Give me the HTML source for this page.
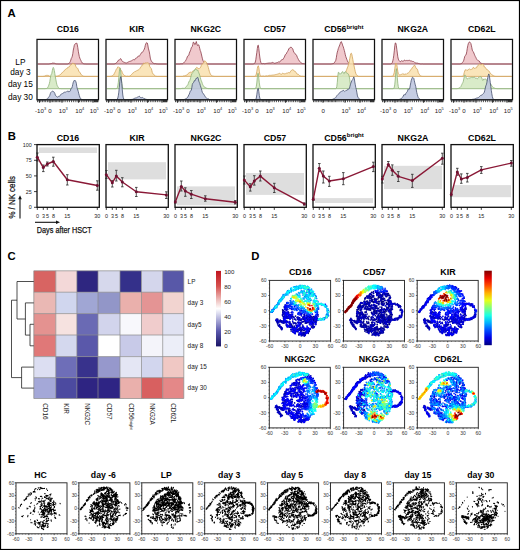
<!DOCTYPE html>
<html><head><meta charset="utf-8"><style>
html,body{margin:0;padding:0;background:#fff;}
svg{display:block;}
text{font-family:"Liberation Sans", sans-serif;}
</style></head><body>
<svg width="520" height="550" viewBox="0 0 520 550">
<rect x="0" y="0" width="520" height="550" fill="#fff"/>
<text x="7.6" y="17.4" font-size="11.3" font-weight="bold" text-anchor="start" >A</text>
<text x="7.8" y="140" font-size="11.3" font-weight="bold" text-anchor="start" >B</text>
<text x="7.6" y="259.6" font-size="11.3" font-weight="bold" text-anchor="start" >C</text>
<text x="251.3" y="260" font-size="11.3" font-weight="bold" text-anchor="start" >D</text>
<text x="7.8" y="462.6" font-size="11.3" font-weight="bold" text-anchor="start" >E</text>
<text x="20.4" y="64.5" font-size="8.3" font-weight="normal" text-anchor="middle" >LP</text>
<text x="20.4" y="74.8" font-size="8.3" font-weight="normal" text-anchor="middle" >day 3</text>
<text x="20.4" y="87.4" font-size="8.3" font-weight="normal" text-anchor="middle" >day 15</text>
<text x="20.4" y="99.7" font-size="8.3" font-weight="normal" text-anchor="middle" >day 30</text>
<text x="67.8" y="31.8" font-size="8.7" font-weight="bold" text-anchor="middle" >CD16</text>
<polygon points="37.8,64 37.8,64 38.3,64 38.8,64 39.3,64 39.8,64 40.3,64 40.8,64 41.3,64 41.8,64 42.3,64 42.8,64 43.3,64 43.8,64 44.3,64 44.8,64 45.3,64 45.8,64 46.3,64 46.8,64 47.3,64 47.8,64 48.3,64 48.8,64 49.3,63.9 49.8,63.8 50.3,63.7 50.8,63.7 51.3,63.6 51.8,63.4 52.3,63.2 52.8,63.1 53.3,63.2 53.8,63.1 54.3,63.2 54.8,63.4 55.3,63.6 55.8,63.8 56.3,63.9 56.8,63.9 57.3,63.9 57.8,64 58.3,64 58.8,64 59.3,64 59.8,64 60.3,64 60.8,64 61.3,64 61.8,64 62.3,64 62.8,64 63.3,64 63.8,64 64.3,64 64.8,64 65.3,64 65.8,64 66.3,64 66.8,64 67.3,64 67.8,63.9 68.3,63.7 68.8,63.4 69.3,62.9 69.8,62.6 70.3,61.5 70.8,60.1 71.3,58.4 71.8,57.6 72.3,56.2 72.8,53.7 73.3,50 73.8,47.8 74.3,45.3 74.8,44.3 75.3,43.7 75.8,43.6 76.3,43.1 76.8,43.1 77.3,44.9 77.8,47.7 78.3,51.2 78.8,54 79.3,56.5 79.8,58.1 80.3,59.3 80.8,60.2 81.3,61.5 81.8,62.3 82.3,63 82.8,63.2 83.3,63.6 83.8,63.8 84.3,63.9 84.8,63.9 85.3,63.9 85.8,64 86.3,64 86.8,64 87.3,64 87.8,64 88.3,64 88.8,64 89.3,64 89.8,64 90.3,64 90.8,64 91.3,64 91.8,64 92.3,64 92.8,64 93.3,64 93.8,64 94.3,64 94.8,64 95.3,64 95.8,64 96.3,64 96.8,64 97.3,64 97.8,64 97.8,64" fill="#edc0c4" fill-opacity="0.85" stroke="#8a3a48" stroke-width="0.8" stroke-linejoin="round"/>
<polygon points="37.8,76.4 37.8,76.4 38.3,76.4 38.8,76.4 39.3,76.4 39.8,76.4 40.3,76.4 40.8,76.4 41.3,76.4 41.8,76.4 42.3,76.4 42.8,76.4 43.3,76.3 43.8,76.3 44.3,76.2 44.8,76 45.3,75.7 45.8,75.5 46.3,75.4 46.8,75.4 47.3,75.4 47.8,75.4 48.3,75.5 48.8,75.6 49.3,76 49.8,76.4 50.3,76.4 50.8,76.4 51.3,76.4 51.8,76.4 52.3,76.3 52.8,76.3 53.3,76.4 53.8,76.3 54.3,76.2 54.8,76.2 55.3,76.2 55.8,76.3 56.3,76.3 56.8,76.1 57.3,76 57.8,76 58.3,75.8 58.8,75.6 59.3,75.3 59.8,75 60.3,74.5 60.8,74.2 61.3,73.8 61.8,73.1 62.3,72.4 62.8,72.2 63.3,71.8 63.8,71.3 64.3,70.4 64.8,70.2 65.3,69.5 65.8,69.1 66.3,68.7 66.8,68.8 67.3,68.3 67.8,67.3 68.3,67.1 68.8,67.2 69.3,66.9 69.8,66.1 70.3,65.2 70.8,64.5 71.3,64.4 71.8,64.3 72.3,63.7 72.8,62.9 73.3,63.5 73.8,64 74.3,63.9 74.8,63.9 75.3,64.8 75.8,66.3 76.3,67.4 76.8,68 77.3,68 77.8,68.6 78.3,69.8 78.8,71.3 79.3,71.9 79.8,72.2 80.3,73 80.8,74.1 81.3,74.7 81.8,75.1 82.3,75.5 82.8,75.8 83.3,76.1 83.8,76.3 84.3,76.3 84.8,76.4 85.3,76.4 85.8,76.4 86.3,76.4 86.8,76.4 87.3,76.4 87.8,76.4 88.3,76.4 88.8,76.4 89.3,76.4 89.8,76.4 90.3,76.4 90.8,76.4 91.3,76.4 91.8,76.4 92.3,76.4 92.8,76.4 93.3,76.4 93.8,76.4 94.3,76.4 94.8,76.4 95.3,76.4 95.8,76.4 96.3,76.4 96.8,76.4 97.3,76.4 97.8,76.4 97.8,76.4" fill="#f9e0ae" fill-opacity="0.85" stroke="#d2a25a" stroke-width="0.8" stroke-linejoin="round"/>
<polygon points="37.8,88.7 37.8,88.7 38.3,88.7 38.8,88.7 39.3,88.7 39.8,88.7 40.3,88.7 40.8,88.7 41.3,88.7 41.8,88.7 42.3,88.7 42.8,88.7 43.3,88.7 43.8,88.7 44.3,88.7 44.8,88.7 45.3,88.6 45.8,88.6 46.3,88.5 46.8,88.4 47.3,88 47.8,87.4 48.3,86.4 48.8,85.2 49.3,83.7 49.8,81.6 50.3,78.4 50.8,75.6 51.3,74.3 51.8,73.4 52.3,70.6 52.8,68.4 53.3,67.4 53.8,68.5 54.3,70.5 54.8,73.5 55.3,76.7 55.8,79.3 56.3,82.1 56.8,84.3 57.3,85.9 57.8,86.6 58.3,87.4 58.8,88.1 59.3,88.5 59.8,88.6 60.3,88.6 60.8,88.6 61.3,88.7 61.8,88.7 62.3,88.7 62.8,88.7 63.3,88.7 63.8,88.7 64.3,88.7 64.8,88.7 65.3,88.7 65.8,88.7 66.3,88.7 66.8,88.7 67.3,88.7 67.8,88.7 68.3,88.7 68.8,88.7 69.3,88.7 69.8,88.7 70.3,88.7 70.8,88.7 71.3,88.7 71.8,88.7 72.3,88.7 72.8,88.7 73.3,88.7 73.8,88.7 74.3,88.7 74.8,88.7 75.3,88.7 75.8,88.7 76.3,88.7 76.8,88.7 77.3,88.7 77.8,88.7 78.3,88.7 78.8,88.7 79.3,88.7 79.8,88.7 80.3,88.7 80.8,88.7 81.3,88.7 81.8,88.7 82.3,88.7 82.8,88.7 83.3,88.7 83.8,88.7 84.3,88.7 84.8,88.7 85.3,88.7 85.8,88.7 86.3,88.7 86.8,88.7 87.3,88.7 87.8,88.7 88.3,88.7 88.8,88.7 89.3,88.7 89.8,88.7 90.3,88.7 90.8,88.7 91.3,88.7 91.8,88.7 92.3,88.7 92.8,88.7 93.3,88.7 93.8,88.7 94.3,88.7 94.8,88.7 95.3,88.7 95.8,88.7 96.3,88.7 96.8,88.7 97.3,88.7 97.8,88.7 97.8,88.7" fill="#d2e8c0" fill-opacity="0.85" stroke="#8fb27a" stroke-width="0.8" stroke-linejoin="round"/>
<polygon points="37.8,99.8 37.8,99.8 38.3,99.8 38.8,99.8 39.3,99.8 39.8,99.8 40.3,99.8 40.8,99.8 41.3,99.8 41.8,99.8 42.3,99.8 42.8,99.8 43.3,99.8 43.8,99.8 44.3,99.8 44.8,99.8 45.3,99.7 45.8,99.6 46.3,99.4 46.8,99.2 47.3,98.9 47.8,98.4 48.3,97.6 48.8,96.9 49.3,96.4 49.8,95.4 50.3,93.7 50.8,92.5 51.3,92 51.8,91.5 52.3,91.2 52.8,91.4 53.3,91.6 53.8,91.7 54.3,92.4 54.8,93.3 55.3,95 55.8,95.8 56.3,96.4 56.8,96.7 57.3,97.1 57.8,96.8 58.3,96.4 58.8,96.6 59.3,96.5 59.8,96 60.3,95.1 60.8,94.5 61.3,94 61.8,93.7 62.3,93.5 62.8,93.5 63.3,93.3 63.8,92.5 64.3,92 64.8,92.1 65.3,92 65.8,92.4 66.3,92 66.8,91.5 67.3,91.2 67.8,91.5 68.3,91.8 68.8,91.1 69.3,91.4 69.8,91.5 70.3,90.9 70.8,89 71.3,88.4 71.8,88 72.3,86.6 72.8,84.3 73.3,82.1 73.8,81.2 74.3,80.3 74.8,81.1 75.3,80.6 75.8,81.6 76.3,83.2 76.8,86.7 77.3,88.5 77.8,90 78.3,91.6 78.8,93.8 79.3,95.5 79.8,97.1 80.3,98.3 80.8,99 81.3,99.2 81.8,99.4 82.3,99.6 82.8,99.8 83.3,99.8 83.8,99.8 84.3,99.8 84.8,99.8 85.3,99.8 85.8,99.8 86.3,99.8 86.8,99.8 87.3,99.8 87.8,99.8 88.3,99.8 88.8,99.8 89.3,99.8 89.8,99.8 90.3,99.8 90.8,99.8 91.3,99.8 91.8,99.8 92.3,99.8 92.8,99.8 93.3,99.8 93.8,99.8 94.3,99.8 94.8,99.8 95.3,99.8 95.8,99.8 96.3,99.8 96.8,99.8 97.3,99.8 97.8,99.8 97.8,99.8" fill="#bcc4de" fill-opacity="0.85" stroke="#46506e" stroke-width="0.8" stroke-linejoin="round"/>
<rect x="37" y="39.4" width="61.5" height="60.4" fill="none" stroke="#111" stroke-width="1.25"/>
<path d="M39.5 100.2v2.6M50 100.2v2.6M62 100.2v2.6M78.5 100.2v2.6M93 100.2v2.6M37.5 100.2v2M39.1 100.2v2M40.8 100.2v2M42.4 100.2v2M44.1 100.2v2M45.7 100.2v2M47.4 100.2v2M49 100.2v2M51 100.2v2M52.4 100.2v2M53.9 100.2v2M55.3 100.2v2M56.7 100.2v2M58.1 100.2v2M59.6 100.2v2M61 100.2v2M63 100.2v2M65.1 100.2v2M67.3 100.2v2M69.4 100.2v2M71.6 100.2v2M73.7 100.2v2M75.9 100.2v2M78 100.2v2M79.5 100.2v2M81.3 100.2v2M83.1 100.2v2M84.9 100.2v2M86.6 100.2v2M88.4 100.2v2M90.2 100.2v2M92 100.2v2M94 100.2v2M94.6 100.2v2M95.1 100.2v2M95.7 100.2v2M96.3 100.2v2M96.9 100.2v2M97.4 100.2v2M98 100.2v2" stroke="#111" stroke-width="0.75" fill="none"/>
<text x="40.6" y="112.5" font-size="6.1" font-weight="normal" text-anchor="middle" fill="#222">-10<tspan font-size="3.9" dy="-2.2">3</tspan></text>
<text x="50" y="112.5" font-size="6.1" font-weight="normal" text-anchor="middle" fill="#222">0</text>
<text x="63.3" y="112.5" font-size="6.1" font-weight="normal" text-anchor="middle" fill="#222">10<tspan font-size="3.9" dy="-2.2">3</tspan></text>
<text x="79.8" y="112.5" font-size="6.1" font-weight="normal" text-anchor="middle" fill="#222">10<tspan font-size="3.9" dy="-2.2">4</tspan></text>
<text x="94.3" y="112.5" font-size="6.1" font-weight="normal" text-anchor="middle" fill="#222">10<tspan font-size="3.9" dy="-2.2">5</tspan></text>
<text x="136.8" y="31.8" font-size="8.7" font-weight="bold" text-anchor="middle" >KIR</text>
<polygon points="106.8,64 106.8,64 107.3,64 107.8,64 108.3,64 108.8,64 109.3,64 109.8,64 110.3,64 110.8,64 111.3,64 111.8,64 112.3,64 112.8,64 113.3,64 113.8,64 114.3,63.9 114.8,63.8 115.3,63.6 115.8,63.3 116.3,62.7 116.8,62.5 117.3,62.1 117.8,61.2 118.3,60.3 118.8,60.1 119.3,60.1 119.8,59.5 120.3,58.7 120.8,58.7 121.3,59.4 121.8,60.6 122.3,61.3 122.8,61.7 123.3,61.9 123.8,62.1 124.3,62.3 124.8,62.6 125.3,62.8 125.8,62.8 126.3,62.9 126.8,62.9 127.3,62.6 127.8,62.2 128.3,62 128.8,61.7 129.3,61.5 129.8,61.4 130.3,61.3 130.8,61 131.3,60.8 131.8,60.7 132.3,60.3 132.8,59.9 133.3,59.6 133.8,59.7 134.3,59.8 134.8,59.7 135.3,58.7 135.8,58.1 136.3,58 136.8,58 137.3,57.4 137.8,56.4 138.3,56 138.8,56.4 139.3,56.3 139.8,55.4 140.3,54.6 140.8,54 141.3,53 141.8,52.4 142.3,52.4 142.8,51.8 143.3,50.8 143.8,50.2 144.3,49.1 144.8,47.6 145.3,45.3 145.8,43.9 146.3,42.8 146.8,42.6 147.3,43 147.8,45 148.3,48.1 148.8,50 149.3,51.9 149.8,54.8 150.3,58.1 150.8,59.9 151.3,60.9 151.8,61.7 152.3,62.3 152.8,62.7 153.3,63.1 153.8,63.4 154.3,63.6 154.8,63.7 155.3,63.6 155.8,63.7 156.3,63.8 156.8,63.9 157.3,63.9 157.8,64 158.3,64 158.8,64 159.3,64 159.8,64 160.3,64 160.8,64 161.3,64 161.8,64 162.3,64 162.8,64 163.3,64 163.8,64 164.3,64 164.8,64 165.3,64 165.8,64 166.3,64 166.8,64 166.8,64" fill="#edc0c4" fill-opacity="0.85" stroke="#8a3a48" stroke-width="0.8" stroke-linejoin="round"/>
<polygon points="106.8,76.4 106.8,76.4 107.3,76.4 107.8,76.4 108.3,76.4 108.8,76.4 109.3,76.4 109.8,76.4 110.3,76.3 110.8,76.3 111.3,76.2 111.8,76 112.3,75.7 112.8,75.5 113.3,75.1 113.8,74.5 114.3,73.5 114.8,72.5 115.3,71.6 115.8,70.4 116.3,69.3 116.8,68.7 117.3,67.9 117.8,66.9 118.3,66.8 118.8,67.3 119.3,67.4 119.8,67.8 120.3,69 120.8,70 121.3,70.4 121.8,71.2 122.3,72.6 122.8,73.7 123.3,74.3 123.8,74.8 124.3,75.4 124.8,75.7 125.3,75.9 125.8,76.2 126.3,76.3 126.8,76.3 127.3,76.2 127.8,76.2 128.3,76.3 128.8,76.3 129.3,76.2 129.8,76.1 130.3,75.7 130.8,75.3 131.3,74.8 131.8,74.2 132.3,73.6 132.8,73.2 133.3,72.6 133.8,72.5 134.3,72.1 134.8,71.6 135.3,71.4 135.8,71.4 136.3,71.2 136.8,70.5 137.3,70.4 137.8,70.2 138.3,70 138.8,69.7 139.3,69.2 139.8,68.6 140.3,67.6 140.8,67.3 141.3,66.4 141.8,65.6 142.3,65 142.8,64.8 143.3,64.1 143.8,62.9 144.3,63.3 144.8,63.5 145.3,63.4 145.8,62.6 146.3,63.2 146.8,62.8 147.3,62.9 147.8,62.7 148.3,62.8 148.8,63.4 149.3,64.9 149.8,66.7 150.3,67.4 150.8,68.1 151.3,68.5 151.8,70.4 152.3,72.5 152.8,73.7 153.3,73.9 153.8,74.5 154.3,75.3 154.8,75.8 155.3,76 155.8,76.2 156.3,76.3 156.8,76.3 157.3,76.4 157.8,76.4 158.3,76.4 158.8,76.4 159.3,76.4 159.8,76.4 160.3,76.4 160.8,76.4 161.3,76.4 161.8,76.4 162.3,76.4 162.8,76.4 163.3,76.4 163.8,76.4 164.3,76.4 164.8,76.4 165.3,76.4 165.8,76.4 166.3,76.4 166.8,76.4 166.8,76.4" fill="#f9e0ae" fill-opacity="0.85" stroke="#d2a25a" stroke-width="0.8" stroke-linejoin="round"/>
<polygon points="106.8,88.7 106.8,88.7 107.3,88.7 107.8,88.7 108.3,88.7 108.8,88.7 109.3,88.7 109.8,88.7 110.3,88.7 110.8,88.7 111.3,88.7 111.8,88.7 112.3,88.7 112.8,88.7 113.3,88.7 113.8,88.7 114.3,88.7 114.8,88.7 115.3,88.7 115.8,88.7 116.3,88.6 116.8,88.3 117.3,87.7 117.8,86 118.3,82.5 118.8,77.4 119.3,71.9 119.8,68.4 120.3,68.2 120.8,72.8 121.3,78.2 121.8,83.3 122.3,86.4 122.8,88.1 123.3,88.6 123.8,88.7 124.3,88.7 124.8,88.7 125.3,88.7 125.8,88.7 126.3,88.7 126.8,88.7 127.3,88.7 127.8,88.7 128.3,88.7 128.8,88.7 129.3,88.7 129.8,88.7 130.3,88.7 130.8,88.7 131.3,88.7 131.8,88.7 132.3,88.7 132.8,88.7 133.3,88.7 133.8,88.7 134.3,88.7 134.8,88.7 135.3,88.7 135.8,88.7 136.3,88.7 136.8,88.7 137.3,88.7 137.8,88.7 138.3,88.7 138.8,88.7 139.3,88.7 139.8,88.7 140.3,88.7 140.8,88.7 141.3,88.7 141.8,88.7 142.3,88.7 142.8,88.7 143.3,88.7 143.8,88.7 144.3,88.7 144.8,88.7 145.3,88.7 145.8,88.7 146.3,88.7 146.8,88.7 147.3,88.7 147.8,88.7 148.3,88.7 148.8,88.7 149.3,88.7 149.8,88.7 150.3,88.7 150.8,88.7 151.3,88.7 151.8,88.7 152.3,88.7 152.8,88.7 153.3,88.7 153.8,88.7 154.3,88.7 154.8,88.7 155.3,88.7 155.8,88.7 156.3,88.7 156.8,88.7 157.3,88.7 157.8,88.7 158.3,88.7 158.8,88.7 159.3,88.7 159.8,88.7 160.3,88.7 160.8,88.7 161.3,88.7 161.8,88.7 162.3,88.7 162.8,88.7 163.3,88.7 163.8,88.7 164.3,88.7 164.8,88.7 165.3,88.7 165.8,88.7 166.3,88.7 166.8,88.7 166.8,88.7" fill="#d2e8c0" fill-opacity="0.85" stroke="#8fb27a" stroke-width="0.8" stroke-linejoin="round"/>
<polygon points="106.8,99.8 106.8,99.8 107.3,99.8 107.8,99.8 108.3,99.8 108.8,99.8 109.3,99.8 109.8,99.8 110.3,99.8 110.8,99.8 111.3,99.8 111.8,99.8 112.3,99.8 112.8,99.8 113.3,99.8 113.8,99.8 114.3,99.8 114.8,99.8 115.3,99.8 115.8,99.8 116.3,99.7 116.8,99.6 117.3,99.1 117.8,98 118.3,95.8 118.8,92.2 119.3,87.4 119.8,81.4 120.3,77.9 120.8,76.6 121.3,79 121.8,83.5 122.3,89.8 122.8,95 123.3,97.8 123.8,99 124.3,99.4 124.8,99.7 125.3,99.8 125.8,99.8 126.3,99.8 126.8,99.8 127.3,99.8 127.8,99.8 128.3,99.8 128.8,99.7 129.3,99.7 129.8,99.7 130.3,99.7 130.8,99.6 131.3,99.5 131.8,99.4 132.3,99.4 132.8,99.2 133.3,99 133.8,98.7 134.3,98.5 134.8,98.1 135.3,98 135.8,97.9 136.3,97.9 136.8,97.5 137.3,97.2 137.8,97.1 138.3,96.9 138.8,96.4 139.3,96.1 139.8,96.8 140.3,97.4 140.8,97.7 141.3,97.6 141.8,97.7 142.3,97.5 142.8,97.5 143.3,97.9 143.8,98.4 144.3,98.5 144.8,98.7 145.3,99 145.8,99.2 146.3,99.3 146.8,99.5 147.3,99.7 147.8,99.7 148.3,99.6 148.8,99.7 149.3,99.8 149.8,99.8 150.3,99.8 150.8,99.8 151.3,99.8 151.8,99.8 152.3,99.8 152.8,99.8 153.3,99.8 153.8,99.8 154.3,99.8 154.8,99.8 155.3,99.8 155.8,99.8 156.3,99.8 156.8,99.8 157.3,99.8 157.8,99.8 158.3,99.8 158.8,99.8 159.3,99.8 159.8,99.8 160.3,99.8 160.8,99.8 161.3,99.8 161.8,99.8 162.3,99.8 162.8,99.8 163.3,99.8 163.8,99.8 164.3,99.8 164.8,99.8 165.3,99.8 165.8,99.8 166.3,99.8 166.8,99.8 166.8,99.8" fill="#bcc4de" fill-opacity="0.85" stroke="#46506e" stroke-width="0.8" stroke-linejoin="round"/>
<rect x="106" y="39.4" width="61.5" height="60.4" fill="none" stroke="#111" stroke-width="1.25"/>
<path d="M108.5 100.2v2.6M119 100.2v2.6M131 100.2v2.6M147.5 100.2v2.6M162 100.2v2.6M106.5 100.2v2M108.1 100.2v2M109.8 100.2v2M111.4 100.2v2M113.1 100.2v2M114.7 100.2v2M116.4 100.2v2M118 100.2v2M120 100.2v2M121.4 100.2v2M122.9 100.2v2M124.3 100.2v2M125.7 100.2v2M127.1 100.2v2M128.6 100.2v2M130 100.2v2M132 100.2v2M134.1 100.2v2M136.3 100.2v2M138.4 100.2v2M140.6 100.2v2M142.7 100.2v2M144.9 100.2v2M147 100.2v2M148.5 100.2v2M150.3 100.2v2M152.1 100.2v2M153.9 100.2v2M155.6 100.2v2M157.4 100.2v2M159.2 100.2v2M161 100.2v2M163 100.2v2M163.6 100.2v2M164.1 100.2v2M164.7 100.2v2M165.3 100.2v2M165.9 100.2v2M166.4 100.2v2M167 100.2v2" stroke="#111" stroke-width="0.75" fill="none"/>
<text x="109.6" y="112.5" font-size="6.1" font-weight="normal" text-anchor="middle" fill="#222">-10<tspan font-size="3.9" dy="-2.2">3</tspan></text>
<text x="119" y="112.5" font-size="6.1" font-weight="normal" text-anchor="middle" fill="#222">0</text>
<text x="132.3" y="112.5" font-size="6.1" font-weight="normal" text-anchor="middle" fill="#222">10<tspan font-size="3.9" dy="-2.2">3</tspan></text>
<text x="148.8" y="112.5" font-size="6.1" font-weight="normal" text-anchor="middle" fill="#222">10<tspan font-size="3.9" dy="-2.2">4</tspan></text>
<text x="163.3" y="112.5" font-size="6.1" font-weight="normal" text-anchor="middle" fill="#222">10<tspan font-size="3.9" dy="-2.2">5</tspan></text>
<text x="205.8" y="31.8" font-size="8.7" font-weight="bold" text-anchor="middle" >NKG2C</text>
<polygon points="175.8,64 175.8,64 176.3,64 176.8,64 177.3,64 177.8,64 178.3,64 178.8,64 179.3,64 179.8,64 180.3,63.9 180.8,63.8 181.3,63.8 181.8,63.8 182.3,63.8 182.8,63.6 183.3,63.2 183.8,62.6 184.3,62.1 184.8,61.7 185.3,61.3 185.8,60.3 186.3,59.4 186.8,58.3 187.3,56.8 187.8,55.9 188.3,55.7 188.8,55.3 189.3,53.2 189.8,52 190.3,50.9 190.8,49.5 191.3,47.6 191.8,47.3 192.3,46.4 192.8,44.4 193.3,42.1 193.8,42.4 194.3,43.2 194.8,44.6 195.3,44.3 195.8,43 196.3,41.5 196.8,43.5 197.3,45.3 197.8,45.5 198.3,44.8 198.8,44.9 199.3,46.6 199.8,48.7 200.3,50.7 200.8,51.8 201.3,53.9 201.8,56.1 202.3,58.2 202.8,60.1 203.3,61.3 203.8,62.2 204.3,62.9 204.8,63.4 205.3,63.4 205.8,63.4 206.3,63.5 206.8,63.7 207.3,63.9 207.8,64 208.3,64 208.8,64 209.3,64 209.8,64 210.3,64 210.8,64 211.3,64 211.8,64 212.3,64 212.8,64 213.3,64 213.8,64 214.3,64 214.8,64 215.3,64 215.8,64 216.3,64 216.8,64 217.3,64 217.8,64 218.3,64 218.8,64 219.3,64 219.8,64 220.3,64 220.8,64 221.3,64 221.8,64 222.3,64 222.8,64 223.3,64 223.8,64 224.3,64 224.8,64 225.3,64 225.8,64 226.3,64 226.8,64 227.3,64 227.8,64 228.3,64 228.8,64 229.3,64 229.8,64 230.3,64 230.8,64 231.3,64 231.8,64 232.3,64 232.8,64 233.3,64 233.8,64 234.3,64 234.8,64 235.3,64 235.8,64 235.8,64" fill="#edc0c4" fill-opacity="0.85" stroke="#8a3a48" stroke-width="0.8" stroke-linejoin="round"/>
<polygon points="175.8,76.4 175.8,76.4 176.3,76.4 176.8,76.4 177.3,76.4 177.8,76.4 178.3,76.4 178.8,76.4 179.3,76.4 179.8,76.4 180.3,76.4 180.8,76.4 181.3,76.4 181.8,76.4 182.3,76.4 182.8,76.3 183.3,76 183.8,75.9 184.3,75.9 184.8,75.8 185.3,75.6 185.8,75.3 186.3,75.2 186.8,75 187.3,74.7 187.8,74 188.3,73.5 188.8,72.8 189.3,72.7 189.8,72.4 190.3,72.3 190.8,72.1 191.3,72.4 191.8,72.1 192.3,71.5 192.8,71.1 193.3,71 193.8,70.9 194.3,70.4 194.8,70 195.3,69.2 195.8,68.4 196.3,67.7 196.8,67.3 197.3,67.7 197.8,67.9 198.3,68.6 198.8,68.6 199.3,68.5 199.8,68 200.3,67.8 200.8,66.9 201.3,65.4 201.8,64.7 202.3,64 202.8,63.8 203.3,63 203.8,62.5 204.3,61 204.8,60.8 205.3,61.2 205.8,61.6 206.3,62.2 206.8,63.5 207.3,64.8 207.8,65.8 208.3,67.4 208.8,69.4 209.3,71.3 209.8,72.7 210.3,73.9 210.8,74.8 211.3,75.3 211.8,75.6 212.3,75.9 212.8,76.1 213.3,76.2 213.8,76.2 214.3,76.3 214.8,76.4 215.3,76.4 215.8,76.4 216.3,76.4 216.8,76.4 217.3,76.4 217.8,76.4 218.3,76.4 218.8,76.4 219.3,76.4 219.8,76.4 220.3,76.4 220.8,76.4 221.3,76.4 221.8,76.4 222.3,76.4 222.8,76.4 223.3,76.4 223.8,76.4 224.3,76.4 224.8,76.4 225.3,76.4 225.8,76.4 226.3,76.4 226.8,76.4 227.3,76.4 227.8,76.4 228.3,76.4 228.8,76.4 229.3,76.4 229.8,76.4 230.3,76.4 230.8,76.4 231.3,76.4 231.8,76.4 232.3,76.4 232.8,76.4 233.3,76.4 233.8,76.4 234.3,76.4 234.8,76.4 235.3,76.4 235.8,76.4 235.8,76.4" fill="#f9e0ae" fill-opacity="0.85" stroke="#d2a25a" stroke-width="0.8" stroke-linejoin="round"/>
<polygon points="175.8,88.7 175.8,88.7 176.3,88.7 176.8,88.7 177.3,88.7 177.8,88.7 178.3,88.7 178.8,88.7 179.3,88.6 179.8,88.7 180.3,88.7 180.8,88.6 181.3,88.5 181.8,88.4 182.3,88.3 182.8,88.3 183.3,88.3 183.8,88.4 184.3,88.4 184.8,88.1 185.3,87.6 185.8,87.2 186.3,86.6 186.8,86 187.3,85.3 187.8,84.8 188.3,83.5 188.8,82 189.3,81 189.8,80.7 190.3,78.9 190.8,77.2 191.3,75.3 191.8,73.8 192.3,73.2 192.8,72.5 193.3,71.6 193.8,70.5 194.3,70.8 194.8,70 195.3,69 195.8,68.7 196.3,69.7 196.8,70.1 197.3,70.2 197.8,70.1 198.3,71.5 198.8,72.8 199.3,74 199.8,75.6 200.3,77.5 200.8,79.4 201.3,80.7 201.8,81.9 202.3,83.5 202.8,84.8 203.3,85.6 203.8,86.3 204.3,87.1 204.8,87.3 205.3,87.4 205.8,87.7 206.3,88.1 206.8,88.2 207.3,88.4 207.8,88.5 208.3,88.6 208.8,88.6 209.3,88.6 209.8,88.6 210.3,88.6 210.8,88.6 211.3,88.6 211.8,88.6 212.3,88.7 212.8,88.7 213.3,88.7 213.8,88.7 214.3,88.7 214.8,88.7 215.3,88.7 215.8,88.7 216.3,88.7 216.8,88.7 217.3,88.7 217.8,88.7 218.3,88.7 218.8,88.7 219.3,88.7 219.8,88.7 220.3,88.7 220.8,88.7 221.3,88.7 221.8,88.7 222.3,88.7 222.8,88.7 223.3,88.7 223.8,88.7 224.3,88.7 224.8,88.7 225.3,88.7 225.8,88.7 226.3,88.7 226.8,88.7 227.3,88.7 227.8,88.7 228.3,88.7 228.8,88.7 229.3,88.7 229.8,88.7 230.3,88.7 230.8,88.7 231.3,88.7 231.8,88.7 232.3,88.7 232.8,88.7 233.3,88.7 233.8,88.7 234.3,88.7 234.8,88.7 235.3,88.7 235.8,88.7 235.8,88.7" fill="#d2e8c0" fill-opacity="0.85" stroke="#8fb27a" stroke-width="0.8" stroke-linejoin="round"/>
<polygon points="175.8,99.8 175.8,99.8 176.3,99.8 176.8,99.8 177.3,99.8 177.8,99.8 178.3,99.8 178.8,99.8 179.3,99.8 179.8,99.8 180.3,99.7 180.8,99.7 181.3,99.8 181.8,99.7 182.3,99.6 182.8,99.6 183.3,99.6 183.8,99.6 184.3,99.5 184.8,99.2 185.3,99 185.8,98.7 186.3,98.5 186.8,98.1 187.3,97.7 187.8,97 188.3,96 188.8,94.9 189.3,94.1 189.8,92.5 190.3,91 190.8,90.5 191.3,90.3 191.8,87.7 192.3,84.5 192.8,83.3 193.3,82.8 193.8,82.1 194.3,80.7 194.8,81 195.3,80 195.8,79.2 196.3,78.1 196.8,78.4 197.3,77.5 197.8,77.3 198.3,78.9 198.8,81.2 199.3,82.4 199.8,83.6 200.3,85.4 200.8,87 201.3,88.5 201.8,90.4 202.3,92.3 202.8,93 203.3,93.8 203.8,94.2 204.3,95.1 204.8,95.8 205.3,96.7 205.8,97.3 206.3,97.9 206.8,98.5 207.3,98.8 207.8,98.9 208.3,98.8 208.8,99.1 209.3,99.4 209.8,99.7 210.3,99.8 210.8,99.8 211.3,99.8 211.8,99.8 212.3,99.8 212.8,99.8 213.3,99.8 213.8,99.8 214.3,99.8 214.8,99.8 215.3,99.8 215.8,99.8 216.3,99.8 216.8,99.8 217.3,99.8 217.8,99.8 218.3,99.8 218.8,99.8 219.3,99.8 219.8,99.8 220.3,99.8 220.8,99.8 221.3,99.8 221.8,99.8 222.3,99.8 222.8,99.8 223.3,99.8 223.8,99.8 224.3,99.8 224.8,99.8 225.3,99.8 225.8,99.8 226.3,99.8 226.8,99.8 227.3,99.8 227.8,99.8 228.3,99.8 228.8,99.8 229.3,99.8 229.8,99.8 230.3,99.8 230.8,99.8 231.3,99.8 231.8,99.8 232.3,99.8 232.8,99.8 233.3,99.8 233.8,99.8 234.3,99.8 234.8,99.8 235.3,99.8 235.8,99.8 235.8,99.8" fill="#bcc4de" fill-opacity="0.85" stroke="#46506e" stroke-width="0.8" stroke-linejoin="round"/>
<rect x="175" y="39.4" width="61.5" height="60.4" fill="none" stroke="#111" stroke-width="1.25"/>
<path d="M177.5 100.2v2.6M188 100.2v2.6M200 100.2v2.6M216.5 100.2v2.6M231 100.2v2.6M175.5 100.2v2M177.1 100.2v2M178.8 100.2v2M180.4 100.2v2M182.1 100.2v2M183.7 100.2v2M185.4 100.2v2M187 100.2v2M189 100.2v2M190.4 100.2v2M191.9 100.2v2M193.3 100.2v2M194.7 100.2v2M196.1 100.2v2M197.6 100.2v2M199 100.2v2M201 100.2v2M203.1 100.2v2M205.3 100.2v2M207.4 100.2v2M209.6 100.2v2M211.7 100.2v2M213.9 100.2v2M216 100.2v2M217.5 100.2v2M219.3 100.2v2M221.1 100.2v2M222.9 100.2v2M224.6 100.2v2M226.4 100.2v2M228.2 100.2v2M230 100.2v2M232 100.2v2M232.6 100.2v2M233.1 100.2v2M233.7 100.2v2M234.3 100.2v2M234.9 100.2v2M235.4 100.2v2M236 100.2v2" stroke="#111" stroke-width="0.75" fill="none"/>
<text x="178.6" y="112.5" font-size="6.1" font-weight="normal" text-anchor="middle" fill="#222">-10<tspan font-size="3.9" dy="-2.2">3</tspan></text>
<text x="188" y="112.5" font-size="6.1" font-weight="normal" text-anchor="middle" fill="#222">0</text>
<text x="201.3" y="112.5" font-size="6.1" font-weight="normal" text-anchor="middle" fill="#222">10<tspan font-size="3.9" dy="-2.2">3</tspan></text>
<text x="217.8" y="112.5" font-size="6.1" font-weight="normal" text-anchor="middle" fill="#222">10<tspan font-size="3.9" dy="-2.2">4</tspan></text>
<text x="232.3" y="112.5" font-size="6.1" font-weight="normal" text-anchor="middle" fill="#222">10<tspan font-size="3.9" dy="-2.2">5</tspan></text>
<text x="274.8" y="31.8" font-size="8.7" font-weight="bold" text-anchor="middle" >CD57</text>
<polygon points="244.8,64 244.8,64 245.3,64 245.8,64 246.3,64 246.8,64 247.3,64 247.8,64 248.3,64 248.8,64 249.3,64 249.8,64 250.3,64 250.8,64 251.3,64 251.8,64 252.3,64 252.8,64 253.3,63.9 253.8,63.8 254.3,63.7 254.8,63.2 255.3,62 255.8,59.8 256.3,56.1 256.8,52.6 257.3,48.6 257.8,45.5 258.3,45.2 258.8,48.4 259.3,53.1 259.8,57 260.3,60.3 260.8,62.3 261.3,63.4 261.8,63.7 262.3,63.7 262.8,63.6 263.3,63.5 263.8,63.6 264.3,63.7 264.8,63.8 265.3,63.7 265.8,63.5 266.3,63.4 266.8,63.4 267.3,63.3 267.8,63.2 268.3,63.1 268.8,63.1 269.3,63 269.8,63 270.3,63 270.8,63 271.3,62.8 271.8,62.8 272.3,62.5 272.8,62.4 273.3,62.6 273.8,63.1 274.3,63.2 274.8,63.3 275.3,63.1 275.8,63 276.3,62.7 276.8,62.8 277.3,62.6 277.8,62.3 278.3,61.9 278.8,62 279.3,62.1 279.8,62 280.3,61.2 280.8,60.7 281.3,60 281.8,59.6 282.3,59.5 282.8,59.7 283.3,58.8 283.8,58 284.3,57.2 284.8,56 285.3,54.6 285.8,54.3 286.3,53.9 286.8,52.6 287.3,51.8 287.8,51.2 288.3,50.1 288.8,48.7 289.3,48.5 289.8,47.8 290.3,47.6 290.8,46.9 291.3,47.6 291.8,47.7 292.3,48.3 292.8,48.9 293.3,50.8 293.8,52.1 294.3,52.7 294.8,53.3 295.3,54.2 295.8,54.3 296.3,54.9 296.8,55.8 297.3,57.3 297.8,58.2 298.3,59.3 298.8,60.2 299.3,61 299.8,61.3 300.3,62 300.8,62.6 301.3,63 301.8,63.2 302.3,63.5 302.8,63.6 303.3,63.6 303.8,63.7 304.3,63.8 304.8,63.9 304.8,64" fill="#edc0c4" fill-opacity="0.85" stroke="#8a3a48" stroke-width="0.8" stroke-linejoin="round"/>
<polygon points="244.8,76.4 244.8,76.4 245.3,76.4 245.8,76.4 246.3,76.4 246.8,76.4 247.3,76.4 247.8,76.4 248.3,76.4 248.8,76.4 249.3,76.4 249.8,76.4 250.3,76.4 250.8,76.4 251.3,76.4 251.8,76.4 252.3,76.4 252.8,76.4 253.3,76.4 253.8,76.4 254.3,76.4 254.8,76.3 255.3,76.1 255.8,75.5 256.3,74.1 256.8,71.6 257.3,68.5 257.8,66.4 258.3,65.7 258.8,67.6 259.3,71.2 259.8,74.2 260.3,75.7 260.8,76.1 261.3,76.2 261.8,76.1 262.3,76.1 262.8,76.1 263.3,76 263.8,76.1 264.3,76.2 264.8,76.3 265.3,76.1 265.8,75.9 266.3,75.8 266.8,75.9 267.3,75.9 267.8,76 268.3,75.7 268.8,75.4 269.3,75.3 269.8,75.4 270.3,75.4 270.8,75.3 271.3,75.3 271.8,75.2 272.3,75.2 272.8,75 273.3,75 273.8,75 274.3,74.9 274.8,74.8 275.3,74.6 275.8,74.6 276.3,74.4 276.8,74.4 277.3,74.2 277.8,74 278.3,73.8 278.8,73.7 279.3,73.4 279.8,73.2 280.3,73.8 280.8,74.4 281.3,74.5 281.8,73.8 282.3,73.3 282.8,73.2 283.3,73.5 283.8,73.7 284.3,73.8 284.8,73.8 285.3,73.7 285.8,73.6 286.3,73.3 286.8,73.1 287.3,73.1 287.8,72.9 288.3,72.6 288.8,72.6 289.3,72.8 289.8,72.7 290.3,71.8 290.8,71 291.3,70.4 291.8,70.2 292.3,69.9 292.8,69.6 293.3,69.8 293.8,70.7 294.3,71.1 294.8,71.2 295.3,71.4 295.8,72.1 296.3,72.9 296.8,73.8 297.3,74.1 297.8,74.1 298.3,74.3 298.8,74.8 299.3,75.3 299.8,75.7 300.3,75.9 300.8,76.1 301.3,76.2 301.8,76.3 302.3,76.2 302.8,76.3 303.3,76.3 303.8,76.4 304.3,76.4 304.8,76.4 304.8,76.4" fill="#f9e0ae" fill-opacity="0.85" stroke="#d2a25a" stroke-width="0.8" stroke-linejoin="round"/>
<polygon points="244.8,88.7 244.8,88.7 245.3,88.7 245.8,88.7 246.3,88.7 246.8,88.7 247.3,88.7 247.8,88.7 248.3,88.7 248.8,88.7 249.3,88.7 249.8,88.7 250.3,88.7 250.8,88.7 251.3,88.7 251.8,88.7 252.3,88.7 252.8,88.7 253.3,88.7 253.8,88.7 254.3,88.7 254.8,88.7 255.3,88.5 255.8,88 256.3,86.4 256.8,83 257.3,77.7 257.8,73.4 258.3,73.4 258.8,78.1 259.3,82.8 259.8,86.1 260.3,87.7 260.8,88.5 261.3,88.7 261.8,88.7 262.3,88.7 262.8,88.7 263.3,88.7 263.8,88.7 264.3,88.7 264.8,88.7 265.3,88.7 265.8,88.7 266.3,88.7 266.8,88.7 267.3,88.7 267.8,88.7 268.3,88.7 268.8,88.7 269.3,88.7 269.8,88.7 270.3,88.7 270.8,88.7 271.3,88.7 271.8,88.7 272.3,88.7 272.8,88.7 273.3,88.7 273.8,88.7 274.3,88.7 274.8,88.7 275.3,88.7 275.8,88.7 276.3,88.7 276.8,88.7 277.3,88.7 277.8,88.7 278.3,88.7 278.8,88.7 279.3,88.7 279.8,88.7 280.3,88.7 280.8,88.7 281.3,88.7 281.8,88.7 282.3,88.7 282.8,88.7 283.3,88.7 283.8,88.7 284.3,88.7 284.8,88.7 285.3,88.7 285.8,88.7 286.3,88.7 286.8,88.7 287.3,88.7 287.8,88.7 288.3,88.7 288.8,88.7 289.3,88.7 289.8,88.7 290.3,88.7 290.8,88.7 291.3,88.7 291.8,88.7 292.3,88.7 292.8,88.7 293.3,88.7 293.8,88.7 294.3,88.7 294.8,88.7 295.3,88.7 295.8,88.7 296.3,88.7 296.8,88.7 297.3,88.7 297.8,88.7 298.3,88.7 298.8,88.7 299.3,88.7 299.8,88.7 300.3,88.7 300.8,88.7 301.3,88.7 301.8,88.7 302.3,88.7 302.8,88.7 303.3,88.7 303.8,88.7 304.3,88.7 304.8,88.7 304.8,88.7" fill="#d2e8c0" fill-opacity="0.85" stroke="#8fb27a" stroke-width="0.8" stroke-linejoin="round"/>
<polygon points="244.8,99.8 244.8,99.8 245.3,99.8 245.8,99.8 246.3,99.8 246.8,99.8 247.3,99.8 247.8,99.8 248.3,99.8 248.8,99.8 249.3,99.8 249.8,99.8 250.3,99.8 250.8,99.8 251.3,99.8 251.8,99.8 252.3,99.8 252.8,99.8 253.3,99.8 253.8,99.8 254.3,99.8 254.8,99.8 255.3,99.7 255.8,99.4 256.3,98 256.8,94.8 257.3,91 257.8,88.7 258.3,88.3 258.8,91.4 259.3,95.4 259.8,98.1 260.3,99.2 260.8,99.7 261.3,99.8 261.8,99.8 262.3,99.8 262.8,99.8 263.3,99.8 263.8,99.8 264.3,99.8 264.8,99.8 265.3,99.8 265.8,99.8 266.3,99.8 266.8,99.8 267.3,99.8 267.8,99.8 268.3,99.8 268.8,99.8 269.3,99.8 269.8,99.8 270.3,99.8 270.8,99.8 271.3,99.8 271.8,99.8 272.3,99.8 272.8,99.8 273.3,99.8 273.8,99.8 274.3,99.8 274.8,99.8 275.3,99.8 275.8,99.8 276.3,99.8 276.8,99.8 277.3,99.8 277.8,99.8 278.3,99.8 278.8,99.8 279.3,99.8 279.8,99.8 280.3,99.8 280.8,99.8 281.3,99.8 281.8,99.8 282.3,99.8 282.8,99.8 283.3,99.8 283.8,99.8 284.3,99.8 284.8,99.8 285.3,99.8 285.8,99.8 286.3,99.8 286.8,99.8 287.3,99.8 287.8,99.8 288.3,99.8 288.8,99.8 289.3,99.8 289.8,99.8 290.3,99.8 290.8,99.8 291.3,99.8 291.8,99.8 292.3,99.8 292.8,99.8 293.3,99.8 293.8,99.8 294.3,99.8 294.8,99.8 295.3,99.8 295.8,99.8 296.3,99.8 296.8,99.8 297.3,99.8 297.8,99.8 298.3,99.8 298.8,99.8 299.3,99.8 299.8,99.8 300.3,99.8 300.8,99.8 301.3,99.8 301.8,99.8 302.3,99.8 302.8,99.8 303.3,99.8 303.8,99.8 304.3,99.8 304.8,99.8 304.8,99.8" fill="#bcc4de" fill-opacity="0.85" stroke="#46506e" stroke-width="0.8" stroke-linejoin="round"/>
<rect x="244" y="39.4" width="61.5" height="60.4" fill="none" stroke="#111" stroke-width="1.25"/>
<path d="M246.5 100.2v2.6M257 100.2v2.6M269 100.2v2.6M285.5 100.2v2.6M300 100.2v2.6M244.5 100.2v2M246.1 100.2v2M247.8 100.2v2M249.4 100.2v2M251.1 100.2v2M252.7 100.2v2M254.4 100.2v2M256 100.2v2M258 100.2v2M259.4 100.2v2M260.9 100.2v2M262.3 100.2v2M263.7 100.2v2M265.1 100.2v2M266.6 100.2v2M268 100.2v2M270 100.2v2M272.1 100.2v2M274.3 100.2v2M276.4 100.2v2M278.6 100.2v2M280.7 100.2v2M282.9 100.2v2M285 100.2v2M286.5 100.2v2M288.3 100.2v2M290.1 100.2v2M291.9 100.2v2M293.6 100.2v2M295.4 100.2v2M297.2 100.2v2M299 100.2v2M301 100.2v2M301.6 100.2v2M302.1 100.2v2M302.7 100.2v2M303.3 100.2v2M303.9 100.2v2M304.4 100.2v2M305 100.2v2" stroke="#111" stroke-width="0.75" fill="none"/>
<text x="247.6" y="112.5" font-size="6.1" font-weight="normal" text-anchor="middle" fill="#222">-10<tspan font-size="3.9" dy="-2.2">3</tspan></text>
<text x="257" y="112.5" font-size="6.1" font-weight="normal" text-anchor="middle" fill="#222">0</text>
<text x="270.3" y="112.5" font-size="6.1" font-weight="normal" text-anchor="middle" fill="#222">10<tspan font-size="3.9" dy="-2.2">3</tspan></text>
<text x="286.8" y="112.5" font-size="6.1" font-weight="normal" text-anchor="middle" fill="#222">10<tspan font-size="3.9" dy="-2.2">4</tspan></text>
<text x="301.3" y="112.5" font-size="6.1" font-weight="normal" text-anchor="middle" fill="#222">10<tspan font-size="3.9" dy="-2.2">5</tspan></text>
<text x="343.8" y="31.8" font-size="8.7" font-weight="bold" text-anchor="middle" >CD56<tspan font-size="6" dy="-3.3">bright</tspan></text>
<polygon points="313.8,64 313.8,64 314.3,64 314.8,64 315.3,64 315.8,64 316.3,64 316.8,64 317.3,64 317.8,64 318.3,64 318.8,64 319.3,64 319.8,64 320.3,64 320.8,64 321.3,64 321.8,64 322.3,64 322.8,64 323.3,64 323.8,64 324.3,64 324.8,64 325.3,64 325.8,64 326.3,64 326.8,64 327.3,64 327.8,64 328.3,64 328.8,64 329.3,64 329.8,64 330.3,64 330.8,64 331.3,63.9 331.8,63.9 332.3,63.8 332.8,63.6 333.3,63.5 333.8,63.3 334.3,62.8 334.8,61.9 335.3,61.3 335.8,60.3 336.3,57.8 336.8,54.5 337.3,52.1 337.8,50.5 338.3,48.6 338.8,47.3 339.3,46.1 339.8,44.8 340.3,43.4 340.8,42.1 341.3,41.6 341.8,42.9 342.3,44.1 342.8,45.9 343.3,46.8 343.8,48.7 344.3,50.4 344.8,52.4 345.3,54.8 345.8,56.6 346.3,58 346.8,59.3 347.3,60.6 347.8,61.9 348.3,62.5 348.8,63.1 349.3,63.5 349.8,63.9 350.3,63.9 350.8,63.9 351.3,63.9 351.8,64 352.3,64 352.8,64 353.3,64 353.8,64 354.3,64 354.8,64 355.3,64 355.8,64 356.3,64 356.8,64 357.3,64 357.8,64 358.3,64 358.8,64 359.3,64 359.8,64 360.3,64 360.8,64 361.3,64 361.8,64 362.3,64 362.8,64 363.3,64 363.8,64 364.3,64 364.8,64 365.3,64 365.8,64 366.3,64 366.8,64 367.3,64 367.8,64 368.3,64 368.8,64 369.3,64 369.8,64 370.3,64 370.8,64 371.3,64 371.8,64 372.3,64 372.8,64 373.3,64 373.8,64 373.8,64" fill="#edc0c4" fill-opacity="0.85" stroke="#8a3a48" stroke-width="0.8" stroke-linejoin="round"/>
<polygon points="313.8,76.4 313.8,76.4 314.3,76.4 314.8,76.4 315.3,76.4 315.8,76.4 316.3,76.4 316.8,76.4 317.3,76.4 317.8,76.4 318.3,76.4 318.8,76.4 319.3,76.4 319.8,76.4 320.3,76.4 320.8,76.4 321.3,76.4 321.8,76.4 322.3,76.4 322.8,76.4 323.3,76.4 323.8,76.4 324.3,76.4 324.8,76.4 325.3,76.4 325.8,76.4 326.3,76.4 326.8,76.4 327.3,76.4 327.8,76.4 328.3,76.4 328.8,76.4 329.3,76.4 329.8,76.4 330.3,76.4 330.8,76.4 331.3,76.4 331.8,76.4 332.3,76.4 332.8,76.4 333.3,76.4 333.8,76.4 334.3,76.4 334.8,76.4 335.3,76.4 335.8,76.4 336.3,76.4 336.8,76.4 337.3,76.4 337.8,76.4 338.3,76.4 338.8,76.4 339.3,76.4 339.8,76.4 340.3,76.3 340.8,76.3 341.3,76.3 341.8,76.1 342.3,75.8 342.8,75.4 343.3,75.2 343.8,74.8 344.3,74.3 344.8,73.9 345.3,73.1 345.8,72 346.3,70.6 346.8,69.3 347.3,67.9 347.8,66.7 348.3,65.2 348.8,63.3 349.3,60.8 349.8,58.3 350.3,55.6 350.8,53.6 351.3,53.2 351.8,54.3 352.3,56.8 352.8,59.4 353.3,62.4 353.8,64.6 354.3,67.1 354.8,69.5 355.3,71.6 355.8,73.4 356.3,74.5 356.8,75.2 357.3,75.4 357.8,75.9 358.3,76.2 358.8,76.4 359.3,76.4 359.8,76.4 360.3,76.4 360.8,76.4 361.3,76.4 361.8,76.4 362.3,76.4 362.8,76.4 363.3,76.4 363.8,76.4 364.3,76.4 364.8,76.4 365.3,76.4 365.8,76.4 366.3,76.4 366.8,76.4 367.3,76.4 367.8,76.4 368.3,76.4 368.8,76.4 369.3,76.4 369.8,76.4 370.3,76.4 370.8,76.4 371.3,76.4 371.8,76.4 372.3,76.4 372.8,76.4 373.3,76.4 373.8,76.4 373.8,76.4" fill="#f9e0ae" fill-opacity="0.85" stroke="#d2a25a" stroke-width="0.8" stroke-linejoin="round"/>
<polygon points="313.8,88.7 313.8,88.7 314.3,88.7 314.8,88.7 315.3,88.7 315.8,88.7 316.3,88.7 316.8,88.7 317.3,88.7 317.8,88.7 318.3,88.7 318.8,88.7 319.3,88.7 319.8,88.7 320.3,88.7 320.8,88.7 321.3,88.7 321.8,88.7 322.3,88.7 322.8,88.7 323.3,88.7 323.8,88.7 324.3,88.7 324.8,88.7 325.3,88.7 325.8,88.7 326.3,88.7 326.8,88.7 327.3,88.7 327.8,88.7 328.3,88.7 328.8,88.7 329.3,88.7 329.8,88.7 330.3,88.7 330.8,88.7 331.3,88.7 331.8,88.7 332.3,88.7 332.8,88.7 333.3,88.7 333.8,88.7 334.3,88.7 334.8,88.7 335.3,88.7 335.8,88.6 336.3,88.2 336.8,86.6 337.3,82.3 337.8,76.4 338.3,72.4 338.8,72.3 339.3,73.9 339.8,74.2 340.3,74 340.8,73.6 341.3,73.6 341.8,72.3 342.3,71.8 342.8,71.6 343.3,73.1 343.8,73.5 344.3,73.4 344.8,72 345.3,71.6 345.8,71.8 346.3,72.6 346.8,73.3 347.3,73.4 347.8,73.5 348.3,74.1 348.8,75.2 349.3,76.9 349.8,79.8 350.3,83.8 350.8,86.7 351.3,88.2 351.8,88.6 352.3,88.7 352.8,88.7 353.3,88.7 353.8,88.7 354.3,88.7 354.8,88.7 355.3,88.7 355.8,88.7 356.3,88.7 356.8,88.7 357.3,88.7 357.8,88.7 358.3,88.7 358.8,88.7 359.3,88.7 359.8,88.7 360.3,88.7 360.8,88.7 361.3,88.7 361.8,88.7 362.3,88.7 362.8,88.7 363.3,88.7 363.8,88.7 364.3,88.7 364.8,88.7 365.3,88.7 365.8,88.7 366.3,88.7 366.8,88.7 367.3,88.7 367.8,88.7 368.3,88.7 368.8,88.7 369.3,88.7 369.8,88.7 370.3,88.7 370.8,88.7 371.3,88.7 371.8,88.7 372.3,88.7 372.8,88.7 373.3,88.7 373.8,88.7 373.8,88.7" fill="#d2e8c0" fill-opacity="0.85" stroke="#8fb27a" stroke-width="0.8" stroke-linejoin="round"/>
<polygon points="313.8,99.8 313.8,99.8 314.3,99.8 314.8,99.8 315.3,99.8 315.8,99.8 316.3,99.8 316.8,99.8 317.3,99.8 317.8,99.8 318.3,99.8 318.8,99.8 319.3,99.8 319.8,99.8 320.3,99.8 320.8,99.8 321.3,99.8 321.8,99.8 322.3,99.8 322.8,99.8 323.3,99.8 323.8,99.8 324.3,99.8 324.8,99.8 325.3,99.8 325.8,99.8 326.3,99.8 326.8,99.8 327.3,99.8 327.8,99.8 328.3,99.8 328.8,99.8 329.3,99.7 329.8,99.7 330.3,99.7 330.8,99.7 331.3,99.8 331.8,99.7 332.3,99.5 332.8,99.1 333.3,98.9 333.8,98.8 334.3,98.5 334.8,98.2 335.3,97.9 335.8,97.4 336.3,96.6 336.8,95.7 337.3,95.2 337.8,94.7 338.3,94.4 338.8,93.8 339.3,93.1 339.8,92.4 340.3,92 340.8,91.8 341.3,91.4 341.8,91.3 342.3,91 342.8,91 343.3,90.2 343.8,90.6 344.3,91.1 344.8,91.5 345.3,91.1 345.8,90.6 346.3,90.4 346.8,90.4 347.3,90.2 347.8,89.2 348.3,89.1 348.8,89.2 349.3,88.7 349.8,86.8 350.3,84.8 350.8,83.3 351.3,82.1 351.8,80.7 352.3,80 352.8,79.4 353.3,78.1 353.8,76.9 354.3,78.3 354.8,82 355.3,84.8 355.8,87.6 356.3,89.4 356.8,92.1 357.3,95.1 357.8,97.1 358.3,97.6 358.8,98.1 359.3,99.1 359.8,99.6 360.3,99.7 360.8,99.7 361.3,99.7 361.8,99.8 362.3,99.8 362.8,99.8 363.3,99.8 363.8,99.8 364.3,99.8 364.8,99.8 365.3,99.8 365.8,99.8 366.3,99.8 366.8,99.8 367.3,99.8 367.8,99.8 368.3,99.8 368.8,99.8 369.3,99.8 369.8,99.8 370.3,99.8 370.8,99.8 371.3,99.8 371.8,99.8 372.3,99.8 372.8,99.8 373.3,99.8 373.8,99.8 373.8,99.8" fill="#bcc4de" fill-opacity="0.85" stroke="#46506e" stroke-width="0.8" stroke-linejoin="round"/>
<rect x="313" y="39.4" width="61.5" height="60.4" fill="none" stroke="#111" stroke-width="1.25"/>
<path d="M323 100.2v2.6M345 100.2v2.6M360 100.2v2.6M313.5 100.2v2M315.1 100.2v2M316.8 100.2v2M318.4 100.2v2M320.1 100.2v2M321.7 100.2v2M323.4 100.2v2M325 100.2v2M327 100.2v2M328.4 100.2v2M329.9 100.2v2M331.3 100.2v2M332.7 100.2v2M334.1 100.2v2M335.6 100.2v2M337 100.2v2M339 100.2v2M341.1 100.2v2M343.3 100.2v2M345.4 100.2v2M347.6 100.2v2M349.7 100.2v2M351.9 100.2v2M354 100.2v2M355.5 100.2v2M357.3 100.2v2M359.1 100.2v2M360.9 100.2v2M362.6 100.2v2M364.4 100.2v2M366.2 100.2v2M368 100.2v2M370 100.2v2M370.6 100.2v2M371.1 100.2v2M371.7 100.2v2M372.3 100.2v2M372.9 100.2v2M373.4 100.2v2M374 100.2v2" stroke="#111" stroke-width="0.75" fill="none"/>
<text x="323.3" y="112.5" font-size="6.1" font-weight="normal" text-anchor="middle" fill="#222">0</text>
<text x="346" y="112.5" font-size="6.1" font-weight="normal" text-anchor="middle" fill="#222">10<tspan font-size="3.9" dy="-2.2">3</tspan></text>
<text x="361.5" y="112.5" font-size="6.1" font-weight="normal" text-anchor="middle" fill="#222">10<tspan font-size="3.9" dy="-2.2">4</tspan></text>
<text x="412.8" y="31.8" font-size="8.7" font-weight="bold" text-anchor="middle" >NKG2A</text>
<polygon points="382.8,64 382.8,64 383.3,64 383.8,64 384.3,64 384.8,64 385.3,64 385.8,64 386.3,64 386.8,64 387.3,64 387.8,64 388.3,64 388.8,64 389.3,64 389.8,64 390.3,64 390.8,63.9 391.3,63.7 391.8,63.3 392.3,62.6 392.8,60.9 393.3,58.6 393.8,55.2 394.3,50.8 394.8,45.8 395.3,42.9 395.8,43.1 396.3,45.3 396.8,49.2 397.3,53 397.8,56.8 398.3,59.1 398.8,60.2 399.3,60.9 399.8,61.5 400.3,61.8 400.8,61.2 401.3,60.8 401.8,60.8 402.3,61.1 402.8,61.2 403.3,61.3 403.8,60.5 404.3,60.1 404.8,60.3 405.3,60.9 405.8,60.5 406.3,60.4 406.8,60.6 407.3,60.7 407.8,60.3 408.3,60.4 408.8,60.5 409.3,60.3 409.8,60.2 410.3,60.8 410.8,61.2 411.3,61 411.8,61 412.3,61.3 412.8,61.5 413.3,61.5 413.8,61.7 414.3,62 414.8,62.5 415.3,62.8 415.8,63.1 416.3,63 416.8,63.2 417.3,63.1 417.8,63.3 418.3,63.4 418.8,63.6 419.3,63.7 419.8,63.7 420.3,63.9 420.8,64 421.3,64 421.8,63.9 422.3,63.9 422.8,63.9 423.3,64 423.8,64 424.3,64 424.8,64 425.3,64 425.8,64 426.3,64 426.8,64 427.3,64 427.8,64 428.3,64 428.8,64 429.3,64 429.8,64 430.3,64 430.8,64 431.3,64 431.8,64 432.3,64 432.8,64 433.3,64 433.8,64 434.3,64 434.8,64 435.3,64 435.8,64 436.3,64 436.8,64 437.3,64 437.8,64 438.3,64 438.8,64 439.3,64 439.8,64 440.3,64 440.8,64 441.3,64 441.8,64 442.3,64 442.8,64 442.8,64" fill="#edc0c4" fill-opacity="0.85" stroke="#8a3a48" stroke-width="0.8" stroke-linejoin="round"/>
<polygon points="382.8,76.4 382.8,76.4 383.3,76.4 383.8,76.4 384.3,76.4 384.8,76.4 385.3,76.4 385.8,76.4 386.3,76.4 386.8,76.4 387.3,76.4 387.8,76.4 388.3,76.4 388.8,76.4 389.3,76.4 389.8,76.4 390.3,76.4 390.8,76.4 391.3,76.3 391.8,76.3 392.3,76.3 392.8,76 393.3,75.3 393.8,74.1 394.3,72.3 394.8,68.6 395.3,65 395.8,63 396.3,63.5 396.8,64.8 397.3,67.9 397.8,71.4 398.3,73.6 398.8,74.3 399.3,74.7 399.8,75 400.3,74.9 400.8,74.5 401.3,74.4 401.8,74.3 402.3,74.2 402.8,73.6 403.3,74 403.8,74.3 404.3,74.6 404.8,73.9 405.3,74 405.8,74.1 406.3,74.2 406.8,73.7 407.3,73.3 407.8,73.4 408.3,72.9 408.8,72.5 409.3,71.8 409.8,71.3 410.3,70.4 410.8,69.6 411.3,69.3 411.8,68.5 412.3,67.7 412.8,66.9 413.3,66.5 413.8,66.2 414.3,65.2 414.8,65.3 415.3,66.3 415.8,67.7 416.3,68.5 416.8,68.6 417.3,69.2 417.8,70.6 418.3,72.7 418.8,73.6 419.3,74.3 419.8,75.1 420.3,75.8 420.8,76.1 421.3,76.2 421.8,76.2 422.3,76.3 422.8,76.4 423.3,76.4 423.8,76.4 424.3,76.4 424.8,76.4 425.3,76.4 425.8,76.4 426.3,76.4 426.8,76.4 427.3,76.4 427.8,76.4 428.3,76.4 428.8,76.4 429.3,76.4 429.8,76.4 430.3,76.4 430.8,76.4 431.3,76.4 431.8,76.4 432.3,76.4 432.8,76.4 433.3,76.4 433.8,76.4 434.3,76.4 434.8,76.4 435.3,76.4 435.8,76.4 436.3,76.4 436.8,76.4 437.3,76.4 437.8,76.4 438.3,76.4 438.8,76.4 439.3,76.4 439.8,76.4 440.3,76.4 440.8,76.4 441.3,76.4 441.8,76.4 442.3,76.4 442.8,76.4 442.8,76.4" fill="#f9e0ae" fill-opacity="0.85" stroke="#d2a25a" stroke-width="0.8" stroke-linejoin="round"/>
<polygon points="382.8,88.7 382.8,88.7 383.3,88.7 383.8,88.7 384.3,88.7 384.8,88.7 385.3,88.7 385.8,88.7 386.3,88.7 386.8,88.7 387.3,88.7 387.8,88.7 388.3,88.7 388.8,88.7 389.3,88.7 389.8,88.7 390.3,88.7 390.8,88.7 391.3,88.7 391.8,88.7 392.3,88.7 392.8,88.7 393.3,88.6 393.8,88.4 394.3,87.1 394.8,84.2 395.3,79 395.8,72.5 396.3,68.6 396.8,71.5 397.3,77.5 397.8,83.3 398.3,86.7 398.8,88.3 399.3,88.7 399.8,88.7 400.3,88.7 400.8,88.7 401.3,88.7 401.8,88.7 402.3,88.7 402.8,88.7 403.3,88.7 403.8,88.7 404.3,88.7 404.8,88.7 405.3,88.7 405.8,88.7 406.3,88.7 406.8,88.7 407.3,88.7 407.8,88.7 408.3,88.7 408.8,88.7 409.3,88.7 409.8,88.7 410.3,88.7 410.8,88.7 411.3,88.7 411.8,88.7 412.3,88.7 412.8,88.7 413.3,88.7 413.8,88.7 414.3,88.7 414.8,88.7 415.3,88.7 415.8,88.7 416.3,88.7 416.8,88.7 417.3,88.7 417.8,88.7 418.3,88.7 418.8,88.7 419.3,88.7 419.8,88.7 420.3,88.7 420.8,88.7 421.3,88.7 421.8,88.7 422.3,88.7 422.8,88.7 423.3,88.7 423.8,88.7 424.3,88.7 424.8,88.7 425.3,88.7 425.8,88.7 426.3,88.7 426.8,88.7 427.3,88.7 427.8,88.7 428.3,88.7 428.8,88.7 429.3,88.7 429.8,88.7 430.3,88.7 430.8,88.7 431.3,88.7 431.8,88.7 432.3,88.7 432.8,88.7 433.3,88.7 433.8,88.7 434.3,88.7 434.8,88.7 435.3,88.7 435.8,88.7 436.3,88.7 436.8,88.7 437.3,88.7 437.8,88.7 438.3,88.7 438.8,88.7 439.3,88.7 439.8,88.7 440.3,88.7 440.8,88.7 441.3,88.7 441.8,88.7 442.3,88.7 442.8,88.7 442.8,88.7" fill="#d2e8c0" fill-opacity="0.85" stroke="#8fb27a" stroke-width="0.8" stroke-linejoin="round"/>
<polygon points="382.8,99.8 382.8,99.8 383.3,99.8 383.8,99.8 384.3,99.8 384.8,99.8 385.3,99.8 385.8,99.8 386.3,99.8 386.8,99.8 387.3,99.8 387.8,99.8 388.3,99.8 388.8,99.8 389.3,99.8 389.8,99.8 390.3,99.8 390.8,99.8 391.3,99.8 391.8,99.8 392.3,99.8 392.8,99.8 393.3,99.8 393.8,99.8 394.3,99.8 394.8,99.8 395.3,99.8 395.8,99.8 396.3,99.7 396.8,99.7 397.3,99.7 397.8,99.8 398.3,99.8 398.8,99.7 399.3,99.5 399.8,99.2 400.3,99 400.8,98.9 401.3,98.6 401.8,97.9 402.3,97.5 402.8,96.8 403.3,96.1 403.8,94.8 404.3,94.6 404.8,94.9 405.3,94.8 405.8,93.4 406.3,92.7 406.8,92.3 407.3,91.6 407.8,90.1 408.3,88.9 408.8,89.4 409.3,89.1 409.8,88.1 410.3,85.1 410.8,82.6 411.3,80.2 411.8,79 412.3,77.4 412.8,77.4 413.3,77.8 413.8,78.4 414.3,80.6 414.8,82.9 415.3,84.9 415.8,86.8 416.3,89.9 416.8,92.7 417.3,94.5 417.8,96.3 418.3,97.6 418.8,98.4 419.3,98.7 419.8,99.1 420.3,99.5 420.8,99.6 421.3,99.7 421.8,99.7 422.3,99.7 422.8,99.8 423.3,99.8 423.8,99.8 424.3,99.8 424.8,99.8 425.3,99.8 425.8,99.8 426.3,99.8 426.8,99.8 427.3,99.8 427.8,99.8 428.3,99.8 428.8,99.8 429.3,99.8 429.8,99.8 430.3,99.8 430.8,99.8 431.3,99.8 431.8,99.8 432.3,99.8 432.8,99.8 433.3,99.8 433.8,99.8 434.3,99.8 434.8,99.8 435.3,99.8 435.8,99.8 436.3,99.8 436.8,99.8 437.3,99.8 437.8,99.8 438.3,99.8 438.8,99.8 439.3,99.8 439.8,99.8 440.3,99.8 440.8,99.8 441.3,99.8 441.8,99.8 442.3,99.8 442.8,99.8 442.8,99.8" fill="#bcc4de" fill-opacity="0.85" stroke="#46506e" stroke-width="0.8" stroke-linejoin="round"/>
<rect x="382" y="39.4" width="61.5" height="60.4" fill="none" stroke="#111" stroke-width="1.25"/>
<path d="M384.5 100.2v2.6M395 100.2v2.6M407 100.2v2.6M423.5 100.2v2.6M438 100.2v2.6M382.5 100.2v2M384.1 100.2v2M385.8 100.2v2M387.4 100.2v2M389.1 100.2v2M390.7 100.2v2M392.4 100.2v2M394 100.2v2M396 100.2v2M397.4 100.2v2M398.9 100.2v2M400.3 100.2v2M401.7 100.2v2M403.1 100.2v2M404.6 100.2v2M406 100.2v2M408 100.2v2M410.1 100.2v2M412.3 100.2v2M414.4 100.2v2M416.6 100.2v2M418.7 100.2v2M420.9 100.2v2M423 100.2v2M424.5 100.2v2M426.3 100.2v2M428.1 100.2v2M429.9 100.2v2M431.6 100.2v2M433.4 100.2v2M435.2 100.2v2M437 100.2v2M439 100.2v2M439.6 100.2v2M440.1 100.2v2M440.7 100.2v2M441.3 100.2v2M441.9 100.2v2M442.4 100.2v2M443 100.2v2" stroke="#111" stroke-width="0.75" fill="none"/>
<text x="385.6" y="112.5" font-size="6.1" font-weight="normal" text-anchor="middle" fill="#222">-10<tspan font-size="3.9" dy="-2.2">3</tspan></text>
<text x="395" y="112.5" font-size="6.1" font-weight="normal" text-anchor="middle" fill="#222">0</text>
<text x="408.3" y="112.5" font-size="6.1" font-weight="normal" text-anchor="middle" fill="#222">10<tspan font-size="3.9" dy="-2.2">3</tspan></text>
<text x="424.8" y="112.5" font-size="6.1" font-weight="normal" text-anchor="middle" fill="#222">10<tspan font-size="3.9" dy="-2.2">4</tspan></text>
<text x="439.3" y="112.5" font-size="6.1" font-weight="normal" text-anchor="middle" fill="#222">10<tspan font-size="3.9" dy="-2.2">5</tspan></text>
<text x="481.8" y="31.8" font-size="8.7" font-weight="bold" text-anchor="middle" >CD62L</text>
<polygon points="451.8,64 451.8,64 452.3,64 452.8,64 453.3,64 453.8,64 454.3,64 454.8,64 455.3,64 455.8,64 456.3,64 456.8,64 457.3,64 457.8,64 458.3,64 458.8,64 459.3,64 459.8,64 460.3,63.9 460.8,63.8 461.3,63.7 461.8,63.4 462.3,62.6 462.8,62.1 463.3,61.4 463.8,60.2 464.3,58.2 464.8,56.3 465.3,55.5 465.8,55.1 466.3,54 466.8,51.5 467.3,48.3 467.8,45.6 468.3,43.7 468.8,42.5 469.3,42.2 469.8,41.9 470.3,42.9 470.8,43.4 471.3,45.2 471.8,47.6 472.3,50.2 472.8,51.3 473.3,51.7 473.8,52.9 474.3,54.2 474.8,55.4 475.3,56.5 475.8,57.3 476.3,58.5 476.8,59.3 477.3,60 477.8,60.5 478.3,60.8 478.8,60.7 479.3,61.1 479.8,62 480.3,62.9 480.8,63.2 481.3,63.4 481.8,63.4 482.3,63.7 482.8,63.8 483.3,63.9 483.8,63.8 484.3,63.9 484.8,63.9 485.3,64 485.8,64 486.3,64 486.8,64 487.3,64 487.8,64 488.3,64 488.8,64 489.3,64 489.8,64 490.3,64 490.8,64 491.3,64 491.8,64 492.3,64 492.8,64 493.3,64 493.8,64 494.3,64 494.8,64 495.3,64 495.8,64 496.3,64 496.8,64 497.3,64 497.8,64 498.3,64 498.8,64 499.3,64 499.8,64 500.3,64 500.8,64 501.3,64 501.8,64 502.3,64 502.8,64 503.3,64 503.8,64 504.3,64 504.8,64 505.3,64 505.8,64 506.3,64 506.8,64 507.3,64 507.8,64 508.3,64 508.8,64 509.3,64 509.8,64 510.3,64 510.8,64 511.3,64 511.8,64 511.8,64" fill="#edc0c4" fill-opacity="0.85" stroke="#8a3a48" stroke-width="0.8" stroke-linejoin="round"/>
<polygon points="451.8,76.4 451.8,76.4 452.3,76.4 452.8,76.4 453.3,76.4 453.8,76.4 454.3,76.4 454.8,76.4 455.3,76.4 455.8,76.4 456.3,76.4 456.8,76.4 457.3,76.4 457.8,76.4 458.3,76.4 458.8,76.4 459.3,76.4 459.8,76.4 460.3,76.4 460.8,76.4 461.3,76.4 461.8,76.3 462.3,76.3 462.8,76.1 463.3,75.5 463.8,74.4 464.3,72.3 464.8,70.9 465.3,69.7 465.8,70 466.3,69.8 466.8,70.3 467.3,70.2 467.8,70.3 468.3,69.7 468.8,69.1 469.3,68.9 469.8,69.2 470.3,69.5 470.8,69.6 471.3,69.4 471.8,69.3 472.3,69.1 472.8,68.3 473.3,67.3 473.8,67.6 474.3,68.3 474.8,68.4 475.3,67.9 475.8,68.1 476.3,68 476.8,67.2 477.3,66.1 477.8,65.5 478.3,65.1 478.8,64.8 479.3,64.2 479.8,64.1 480.3,64.4 480.8,64.9 481.3,64.8 481.8,64 482.3,64 482.8,64.1 483.3,64.6 483.8,65.5 484.3,67 484.8,67.1 485.3,67.4 485.8,68.2 486.3,69.2 486.8,69.5 487.3,69.5 487.8,70.4 488.3,70.7 488.8,71 489.3,71.4 489.8,72.5 490.3,73.4 490.8,73.6 491.3,74.1 491.8,74.7 492.3,75.1 492.8,75.3 493.3,75.6 493.8,75.9 494.3,76.1 494.8,76.2 495.3,76.3 495.8,76.4 496.3,76.4 496.8,76.4 497.3,76.4 497.8,76.4 498.3,76.4 498.8,76.4 499.3,76.4 499.8,76.4 500.3,76.4 500.8,76.4 501.3,76.4 501.8,76.4 502.3,76.4 502.8,76.4 503.3,76.4 503.8,76.4 504.3,76.4 504.8,76.4 505.3,76.4 505.8,76.4 506.3,76.4 506.8,76.4 507.3,76.4 507.8,76.4 508.3,76.4 508.8,76.4 509.3,76.4 509.8,76.4 510.3,76.4 510.8,76.4 511.3,76.4 511.8,76.4 511.8,76.4" fill="#f9e0ae" fill-opacity="0.85" stroke="#d2a25a" stroke-width="0.8" stroke-linejoin="round"/>
<polygon points="451.8,88.7 451.8,88.7 452.3,88.7 452.8,88.7 453.3,88.7 453.8,88.7 454.3,88.7 454.8,88.7 455.3,88.7 455.8,88.7 456.3,88.7 456.8,88.7 457.3,88.6 457.8,88.5 458.3,88.4 458.8,88.2 459.3,87.9 459.8,87.7 460.3,87.2 460.8,86.7 461.3,85.6 461.8,84.6 462.3,83.5 462.8,82.7 463.3,81.3 463.8,79 464.3,76.6 464.8,74.8 465.3,75.4 465.8,76.5 466.3,77.8 466.8,78.6 467.3,78.9 467.8,78.5 468.3,78.3 468.8,77.8 469.3,78 469.8,78.1 470.3,77.9 470.8,77.7 471.3,77.1 471.8,77.3 472.3,77.1 472.8,77.8 473.3,77.6 473.8,77.2 474.3,76.8 474.8,77.7 475.3,78.1 475.8,78.3 476.3,77.9 476.8,78.6 477.3,78.8 477.8,78.4 478.3,77.5 478.8,77.3 479.3,77.1 479.8,76.6 480.3,76.5 480.8,76.8 481.3,77.1 481.8,77.9 482.3,79.5 482.8,80.5 483.3,80 483.8,78.9 484.3,79.1 484.8,79.4 485.3,79.1 485.8,78.9 486.3,79.8 486.8,80.6 487.3,80.4 487.8,80.5 488.3,81 488.8,81.8 489.3,82.8 489.8,83.1 490.3,83.4 490.8,84 491.3,85 491.8,85.8 492.3,86.4 492.8,87 493.3,87.5 493.8,87.9 494.3,88 494.8,88.2 495.3,88.4 495.8,88.6 496.3,88.6 496.8,88.6 497.3,88.7 497.8,88.7 498.3,88.7 498.8,88.7 499.3,88.7 499.8,88.7 500.3,88.7 500.8,88.7 501.3,88.7 501.8,88.7 502.3,88.7 502.8,88.7 503.3,88.7 503.8,88.7 504.3,88.7 504.8,88.7 505.3,88.7 505.8,88.7 506.3,88.7 506.8,88.7 507.3,88.7 507.8,88.7 508.3,88.7 508.8,88.7 509.3,88.7 509.8,88.7 510.3,88.7 510.8,88.7 511.3,88.7 511.8,88.7 511.8,88.7" fill="#d2e8c0" fill-opacity="0.85" stroke="#8fb27a" stroke-width="0.8" stroke-linejoin="round"/>
<polygon points="451.8,99.8 451.8,99.8 452.3,99.8 452.8,99.8 453.3,99.8 453.8,99.8 454.3,99.8 454.8,99.8 455.3,99.8 455.8,99.8 456.3,99.8 456.8,99.8 457.3,99.8 457.8,99.8 458.3,99.8 458.8,99.8 459.3,99.8 459.8,99.8 460.3,99.8 460.8,99.8 461.3,99.8 461.8,99.8 462.3,99.8 462.8,99.8 463.3,99.8 463.8,99.8 464.3,99.8 464.8,99.8 465.3,99.8 465.8,99.8 466.3,99.8 466.8,99.8 467.3,99.8 467.8,99.8 468.3,99.8 468.8,99.8 469.3,99.8 469.8,99.7 470.3,99.7 470.8,99.7 471.3,99.7 471.8,99.7 472.3,99.4 472.8,99.3 473.3,99.2 473.8,99.2 474.3,99 474.8,98.9 475.3,98.6 475.8,98.4 476.3,98.2 476.8,98 477.3,97.8 477.8,97.9 478.3,97.7 478.8,97.2 479.3,96.6 479.8,96.2 480.3,95.7 480.8,95.4 481.3,95.2 481.8,95.3 482.3,94.6 482.8,94.1 483.3,93.6 483.8,93.1 484.3,92.2 484.8,90.2 485.3,88 485.8,85.8 486.3,84.9 486.8,82.9 487.3,79.9 487.8,77.4 488.3,75.2 488.8,73.9 489.3,75.3 489.8,79 490.3,82.7 490.8,86.7 491.3,90.4 491.8,93.7 492.3,96.4 492.8,98.3 493.3,99.2 493.8,99.3 494.3,99.6 494.8,99.7 495.3,99.8 495.8,99.8 496.3,99.8 496.8,99.8 497.3,99.8 497.8,99.8 498.3,99.8 498.8,99.8 499.3,99.8 499.8,99.8 500.3,99.8 500.8,99.8 501.3,99.8 501.8,99.8 502.3,99.8 502.8,99.8 503.3,99.8 503.8,99.8 504.3,99.8 504.8,99.8 505.3,99.8 505.8,99.8 506.3,99.8 506.8,99.8 507.3,99.8 507.8,99.8 508.3,99.8 508.8,99.8 509.3,99.8 509.8,99.8 510.3,99.8 510.8,99.8 511.3,99.8 511.8,99.8 511.8,99.8" fill="#bcc4de" fill-opacity="0.85" stroke="#46506e" stroke-width="0.8" stroke-linejoin="round"/>
<rect x="451" y="39.4" width="61.5" height="60.4" fill="none" stroke="#111" stroke-width="1.25"/>
<path d="M453.5 100.2v2.6M464 100.2v2.6M476 100.2v2.6M492.5 100.2v2.6M507 100.2v2.6M451.5 100.2v2M453.1 100.2v2M454.8 100.2v2M456.4 100.2v2M458.1 100.2v2M459.7 100.2v2M461.4 100.2v2M463 100.2v2M465 100.2v2M466.4 100.2v2M467.9 100.2v2M469.3 100.2v2M470.7 100.2v2M472.1 100.2v2M473.6 100.2v2M475 100.2v2M477 100.2v2M479.1 100.2v2M481.3 100.2v2M483.4 100.2v2M485.6 100.2v2M487.7 100.2v2M489.9 100.2v2M492 100.2v2M493.5 100.2v2M495.3 100.2v2M497.1 100.2v2M498.9 100.2v2M500.6 100.2v2M502.4 100.2v2M504.2 100.2v2M506 100.2v2M508 100.2v2M508.6 100.2v2M509.1 100.2v2M509.7 100.2v2M510.3 100.2v2M510.9 100.2v2M511.4 100.2v2M512 100.2v2" stroke="#111" stroke-width="0.75" fill="none"/>
<text x="454.6" y="112.5" font-size="6.1" font-weight="normal" text-anchor="middle" fill="#222">-10<tspan font-size="3.9" dy="-2.2">3</tspan></text>
<text x="464" y="112.5" font-size="6.1" font-weight="normal" text-anchor="middle" fill="#222">0</text>
<text x="477.3" y="112.5" font-size="6.1" font-weight="normal" text-anchor="middle" fill="#222">10<tspan font-size="3.9" dy="-2.2">3</tspan></text>
<text x="493.8" y="112.5" font-size="6.1" font-weight="normal" text-anchor="middle" fill="#222">10<tspan font-size="3.9" dy="-2.2">4</tspan></text>
<text x="508.3" y="112.5" font-size="6.1" font-weight="normal" text-anchor="middle" fill="#222">10<tspan font-size="3.9" dy="-2.2">5</tspan></text>
<text x="68" y="140.6" font-size="8.8" font-weight="bold" text-anchor="middle" >CD16</text>
<rect x="39" y="147.4" width="58" height="5.6" fill="#dedede"/>
<rect x="37" y="144.6" width="62.3" height="62.7" fill="none" stroke="#111" stroke-width="1.3"/>
<path d="M37.3 153V161M36 153h2.6M36 161h2.6M43.3 165V171.6M42 165h2.6M42 171.6h2.6M47.3 162V166M46 162h2.6M46 166h2.6M53.3 157.2V166.2M52 157.2h2.6M52 166.2h2.6M67.3 174.7V185M66 174.7h2.6M66 185h2.6M97.3 180.8V190.2M96 180.8h2.6M96 190.2h2.6" stroke="#2a2a2a" stroke-width="0.8" fill="none"/>
<polyline points="37.3,157.2 43.3,167.6 47.3,164 53.3,161.5 67.3,179.8 97.3,185.5" fill="none" stroke="#8a1836" stroke-width="1.4" stroke-linejoin="round"/>
<circle cx="37.3" cy="157.2" r="1.5" fill="#6e1030"/>
<circle cx="43.3" cy="167.6" r="1.5" fill="#6e1030"/>
<circle cx="47.3" cy="164" r="1.5" fill="#6e1030"/>
<circle cx="53.3" cy="161.5" r="1.5" fill="#6e1030"/>
<circle cx="67.3" cy="179.8" r="1.5" fill="#6e1030"/>
<circle cx="97.3" cy="185.5" r="1.5" fill="#6e1030"/>
<path d="M37.3 207.3v2.6M43.3 207.3v2.6M47.3 207.3v2.6M53.3 207.3v2.6M67.3 207.3v2.6M97.3 207.3v2.6" stroke="#111" stroke-width="0.8"/>
<text x="37.5" y="217.6" font-size="5.4" font-weight="normal" text-anchor="middle" fill="#222">0</text>
<text x="43.5" y="217.6" font-size="5.4" font-weight="normal" text-anchor="middle" fill="#222">3</text>
<text x="47.5" y="217.6" font-size="5.4" font-weight="normal" text-anchor="middle" fill="#222">5</text>
<text x="53.5" y="217.6" font-size="5.4" font-weight="normal" text-anchor="middle" fill="#222">8</text>
<text x="67.3" y="217.6" font-size="5.4" font-weight="normal" text-anchor="middle" fill="#222">15</text>
<text x="97.3" y="217.6" font-size="5.4" font-weight="normal" text-anchor="middle" fill="#222">30</text>
<text x="137" y="140.6" font-size="8.8" font-weight="bold" text-anchor="middle" >KIR</text>
<rect x="108" y="162.2" width="58" height="17.2" fill="#dedede"/>
<rect x="106" y="144.6" width="62.3" height="62.7" fill="none" stroke="#111" stroke-width="1.3"/>
<path d="M106.3 170.5V178.5M105 170.5h2.6M105 178.5h2.6M112.3 180.4V187M111 180.4h2.6M111 187h2.6M116.3 170.3V181M115 170.3h2.6M115 181h2.6M122.3 177.7V186.8M121 177.7h2.6M121 186.8h2.6M136.3 187.4V196.5M135 187.4h2.6M135 196.5h2.6M166.3 191.8V198.5M165 191.8h2.6M165 198.5h2.6" stroke="#2a2a2a" stroke-width="0.8" fill="none"/>
<polyline points="106.3,174.7 112.3,182.8 116.3,176 122.3,182 136.3,191.8 166.3,194.9" fill="none" stroke="#8a1836" stroke-width="1.4" stroke-linejoin="round"/>
<circle cx="106.3" cy="174.7" r="1.5" fill="#6e1030"/>
<circle cx="112.3" cy="182.8" r="1.5" fill="#6e1030"/>
<circle cx="116.3" cy="176" r="1.5" fill="#6e1030"/>
<circle cx="122.3" cy="182" r="1.5" fill="#6e1030"/>
<circle cx="136.3" cy="191.8" r="1.5" fill="#6e1030"/>
<circle cx="166.3" cy="194.9" r="1.5" fill="#6e1030"/>
<path d="M106.3 207.3v2.6M112.3 207.3v2.6M116.3 207.3v2.6M122.3 207.3v2.6M136.3 207.3v2.6M166.3 207.3v2.6" stroke="#111" stroke-width="0.8"/>
<text x="106.5" y="217.6" font-size="5.4" font-weight="normal" text-anchor="middle" fill="#222">0</text>
<text x="112.5" y="217.6" font-size="5.4" font-weight="normal" text-anchor="middle" fill="#222">3</text>
<text x="116.5" y="217.6" font-size="5.4" font-weight="normal" text-anchor="middle" fill="#222">5</text>
<text x="122.5" y="217.6" font-size="5.4" font-weight="normal" text-anchor="middle" fill="#222">8</text>
<text x="136.3" y="217.6" font-size="5.4" font-weight="normal" text-anchor="middle" fill="#222">15</text>
<text x="166.3" y="217.6" font-size="5.4" font-weight="normal" text-anchor="middle" fill="#222">30</text>
<text x="206" y="140.6" font-size="8.8" font-weight="bold" text-anchor="middle" >NKG2C</text>
<rect x="177" y="186.4" width="58" height="18.9" fill="#dedede"/>
<rect x="175" y="144.6" width="62.3" height="62.7" fill="none" stroke="#111" stroke-width="1.3"/>
<path d="M175.3 201V203M174 201h2.6M174 203h2.6M181.3 181V191M180 181h2.6M180 191h2.6M185.3 187.8V196.3M184 187.8h2.6M184 196.3h2.6M191.3 190.5V198.5M190 190.5h2.6M190 198.5h2.6M205.3 195.8V201.2M204 195.8h2.6M204 201.2h2.6M235.3 200.6V204M234 200.6h2.6M234 204h2.6" stroke="#2a2a2a" stroke-width="0.8" fill="none"/>
<polyline points="175.3,201.9 181.3,186.4 185.3,191.1 191.3,194.2 205.3,198.8 235.3,202.2" fill="none" stroke="#8a1836" stroke-width="1.4" stroke-linejoin="round"/>
<circle cx="175.3" cy="201.9" r="1.5" fill="#6e1030"/>
<circle cx="181.3" cy="186.4" r="1.5" fill="#6e1030"/>
<circle cx="185.3" cy="191.1" r="1.5" fill="#6e1030"/>
<circle cx="191.3" cy="194.2" r="1.5" fill="#6e1030"/>
<circle cx="205.3" cy="198.8" r="1.5" fill="#6e1030"/>
<circle cx="235.3" cy="202.2" r="1.5" fill="#6e1030"/>
<path d="M175.3 207.3v2.6M181.3 207.3v2.6M185.3 207.3v2.6M191.3 207.3v2.6M205.3 207.3v2.6M235.3 207.3v2.6" stroke="#111" stroke-width="0.8"/>
<text x="175.5" y="217.6" font-size="5.4" font-weight="normal" text-anchor="middle" fill="#222">0</text>
<text x="181.5" y="217.6" font-size="5.4" font-weight="normal" text-anchor="middle" fill="#222">3</text>
<text x="185.5" y="217.6" font-size="5.4" font-weight="normal" text-anchor="middle" fill="#222">5</text>
<text x="191.5" y="217.6" font-size="5.4" font-weight="normal" text-anchor="middle" fill="#222">8</text>
<text x="205.3" y="217.6" font-size="5.4" font-weight="normal" text-anchor="middle" fill="#222">15</text>
<text x="235.3" y="217.6" font-size="5.4" font-weight="normal" text-anchor="middle" fill="#222">30</text>
<text x="275" y="140.6" font-size="8.8" font-weight="bold" text-anchor="middle" >CD57</text>
<rect x="246" y="173" width="58" height="21.9" fill="#dedede"/>
<rect x="244" y="144.6" width="62.3" height="62.7" fill="none" stroke="#111" stroke-width="1.3"/>
<path d="M244.3 176V184M243 176h2.6M243 184h2.6M250.3 183.7V191.1M249 183.7h2.6M249 191.1h2.6M254.3 175.7V185.1M253 175.7h2.6M253 185.1h2.6M260.3 171V181M259 171h2.6M259 181h2.6M274.3 183.3V192.5M273 183.3h2.6M273 192.5h2.6M304.3 203V205M303 203h2.6M303 205h2.6" stroke="#2a2a2a" stroke-width="0.8" fill="none"/>
<polyline points="244.3,180.1 250.3,186.8 254.3,181 260.3,176.1 274.3,187.8 304.3,203.9" fill="none" stroke="#8a1836" stroke-width="1.4" stroke-linejoin="round"/>
<circle cx="244.3" cy="180.1" r="1.5" fill="#6e1030"/>
<circle cx="250.3" cy="186.8" r="1.5" fill="#6e1030"/>
<circle cx="254.3" cy="181" r="1.5" fill="#6e1030"/>
<circle cx="260.3" cy="176.1" r="1.5" fill="#6e1030"/>
<circle cx="274.3" cy="187.8" r="1.5" fill="#6e1030"/>
<circle cx="304.3" cy="203.9" r="1.5" fill="#6e1030"/>
<path d="M244.3 207.3v2.6M250.3 207.3v2.6M254.3 207.3v2.6M260.3 207.3v2.6M274.3 207.3v2.6M304.3 207.3v2.6" stroke="#111" stroke-width="0.8"/>
<text x="244.5" y="217.6" font-size="5.4" font-weight="normal" text-anchor="middle" fill="#222">0</text>
<text x="250.5" y="217.6" font-size="5.4" font-weight="normal" text-anchor="middle" fill="#222">3</text>
<text x="254.5" y="217.6" font-size="5.4" font-weight="normal" text-anchor="middle" fill="#222">5</text>
<text x="260.5" y="217.6" font-size="5.4" font-weight="normal" text-anchor="middle" fill="#222">8</text>
<text x="274.3" y="217.6" font-size="5.4" font-weight="normal" text-anchor="middle" fill="#222">15</text>
<text x="304.3" y="217.6" font-size="5.4" font-weight="normal" text-anchor="middle" fill="#222">30</text>
<text x="344" y="140.6" font-size="8.8" font-weight="bold" text-anchor="middle" >CD56<tspan font-size="6" dy="-3.3">bright</tspan></text>
<rect x="315" y="198.1" width="58" height="4.9" fill="#dedede"/>
<rect x="313" y="144.6" width="62.3" height="62.7" fill="none" stroke="#111" stroke-width="1.3"/>
<path d="M313.3 198V200.5M312 198h2.6M312 200.5h2.6M319.3 163.5V171.6M318 163.5h2.6M318 171.6h2.6M323.3 171V183M322 171h2.6M322 183h2.6M329.3 176.3V186.4M328 176.3h2.6M328 186.4h2.6M343.3 172.6V184.7M342 172.6h2.6M342 184.7h2.6M373.3 162.2V171.6M372 162.2h2.6M372 171.6h2.6" stroke="#2a2a2a" stroke-width="0.8" fill="none"/>
<polyline points="313.3,199.2 319.3,168.3 323.3,176.1 329.3,181 343.3,178.8 373.3,166.6" fill="none" stroke="#8a1836" stroke-width="1.4" stroke-linejoin="round"/>
<circle cx="313.3" cy="199.2" r="1.5" fill="#6e1030"/>
<circle cx="319.3" cy="168.3" r="1.5" fill="#6e1030"/>
<circle cx="323.3" cy="176.1" r="1.5" fill="#6e1030"/>
<circle cx="329.3" cy="181" r="1.5" fill="#6e1030"/>
<circle cx="343.3" cy="178.8" r="1.5" fill="#6e1030"/>
<circle cx="373.3" cy="166.6" r="1.5" fill="#6e1030"/>
<path d="M313.3 207.3v2.6M319.3 207.3v2.6M323.3 207.3v2.6M329.3 207.3v2.6M343.3 207.3v2.6M373.3 207.3v2.6" stroke="#111" stroke-width="0.8"/>
<text x="313.5" y="217.6" font-size="5.4" font-weight="normal" text-anchor="middle" fill="#222">0</text>
<text x="319.5" y="217.6" font-size="5.4" font-weight="normal" text-anchor="middle" fill="#222">3</text>
<text x="323.5" y="217.6" font-size="5.4" font-weight="normal" text-anchor="middle" fill="#222">5</text>
<text x="329.5" y="217.6" font-size="5.4" font-weight="normal" text-anchor="middle" fill="#222">8</text>
<text x="343.3" y="217.6" font-size="5.4" font-weight="normal" text-anchor="middle" fill="#222">15</text>
<text x="373.3" y="217.6" font-size="5.4" font-weight="normal" text-anchor="middle" fill="#222">30</text>
<text x="413" y="140.6" font-size="8.8" font-weight="bold" text-anchor="middle" >NKG2A</text>
<rect x="384" y="165.8" width="58" height="23.3" fill="#dedede"/>
<rect x="382" y="144.6" width="62.3" height="62.7" fill="none" stroke="#111" stroke-width="1.3"/>
<path d="M382.3 176.3V183M381 176.3h2.6M381 183h2.6M388.3 161.5V166.2M387 161.5h2.6M387 166.2h2.6M392.3 164.9V175.3M391 164.9h2.6M391 175.3h2.6M398.3 171.6V181.5M397 171.6h2.6M397 181.5h2.6M412.3 174.3V187.4M411 174.3h2.6M411 187.4h2.6M442.3 153.2V164.2M441 153.2h2.6M441 164.2h2.6" stroke="#2a2a2a" stroke-width="0.8" fill="none"/>
<polyline points="382.3,179 388.3,164.5 392.3,170.3 398.3,176.3 412.3,180.6 442.3,158.2" fill="none" stroke="#8a1836" stroke-width="1.4" stroke-linejoin="round"/>
<circle cx="382.3" cy="179" r="1.5" fill="#6e1030"/>
<circle cx="388.3" cy="164.5" r="1.5" fill="#6e1030"/>
<circle cx="392.3" cy="170.3" r="1.5" fill="#6e1030"/>
<circle cx="398.3" cy="176.3" r="1.5" fill="#6e1030"/>
<circle cx="412.3" cy="180.6" r="1.5" fill="#6e1030"/>
<circle cx="442.3" cy="158.2" r="1.5" fill="#6e1030"/>
<path d="M382.3 207.3v2.6M388.3 207.3v2.6M392.3 207.3v2.6M398.3 207.3v2.6M412.3 207.3v2.6M442.3 207.3v2.6" stroke="#111" stroke-width="0.8"/>
<text x="382.5" y="217.6" font-size="5.4" font-weight="normal" text-anchor="middle" fill="#222">0</text>
<text x="388.5" y="217.6" font-size="5.4" font-weight="normal" text-anchor="middle" fill="#222">3</text>
<text x="392.5" y="217.6" font-size="5.4" font-weight="normal" text-anchor="middle" fill="#222">5</text>
<text x="398.5" y="217.6" font-size="5.4" font-weight="normal" text-anchor="middle" fill="#222">8</text>
<text x="412.3" y="217.6" font-size="5.4" font-weight="normal" text-anchor="middle" fill="#222">15</text>
<text x="442.3" y="217.6" font-size="5.4" font-weight="normal" text-anchor="middle" fill="#222">30</text>
<text x="482" y="140.6" font-size="8.8" font-weight="bold" text-anchor="middle" >CD62L</text>
<rect x="453" y="185.1" width="58" height="12.1" fill="#dedede"/>
<rect x="451" y="144.6" width="62.3" height="62.7" fill="none" stroke="#111" stroke-width="1.3"/>
<path d="M451.3 193V196M450 193h2.6M450 196h2.6M457.3 168.3V175.3M456 168.3h2.6M456 175.3h2.6M461.3 173.9V183.3M460 173.9h2.6M460 183.3h2.6M467.3 173.4V182M466 173.4h2.6M466 182h2.6M481.3 166.6V173.4M480 166.6h2.6M480 173.4h2.6M511.3 160.5V166.2M510 160.5h2.6M510 166.2h2.6" stroke="#2a2a2a" stroke-width="0.8" fill="none"/>
<polyline points="451.3,194.5 457.3,171.9 461.3,179 467.3,177.4 481.3,169.9 511.3,163.1" fill="none" stroke="#8a1836" stroke-width="1.4" stroke-linejoin="round"/>
<circle cx="451.3" cy="194.5" r="1.5" fill="#6e1030"/>
<circle cx="457.3" cy="171.9" r="1.5" fill="#6e1030"/>
<circle cx="461.3" cy="179" r="1.5" fill="#6e1030"/>
<circle cx="467.3" cy="177.4" r="1.5" fill="#6e1030"/>
<circle cx="481.3" cy="169.9" r="1.5" fill="#6e1030"/>
<circle cx="511.3" cy="163.1" r="1.5" fill="#6e1030"/>
<path d="M451.3 207.3v2.6M457.3 207.3v2.6M461.3 207.3v2.6M467.3 207.3v2.6M481.3 207.3v2.6M511.3 207.3v2.6" stroke="#111" stroke-width="0.8"/>
<text x="451.5" y="217.6" font-size="5.4" font-weight="normal" text-anchor="middle" fill="#222">0</text>
<text x="457.5" y="217.6" font-size="5.4" font-weight="normal" text-anchor="middle" fill="#222">3</text>
<text x="461.5" y="217.6" font-size="5.4" font-weight="normal" text-anchor="middle" fill="#222">5</text>
<text x="467.5" y="217.6" font-size="5.4" font-weight="normal" text-anchor="middle" fill="#222">8</text>
<text x="481.3" y="217.6" font-size="5.4" font-weight="normal" text-anchor="middle" fill="#222">15</text>
<text x="511.3" y="217.6" font-size="5.4" font-weight="normal" text-anchor="middle" fill="#222">30</text>
<text x="31.8" y="146.5" font-size="5.4" font-weight="normal" text-anchor="end" fill="#222">100</text>
<text x="31.8" y="162.2" font-size="5.4" font-weight="normal" text-anchor="end" fill="#222">75</text>
<text x="31.8" y="177.8" font-size="5.4" font-weight="normal" text-anchor="end" fill="#222">50</text>
<text x="31.8" y="193.5" font-size="5.4" font-weight="normal" text-anchor="end" fill="#222">25</text>
<text x="31.8" y="209.2" font-size="5.4" font-weight="normal" text-anchor="end" fill="#222">0</text>
<path d="M34 144.6h3M34 160.3h3M34 175.9h3M34 191.6h3M34 207.3h3" stroke="#111" stroke-width="0.8"/>
<path d="M35 222.3H57" stroke="#111" stroke-width="1.1"/><path d="M60 222.3l-4-1.8v3.6z" fill="#111"/>
<path d="M20 218.4V198" stroke="#111" stroke-width="1.1"/><path d="M20 195.2l-1.8 4h3.6z" fill="#111"/>
<text x="36.8" y="232.5" font-size="9.2" font-weight="normal" text-anchor="start" textLength="55" lengthAdjust="spacingAndGlyphs" fill="#111" stroke="#111" stroke-width="0.25">Days after HSCT</text>
<text x="0" y="0" font-size="9" transform="translate(14.8 218.6) rotate(-90)" textLength="42.5" lengthAdjust="spacingAndGlyphs" fill="#111" stroke="#111" stroke-width="0.25">% / NK cells</text>
<rect x="33.8" y="270.8" width="22" height="21.4" fill="#d86462"/>
<rect x="55.8" y="270.8" width="21.1" height="21.4" fill="#f3d8d8"/>
<rect x="76.9" y="270.8" width="21.1" height="21.4" fill="#2e2680"/>
<rect x="98" y="270.8" width="22" height="21.4" fill="#d6d8ec"/>
<rect x="120" y="270.8" width="21.5" height="21.4" fill="#34308a"/>
<rect x="141.5" y="270.8" width="21.2" height="21.4" fill="#d4d6ec"/>
<rect x="162.7" y="270.8" width="21.1" height="21.4" fill="#5858a8"/>
<rect x="33.8" y="292.2" width="22" height="21.4" fill="#eab8b4"/>
<rect x="55.8" y="292.2" width="21.1" height="21.4" fill="#d0d6ee"/>
<rect x="76.9" y="292.2" width="21.1" height="21.4" fill="#a0a6d4"/>
<rect x="98" y="292.2" width="22" height="21.4" fill="#9296c8"/>
<rect x="120" y="292.2" width="21.5" height="21.4" fill="#eab0ac"/>
<rect x="141.5" y="292.2" width="21.2" height="21.4" fill="#e49494"/>
<rect x="162.7" y="292.2" width="21.1" height="21.4" fill="#f2d4d0"/>
<rect x="33.8" y="313.6" width="22" height="21.4" fill="#e49290"/>
<rect x="55.8" y="313.6" width="21.1" height="21.4" fill="#f6e2e0"/>
<rect x="76.9" y="313.6" width="21.1" height="21.4" fill="#6a6ab4"/>
<rect x="98" y="313.6" width="22" height="21.4" fill="#d2d4ec"/>
<rect x="120" y="313.6" width="21.5" height="21.4" fill="#f8f8fc"/>
<rect x="141.5" y="313.6" width="21.2" height="21.4" fill="#f0cccc"/>
<rect x="162.7" y="313.6" width="21.1" height="21.4" fill="#e0e2f2"/>
<rect x="33.8" y="335" width="22" height="21.6" fill="#e07878"/>
<rect x="55.8" y="335" width="21.1" height="21.6" fill="#d4d8ee"/>
<rect x="76.9" y="335" width="21.1" height="21.6" fill="#5a58aa"/>
<rect x="98" y="335" width="22" height="21.6" fill="#ffffff"/>
<rect x="120" y="335" width="21.5" height="21.6" fill="#c8cae8"/>
<rect x="141.5" y="335" width="21.2" height="21.6" fill="#f4f4fa"/>
<rect x="162.7" y="335" width="21.1" height="21.6" fill="#eceef8"/>
<rect x="33.8" y="356.6" width="22" height="21.1" fill="#dcdef2"/>
<rect x="55.8" y="356.6" width="21.1" height="21.1" fill="#6e6eb8"/>
<rect x="76.9" y="356.6" width="21.1" height="21.1" fill="#38328c"/>
<rect x="98" y="356.6" width="22" height="21.1" fill="#9698cc"/>
<rect x="120" y="356.6" width="21.5" height="21.1" fill="#e4e6f4"/>
<rect x="141.5" y="356.6" width="21.2" height="21.1" fill="#d2d6ee"/>
<rect x="162.7" y="356.6" width="21.1" height="21.1" fill="#f0c8c4"/>
<rect x="33.8" y="377.7" width="22" height="20.8" fill="#a4a8d8"/>
<rect x="55.8" y="377.7" width="21.1" height="20.8" fill="#4c4aa0"/>
<rect x="76.9" y="377.7" width="21.1" height="20.8" fill="#2e2482"/>
<rect x="98" y="377.7" width="22" height="20.8" fill="#2e2484"/>
<rect x="120" y="377.7" width="21.5" height="20.8" fill="#eab0ac"/>
<rect x="141.5" y="377.7" width="21.2" height="20.8" fill="#d86060"/>
<rect x="162.7" y="377.7" width="21.1" height="20.8" fill="#e48888"/>
<path d="M33.8 270.8V398.5M55.8 270.8V398.5M76.9 270.8V398.5M98 270.8V398.5M120 270.8V398.5M141.5 270.8V398.5M162.7 270.8V398.5M183.8 270.8V398.5M33.8 270.8H183.8M33.8 292.2H183.8M33.8 313.6H183.8M33.8 335H183.8M33.8 356.6H183.8M33.8 377.7H183.8M33.8 398.5H183.8" stroke="#8a8a8a" stroke-width="0.7" fill="none"/>
<text x="187.6" y="283.8" font-size="6.4" font-weight="normal" text-anchor="start" fill="#222">LP</text>
<text x="187.6" y="305.2" font-size="6.4" font-weight="normal" text-anchor="start" fill="#222">day 3</text>
<text x="187.6" y="326.6" font-size="6.4" font-weight="normal" text-anchor="start" fill="#222">day5</text>
<text x="187.6" y="348.1" font-size="6.4" font-weight="normal" text-anchor="start" fill="#222">day 8</text>
<text x="187.6" y="369.4" font-size="6.4" font-weight="normal" text-anchor="start" fill="#222">day 15</text>
<text x="187.6" y="390.4" font-size="6.4" font-weight="normal" text-anchor="start" fill="#222">day 30</text>
<text x="0" y="0" font-size="6.4" fill="#222" transform="translate(42.6 403.2) rotate(90)">CD16</text>
<text x="0" y="0" font-size="6.4" fill="#222" transform="translate(64.1 403.2) rotate(90)">KIR</text>
<text x="0" y="0" font-size="6.4" fill="#222" transform="translate(85.2 403.2) rotate(90)">NKG2C</text>
<text x="0" y="0" font-size="6.4" fill="#222" transform="translate(106.8 403.2) rotate(90)">CD57</text>
<text x="0" y="0" font-size="6.4" fill="#222" transform="translate(128.6 403.2) rotate(90)">CD56<tspan font-size="4" dy="-1.8">bright</tspan></text>
<text x="0" y="0" font-size="6.4" fill="#222" transform="translate(149.9 403.2) rotate(90)">NKG2A</text>
<text x="0" y="0" font-size="6.4" fill="#222" transform="translate(171.1 403.2) rotate(90)">CD62L</text>
<path d="M30 324.3L33.8 324.3M30 345.8L33.8 345.8M30 324.3L30 345.8M25.4 302.9L33.8 302.9M25.4 335.1L30 335.1M25.4 302.9L25.4 335.1M17 281.5L33.8 281.5M17 319L25.4 319M17 281.5L17 319M21.6 367.1L33.8 367.1M21.6 388.1L33.8 388.1M21.6 367.1L21.6 388.1M11.5 300.2L17 300.2M11.5 377.6L21.6 377.6M11.5 300.2L11.5 377.6" stroke="#222" stroke-width="0.8" fill="none"/>
<defs><linearGradient id="cb" x1="0" y1="0" x2="0" y2="1"><stop offset="0" stop-color="#c0141e"/><stop offset="0.2" stop-color="#d6504e"/><stop offset="0.4" stop-color="#f0c8c6"/><stop offset="0.5" stop-color="#ffffff"/><stop offset="0.6" stop-color="#c8c8e6"/><stop offset="0.8" stop-color="#5a58ac"/><stop offset="1" stop-color="#1a1466"/></linearGradient></defs>
<rect x="216" y="270.9" width="5" height="75.5" fill="url(#cb)"/>
<text x="224.2" y="273.5" font-size="6.1" font-weight="normal" text-anchor="start" fill="#222">100</text>
<text x="224.2" y="288.6" font-size="6.1" font-weight="normal" text-anchor="start" fill="#222">80</text>
<text x="224.2" y="303.7" font-size="6.1" font-weight="normal" text-anchor="start" fill="#222">60</text>
<text x="224.2" y="318.6" font-size="6.1" font-weight="normal" text-anchor="start" fill="#222">40</text>
<text x="224.2" y="333.5" font-size="6.1" font-weight="normal" text-anchor="start" fill="#222">20</text>
<text x="224.2" y="348" font-size="6.1" font-weight="normal" text-anchor="start" fill="#222">0</text>
<g stroke-linecap="round" stroke-width="1.7" fill="none">
<path stroke="#00007f" d="M282.6 309.8h0m.2 1.3h0m.6-.3h0m3.3 2.1h0m.8 .3h0m-1.9 .6h0m.2 1.4h0m.5-.3h0m.6-1.2h0m1.7 .5h0m1.3 2.2h0m2.9-.2h0m2.8-.1h0m18.1 .4h0m4.4-.5h0m-41.8 3.4h0m1.3-.1h0m6.7-2.8h0m2 1.6h0m.2-.1h0m1.4-.9h0m0 .6h0m.7-.4h0m.2 .9h0m1.2 .3h0m.1-1.9h0m.1 .3h0m1.3 .7h0m3.2 1.4h0m3.2-1.2h0m.1 .9h0m1.6-.9h0m2.2 1.6h0m1.6-2.7h0m.1 .6h0m.8-.1h0m.3 1.3h0m0 .3h0m1.6-1.1h0m0 .6h0m.5-.6h0m2.3 1.2h0m.2 .4h0m.1-.9h0m0-1.4h0m.3 2h0m.3-.1h0m.3-2.2h0m.5 1.7h0m.8-1.5h0m.2 2.2h0m.5-1.9h0m.8 1.6h0m.9-.1h0m.3 .5h0m.7-1.9h0m.3 .7h0m.5 1.1h0m.1-1.2h0m.8-.1h0m.2 1.3h0m-39.8 .5h0m3.5 1h0m1.1 .6h0m1.1 .9h0m.8-1.3h0m.5-.9h0m.3 1.2h0m.5 1.1h0m.3-.7h0m.1-.4h0m1.5 .1h0m.7 .4h0m2.3 0h0m3.4 .9h0m7.3-2.3h0m2.2 1.6h0m1-.1h0m1.6-1.9h0m.8 .4h0m.8 2.1h0m.9-.1h0m1.2-1.7h0m1.3 1.7h0m1.4-.6h0m1.9-.6h0m.2-.3h0m.1-1.1h0m1.3 1.4h0m.8 1.5h0m0-.7h0m-32.3 1h0m1.8-.2h0m1 2.8h0m3.5-2.7h0m.9 2.3h0m.7-.7h0m3.4-1.5h0m3-.3h0m7.5 .5h0m6.9 .7h0m1.3 .2h0m-33.1 3h0m.1 .5h0m.7 .2h0m.1-.1h0m6-1h0m1.7-.2h0m.6 .8h0m1.2 0h0m.6-.1h0m.7 .2h0m.3-1h0m1.4 1.3h0m2.3 0h0m.5-.8h0m.4 .9h0m1.5-1.8h0m1.9 1.6h0m2.5-1.2h0m.8 1.9h0m2.9 .1h0m2.2 .2h0m2.5-1.6h0m.6 .7h0m.4-.4h0m.4 .6h0m1-.7h0m-32.6 1.7h0m10 2.3h0m3.6-2.3h0m.7 2.8h0m.4-1.5h0m0 .8h0m.5 .4h0m.3-1.2h0m.8-.4h0m.7-.6h0m.3 1.1h0m0 .2h0m.2-1.2h0m.1 1.2h0m2.2-.5h0m.4 .7h0m.4 .5h0m.2-1.8h0m2.3 .7h0m2.4 0h0m.3-.1h0m2.1 1.5h0m.2-2.2h0m-15.5 3.4h0m1.2-.1h0m2.4-.7h0m5.8 1.2h0m.5-.4h0m.6 1.4h0m.8-1.9h0m.1 2h0m.3-.7h0m1.6-1.7h0m.2 .7h0m.9 1h0m.6-1.5h0m-10 3h0m0 .2h0m.4-.2h0m2.8 .8h0m3.2-.3h0"/>
<path stroke="#0000aa" d="M284.2 306.9h0m1-2h0m.5 1.4h0m.8 .7h0m.3 .5h0m.1-2.3h0m1.5 2h0m-3.8 .8h0m.7-.3h0m.9 2h0m.3-1.9h0m5.2 .9h0m-8.9 4h0m0-.3h0m.1 .2h0m.6-.1h0m.7 .8h0m0-1.1h0m.7-.7h0m3.1 .8h0m.1-.6h0m0 1.4h0m.3-.6h0m.5 .3h0m2.8-.2h0m7.1 .3h0m1.2 .3h0m.3-.1h0m0-2.3h0m-17.9 4.1h0m.5 1.2h0m0-.1h0m.5-2.4h0m.8 .9h0m.1 1.9h0m2.3 0h0m1.4-.2h0m.7-.7h0m2.4-1h0m0 1.9h0m.2-1.3h0m7.3-.6h0m5.4 .2h0m.4 .4h0m.2-.6h0m0 .7h0m2 0h0m.7-.8h0m.5 1h0m.8 1h0m.7-.7h0m.1-.3h0m.1-.4h0m8-.2h0m-39.8 4.5h0m5.6-2.5h0m.2 1.5h0m1.4-1.3h0m.3-.5h0m.2 .7h0m.5-.2h0m.8 .3h0m.4 1h0m.3-.4h0m1-.6h0m.7-.5h0m.8 .3h0m.1 1.7h0m.6-2.1h0m1 .2h0m.7-.2h0m.6 2.4h0m.9-1.9h0m1.1 1.9h0m2.1-1.6h0m.5 1.4h0m.5-1.9h0m1.4 .8h0m1.9 1.5h0m1.6-.9h0m.9-.6h0m.5-.9h0m0 .5h0m.1 .3h0m.1-.4h0m.2 1.6h0m1.4-.4h0m.6-.6h0m1-.4h0m.3 .6h0m2.2-.9h0m.4 2h0m2.4-1.1h0m1.2-1.1h0m-37.8 3.1h0m.2 .6h0m.2 1h0m.1 .2h0m.3-1.2h0m0-.2h0m.3 1.1h0m0 .2h0m.1-1h0m.2 1.3h0m2-1.2h0m.4 .6h0m0-1.3h0m.2 .6h0m.3-.3h0m.5 .3h0m0 1.4h0m.5-.3h0m.1 .5h0m.3-.5h0m.2-.8h0m1.1 .2h0m.1 .9h0m1.1-.1h0m.1-.1h0m1.2-.1h0m.1-.8h0m.8 .6h0m9.1-1.7h0m2.1-.4h0m1.3 0h0m1.8 1.1h0m2.5-1.2h0m1.2 1.4h0m1.1 .9h0m1.6-2.3h0m.5 .6h0m.7 .4h0m.2 1.9h0m.5-2.5h0m1.6 1.9h0m.6-.2h0m.3-1.6h0m.9 1.8h0m1.3-1.9h0m1 1.7h0m.5 .5h0m.4-.9h0m.8-1.5h0m.1 .6h0m-39.5 2.4h0m.1 .3h0m.1 .8h0m.1-.2h0m.5 1.6h0m.5-2.6h0m.9 2.1h0m.1 .2h0m2.8-2.1h0m.5-.1h0m1 .4h0m2.3 1.3h0m.9 1h0m1.8-2.8h0m.2 1.2h0m1.1 .8h0m1.2 .7h0m3.5-2.1h0m.9 1.7h0m.2-1.6h0m3.4 1.9h0m.4-.9h0m.2-1.6h0m.7 1.3h0m.5-1.1h0m1.3 2.1h0m2.9-2h0m1.3 .1h0m2.6 .9h0m.8 .9h0m.5-2h0m.7-.4h0m.1 .5h0m.2 1.9h0m.7-2h0m.5 2.3h0m.1 .3h0m2.5-1.3h0m-37 1.5h0m.5 .5h0m.7-.5h0m.3 .8h0m.3 .4h0m.1-.5h0m.1 .6h0m.2-.5h0m.6 1.4h0m.2 .5h0m.3-.9h0m.4 .9h0m4.7-2.6h0m1.5 .6h0m.5-.7h0m2.7-.1h0m.7 1h0m.2 .3h0m0 .3h0m.8 1h0m.9-2.1h0m.7 1.1h0m2-1.5h0m1-.1h0m1.6 2.6h0m.7-.1h0m2.1-1.1h0m2.6 1.5h0m7.6-1.1h0m.4-.5h0m.9 .5h0m.6-.8h0m-32.7 3h0m.1 0h0m9.1-.2h0m2.1-.7h0m.3 .4h0m.2 1.2h0m.4 .1h0m1.3-1.2h0m.6 1.7h0m.5 .2h0m.9-1h0m1.2 .9h0m1.4-1.6h0m.1 .8h0m.3-.6h0m.6 1.7h0m1-1.8h0m1 .3h0m.9 .7h0m1.1-.6h0m.6-.3h0m2 .4h0m.3-.2h0m.3 1.2h0m.1-.2h0m.9-.7h0m0 .1h0m.3 .7h0m-14.8 2.1h0m4.7 1.4h0m2.2-1.2h0m1.2 1.1h0m.3-1.1h0m.5-.2h0m.5 .7h0m1.3-.1h0m.2-.5h0m.3-.9h0m.4 .6h0m-4.9 1.9h0m.5 .4h0m1.2-.3h0m.1-.2h0m1.3 1.1h0m.2-1.1h0"/>
<path stroke="#0000d4" d="M286.9 303.1h0m.2-.5h0m.4 .8h0m4.6 .5h0m1.1-.3h0m-6.8 3.6h0m.2-.8h0m1.6 0h0m.9 0h0m.1-.6h0m.3 0h0m.2-.7h0m-4.4 4.2h0m.9 .6h0m1-2.1h0m.6 1.5h0m2.1-.9h0m1.8 1h0m2.2 .1h0m4.9-.4h0m2.5 .9h0m-17.5 2.5h0m.2-1h0m1.3 1h0m1.4-1.8h0m4.5 1.9h0m10.1 .7h0m.5-.1h0m15.5-.1h0m.2-.5h0m-34.4 1.1h0m1.8 2h0m.3-1.5h0m1.1 .1h0m1 .7h0m0-.8h0m1.3 2.2h0m1-.7h0m.1-1.1h0m.9 1.3h0m.1-1h0m10.7 .9h0m.1-1.6h0m5.4 1.4h0m.6 .7h0m.6-.5h0m.3-.3h0m.3 0h0m.2 .5h0m.9-.5h0m.9-.1h0m4.6 .7h0m2.7-1.6h0m-34.1 2.8h0m.1 1.7h0m.2-.8h0m.4-.8h0m.4 .8h0m1-.8h0m.4-.3h0m.2 1.1h0m.3-.6h0m2-1.1h0m.2 .2h0m1 2.3h0m.4-1.9h0m1.5 .9h0m1.9-.6h0m3.9 0h0m.7 1.4h0m2.2 .3h0m2.1-1.5h0m.6-.9h0m.8 .8h0m.6 1.2h0m1 .1h0m1-1.8h0m3.8 1h0m.5-.6h0m0 .7h0m.2-.2h0m.7 1.3h0m1.8-.9h0m1.2 .9h0m.5-.8h0m.2-.5h0m.4-.9h0m.7-.2h0m.7 1.4h0m-41.6 2.2h0m.8-.9h0m.1 .1h0m.1-.1h0m1.8 2.7h0m.1-1.3h0m3.4 1.2h0m2.3-.1h0m.7 0h0m2.1 0h0m.4 .1h0m.3 0h0m4.7-.9h0m5.2 1.1h0m.2-.1h0m.8-1.7h0m.4 1.8h0m2.5-2.8h0m.3 2.3h0m2.9-.3h0m1.9 .2h0m.4-.3h0m.7-.1h0m1.6-.6h0m.4 1.4h0m.6-.4h0m.1-.6h0m.5-1h0m.4 .5h0m2 1.6h0m1.4-2.3h0m1.6-.2h0m.2 .7h0m.1 0h0m-29.6 5h0m2.9-1.7h0m.4-.2h0m2.9 .1h0m5.9 1.1h0m.9-.5h0m10.3-1.2h0m.2-.4h0m1 1.6h0m3.1-1.5h0m.9-.1h0m0 1.8h0m.1-1.5h0m-36.1 3.9h0m.4 .2h0m8.3-.3h0m1.7-1h0m1.1 1.2h0m2.2 1h0m.6 .5h0m2.8-1.9h0m.3 .3h0m0-.2h0m.5-.1h0m.3-.9h0m2 .2h0m2 2.1h0m.7-.9h0m1.2 1.1h0m1.2 .3h0m3-.1h0m4.9-2.2h0m.2 1.4h0m-31.1 1.2h0m9.4 .9h0m0-.5h0m1.2 2.3h0m.1-1.8h0m1.2 1.1h0m.4 .3h0m.7-.9h0m.4 1.3h0m.2-2.5h0m.1 .1h0m0 1.5h0m5-1.9h0m.9 .8h0m4.8 2.1h0m1.5-.2h0m.2-.6h0m0 .2h0m2-1.7h0m-15.5 3.8h0m.5 .7h0m3.8-.8h0m1.4 1.3h0m.3-.7h0m.1-.9h0m.2 .2h0m.1 .3h0m1.1 .8h0m.3-.8h0m2.6 .2h0m2.7-.9h0m-6.6 3.3h0m3.1 .2h0m.5-.6h0"/>
<path stroke="#0000ff" d="M290.3 300.7h0m-3.6 2.5h0m3.9 .9h0m.4-2h0m34.4 2.2h0m-48.3 .3h0m7.8 1.7h0m.3-.8h0m.1 1.7h0m.9-.6h0m.3-.9h0m1.1 1.1h0m.3-.8h0m.9-.3h0m1.9 .4h0m.7 1.3h0m.7-.8h0m0 0h0m2.4 .2h0m.3-1h0m.5-.3h0m1 .2h0m.1-.7h0m19.9-.3h0m-31.8 4.7h0m.3 0h0m.8-.6h0m5.4-.4h0m.3-.4h0m1.7 .3h0m1.2 .8h0m1.9 .5h0m.4-.6h0m.1 1.2h0m.4-.1h0m0-1.6h0m6 1.9h0m-17 2.7h0m1.1-.8h0m.5 1.1h0m4.5-1.6h0m6.3 .7h0m3.1-1.6h0m1.4 1.8h0m.2-1.6h0m.3 1.2h0m1.5 1.1h0m.2-1.6h0m.6-.2h0m.3 .1h0m9.5 .7h0m1.9-.8h0m-32 4.3h0m.5-1.5h0m.5-.3h0m.5 0h0m1.4 .2h0m1.5 1.3h0m2.3-.5h0m.6-1.1h0m5.3-.2h0m2 1.2h0m.3-.8h0m5.7 1.9h0m3.1-1.7h0m.6 1.8h0m2.6-2h0m3.2 1.9h0m.7-1.2h0m.9-.2h0m-32.8 4.2h0m.3-.7h0m1.1 .5h0m2.6-1.8h0m1.2 .4h0m.1 .7h0m1 .1h0m14.6-.4h0m2.7 .5h0m1.8 .4h0m5.6 .5h0m.9-1.3h0m8.2 1.5h0m-40.3 .6h0m.2 .6h0m.1-.2h0m.8 0h0m1.2 2.1h0m3.1-.8h0m16-2h0m.9 1.3h0m.6 .3h0m1.3-1h0m4.1 1h0m-25.6 2.9h0m.4 1h0m10.6 0h0m.2-.1h0m.5-1.5h0m1.6 .7h0m10-.4h0m.9-1.2h0m.8 1.4h0m1.9-1.4h0m1.8 1.7h0m-28.2 2.6h0m1.6-.7h0m1.7 0h0m5.8 2h0m.7-.5h0m.2-1.3h0m1.6 0h0m1.9 1.6h0m2.9-.9h0m3.4-.9h0m.5 1.7h0m.6-.1h0m-15.4 .9h0m1.8 .4h0m.2-.4h0m1.1 1.7h0m1.8 .2h0m.6-.2h0m.7-.4h0m5.5-.8h0m1.2-.5h0m.6 1.1h0m.3-1h0m1 2h0m.2-.2h0m1.8-1.2h0m.6-.8h0m-17.5 3.3h0m1.8 .2h0m.9 .5h0m4.2 1.1h0m.5-1.1h0m.2 .9h0m5.9-.1h0m.4-.6h0m.9-.6h0"/>
<path stroke="#002aff" d="M308.6 288.9h0m-6.4 3.5h0m1.7-.6h0m3.3 .4h0m1.4-.8h0m1.3 .7h0m.8-1.1h0m-8 1.6h0m.8 .7h0m7.7 .7h0m-27.2 2.9h0m21.9-.6h0m7.1-.5h0m-33 5.4h0m37.8 .1h0m-39.2 1.3h0m8.6 0h0m.5 .6h0m.7-.3h0m1.9-.3h0m1 1.1h0m1.2-.5h0m1.1 .9h0m1.2-.2h0m22.4-.3h0m3-.1h0m-45.2 3.9h0m.5-1.2h0m11.8 .8h0m1.2 .3h0m.7-2.3h0m.1 1.7h0m.8-1.8h0m.8-.1h0m1.5 2.5h0m2-2.6h0m3.2 2.7h0m20.2-2.7h0m4.1 .2h0m-49.4 4.9h0m.2 .3h0m1-.5h0m.1-.5h0m.2 .3h0m1.1-1.6h0m.4-.2h0m17.2 1.8h0m2.8-1.1h0m2.1-.6h0m1.2-.2h0m.8 2.9h0m4.3-.2h0m13.6-1.5h0m.1-.6h0m.5-.5h0m.4 .2h0m.1 1.3h0m-47.1 2.9h0m.4-.6h0m.1-.3h0m.2 1.1h0m20.7 .2h0m6.5 .3h0m0 .6h0m.6-2.5h0m2.6 2.6h0m.1-1.1h0m3.7 .7h0m2 0h0m7.5-2.1h0m0 .4h0m1.4 1.6h0m-19.5 1.1h0m.9 .2h0m9-.1h0m.4 1.2h0m1.5-.7h0m2.8-.3h0m3.8 .3h0m11.3-1h0m.1 .6h0m-.5 3.2h0m-8.7 2.5h0"/>
<path stroke="#0055ff" d="M307.9 288.6h0m-18.4 2.9h0m1.9-1.1h0m11.2 1h0m.3 .3h0m3.7 .1h0m1-1.8h0m2 2.1h0m1.1-.8h0m-21.6 1.4h0m17.8 1.6h0m2.1 1h0m1.3-2.1h0m-28.4 4.3h0m.2-.5h0m16.8-1.2h0m6.3 1.7h0m.8-1.6h0m10.1 .7h0m-36.1 4.3h0m0-1.3h0m13.2 1.4h0m10.8-2.1h0m6.9 1.3h0m5.7-1.7h0m-38.2 4.2h0m.4 1.5h0m9.4-1.7h0m2.3 1h0m.3 .3h0m.8-.6h0m0 .8h0m1.2-.1h0m2 0h0m23.7 .1h0m3.1-.4h0m-46.3 3.5h0m1.3-2.3h0m.7-.1h0m15.3 2h0m5.7-.9h0m2.9 .9h0m16.2-1.4h0m9.3 .8h0m-54.7 3.7h0m.4-.1h0m.7 .7h0m1.2-2.3h0m.6 0h0m.1 .1h0m17.1-.3h0m2.7 2h0m.5-.7h0m1.1-1.1h0m2.2-.4h0m0 1.4h0m2.4-.7h0m1-.9h0m14.3 2.1h0m.8 .3h0m.4-1.8h0m-46.1 3.8h0m.2 0h0m.1-.6h0m.5 .4h0m.2-.3h0m24.5-.9h0m5.3 1.5h0m.5 .6h0m.3-2h0m1.1 .4h0m.5-.4h0m.1 1.5h0m2.3-.9h0m.9 1.3h0m.3 .1h0m2.7-.1h0m5.6 .1h0m.6-1.4h0m-9.5 2.5h0m18.7 2.6h0m2.2-.6h0m-8.2 3.2h0m.9 .4h0m1.8-.6h0m1.9-.6h0m-6.8 1.6h0"/>
<path stroke="#007fff" d="M296.6 286.3h0m3.5-.9h0m-8.9 3.9h0m3.3-2.5h0m.5 1h0m1.3 .6h0m.3 .2h0m1.9-.4h0m2.9 .3h0m5.2-.2h0m1.8 .7h0m.2-.5h0m-21.3 3.4h0m.3-1.1h0m1.6 1.5h0m1.3-1.4h0m.5 .6h0m2.8-1.2h0m2.1-.5h0m5.1 2.4h0m.3-1.3h0m1.5 1.3h0m1.4-1.2h0m4.5 1.4h0m.9-.3h0m.1-2.1h0m.2 .8h0m.1 .6h0m1 .2h0m.7-1.3h0m.3 1.9h0m-28.8 2.5h0m1.8-.3h0m.5 .5h0m.1 .3h0m.2 .1h0m.2-1.1h0m.1-.3h0m.7-.8h0m10.3 1.2h0m.8 .9h0m1.8-1.4h0m3.4 1.4h0m.3-.9h0m.2 .4h0m1.9-1.7h0m.5 1.9h0m.5-.2h0m2.9-1.1h0m.2 .7h0m.3-.9h0m4.8 .4h0m-32 4.6h0m0-1.8h0m.1-.6h0m0 2.2h0m8.1 .3h0m12.2-.4h0m1.6-1.8h0m.8 .4h0m.2 .5h0m1 .8h0m1-1.3h0m7.9-1.1h0m-36.6 4.9h0m.3 .9h0m1-.2h0m.8-1.2h0m.1 .5h0m1-1.2h0m.5-.6h0m8.1 2.1h0m16.1-2h0m.3-.1h0m.3 .3h0m1.6 2.2h0m.6-2.1h0m.3-.5h0m3.4 1.9h0m-35.4 2.9h0m.4 .5h0m.3-.7h0m.9-1.5h0m11.2 .1h0m.9 .8h0m1.1 1.8h0m.3-2.9h0m1.1 1.8h0m20.7-1.4h0m.4 2.4h0m.2-.9h0m.9 .4h0m1.6 .2h0m1.5-.2h0m-44.6 3.7h0m.5 0h0m0-.7h0m.1 .5h0m.3-.8h0m1.4-.9h0m16.4-1h0m2.6 1.1h0m1.4 0h0m17.7 1h0m10-.1h0m1.2 0h0m-54.2 3.8h0m.2-.4h0m.9-.6h0m.2-1h0m.6-.2h0m.2 .4h0m1.5-1h0m18.3 1.5h0m5.5 .8h0m1.5-1h0m1.4-.8h0m1.6 .2h0m1.7 2.1h0m11-1.6h0m.4 1.2h0m.9-2.3h0m10.3 2.6h0m-57 1h0m.2-.3h0m.2 .7h0m.6-.2h0m.7-.3h0m34.8 1.1h0m2.4 .4h0m.1 .4h0m.6-.6h0m16-1.7h0m.8 1.8h0m-1.6 2.2h0m.6-.8h0m.7 2.2h0m-8.6 3.2h0m1.6-.9h0m0 .3h0m.7 .1h0m2.7-.9h0m1.1-.4h0"/>
<path stroke="#00aaff" d="M303.8 285.9h0m-13.1 2.7h0m.4 .8h0m.2-1h0m2.9-1.3h0m1.7-.2h0m0-.3h0m.6 .5h0m.8 .2h0m0-.2h0m.8 1.7h0m.2-1.3h0m.3-.1h0m1.2 .7h0m.5-1.4h0m0 1.3h0m1.2-1h0m2.2 1.2h0m.3-.7h0m.4 1.1h0m1.1-.6h0m1.2-.2h0m.9-1.1h0m3.9 2.4h0m-23.5 2.7h0m.3-.8h0m.4 1h0m.1-1.4h0m2.3 1.4h0m.1-.2h0m.3-.5h0m1.9-.7h0m.5-.8h0m7.8 2.3h0m2.1 .1h0m3.4-.8h0m.5-.2h0m.7 .3h0m1.6-1.4h0m.1 .4h0m.1 .6h0m2.2 .4h0m-26.1 3.2h0m.1-.6h0m.2-1.2h0m.4-.2h0m.9 2.1h0m.1-2.2h0m8.3 1.4h0m0 0h0m.3 .3h0m2-1.6h0m.1 .2h0m4.4 .2h0m2.5 2h0m5.7 0h0m.9-1.3h0m1.1-.3h0m.1 1.3h0m.6-.6h0m.4 .8h0m-33.2 3.4h0m1-.3h0m.2 .3h0m.3-1.9h0m0 1.4h0m.8-1.7h0m.3 0h0m20.3 2h0m2.7-1.3h0m.3 1.2h0m.5-1h0m.1 1.3h0m.6-.7h0m7.4 .3h0m.5 .1h0m-36.8 2.6h0m.9-1h0m.1 0h0m.5 .9h0m.9-.8h0m20 .4h0m13.8 1.1h0m1.1-.3h0m-38.8 1.9h0m.3 .8h0m0-.5h0m.2 .2h0m.2-1.8h0m.1 .2h0m.5 .6h0m.1 .1h0m.3-.5h0m.2-.4h0m14.2-.1h0m.5 1.8h0m0 .4h0m.5-.7h0m.6 1.3h0m18.8-.4h0m.7 .3h0m2.2 .2h0m.1-.5h0m3.1 .4h0m-45.6 2h0m.4 1.1h0m1.6 0h0m.2-.8h0m0-1.3h0m.5-.6h0m.7-.1h0m20.1 .2h0m.2 2.5h0m2.4-1.6h0m16 .5h0m5-1.7h0m2.3 .2h0m1 2h0m.5-.6h0m-51.4 2.1h0m.1-.2h0m28.5 0h0m.5 1h0m.5-1h0m1.6 1.6h0m1.2 .9h0m20-1.7h0m1.1 .1h0m-57.2 3.2h0m1.5-1.1h0m35.1 .2h0m7.6-.4h0m12.7 1.9h0m.1 .3h0m-.5 2.8h0m.7-.3h0m.2-1h0m-8.4 4.5h0m.6 .2h0m3.1-1h0m2.6-1.4h0m.3 .7h0m-6.2 2.4h0m.4-.1h0"/>
<path stroke="#00d4ff" d="M298.4 286.3h0m.4-.2h0m.4-.3h0m3.1-.2h0m2.4 0h0m.3 .9h0m.2-.6h0m2.3 .5h0m.6 .1h0m-16.9 1.5h0m2.2-.9h0m2 1.9h0m.8 0h0m.9-2.3h0m1.1 2.5h0m1.6-.9h0m1 .2h0m0-1.1h0m1.1 .5h0m1.3-1.1h0m.7 1.8h0m1.6 .4h0m.1-2.5h0m.3 2h0m-17 2.1h0m.6 .3h0m.6 0h0m3-.4h0m0-.6h0m2.2 .1h0m4.6 2.5h0m1.2-.7h0m.6 .6h0m1.5-1.5h0m.3 .7h0m.3-.5h0m3-.2h0m4 1h0m.1-1.3h0m2.6 1.2h0m-28.4 3h0m1.3-1.5h0m.3-.8h0m0 .9h0m1.5-.4h0m10 2.3h0m5.6-2.6h0m0 2.8h0m.8-1.5h0m.3-1h0m.2 .3h0m1.6 1.7h0m2.1-2h0m.3 2.3h0m2.3-1.2h0m.1 .1h0m.2 .4h0m1.7-.9h0m-31.1 4h0m.7-1.7h0m.4 2h0m.7-2h0m.1 .6h0m7 1.9h0m8.4-1.4h0m.4-1.2h0m4.4 2.3h0m1.4-1.2h0m1.8-1.2h0m.1 .1h0m.6 0h0m.7 .3h0m1 1.9h0m.9-2h0m1.9 .2h0m-33.6 5.1h0m1.2-1.7h0m.2-.4h0m.5 1.4h0m.2-1.3h0m.9-.7h0m22.1 2.6h0m3.7-1.2h0m.8-1.1h0m.3 .4h0m5.2 1.4h0m.4-.7h0m.6 1.2h0m.6-.1h0m-36.5 1.1h0m14.9 .7h0m1.1 .9h0m.4-1.3h0m11.1-.9h0m6.4 .3h0m.4 2.2h0m1.3-1.4h0m1.5 .9h0m1.9-.6h0m1.7 .7h0m1.2-.3h0m2.6 .8h0m-47.5 1.7h0m.3-.7h0m17.6-.7h0m5.9 .6h0m.1 .2h0m.4 1.1h0m.1-1.6h0m.6 2h0m1.5-.2h0m12-1.3h0m2.3-.8h0m1 1.9h0m.3-1.9h0m6.4 .7h0m.4 .4h0m0 .6h0m.3 .6h0m.5 .3h0m-52.9 3.3h0m1.6-2.2h0m52.4 .4h0m0 1.8h0m.3-1.7h0m-55.7 2.7h0m.4-.9h0m39.2 1.8h0m3.4-1.1h0m12.5-.4h0m.1 1.9h0m-1.2 3.4h0m-4 2.6h0m1-.4h0m.3 .4h0m3.1-1.7h0m-5.1 2.9h0m.8-.3h0"/>
<path stroke="#00ffff" d="M301.4 286h0m.2-.3h0m.4 .4h0m.1-.5h0m.7 .5h0m-11 2.7h0m2.6-.9h0m1.3 .4h0m1.5-.5h0m3-.4h0m1.8-.6h0m.7 0h0m1.3 .8h0m1.7 .1h0m.1-.1h0m0-.7h0m.4 1.8h0m0-.8h0m.6 .9h0m.8-.7h0m0-.4h0m1.9 0h0m-22.4 4.1h0m2.1-.6h0m1.3-.3h0m3.5-.5h0m17.4 .5h0m1.9 .5h0m-25 1.4h0m15.8 1.9h0m4.5-.3h0m3.3 .4h0m.1-.5h0m-18 1.3h0m2.1 .8h0m2.6 .3h0m.4 .4h0m8 .7h0m5.1-1.5h0m2-.7h0m-34.5 5.7h0m11.8-2.5h0m10 .2h0m3.9 1.7h0m1.5 .1h0m.7-2.3h0m6.4 1.9h0m1.8 .4h0m.4 .1h0m-36.7 .7h0m15.4 .4h0m15-.4h0m4.2 1.9h0m.8-1.5h0m.4 2.1h0m2.8-.4h0m1.5 .2h0m1.7 .3h0m1.4 .1h0m-45.9 1.6h0m38.4 .3h0m7.2-1.5h0m1 .4h0m.6 .5h0m.2-.4h0m-48.6 2.5h0m40.1 1.6h0m-6.5 2.7h0m.1-.6h0m1.4 .8h0m16.3 4.2h0m-8 2.7h0m1.5-.5h0m3.2 1.2h0"/>
<path stroke="#2affd4" d="M301.5 285.8h0m3.4 1.8h0m1.5 .6h0m.5-.5h0m1.4-.2h0m-.8 4.3h0m3.3-.3h0m-15.8 3.8h0m8.9-2.2h0m1.3-.2h0m7.4 .6h0m-29 4h0m13.4-.6h0m0-.5h0m3.7 1.7h0m10.7-2.2h0m3.5 2.2h0m.5-.3h0m0-.3h0m.1 0h0m-16.7 1.9h0m2.5 .1h0m.2 .5h0m.8 0h0m3 1.2h0m6-1.6h0m5.9 1.8h0m-17.1 3h0m2.9-2.5h0m6.2 .1h0m9 1.5h0m2.8 .8h0m-45.1 2h0m39 .3h0m-7.2 3h0m7.3 .3h0m-8.2 .6h0m22.4 1.3h0m-10.5 7.5h0m5.1-.8h0m2.9-.9h0"/>
<path stroke="#54ffaa" d="M304.5 286.4h0m3.1 1.5h0m-.5 2.9h0m-3.3 4.2h0m-7.3 1.9h0m-1.1 6.3h0m5 .9h0m3.5-.5h0m.7 0h0m2.8-.3h0m2.5-.3h0m-9 1.7h0m4 0h0m8.4 5.4h0m-3.6 1h0m16.8 5.3h0m-5.5 2.7h0"/>
<path stroke="#7fff7f" d="M295.9 295.2h0m-4 2h0m.6-1.5h0m.8 1.1h0m0-.7h0m3.9 1.9h0m-1.3 .7h0m1.3 2.7h0m3.4-1.2h0m.2-.6h0m1.5 1.5h0m-2.4 1h0m1.2-.3h0m2.2 1h0m3.8 0h0m5.8 .8h0m1.5 .6h0m-14.6 1h0m3.3 .9h0m11.3 2.6h0"/>
<path stroke="#a9ff55" d="M295.8 300.8h0m1-2h0m2.1 2.3h0m1.8 0h0m1.3 .9h0m2.1 1.4h0m3.9-.5h0m2.1 .2h0m-9 1.4h0m12.1 .5h0m.9 2.2h0m-5.2 2.9h0"/>
<path stroke="#d4ff2a" d="M294.4 296.7h0m.2 .2h0m.3 .5h0m.6 .4h0m.6-1h0m-.3 3.9h0m1.6 .3h0m.6-.8h0m.2-.9h0m.9 1.2h0m1.4 .4h0m1.6 1.9h0m1.9 .7h0m3.3 .5h0m-2.4 .7h0m7.2 6.5h0"/>
<path stroke="#ffff00" d="M293.4 297.3h0m.7 .9h0m3.6 2.1h0m1.5 .5h0m1.7 1.7h0m2.2 1.4h0m4.9-.2h0m1.1 .4h0m-3.3 2.8h0m2.2-2.2h0m1.5 4.7h0"/>
<path stroke="#ffd400" d="M293 297h0m1 0h0m0 .3h0m5.2 4.3h0"/>
<path stroke="#ffa900" d="M299.7 301.7h0m.6-.2h0m9.2 2.9h0m-1.1 .6h0m-.4 4.8h0m5.5-1.5h0m-2.7 2.6h0"/>
<path stroke="#ff7f00" d="M308.2 308.1h0m3.3 2.1h0"/>
<path stroke="#ff5500" d="M308.4 304.9h0m1 4.9h0m3.8-1.2h0m.9 .8h0"/>
<path stroke="#ff2a00" d="M307.5 307.8h0m4.9 1.8h0m.5-.1h0"/>
<path stroke="#ff0000" d="M311.9 305.5h0m-2 3.8h0m2.8-1.7h0"/>
<path stroke="#d40000" d="M309.9 305.7h0m2.6 2.4h0"/>
<path stroke="#a90000" d="M310.1 308.7h0"/>
<path stroke="#7f0000" d="M310.1 309.2h0"/>
</g>
<rect x="269.6" y="280.4" width="61" height="60.6" fill="none" stroke="#2a2a2a" stroke-width="0.95"/>
<path d="M269.6 280.4h-1.4M269.6 341v1.4M269.6 295.5h-1.4M284.9 341v1.4M269.6 310.7h-1.4M300.1 341v1.4M269.6 325.8h-1.4M315.4 341v1.4M269.6 341h-1.4M330.6 341v1.4M269.6 280.4h-0.8M269.6 341v0.8M269.6 284.2h-0.8M273.4 341v0.8M269.6 288h-0.8M277.2 341v0.8M269.6 291.8h-0.8M281 341v0.8M269.6 295.5h-0.8M284.9 341v0.8M269.6 299.3h-0.8M288.7 341v0.8M269.6 303.1h-0.8M292.5 341v0.8M269.6 306.9h-0.8M296.3 341v0.8M269.6 310.7h-0.8M300.1 341v0.8M269.6 314.5h-0.8M303.9 341v0.8M269.6 318.3h-0.8M307.7 341v0.8M269.6 322.1h-0.8M311.5 341v0.8M269.6 325.8h-0.8M315.4 341v0.8M269.6 329.6h-0.8M319.2 341v0.8M269.6 333.4h-0.8M323 341v0.8M269.6 337.2h-0.8M326.8 341v0.8M269.6 341h-0.8M330.6 341v0.8" stroke="#222" stroke-width="0.5" fill="none"/>
<text x="266.6" y="282.2" font-size="5.0" font-weight="normal" text-anchor="end" fill="#333">60</text>
<text x="266.6" y="297.3" font-size="5.0" font-weight="normal" text-anchor="end" fill="#333">30</text>
<text x="266.6" y="312.5" font-size="5.0" font-weight="normal" text-anchor="end" fill="#333">0</text>
<text x="266.6" y="327.6" font-size="5.0" font-weight="normal" text-anchor="end" fill="#333">-30</text>
<text x="266.6" y="342.8" font-size="5.0" font-weight="normal" text-anchor="end" fill="#333">-60</text>
<text x="269.6" y="348.2" font-size="5.0" font-weight="normal" text-anchor="middle" fill="#333">-60</text>
<text x="284.9" y="348.2" font-size="5.0" font-weight="normal" text-anchor="middle" fill="#333">-30</text>
<text x="300.1" y="348.2" font-size="5.0" font-weight="normal" text-anchor="middle" fill="#333">0</text>
<text x="315.4" y="348.2" font-size="5.0" font-weight="normal" text-anchor="middle" fill="#333">30</text>
<text x="330.6" y="348.2" font-size="5.0" font-weight="normal" text-anchor="middle" fill="#333">60</text>
<text x="300.3" y="274.8" font-size="8.9" font-weight="bold" text-anchor="middle" >CD16</text>
<g stroke-linecap="round" stroke-width="1.7" fill="none">
<path stroke="#00007f" d="M371.6 292.4h0m1.9-.7h0m2.4 .3h0m.6-.5h0m.2 .6h0m4.9-.5h0m2.2 .9h0m3.1-.9h0m-16.2 2h0m.9 1.2h0m2 .7h0m3.2-.7h0m1.2-1.5h0m0 .4h0m1.2 1.4h0m1.3 .1h0m1.3 0h0m.8-.6h0m1.5-.9h0m0-.3h0m.8 .1h0m.2 .8h0m1.4-.4h0m.1 .6h0m1.1-.5h0m.1-.3h0m.6-.1h0m.7 1.6h0m.6 .2h0m-24.4 2.8h0m.1-.7h0m1.7 .5h0m0-2h0m.6 .8h0m1.1 .7h0m1-.8h0m.5 0h0m.1-.1h0m.6 .6h0m.7 .4h0m.5-.8h0m1-.1h0m1.5 1.7h0m3.6-.8h0m.1 .2h0m.1-1.9h0m.4 1.1h0m.1 .6h0m.3-.1h0m.4-.3h0m.6-.1h0m.5-1.5h0m.1 2.5h0m.7-.1h0m1.2-2.3h0m.6 2.4h0m2.8-1.4h0m.5-.3h0m.7-.8h0m2.2 2.4h0m.2 .1h0m.3 .3h0m-26.1 2.9h0m.6 .1h0m.2-2.5h0m1.7 2.5h0m4.2-2.9h0m.9 1.6h0m.1 1.3h0m.2-2h0m.4 .7h0m.1 .5h0m2-1.5h0m.6 1.3h0m.1-.4h0m.5 .4h0m.1-1.1h0m.4 .1h0m.8 2h0m.9-2.4h0m.8 2.3h0m2.4-1.9h0m.1 1.6h0m.8 .2h0m.1-2.5h0m.6 .3h0m.6 .3h0m.2 2.1h0m1.6-1h0m2.1 .1h0m1.1 .2h0m1 .8h0m-28.3 1.6h0m.4-.4h0m0-.2h0m.7 .6h0m3.5-.2h0m.7 .8h0m.6-.4h0m.6 .1h0m.2 .3h0m.1-1.7h0m1.2 1.5h0m.2-1.2h0m.6 .9h0m.3-.6h0m2.5-1.1h0m.6 .6h0m.4-.3h0m.3 .2h0m.3 .4h0m3.7 .6h0m.9 1.3h0m.3-1h0m.3-1.7h0m2 1.5h0m.1-.4h0m.8 .5h0m1-1.4h0m.9 2.1h0m2.2-1.4h0m.1 .5h0m.9 .4h0m.1 .1h0m.3 1h0m1-2.6h0m0 1.1h0m.7 1.1h0m1.1 0h0m.8-2h0m-33.7 5.3h0m1.6-2h0m.4 1.5h0m.1-.6h0m.4 .4h0m.2-.5h0m0-1.4h0m.6 1.2h0m0 1.1h0m.3-1.1h0m.4 .5h0m.2 .8h0m.5 0h0m.3-1.6h0m.3 .7h0m.1-.7h0m.2 1h0m.1-.2h0m.3-1.5h0m0 1.1h0m1.3-1.5h0m.9 2.2h0m.6-1.9h0m1 2.1h0m.9-2.5h0m.4 1.1h0m.3-1.1h0m.6 1.1h0m1.9-.4h0m2.3 0h0m1.1 1.4h0m.5-.8h0m.1 1.3h0m1-.4h0m5.3 .5h0m.4-2.4h0m4.4 2.3h0m1.8 0h0m.7-1.1h0m-32.2 3.9h0m1.4-.7h0m.3 .3h0m.8-1.9h0m1.1 2.2h0m.4-2.3h0m1.1 .4h0m2.8 .3h0m0-.2h0m.4 .6h0m1.2 .7h0m.1 .5h0m1.5-.3h0m1.1-.1h0m.2 .6h0m1 .1h0m.3-.5h0m0 .5h0m.5-2.3h0m.6-.3h0m.5 .1h0m.2 1.1h0m.6-.9h0m1.1 2.5h0m.1-.3h0m1.3-2.2h0m2.3 .8h0m.3 1.7h0m.4-1.9h0m1.5 1.9h0m1.3 0h0m1.8-.5h0m1.4-.6h0m1.1 .5h0m1.4-1.8h0m1 .5h0m0 2.1h0m.8-2.5h0m1.9 .8h0m.6-.3h0m.2 1.5h0m-34.5 1.6h0m.2 1.7h0m.4-2.1h0m1 1h0m1.2 .6h0m.4-.4h0m.5-.2h0m1.6 .9h0m.1-.3h0m2.6-.7h0m.9 .3h0m.1-.1h0m5.5 .1h0m2.7 .7h0m.1-1.9h0m0 1.8h0m1 .1h0m.2-2.3h0m.4 1.9h0m.2-.7h0m.6-.1h0m0-1.2h0m.1 .7h0m0-.6h0m3.8 1.8h0m.5-1.1h0m.5 .7h0m2.1-1h0m.5 1.8h0m.1-1.6h0m.4 1.6h0m0 0h0m.2-.3h0m.4-2h0m.8 .8h0m4.9 1.9h0m10.5-.9h0m.5 .2h0m-44 1h0m1 2.7h0m.1-2.7h0m0 .2h0m.7 .2h0m.8-.1h0m.2 0h0m1.4 .4h0m.4 .9h0m.6 .7h0m.1 .4h0m.2-2.2h0m.9 2.1h0m1.5-1.4h0m3.1 1.5h0m7.4-2.8h0m1.1 2.6h0m.6-.7h0m.3-1h0m.8-.9h0m1.3 1.9h0m.5-.7h0m.2-1h0m.1 .3h0m.2 1.6h0m.5-.4h0m.6 .1h0m0-.7h0m.5 .1h0m3.2-.5h0m.7 .8h0m2.4 .9h0m.8-1.1h0m.1-.3h0m.6 .1h0m.6 1.6h0m.4-1.9h0m9.9 .2h0m0 1h0m-45.2 1h0m.7 2.2h0m.4 0h0m.2-.3h0m0-1.9h0m.4 .6h0m.3-.1h0m.2 .4h0m.2-.5h0m.5 2.2h0m.1-2h0m.2 1.3h0m.4-1.2h0m.3 .7h0m.4-.1h0m.6 1.2h0m.6-1.7h0m0 0h0m.2-.5h0m.8 0h0m.2 .7h0m0 .4h0m.5 .5h0m.1-1.9h0m1.4 .2h0m1.1 1.7h0m1.4-1h0m.1 .4h0m.8 1.5h0m2.6-1.2h0m.3-.5h0m0 1h0m.6-1.9h0m1.7 2.7h0m.3-.7h0m1.5 .6h0m.6-.2h0m1.1-2.5h0m.7 1.1h0m0-.3h0m.2 1h0m.1 .2h0m.5 .7h0m.1-2.1h0m.6 1.3h0m.4-1.7h0m.6 .3h0m.5 .1h0m.7-.2h0m.1 1.1h0m.5 1.2h0m.2-2.5h0m.6 1.5h0m.2-1.8h0m.9 2.3h0m.5-1.2h0m1.1 1.8h0m.3-.3h0m.3-2.2h0m.8 .1h0m.6-.1h0m.9 2.4h0m.6-.4h0m.2-1.5h0m.1 1.3h0m.6-1.8h0m.5 2.5h0m.9-1.3h0m5.8 .8h0m.7-1.5h0m-48 3h0m1.6 1.8h0m4.6-.4h0m1.9-1.3h0m0 .7h0m0 .6h0m.2-1h0m.2 .6h0m0 .7h0m.1-.3h0m.1-1.6h0m.2 1.6h0m1.5-.3h0m.8 .4h0m2.1 .1h0m.1-1h0m.1 .7h0m4.9 .4h0m2-2.2h0m1.1 2.3h0m0 .1h0m.6-.4h0m2.4-2.4h0m1.6 2.1h0m.1-.1h0m1.5-1.6h0m.2 .8h0m.6 1h0m1.3 .4h0m.1-.9h0m.7 .1h0m.2 .4h0m.5-1.1h0m1.1 .3h0m1.2-.8h0m.3 1h0m.4-1.2h0m.3 2h0m.4-2h0m.4 .3h0m0 .8h0m2.7-.5h0m.4-.2h0m.2 1.7h0m.8-1.7h0m.7 .2h0m-36.6 4.3h0m2.8-2.4h0m4.1 2.2h0m.4 .7h0m.3-.6h0m2.3 .2h0m.4-.1h0m1.7-.4h0m1.1-1.7h0m.5 .5h0m1.2-.7h0m3.3 2.3h0m.2-1.1h0m1.5 1.1h0m3.6-.6h0m3.2-1.1h0m2.9 .7h0m1.3-1.1h0m1.9 1.2h0m1 .9h0m1.6-1.3h0m0 .9h0m.3-.3h0m-34.4 3.4h0m7.2-.6h0m.6 .1h0m.2-1.3h0m1.1 1.7h0m.3-1.3h0m.2 .4h0m.5-1.1h0m.7 1.4h0m.5-.1h0m.1-1h0m.5 .5h0m.4 2h0m2.4-1.3h0m1.1 .3h0m.1-.8h0m1.1-.9h0m0 .2h0m.8 2.5h0m1.7 0h0m2.2-1h0m.4-1h0m3.9 .7h0m1.2 1.4h0m1.8-2.3h0m0 1.8h0m1-2.1h0m.6 1.1h0m1.5-1h0m-22.2 5.2h0m1.4-.6h0m.2-.3h0m.4-.5h0m.1-1.1h0m.3 0h0m.2 2.2h0m.4-2h0m.2 1.5h0m1.1 .6h0m.1 .3h0m0-2.5h0m.5 2.4h0m0-2.2h0m.8 1.5h0m.2 .4h0m.4-1.2h0m1.3 1.4h0m.7-.5h0m1.1-.7h0m0-.8h0m.6 1.2h0m.1 .6h0m1.1-1.6h0m.5 .2h0m1.3 .1h0m.1 1.4h0m.2-1.9h0m.2 .3h0m.2 .5h0m.6-.7h0m.8-.5h0m.4 0h0m.5 1h0m.1 .7h0m.1 .1h0m1.1 .8h0m0-2.5h0m.3 2.1h0m.1-.1h0m0-2h0m.3 2.4h0m.3-.1h0m.6-2.2h0m-16.2 3.5h0m.7-.8h0m.5 .9h0m0-.2h0m4.4 1.5h0m.5-.1h0m.2-.5h0m.2 0h0m.9-.2h0m1.4-.3h0m.4 1.3h0m.4-1.4h0m.4 .8h0m1.7-.2h0m.2-1h0m.7 .9h0m0-.4h0m0 1h0m1.4-1.2h0m.1 .4h0m-9.7 2.2h0m1.7-.4h0m1.4 .3h0m2.6-.4h0m.7 1h0m.3-.3h0"/>
<path stroke="#0000aa" d="M375.6 292.2h0m0 0h0m.1-.3h0m.3-.2h0m.4 .2h0m.7-.4h0m.9 .6h0m3.2 .1h0m.3-.4h0m.4-.1h0m2.3-.2h0m1.5 .3h0m1.3-.6h0m-18 3.9h0m.9-1.3h0m.2 .9h0m2.9-2h0m.6 .6h0m3.1-.4h0m0 1h0m.4-.7h0m.1 1.8h0m.2-.5h0m1-.7h0m.3-1.3h0m.4 .8h0m.6-.2h0m.2 1.9h0m.6-.3h0m.3 .3h0m3.2-2.4h0m.1 0h0m.2 1.5h0m.4-.1h0m.5 1.4h0m.3-.7h0m.3-.3h0m.2-.5h0m.2 .7h0m1.1 .2h0m-20.5 1.6h0m.5 1.1h0m.3-.1h0m.1-.7h0m.2-.5h0m.1 .9h0m.1 1.2h0m.1-.7h0m.4-.6h0m.6 .2h0m.2-1.6h0m.4 2.6h0m2.3-2.6h0m.9 1.5h0m.6-.9h0m6.6 .4h0m.7 .1h0m.2 .7h0m.2-1h0m.3 .6h0m0 .8h0m.4-1.7h0m.2 .4h0m.3-.6h0m6.3-.3h0m.3 2.4h0m.8-.6h0m.3-.5h0m.3 .7h0m-25.7 3.8h0m.2-2.7h0m2.4 2.5h0m2.2-1.2h0m.4 1.1h0m1.3-1h0m.2 .5h0m1.4-1h0m1.3 1.7h0m1.3-1.6h0m1.2-.6h0m2.5 2.4h0m1.5-.9h0m.5-1.9h0m.4 .8h0m.5 .1h0m.7-.5h0m1.7-.5h0m.3 1.8h0m2.9 .2h0m.3-.7h0m1.1 .3h0m.1-1.6h0m.2 2.5h0m0 .1h0m.6-.1h0m.8-.2h0m-30.6 2.6h0m2.5-.6h0m1.6 .3h0m0 1.1h0m.3-1.7h0m.8 1.5h0m.3-.8h0m1 .7h0m1 0h0m.1-.8h0m.1 0h0m.2-.4h0m.1 .3h0m.6-.5h0m.4 1.3h0m.5-1.2h0m4.1 1.8h0m1-2.7h0m1.6 .8h0m0 .4h0m.7 .4h0m.1 .1h0m1.2 0h0m2.9 .6h0m.5-.4h0m0-.1h0m1.7 .8h0m.6-1.2h0m3.9 .9h0m.4-.4h0m.4-1.7h0m1.8 1.3h0m.2 .7h0m.5 .3h0m.2-.9h0m.4 .8h0m0-.6h0m.4 .5h0m.2 0h0m.7-.6h0m.7 .6h0m.1-.1h0m.1-.4h0m.8 .4h0m.1-.1h0m0-.6h0m.7 1.2h0m1.3-.5h0m.4-.1h0m-39.1 2.8h0m.1-.5h0m1.1-1.1h0m3.8 .5h0m.2 1h0m.9-2h0m1.2 1.6h0m.5 .4h0m1.7 .2h0m1.7-.6h0m.5-.9h0m.1 .9h0m1.5-.2h0m.4-.8h0m1.7-.6h0m.7 .2h0m.2 .8h0m.1 .2h0m.3 1.1h0m.4-1.6h0m1.5 .5h0m1.9-1.2h0m1.2 2.4h0m2.5-2h0m.4-.4h0m.8 .6h0m2.8-.6h0m2.2 .3h0m.4 1.3h0m0-.4h0m.9-.5h0m.2 1.6h0m1.5-.6h0m.5-.8h0m.2 1.3h0m0 0h0m4.6-2.3h0m.5 .9h0m.1 .2h0m.4-.3h0m.6 .3h0m.1 1.6h0m.1-2.3h0m.1 .6h0m.1 1.3h0m.3-.6h0m.5-.4h0m.1 .5h0m.4-.4h0m.1 1.2h0m.4-.5h0m-42.4 2.5h0m.8-1.3h0m.2 .2h0m.8 2.2h0m.7 .1h0m.3-2.5h0m.4 1.6h0m3.5-1.5h0m1 .8h0m1.5-.6h0m.6 1.4h0m.4-.6h0m.5-.9h0m.4 1.2h0m.8-.8h0m.1 .9h0m.6-1.6h0m1.6 .6h0m1.1 .9h0m1.2-1.3h0m.4 1h0m1.4-.7h0m.3-.3h0m.3 .4h0m2.8 1.5h0m1-.1h0m.8-1.2h0m.1 .9h0m1.6-.2h0m.5-.3h0m2 1.3h0m.7-1.4h0m.6 .3h0m1.3 .9h0m.8-.7h0m.5 .6h0m.7 .3h0m1-2.3h0m.1 .7h0m.1-.2h0m.5 .8h0m7.9 .1h0m.5-.1h0m.3-.1h0m0 .4h0m.4 .7h0m-44.8 3.1h0m.4-1.1h0m.2 1h0m.4-.3h0m.1-.9h0m2.2 .9h0m1.9-1h0m.1 1.2h0m.3-.1h0m4-1.1h0m6.3 1.3h0m.9-1.9h0m.1 1.7h0m.4-.1h0m.3-.7h0m2.3 1.2h0m0-1.2h0m.5 .8h0m1-2.2h0m1 1h0m.3 .1h0m0-1h0m0 .8h0m1.1-.9h0m.3-.2h0m.9 2.2h0m1.2-.4h0m.1-.6h0m.9 .3h0m.5 .6h0m4-1.1h0m1.3 1.4h0m.1-1.6h0m.1-.3h0m.4 .9h0m.2-1.3h0m.5 1h0m.4 1.2h0m8.8-2.4h0m1.6 .5h0m0 1.8h0m.3-.3h0m-45.4 2.7h0m.3-1.2h0m.2 .9h0m1.4 1.4h0m1.1-.1h0m.1-1.2h0m.4-1.2h0m0 1.1h0m.3 .6h0m.6-1.1h0m.2-.2h0m1.1 .2h0m.2 .2h0m.7 1.2h0m.8 .7h0m.1-.7h0m.7-.9h0m.1-.5h0m.3 1.4h0m1.8-1.8h0m4.7-.3h0m.6-.2h0m.1 .1h0m.9 1.3h0m1.3-.8h0m.6 1.6h0m3.1-.6h0m.2-.5h0m.8 1.6h0m1.2-1.3h0m1.3 .6h0m.1-.3h0m.2-.2h0m.8-.5h0m.1 .8h0m0 .2h0m0 .2h0m.7 0h0m.7-.8h0m4.1 1.2h0m3.5-1.3h0m8.9 1.6h0m.2-1.2h0m0 .2h0m.3 .1h0m0 1h0m.2-2.4h0m0 .8h0m-51.1 4.3h0m.3-.9h0m.1 1.1h0m.2-.4h0m.5 .4h0m6.1-2.7h0m.2 1.5h0m.1-.8h0m.1 1.2h0m.8-1.5h0m1 .2h0m.7 .1h0m.5 .8h0m1.1-1.3h0m.1-.2h0m.1 .7h0m.1-.2h0m.1-.3h0m0 .9h0m.9 .3h0m.3-1.1h0m.1-.4h0m0 2.8h0m.1-1.8h0m.7-.4h0m.6 .5h0m.7-1.1h0m.1 1.9h0m2 .5h0m3-1.8h0m.5 .8h0m.1 1.3h0m4.8-2.2h0m1.2 .5h0m.1-.4h0m.2-.2h0m.1 1.4h0m0-1h0m.9 .8h0m.6 1h0m1.5-1.9h0m.6 .7h0m1.5 .5h0m.1 .1h0m.2-.2h0m.3-1.3h0m.4 .6h0m.1-.9h0m.4 .3h0m.2 .6h0m0 .8h0m0-.4h0m2 .4h0m.6-.4h0m.3 .4h0m.6-.6h0m.2-.6h0m.4-.1h0m.1 .9h0m.6-.6h0m.1 1.3h0m.8-1.6h0m.4 .3h0m3.2 1.3h0m0 .7h0m.6-.9h0m0 .4h0m.2 .3h0m.5-.5h0m1.3-.7h0m.2 .2h0m.2 .8h0m.5-.1h0m.2 0h0m.7-1.5h0m.7-.8h0m.6 .7h0m0 0h0m.2-.5h0m-50.5 3.1h0m.6 0h0m.4 2.3h0m.2-1.4h0m.1-1h0m0 .1h0m.3 1.2h0m0-1.1h0m0 1.4h0m.1-1h0m1.4 0h0m.7 .3h0m.6 .3h0m.2-.1h0m.1 0h0m.1-.3h0m.1 1.3h0m.3-1.1h0m.3 .3h0m.8 1.2h0m.2-.6h0m0 .6h0m.3-1.2h0m.6 .4h0m.3-1.5h0m.5 1.7h0m.3-2.1h0m.3 .2h0m.3 2.5h0m1.2-1.8h0m0 .1h0m.8 1.8h0m.2-1.7h0m.1 1h0m1.7 .7h0m4-1h0m5.4-1.7h0m1 .7h0m1.3-.8h0m.4 .5h0m2.7 2h0m1.2-.1h0m.2-1.2h0m.6-1.1h0m.7 .3h0m.3 .1h0m1.9 .3h0m.1 .5h0m.3 1.3h0m.3-2.4h0m1.1 2.2h0m.1-.1h0m.2 .4h0m.1 0h0m.4-1.9h0m.2 .8h0m.2 .7h0m1-.6h0m.3 .9h0m.3 .2h0m.3-2.5h0m0 .8h0m.2 1.6h0m1-.3h0m.8-.2h0m.1 .2h0m.1 0h0m.3 .2h0m.8-1.5h0m.2-.3h0m.9-.5h0m.4 .1h0m.4-.5h0m.1 .1h0m.7 .1h0m.7 .4h0m.3-.3h0m.8 0h0m1.9 0h0m.7-.3h0m-47.1 3h0m.7 .6h0m.1 .6h0m.1 .3h0m.1-1.5h0m.2 1.3h0m.5 1.3h0m.3-2.4h0m.6 2.3h0m.2-.7h0m1.8-1.7h0m.3 0h0m.9 .2h0m.2-.1h0m.5 .7h0m3.2 1h0m.5 .4h0m.2-1.2h0m2-.1h0m1 .7h0m.8-.3h0m3.8-.7h0m1.6 1.6h0m1.3 .5h0m.3-.6h0m.7-2.3h0m.3 2.3h0m1.3 .4h0m.1-.7h0m.3-.5h0m.1-1h0m.2 1.3h0m7.3-1.6h0m1.8 1.3h0m.7-.5h0m.9 .6h0m.3-.9h0m.2 .6h0m1.3 1.6h0m2.7-2.9h0m-37.4 3.4h0m.2-.3h0m.6 .9h0m.2-.2h0m.1 .7h0m0-1h0m.6 1.2h0m0-.2h0m.2-.6h0m0 .9h0m.2 0h0m.1 .4h0m.2 .4h0m.1 0h0m.1-.7h0m4.9-1.4h0m.8 .7h0m.6 .2h0m.6-.6h0m.6 .1h0m1.2-.1h0m1.5 .7h0m.4-1.4h0m.4 1.9h0m1.3 .8h0m.5-2.1h0m.4 2.1h0m.5-1h0m1.2-1.7h0m.7 2.8h0m.4-1.1h0m.1-.6h0m.1 .2h0m.3-.2h0m1.4-.2h0m1.6 1.1h0m.8-.3h0m.4 .7h0m1-.9h0m0 1.2h0m.7-.2h0m4.2-.2h0m4.4-.9h0m.1 .2h0m.1-.1h0m.5-.4h0m.1 .3h0m.2 .6h0m.1-.9h0m.7 .3h0m-32.4 2.3h0m.1-.2h0m0 0h0m.1 .3h0m.3-.7h0m8.3 .4h0m.7 .8h0m.6-.2h0m1.4-.8h0m.1-.1h0m.2 0h0m.8 1.8h0m.9 .3h0m0-1.9h0m.4 1.6h0m0-.1h0m0 .2h0m0 .2h0m.3 .4h0m.6 .2h0m.9-3h0m.5 1.7h0m.4 .8h0m.3-.9h0m1.1 .4h0m.4 .4h0m.1-.8h0m.5-1.5h0m.5 2.7h0m.3-1.9h0m.6 1.6h0m0-1.4h0m1.7-1.1h0m1.9 .8h0m1 1.1h0m.2-.4h0m.1 .8h0m.2 .2h0m.5 .4h0m.3-.8h0m1.1 .5h0m0-.2h0m.1-2.2h0m1.3 1.1h0m-18.3 2.2h0m2.6 .7h0m.1 .8h0m2.7-.9h0m2 .6h0m.3 .8h0m1.1-1.6h0m.2 1h0m.1-.7h0m.4 .3h0m.8 1.1h0m.1-1.1h0m0 .7h0m1.3-.7h0m1.1 .6h0m.2-.2h0m.3 .2h0m.2-1.8h0m.3 1.3h0m1.7-.4h0m1.1 .3h0m.6-.6h0m-10.6 2.3h0m2.4 .5h0m.3-.2h0m.7-.4h0m2.7 .9h0"/>
<path stroke="#0000d4" d="M383 291.7h0m-12.5 2.4h0m6.9 .9h0m2-1.7h0m3.5 .2h0m.5 .1h0m3 .1h0m-9.4 1.9h0m3.2 .8h0m5.5-.4h0m-9.7 4.9h0m14.5 .3h0m-29.8 1.5h0m1.3 .7h0m2.5-1.2h0m.5 1h0m9.9-1.5h0m.3 .4h0m.7 0h0m14 .6h0m1 1.4h0m.3-1.2h0m.7 1h0m.9-.2h0m-30.7 2.6h0m6.8-1.4h0m4.3 2.3h0m.5-2.5h0m11.7 1.2h0m3.7 0h0m2.3-1.4h0m4.3 .1h0m0 .1h0m2.3 .3h0m-37.2 3.1h0m3.4 .9h0m13.2 1.3h0m5.7-.5h0m.5 .3h0m3.7-1.1h0m15.1 1.2h0m-45.1 1.4h0m.4 .6h0m.1 1h0m3.9-.2h0m19.9-.3h0m7.5-1.4h0m2.2 1.5h0m10.8 0h0m.6-1.1h0m-40.3 4.6h0m4.3 0h0m6.1-1.5h0m11.8 1.6h0m14.9-.7h0m1.5 .6h0m-40.8 1.9h0m1.3 0h0m11.7-.6h0m.1-.3h0m3.2 1.5h0m2.7-1.1h0m.5 1.2h0m7.4 .3h0m0 0h0m4-.7h0m3.9 .5h0m.5-.6h0m.1 .9h0m3.3-.9h0m2-.8h0m.5-.7h0m-43.3 4.3h0m.2 1h0m2.4-.1h0m.9-.5h0m12.4 .7h0m6-.9h0m.9 .4h0m1.2-2.1h0m2.6 1.4h0m4.7 .7h0m1.9-1.4h0m3.6-.5h0m-21.3 5.1h0m6-2.4h0m6.2 .8h0m.6 .4h0m-22 2.8h0m6.6-.2h0m.1 .9h0m16.8-.1h0m-18.3 2.1h0m2.2 2h0m1.3-2.1h0m7.2 .5h0m-12 2.8h0m5.2 1.7h0m4.3-.5h0m3.7-2.2h0m-5.6 4.1h0m2.3-.6h0"/>
<path stroke="#0000ff" d="M380 289.2h0m2.2-1.3h0m0 .8h0m.5-.3h0m-7.5 2.3h0m1.4 .6h0m1.1 .2h0m.1-.8h0m2.7 .4h0m.1-.1h0m1.9 .4h0m1.2 .3h0m.1-1.4h0m.3-.3h0m0 1.5h0m.1-1.5h0m.9 .5h0m.5-.3h0m1.5 1.2h0"/>
<path stroke="#002aff" d="M382.1 289.1h0m.1-.5h0m2.9-.3h0m-8.5 2.7h0m1.4-1.1h0m3.6 1.4h0m0 .1h0m2.4-.3h0m0-.8h0m.3 .4h0m.9 .7h0m.4-.8h0"/>
<path stroke="#0055ff" d="M381.6 287h0m1 1.1h0m-2.7 3.2h0"/>
<path stroke="#007fff" d="M379.3 286.4h0m1.8 .1h0m-4.5 0h0m.6 1.6h0m2-1.4h0m.2 1.2h0m.5 .6h0m.1 .1h0m.3-1.7h0m.2 2.2h0m.4-1.5h0m.8-.8h0m.3 0h0"/>
<path stroke="#00aaff" d="M376.3 286.4h0m.1-.5h0m.5-.1h0m1 .5h0m.1-.6h0m.3 .7h0m-2.9 .6h0m.4 0h0m1.5-.2h0m.7 1.1h0m0-.8h0m.2 .5h0m.7 1.4h0m.4-2.1h0m.2 1.1h0m.5 .1h0m.3-.4h0m.4 .3h0m0 0h0m.4-.4h0m.4-.3h0m.2 .5h0"/>
<path stroke="#00d4ff" d="M375 285.5h0m3.5 .9h0m-6.8 1.4h0m1.9 .7h0m.8-1.3h0m.1 1.1h0m1.5-.1h0m.2-1.4h0m3 .5h0m-9.4 2.3h0"/>
<path stroke="#00ffff" d="M370.2 286.4h0m2-.8h0m.9 .6h0m.1-.5h0m.7-.5h0m1.4 .2h0m.7 0h0m-5.9 2.8h0m.1-1h0m.5-.6h0m.5 .6h0m.3 1.4h0m.1 .1h0m.6-1.6h0m.2 .4h0m1.3 .7h0m.7-.9h0m.1 .9h0m.1-.6h0m0 1h0m1.1-.3h0m-8 1.3h0"/>
<path stroke="#2affd4" d="M368.8 286.1h0m-2.9 2.2h0m.1 .6h0m1.9-2.1h0m.1 .8h0m.3 1h0m.4-1h0m.5 1.6h0m.2-.1h0m.3-.8h0m.7-1.6h0m0 1.5h0m.8-.5h0"/>
<path stroke="#54ffaa" d="M371 286.4h0m-5.7 2.2h0m.3-.1h0m.6-.4h0m2.6 .9h0m-3.9 2.9h0m1.6-1.9h0m.5-.1h0m.4 .4h0m1.2 .3h0"/>
<path stroke="#7fff7f" d="M364.5 290.4h0m1.1-.7h0"/>
<path stroke="#a9ff55" d="M363.5 292.3h0m.3-1.1h0m.1-.5h0m.1 .7h0m.3-.8h0m.2 1.6h0m.8 .1h0m.6-1h0m1.4-1h0"/>
<path stroke="#d4ff2a" d="M362.4 291.9h0m.3-.3h0m.1-.7h0m.4-.2h0m.3-1h0"/>
<path stroke="#ffff00" d="M361.4 291.6h0m.8 .8h0m1.1-.8h0m-1.3 1.8h0m.2-.4h0m1-.4h0"/>
<path stroke="#ffd400" d="M360.7 291.9h0m.9 0h0m.3-.3h0"/>
<path stroke="#ffa900" d="M359.8 293h0m.2 1.5h0m.6-1.7h0m.1-.1h0m0 .4h0"/>
<path stroke="#ff7f00" d="M359 294.3h0m.6 .6h0m.2 .3h0m.8-1.1h0m.4 .8h0m0-1.4h0m0-.9h0"/>
<path stroke="#ff5500" d="M358.5 294.6h0m1.8 .5h0m-.4 .9h0"/>
<path stroke="#ff2a00" d="M358 294.8h0m.6-.2h0m-2.1 2.5h0m.1-1.5h0m.5 1.6h0m.9 .1h0m.2-1.8h0"/>
<path stroke="#ff0000" d="M355.3 297.4h0m.1 .9h0m.7-.5h0m.4-1.2h0m.2 1.1h0m.6-1.8h0m.2 .7h0m.3 .8h0m-1.6 1.2h0m.3 .6h0"/>
<path stroke="#d40000" d="M356.9 298.4h0m.2-1.9h0m-3.9 4.5h0m.1-1.1h0m.3 .8h0m.7-.7h0m.8-.5h0m.4 .4h0m.5-1.3h0m-4.4 5.4h0m-.9 2.9h0m-2.5 1h0"/>
<path stroke="#a90000" d="M354.9 298.4h0m.9-1h0m.5 .6h0m-3.6 3.3h0m.9-.8h0m.1 .8h0m.2 .1h0m.5 0h0m.1-.3h0m0 .2h0m.2-2.5h0m.5 1.3h0m.1-1.2h0m.2 0h0m.1 0h0m-3.7 4.6h0m0-.6h0m.2 .4h0m0 .5h0m.4-2.1h0m.8 1.1h0m.1-1.3h0m-4.9 5.7h0m.5 0h0m0 .1h0m.4 .1h0m.1-.5h0m.1-.8h0m1.1-.4h0m0 .2h0m.6 0h0m.1-.7h0m-4.2 4.8h0m.3-1.1h0m.4-.1h0m-2.7 3.2h0m0 .1h0m.5-1.3h0m.2 .8h0m.4-.1h0m.8-.9h0"/>
<path stroke="#7f0000" d="M352.9 301.1h0m1-2.1h0m.3 2h0m.5-.7h0m1.2-1.4h0m-4.2 4.9h0m.4-1.1h0m.2 .5h0m.1 .6h0m.2-1.1h0m.4-.3h0m0 .9h0m.3-.8h0m0 .2h0m.2-.6h0m-5 5.2h0m.1-.5h0m.2 .4h0m.3 0h0m.1 .2h0m0-.7h0m.3 .5h0m.4-.8h0m.1 .9h0m.2-.4h0m.5-.5h0m.2-1.5h0m.1 .2h0m.2-.5h0m.8 .9h0m-5.3 4.2h0m0 .7h0m.3-1.3h0m.4 1.1h0m.2-.4h0m.4-.3h0m0-.6h0m.2-.2h0m.3-.6h0m0 .1h0m0-.1h0m.1-.3h0m.5 .6h0m-4.1 3.2h0m0 .7h0m.3 .3h0m0-.1h0m0-1.3h0m.2 .2h0m.1-.2h0m.2 0h0m0 .4h0m.3-.3h0m.2-.1h0m.1 .1h0m.3-.7h0m0 .2h0m0 .5h0m.2-.7h0"/>
</g>
<rect x="343.5" y="280.4" width="61" height="60.6" fill="none" stroke="#2a2a2a" stroke-width="0.95"/>
<path d="M343.5 280.4h-1.4M343.5 341v1.4M343.5 295.5h-1.4M358.8 341v1.4M343.5 310.7h-1.4M374 341v1.4M343.5 325.8h-1.4M389.2 341v1.4M343.5 341h-1.4M404.5 341v1.4M343.5 280.4h-0.8M343.5 341v0.8M343.5 284.2h-0.8M347.3 341v0.8M343.5 288h-0.8M351.1 341v0.8M343.5 291.8h-0.8M354.9 341v0.8M343.5 295.5h-0.8M358.8 341v0.8M343.5 299.3h-0.8M362.6 341v0.8M343.5 303.1h-0.8M366.4 341v0.8M343.5 306.9h-0.8M370.2 341v0.8M343.5 310.7h-0.8M374 341v0.8M343.5 314.5h-0.8M377.8 341v0.8M343.5 318.3h-0.8M381.6 341v0.8M343.5 322.1h-0.8M385.4 341v0.8M343.5 325.8h-0.8M389.2 341v0.8M343.5 329.6h-0.8M393.1 341v0.8M343.5 333.4h-0.8M396.9 341v0.8M343.5 337.2h-0.8M400.7 341v0.8M343.5 341h-0.8M404.5 341v0.8" stroke="#222" stroke-width="0.5" fill="none"/>
<text x="340.5" y="282.2" font-size="5.0" font-weight="normal" text-anchor="end" fill="#333">60</text>
<text x="340.5" y="297.3" font-size="5.0" font-weight="normal" text-anchor="end" fill="#333">30</text>
<text x="340.5" y="312.5" font-size="5.0" font-weight="normal" text-anchor="end" fill="#333">0</text>
<text x="340.5" y="327.6" font-size="5.0" font-weight="normal" text-anchor="end" fill="#333">-30</text>
<text x="340.5" y="342.8" font-size="5.0" font-weight="normal" text-anchor="end" fill="#333">-60</text>
<text x="343.5" y="348.2" font-size="5.0" font-weight="normal" text-anchor="middle" fill="#333">-60</text>
<text x="358.8" y="348.2" font-size="5.0" font-weight="normal" text-anchor="middle" fill="#333">-30</text>
<text x="374" y="348.2" font-size="5.0" font-weight="normal" text-anchor="middle" fill="#333">0</text>
<text x="389.2" y="348.2" font-size="5.0" font-weight="normal" text-anchor="middle" fill="#333">30</text>
<text x="404.5" y="348.2" font-size="5.0" font-weight="normal" text-anchor="middle" fill="#333">60</text>
<text x="374.2" y="274.8" font-size="8.9" font-weight="bold" text-anchor="middle" >CD57</text>
<g stroke-linecap="round" stroke-width="1.7" fill="none">
<path stroke="#00007f" d="M419.7 311.1h0m4.6 10.3h0m3.5-1.3h0m.3 1.2h0m-2 4.7h0m1.8 .5h0m.5 1.4h0"/>
<path stroke="#0000aa" d="M453.7 287.2h0m.1 .5h0m1.6-.7h0m-25.5 9.8h0m.7-.5h0m-3.9 5.1h0m0-.2h0m.2-.4h0m.9 .3h0m.5-.2h0m1.9-2.3h0m-5.6 5.8h0m1.4-.6h0m1.7-2h0m.2 .7h0m37.9 1.5h0m.4 .2h0m1.8-.2h0m.2 .2h0m.8-.2h0m.1 0h0m1.3 .1h0m1.3-.3h0m-49.5 2.8h0m.3-.1h0m.3 .9h0m.1-1.5h0m.8 .3h0m.2-.7h0m.1 1h0m.6-1.5h0m45.7 .7h0m1.3-.4h0m1.1 1.7h0m1.4-1.2h0m.2 1.6h0m-53.9 2.9h0m.7-1.7h0m.3-.3h0m42.3 1.2h0m1.4-.5h0m.8-.4h0m.1 .7h0m-47 2.5h0m.2 .5h0m.1-.8h0m.3-.4h0m0-.3h0m.3 .1h0m.3 .7h0m10.5-.9h0m0 2.7h0m.2-1h0m.2 .5h0m.4-.6h0m.2 1.1h0m.2-1.2h0m.6-.3h0m1.1 .8h0m.6 .8h0m.3-1.1h0m23.7 .4h0m1.5-1.5h0m3.3 1.4h0m.2-1.6h0m1.3 .4h0m.6 1.5h0m9.7-2.3h0m.1 2.1h0m.3-.1h0m.2-.3h0m.2 .3h0m-45.4 3.1h0m.1-.2h0m3.3-.1h0m1.6-1.7h0m.2-.1h0m2 2.3h0m1-.3h0m16-.3h0m1 .6h0m.3-.9h0m.2-.1h0m.7 .5h0m.4 .3h0m3.7-1.6h0m2.9 1.2h0m.6-.8h0m.1-.3h0m.6-.1h0m.3 .2h0m.8 1h0m8.4 1.1h0m.2-1.8h0m.3-.5h0m.7 .4h0m-50.9 3.9h0m.3 .4h0m6.1-1.1h0m.2-1.3h0m.5 2.3h0m0-2.3h0m.4 1.6h0m.2-1.2h0m0 .3h0m.1 .5h0m.4-.6h0m.4-.6h0m.2 1.2h0m.4-.4h0m.1 1.4h0m0-.1h0m.1-1.3h0m0 .3h0m.1-.4h0m.3 .9h0m.1 .3h0m.5-.3h0m1-.1h0m0-1.2h0m.7 .2h0m.8-.4h0m.3 .9h0m.1 1h0m1.3-1.2h0m.2 .4h0m.2-1.1h0m.7 2.3h0m2 .4h0m.3-.1h0m3.2-.3h0m.8 .1h0m.5-.8h0m2.1 .9h0m1.2-.4h0m1.4-2h0m.2 1.6h0m.2-1.3h0m.3 .6h0m.2 1.2h0m.4-.3h0m.2-.6h0m.1 1.4h0m1.6-2.3h0m2.2 2.1h0m.1-2.2h0m1.8 .5h0m.4 .9h0m.8-1.2h0m.2 2.1h0m1.3-2.5h0m.9 2.7h0m.9-.5h0m.2-1.1h0m.1 1.3h0m.9-.3h0m.1-.5h0m3.5 .4h0m.1 .6h0m2.6-.9h0m.1 .7h0m.4 0h0m.2 .2h0m.9-1.5h0m.6 0h0m2.1-1.2h0m-51.8 3h0m.2 .9h0m.3-.7h0m.1-.3h0m0 .5h0m.3 2.4h0m0-2.6h0m.3 1.4h0m.5 .4h0m.8-1.2h0m1.7 .7h0m0 .7h0m.3-1.2h0m.1 .2h0m0 1h0m.7 .2h0m.2 .2h0m0-1.2h0m.4 .8h0m.1-.7h0m.3 1.1h0m0 0h0m0 .1h0m.1-.4h0m1.3-.8h0m.5-.1h0m.1 .9h0m.2-1.7h0m.5 1h0m.1 .8h0m1-1h0m1.1 1.2h0m.2 0h0m.2-.9h0m2.1 0h0m6.6-1.2h0m.8-.3h0m1 2.2h0m.6-2.4h0m1.8-.1h0m.5 0h0m1 2.3h0m.1 .3h0m1.2-.6h0m1.1-.8h0m.2 1.1h0m1.4 .3h0m.5-2.6h0m.5 2h0m1-1.6h0m.3-.1h0m.2 1.1h0m.5-.3h0m1.4 .9h0m.8-.5h0m.1 1.5h0m1.4-.7h0m.5 .4h0m.2-1.5h0m.3-.9h0m.1 .8h0m.7 1h0m.6 .3h0m.2 .4h0m.1-.4h0m.6-.9h0m.5-1.4h0m.1 .1h0m1.1 .8h0m.3-.5h0m2-.4h0m2.2 .3h0m-44.9 3.2h0m.1 .3h0m0 .1h0m.1 .2h0m2.5 1.8h0m2.5-2.7h0m.3-.1h0m0 .2h0m1.4 .1h0m.1-.3h0m2.2 1.6h0m.6 .4h0m1.4-.9h0m1.6 0h0m4.3-.8h0m.3 .4h0m3.7 .8h0m1.4 .3h0m.1 .8h0m.4-1.4h0m.2 .8h0m.1-.2h0m4.6-1.3h0m2.3-.4h0m1.5 1.1h0m1.9-.8h0m.6 1h0m.4 .1h0m.2-1.5h0m.3 2h0m1.1 .1h0m1.5-.6h0m.5 0h0m-36.5 2.1h0m.2-.4h0m.3 .2h0m.1 1h0m0-.2h0m.5 .2h0m.1-1.1h0m.1 .5h0m.1 1.6h0m.3-1h0m.1 .3h0m.6-.4h0m.3 .9h0m4.8-1.9h0m.9 .2h0m.6 .2h0m2 .8h0m1.6-1.2h0m.4 .5h0m.1-.3h0m.1 1.4h0m2.2-.2h0m.9 .1h0m.6-.3h0m1 0h0m.1 .5h0m.1-1.9h0m.7 .9h0m.4-.8h0m1-.2h0m1.4 2.8h0m1.9-.9h0m1 .6h0m0-2.2h0m2.8 2.4h0m.8-.9h0m3.8-1.2h0m1.5 .8h0m.4-.1h0m.7 .6h0m.3-.7h0m.3 .2h0m-32.7 1.9h0m0-.3h0m.2 .6h0m0 .4h0m.1-.2h0m9-.7h0m.3 .5h0m.7 1.3h0m1-2h0m.2 .1h0m.5 1.4h0m0-.6h0m.3 .6h0m.9-.8h0m.7 1.3h0m0 .7h0m.2-2.5h0m.2 1.7h0m.2 .6h0m.3-.4h0m0 0h0m.3-.1h0m.2-1.6h0m.2-.4h0m1.2 1.2h0m.2 .7h0m.1 .2h0m.3-.5h0m1.2 0h0m.6-.9h0m.9 1.6h0m.2-1.6h0m.7-.3h0m1.8 1h0m.1-1.4h0m.4 1.2h0m.9 1.5h0m.6-1.3h0m.6-.4h0m1.1 .5h0m.6 1.3h0m.5-2.6h0m.3 1.7h0m.8-1.7h0m0 .5h0m-17.1 2.3h0m6.8 2.8h0m.2-.9h0m.1-.3h0m.2-.5h0m.3 .2h0m.7 1.1h0m1.1-.1h0m.3 .2h0m1.1-1.6h0m0 .1h0m1.3 .5h0m.5 .4h0m.2-1.3h0m.1 1h0m.4-.7h0m1.2-.4h0m1.5 .4h0m-10.4 2.6h0m1.8 .3h0m3.9-.4h0m0 .5h0"/>
<path stroke="#0000d4" d="M454.1 287.2h0m.2 1.4h0m.8-1.2h0m0-.4h0m.2 .8h0m.1-.3h0m.3-.4h0m.9 .8h0m1.9 1h0m-.8 1.3h0m.1-.7h0m1 1.8h0m.3-.1h0m.2-.2h0m0 .9h0m1-.7h0m-29.8 4.2h0m.3-.2h0m.6-.2h0m.3 .5h0m1-.6h0m.7 .6h0m.4-.5h0m-5.4 2.9h0m1-.1h0m.2-.5h0m.3 .8h0m.1-1h0m.3-.6h0m.2 1.4h0m.1-.2h0m.9-1.1h0m.3 .3h0m32.4 1.3h0m-36.8 .7h0m.1 .6h0m.8 1.2h0m.7-1.3h0m.1-.7h0m.3 .5h0m.8 .1h0m32.9-.5h0m1.6 2.6h0m.3 0h0m-39.9 3h0m.3-.6h0m.1-.5h0m0-.6h0m.3 .8h0m.1-.5h0m0 .4h0m.1-1.6h0m.1 .7h0m.3 .1h0m.2-1h0m.1 .6h0m0 .9h0m.9-1h0m35 .5h0m1.7 1.3h0m.2-.4h0m.4-.2h0m.7 .6h0m.2 .3h0m.8-.9h0m.1 .9h0m1-.7h0m3 .9h0m-47.9 2.7h0m.1 .2h0m.1-.7h0m.6-.1h0m.2 .9h0m.5-1.1h0m.2-.9h0m.2-.3h0m1.4-.1h0m6.8 1.2h0m.7 1h0m28.5-1.3h0m.5-1h0m2.1 .1h0m.1-.4h0m.6 2.7h0m.1-1.9h0m.1 1.7h0m6.1-1.7h0m0-.7h0m.9 1.9h0m.1-.2h0m.1-.9h0m.5 1.1h0m-53.2 3.4h0m.1-.8h0m.5 1h0m0-.1h0m.3-.8h0m.6 .3h0m.1-.6h0m.2-1.5h0m0 1.8h0m0-.7h0m.1-.2h0m.2-.1h0m.2-.3h0m.1-.5h0m.3 .2h0m0 .5h0m.2-.1h0m.8-.4h0m6.5 2.5h0m1.2-1h0m.4 .4h0m.8-2h0m0 .9h0m1.3 1.1h0m.3 .9h0m.1-.7h0m21.8-.7h0m.2 .5h0m1.6 .3h0m2.3-2.1h0m.3 1.1h0m.5-1h0m.2 1.8h0m1.3-1.8h0m.1 1.5h0m2.1-1.1h0m0 1.7h0m.3-.1h0m.6-1.5h0m-46.8 3.6h0m.1-.3h0m.1 .5h0m.2-.2h0m0-.4h0m.2-.6h0m.2 .2h0m.3 .2h0m.3-.7h0m10.2 2.2h0m3.8 .5h0m1.1-1.4h0m.1 1.3h0m.4-.7h0m2.8 0h0m.6 .3h0m.9-.4h0m5.4 .8h0m.9-.8h0m.7 .3h0m.6-1.8h0m1.3 .2h0m.3 1.7h0m.7-1.1h0m.6 1.3h0m1.4-2.3h0m.1 0h0m.3 1.1h0m.5-.4h0m.5 .5h0m1.4 1.4h0m.7-.1h0m.2-1.3h0m1.1-.1h0m.3-.5h0m1-.6h0m.1 1.7h0m.2-1.2h0m3.5 .6h0m.5-.3h0m1.2-.5h0m1.2 1.5h0m.1 .7h0m.3-2.1h0m10.5 .2h0m-45.7 5h0m1-2.6h0m.4 .2h0m.2 2.3h0m.5 .1h0m.7-2.3h0m.3 .4h0m.1-.2h0m1-.3h0m.7 .2h0m.7-.2h0m.4 1.5h0m.8-1.2h0m.2-.2h0m.2 1.4h0m.7 .4h0m.4-2.2h0m.7 1.2h0m.5 0h0m.7 1.6h0m2.6-.2h0m2.6-1.7h0m2 .4h0m1.1 1.2h0m3.2-.5h0m.1-1.1h0m1.1-.6h0m1.5 .5h0m0 .6h0m.3-.4h0m.3 1.1h0m.3-2.1h0m.7 1.4h0m.5 .5h0m.2-.9h0m0 .2h0m.5 .5h0m.1 0h0m1.1-.3h0m2.1-.3h0m4.3 1.4h0m8.9 0h0m.8 .1h0m.3-.8h0m0-.7h0m.7 .3h0m.1-1.1h0m-45.1 3h0m.6 1.3h0m1.5 1.1h0m.6-1.7h0m.9 .8h0m1.4-1h0m.3-.6h0m.1 .6h0m.1 .3h0m.4-.4h0m.3-.3h0m.8 .8h0m0 .7h0m0-1h0m.1-.5h0m.4 1.9h0m.1-1.8h0m1.4 1.2h0m2-.8h0m0 0h0m3.3 .1h0m.2 .2h0m0 .6h0m.1-1.6h0m.8 .5h0m1.7-.2h0m2.5 .1h0m.6-.2h0m.4 .1h0m.2 .7h0m.5-.3h0m.6 1.2h0m.1-.5h0m.3-.6h0m.4-1.1h0m.9 .8h0m.1 .2h0m.7 .4h0m.4 1h0m.1-.5h0m1.3 .8h0m.6-1h0m0-.2h0m.1 .3h0m.3-1.4h0m.1 1h0m.4-1.3h0m.5 1h0m.2 .9h0m.5-.8h0m1.3 .7h0m.5-1.3h0m.4 1.5h0m.3-.7h0m.1-.9h0m.7 1.4h0m.1-1h0m.1 1.8h0m.3-.3h0m.6-1.6h0m.1 .1h0m.3-.7h0m.1 .5h0m1 2h0m.8-.7h0m1.6 .3h0m.5 .5h0m.4 0h0m0-.4h0m2-.7h0m.1 .4h0m.4-1h0m1.9-1.1h0m0 1.4h0m.7 0h0m.1-.9h0m.2-.3h0m1 .3h0m-51.2 3.1h0m.6 .1h0m.1-.3h0m.8 1.4h0m.2-1.3h0m6-.2h0m.6 1.9h0m.2 .1h0m.4-.1h0m2 .6h0m2.7-.7h0m2.2 .5h0m.3-.9h0m2.2 1.1h0m3.3-.2h0m2-.3h0m.4-2.2h0m3.8 0h0m.9 0h0m.8 .6h0m.4 .5h0m.5-1.2h0m.9 1.5h0m.2-.7h0m0 .6h0m.4 1.3h0m.8 .1h0m.2-1.8h0m.4-.3h0m.3 2h0m.5 .1h0m.6-.6h0m0 .7h0m.6-1.5h0m.3-1.4h0m.2 1h0m.2 1.5h0m1-2.5h0m1.9 1.9h0m.1 .9h0m.4-.1h0m.2-.4h0m1.1-2h0m2.8 0h0m1.2-.2h0m-44.3 2.9h0m1.3 .1h0m1 .6h0m.5 1.3h0m5.7-2h0m1 2.8h0m.4-.8h0m2.3 .8h0m.6-1.7h0m.2 .8h0m.4 .2h0m.3-1.9h0m2.8 .6h0m2.9 1.6h0m1.2-.2h0m1-1h0m.4 1.6h0m2.2-2.7h0m4.3 .4h0m1.6-.4h0m3.3 .9h0m.2-.8h0m.2-.2h0m0 2.7h0m.6-2.3h0m.5 .1h0m.2 .9h0m1 1.4h0m.7-2.8h0m-34.9 3.4h0m3.4 2.3h0m5.1-2h0m.3 1.1h0m1.1-.6h0m.3-.4h0m.6-.5h0m.8 .5h0m.4 .5h0m.8-.3h0m.3-.8h0m.1 1.3h0m.2-.6h0m1.4 .3h0m.2 1.4h0m.1-.6h0m3.3-1.8h0m.2 .2h0m.4-.4h0m.3 .6h0m0 2.1h0m1.1-1.6h0m1.5 1.3h0m1.3-.7h0m.5 .9h0m2-.1h0m3-1.3h0m1.1 1.5h0m.2-.1h0m3.9-1.5h0m.2 0h0m.4-.1h0m.1-.9h0m-20.1 3h0m.9 2.2h0m.1-2h0m.8 2h0m0-1.6h0m.6 0h0m.1 1.5h0m.2 .2h0m.9-1.3h0m.4 .7h0m.4 1h0m.8 0h0m.1-2.7h0m.3 2.1h0m1.3-.9h0m1.2 .8h0m.4-1.5h0m.1 1.2h0m2.1 .4h0m.8-2.3h0m1 .8h0m1.1-.6h0m.4 1.5h0m0 1.3h0m.1-1.7h0m0 1.5h0m.8-1.2h0m.1-.1h0m.1 .2h0m.5 .4h0m.7 .9h0m0-.2h0m.3-2h0m-17.4 2.5h0m1.5 .9h0m.8-.9h0m0 .3h0m.1 1.3h0m0-.5h0m.3 .2h0m.5-.6h0m1.8-.1h0m.9 2.1h0m1.7-1.7h0m.5 .8h0m1.3-.4h0m1 1.2h0m.2-1.4h0m.6 .4h0m2.3 .3h0m.2 .5h0m.6-1.7h0m.5-.1h0m.4-.8h0m.1 1.1h0m-8.8 2.7h0m1.2-.5h0m1.4 .2h0m.1-.6h0m2.8 .1h0m.1 .5h0m.7-.1h0"/>
<path stroke="#0000ff" d="M447.7 285.5h0m2-.3h0m.8 1.2h0m1.1-.1h0m.9 .1h0m.3-.5h0m-4.2 2h0m3.1-.4h0m.4-.4h0m.2 .9h0m0-.4h0m0-.9h0m1 .4h0m0 1.7h0m.6-.3h0m.4-.5h0m1.1 1.1h0m0-2h0m.8 1.6h0m.3 0h0m-21.9 3.3h0m22.9 .1h0m.2 .3h0m.3-.9h0m.4-1h0m.4 .8h0m1.1 .1h0m1.5-.5h0m-29 4.3h0m.9-.5h0m1-1.6h0m.3 .1h0m.2 .5h0m22.4-1.1h0m2 2.4h0m.1-.6h0m1.3 .1h0m.1-.9h0m.1 .4h0m.8-.2h0m1.1 .4h0m.3 1.3h0m-32.7 1.9h0m.5 .1h0m.4-.6h0m.7 .1h0m27.6-1.1h0m3.4 2.4h0m.4-.3h0m.2-.4h0m-36.1 3.8h0m.2-1.3h0m.4 .3h0m.1-.4h0m.1-.8h0m0 2.2h0m.4-1.1h0m.2-1.6h0m1.9-.1h0m31.7 .1h0m1.2 1.9h0m.1 .3h0m-37.7 2.7h0m.2 .1h0m.7-2.1h0m.4 .1h0m32.8 1.5h0m.5 .8h0m.8-.4h0m.3 .2h0m.2 0h0m.1-1.7h0m.6 1.2h0m.4 1h0m.4-1.1h0m1 .5h0m1 .3h0m1.2 .1h0m2.3-.1h0m.1-1h0m.1 1.4h0m3.6-.2h0m-48.2 2.1h0m.5-1.3h0m8.1 1.8h0m2.3 .4h0m0-.1h0m24.2-1.7h0m2 1.7h0m1-.5h0m0-.4h0m.6 .1h0m.3-.2h0m1-1.3h0m.5-.3h0m.3 1.3h0m3.9-1h0m4.1 1.9h0m.3 .3h0m.5-.2h0m-52 1h0m.2 0h0m9.8 .1h0m.5 1.4h0m1.4-1.6h0m0-.1h0m.4 .1h0m1 1.4h0m2.9-.7h0m0 .4h0m.1 .4h0m5 .4h0m1 .2h0m.1 .5h0m3.2-1.1h0m1 1.2h0m1.9-.2h0m.3-.1h0m2.5-.5h0m2 .1h0m.1-1.8h0m0 1.1h0m1 1.1h0m3.6-.4h0m.1 0h0m.6-1.2h0m1.7 1.9h0m3.1-2.9h0m9.1 1.8h0m.1 .3h0m.1-.5h0m.2 1.4h0m1.4-.4h0m-57.1 1.3h0m.2-.5h0m.1 .4h0m.1-.5h0m11.3-.2h0m.1 1.1h0m3.4 1.4h0m1.4-.6h0m3.5-.7h0m7.9 .7h0m.1-1.4h0m.4 1.7h0m1.2-.4h0m.7 0h0m.3 .7h0m.4-.3h0m.5-2.1h0m2.1 0h0m.9 2.2h0m.8-1.8h0m.3-.5h0m1 2.3h0m1.4-1.2h0m.5 .4h0m.1 .7h0m.1 .6h0m.4-.9h0m2.6-1.7h0m2.1 1.8h0m-32.8 1h0m2.3 1.1h0m.6-1.2h0m.6 1.1h0m.5 .9h0m1.1 .7h0m.8-1.4h0m.6 1.3h0m1.3-1.8h0m.7 1.6h0m.8-1.8h0m6.4 .9h0m.5-.4h0m1.7-.4h0m.1-.3h0m3.3 .4h0m.4 .6h0m1.6 1.1h0m2.7 .3h0m.2-1.4h0m.3 .8h0m5.1-.4h0m-31 3.2h0m5.2-.9h0m.2-.7h0m10.8 2.4h0m3.8-2.5h0m1.1 1.1h0m.1-1h0m4.9 1h0m1.6 .3h0m2.9 .5h0m.5 .6h0m4.9 .1h0m1.7 0h0m1.1-1h0m2-.4h0m-40.9 2h0m.8 1.5h0m.6-1.6h0m.6 1h0m.2 .4h0m1.3-1h0m.1 1.9h0m.4-.9h0m.9 1.1h0m9.9 0h0m3.2-2.2h0m.6-.6h0m4.5 1.9h0m4.5-1.5h0m.6 1.6h0m6.8-1.7h0m2.5-.2h0m-34.2 5.2h0m5.1-.1h0m6.7-1.7h0m4.2 1.5h0m12.7-.6h0m-27.1 2.8h0m5.3-.8h0m.2 2.3h0m3-1.6h0m.2-.2h0m0 1.3h0m3.6-.5h0m.2 1.1h0m1.9-1.6h0m9.6 .2h0m.2-.2h0m-21.2 2.6h0m3.3 1.8h0m.5-2.2h0m4.2 .1h0m2 0h0m.2 1.9h0m3.3-1.1h0m.8-1.1h0m1.8 1.6h0m.8 .6h0m2.1-2h0m-9.3 3.4h0m.9-.1h0m.1-.1h0m.7 1.4h0m1.6 .7h0m1.1-.4h0m3.4-.9h0m-7.1 2.5h0"/>
<path stroke="#002aff" d="M448.1 285.8h0m1.5 .7h0m2.4-1h0m-5.1 2.7h0m1.3-.3h0m.2 .7h0m.7-2h0m.8 .2h0m1.5 1.4h0m.6 .2h0m.7-.2h0m.5-.6h0m.4-.6h0m.4 .9h0m.8 0h0m.2 1.6h0m.9-.8h0m-21.9 3.4h0m.2 .3h0m19.2-2.8h0m.9 1.5h0m.6 .4h0m1.1 0h0m.3-.4h0m.5 1.1h0m.9-1.9h0m.1-.2h0m.1 1h0m0-.8h0m.5 .9h0m-25.2 3.9h0m.4-.8h0m.3 .6h0m1.1-1.7h0m1.2-.4h0m.6 0h0m20.9 .4h0m.8 .3h0m.2 1.3h0m.1 0h0m.6-1h0m.8-.2h0m.5 .1h0m1.7 1.6h0m-2.9 1h0m.8-.8h0m.6 .9h0m1.6-.7h0m1.5 1.9h0m0-.7h0m-36.3 3h0m30.7-.3h0m.1 .8h0m1.7 .5h0m1-.8h0m.5 .6h0m.9 0h0m.2 .5h0m.2-.3h0m.2 .5h0m1.1-.2h0m-7.9 3.2h0m.6 0h0m1.2-.9h0m1.8-.8h0m.7 1.4h0m.9-.1h0m-29.8 3.3h0m1.3-1.4h0m.3-.5h0m.1 1h0m.2-.5h0m.5 .9h0m.1-1.8h0m.5 1.2h0m.5-.6h0m.9 .5h0m.6-1h0m.3 .6h0m1.1 .8h0m1.3 0h0m13.9 .4h0m2.6-2h0m.5 .4h0m-22.5 2.6h0m2.5-.4h0m2.7 1.2h0m.2-1h0m.8 1.6h0m.7 .7h0m.3-1h0m.7-.6h0m.3 .8h0m.6 .3h0m1.6-.3h0m3.9-1.2h0m.9 .2h0m2.5 .4h0m1-.4h0m2.1 2.3h0m1.9-.6h0m.8-1.3h0m.1 .7h0m17.5 .2h0m-29.2 3.2h0m1.7-1.5h0m0 1.9h0m3.2-.9h0m.3-1.7h0m.8 1.1h0m3.1-.9h0m20.2 2h0m1.3-1.2h0m-8.4 7.5h0"/>
<path stroke="#0055ff" d="M448.9 286.1h0m.1-.1h0m1-.2h0m-4.3 1.6h0m.3-.4h0m1.4-.1h0m.4 1.5h0m.1-.4h0m1.4-.3h0m1.6-.9h0m-17 5.6h0m1.6-1.2h0m.1 .2h0m.9-.2h0m.1 .7h0m.6 .4h0m15.1-2.8h0m1.9 1.1h0m.1 0h0m.8 1.6h0m.2-1.2h0m.4 .6h0m-21.1 1.2h0m.1 .5h0m.2 .8h0m1.2-1.2h0m20.6 1.8h0m.3-.3h0m.3-1.4h0m1 .6h0m1.7 .8h0m-2.7 3.6h0m2.1-2.4h0m-1.5 3.2h0m.1 .5h0m-23.6 3.8h0m.1 .5h0m.2-.1h0m.7-1.4h0m19.6 1.7h0m.2-.8h0m.6 1.2h0m0-1.5h0m1.7-1h0m0 .1h0m-23.4 4.6h0m1.5 0h0m1 0h0m1-.6h0m5.5 1.7h0m2.8-.2h0m1.1 .1h0m1.3-.9h0m.1 .4h0m.1 .1h0m9.2-1.8h0m-18.1 4h0m1 .8h0m3.3-.3h0m.4-.8h0m2-.2h0m.4 .5h0m2.5-1.4h0m.7 .8h0m.4-.7h0m1.1 .8h0"/>
<path stroke="#007fff" d="M446.2 286.2h0m.4-.3h0m-2.7 2.1h0m.3-.4h0m1.1 .1h0m.1 1.6h0m1.6-1.5h0m.3-.6h0m2.1 1h0m-13.4 2.6h0m.9-.2h0m.3 1.1h0m.2-1.4h0m1.4 1.3h0m12.1-.9h0m4.1 1.5h0m.7 3h0m.5-1.3h0m-.9 4.2h0m.4-2.2h0m.6 .1h0m.5 .3h0m-.5 2.9h0m-20.6 3.5h0m19 .5h0m.5 .1h0m2.5-.3h0m-21.2 3.3h0m.1-.7h0m.1 .3h0m2.5 .5h0m.6 .4h0m1.6 0h0m.1-.6h0m8.9 .3h0m.5-.7h0m2.1-1.1h0m-12.3 4h0m3.5-.5h0m.2-.6h0m.6 .6h0m1 0h0"/>
<path stroke="#00aaff" d="M444.2 286.1h0m0 .3h0m2.5-.3h0m-8.1 2.9h0m.4-.9h0m.3-.3h0m.4 .6h0m2.1 1h0m.4-1.9h0m.1-.9h0m.8 2.5h0m.1 0h0m.1-.6h0m.8-1h0m1 1.8h0m.1-2.6h0m-8.3 4.1h0m.5 .5h0m.5 .8h0m0-.8h0m.2-.6h0m1.1 1h0m1.1-1.1h0m0 0h0m.3-.6h0m.8-.1h0m8.4 1.7h0m2.7 1.2h0m1.1-.2h0m2.5 2.9h0m-1 .2h0m.2 .5h0m-.5 3.3h0m.5 1.6h0m.1 .4h0m.2-2.2h0m1.1-.2h0m-21.7 3.4h0m1.1 .3h0m2.2 2.2h0m0-.4h0m1.8 .3h0m2 .1h0m.7 .5h0m2.7 .2h0m2.9-.7h0"/>
<path stroke="#00d4ff" d="M438.3 288.8h0m2.7-1.9h0m1.5 1.1h0m1.2 1.2h0m.1-2.5h0m.3 .2h0m.2-.1h0m-6.4 3.4h0m.8 .3h0m.7 .3h0m10.8 .7h0m0-.2h0m.4 .8h0m0-.8h0m.4 .5h0m.6-.6h0m1.8 1.3h0m.8 1.8h0m.2 1h0m.1-.4h0m-.5 3.1h0m1.3-1h0m-2.3 4.4h0m1.9-2.9h0m.5 .1h0m-18.7 4.5h0m1.5 .9h0m.4-.5h0m11.9 .1h0m.9 .4h0m.9-.2h0m-10.2 1.5h0m1.2 .4h0m.5-.5h0m5.2 .7h0m.1-1.4h0m.1 1.1h0"/>
<path stroke="#00ffff" d="M441.5 287.2h0m1.7 2h0m-2.3 1.2h0m5.8 1.3h0m2.1-.1h0m2.7 1h0m.3 1.7h0m.8-.9h0m.9 1.1h0m.8 1.8h0m1 1.8h0m.2-.2h0m-4 3.4h0m1.4-.2h0m-13.7 2h0m.3 1.2h0m.2-.4h0m.3-1.3h0m.3 .9h0m.6 .9h0m10.9-1.4h0m.2 .2h0m.5-.2h0m1.5-1.5h0m-10.6 4.6h0m4.1-1.2h0m.1 .2h0m.3 .1h0m.5-.7h0"/>
<path stroke="#2affd4" d="M449.1 291.6h0m0-.4h0m1.2 1h0m1.4 2.2h0m.2-1.3h0m1.3 4.8h0m.2-.3h0m.9-.1h0m-2.3 3.7h0m-13.7 2.7h0m1.2-1.2h0m1.3 .6h0m.1 .4h0m1-.2h0m.7-.2h0m3.9 1.2h0m3.2-1.3h0m-7.5 1.9h0m.9-.1h0m2.4 .1h0"/>
<path stroke="#54ffaa" d="M450 292.4h0m3.6 3.7h0m.5 .3h0m1.2 2.4h0m-17.1 3.4h0m.2-.5h0m.4 0h0m3.2 1.7h0m.7 .7h0m4.6 .1h0m2.7-1.9h0"/>
<path stroke="#7fff7f" d="M448.7 292.4h0m1.3-.5h0m.1 1.3h0m.5 1.5h0m2.5 .2h0m.1 1.8h0m.2 .4h0m-15 4h0m.1-.5h0m2 1.5h0m1.1 .7h0m.4 0h0m7.4-1.3h0"/>
<path stroke="#a9ff55" d="M447.2 293h0m3.6 .8h0m.4 1.2h0m.8 3.4h0m0-.5h0m-4.4 3.5h0m3.8-2.3h0m-9.1 3.7h0m.8 .7h0"/>
<path stroke="#d4ff2a" d="M451.8 296.1h0m-2.1 4.5h0m.3-.9h0m-.5 2.3h0m1.2 .2h0"/>
<path stroke="#ffff00" d="M451.4 294.9h0m.4-.4h0m-12 7.7h0m2.8 .2h0m1 .7h0m4.2-.9h0"/>
<path stroke="#ffd400" d="M446.6 292.1h0m-7.6 6.3h0m12.1-2.9h0m-1.6 4.4h0m-1.5 1.9h0m.3 .4h0"/>
<path stroke="#ffa900" d="M445.9 292.5h0m-1 1.9h0m-6 4.2h0m1.6 2.1h0m3.7 .3h0m3.3 .4h0m.4-.3h0m.8-1.3h0m.1 .3h0m.5 0h0m-6.3 2.7h0m3.1-1.2h0"/>
<path stroke="#ff7f00" d="M444 293.6h0m.8 6.3h0m.1 1.2h0"/>
<path stroke="#ff5500" d="M448.3 297.9h0m2.4 .4h0m-1.7 1.7h0"/>
<path stroke="#ff2a00" d="M444 293.8h0m-4.1 4.3h0m1.3-1.3h0m-2.5 2h0m3.1-.2h0m1.4 2.1h0m.2-.2h0"/>
<path stroke="#ff0000" d="M442.2 295.5h0"/>
<path stroke="#d40000" d="M442.1 296.2h0m1 1.1h0m.6-1.1h0m3.8-.6h0m-1.3 3.4h0"/>
<path stroke="#a90000" d="M444.6 294.9h0m-4.2 .8h0m2.4 2.5h0m1.7-2.1h0m.2 .5h0m1.8 3.3h0m.1 1.1h0m2.1-1h0"/>
<path stroke="#7f0000" d="M445.6 294.9h0m.3 .5h0m-5.9 2.2h0m.1-.6h0m.9 .1h0m.5-.1h0m.2 .7h0m.2-.3h0m.2-.4h0m.2 .6h0m.6-.8h0m.5 .9h0m.1-1.3h0m2 1.6h0m.5-.7h0m.5-.8h0m.2-.9h0m.7 1.3h0m-2.8 3.4h0m.6-1.5h0m1.4 1.1h0"/>
</g>
<rect x="417.2" y="280.4" width="61" height="60.6" fill="none" stroke="#2a2a2a" stroke-width="0.95"/>
<path d="M417.2 280.4h-1.4M417.2 341v1.4M417.2 295.5h-1.4M432.4 341v1.4M417.2 310.7h-1.4M447.7 341v1.4M417.2 325.8h-1.4M462.9 341v1.4M417.2 341h-1.4M478.2 341v1.4M417.2 280.4h-0.8M417.2 341v0.8M417.2 284.2h-0.8M421 341v0.8M417.2 288h-0.8M424.8 341v0.8M417.2 291.8h-0.8M428.6 341v0.8M417.2 295.5h-0.8M432.4 341v0.8M417.2 299.3h-0.8M436.3 341v0.8M417.2 303.1h-0.8M440.1 341v0.8M417.2 306.9h-0.8M443.9 341v0.8M417.2 310.7h-0.8M447.7 341v0.8M417.2 314.5h-0.8M451.5 341v0.8M417.2 318.3h-0.8M455.3 341v0.8M417.2 322.1h-0.8M459.1 341v0.8M417.2 325.8h-0.8M462.9 341v0.8M417.2 329.6h-0.8M466.8 341v0.8M417.2 333.4h-0.8M470.6 341v0.8M417.2 337.2h-0.8M474.4 341v0.8M417.2 341h-0.8M478.2 341v0.8" stroke="#222" stroke-width="0.5" fill="none"/>
<text x="414.2" y="282.2" font-size="5.0" font-weight="normal" text-anchor="end" fill="#333">60</text>
<text x="414.2" y="297.3" font-size="5.0" font-weight="normal" text-anchor="end" fill="#333">30</text>
<text x="414.2" y="312.5" font-size="5.0" font-weight="normal" text-anchor="end" fill="#333">0</text>
<text x="414.2" y="327.6" font-size="5.0" font-weight="normal" text-anchor="end" fill="#333">-30</text>
<text x="414.2" y="342.8" font-size="5.0" font-weight="normal" text-anchor="end" fill="#333">-60</text>
<text x="417.2" y="348.2" font-size="5.0" font-weight="normal" text-anchor="middle" fill="#333">-60</text>
<text x="432.4" y="348.2" font-size="5.0" font-weight="normal" text-anchor="middle" fill="#333">-30</text>
<text x="447.7" y="348.2" font-size="5.0" font-weight="normal" text-anchor="middle" fill="#333">0</text>
<text x="462.9" y="348.2" font-size="5.0" font-weight="normal" text-anchor="middle" fill="#333">30</text>
<text x="478.2" y="348.2" font-size="5.0" font-weight="normal" text-anchor="middle" fill="#333">60</text>
<text x="447.9" y="274.8" font-size="8.9" font-weight="bold" text-anchor="middle" >KIR</text>
<g stroke-linecap="round" stroke-width="1.7" fill="none">
<path stroke="#00007f" d="M277.1 408.7h0m.6 1.6h0m2 3.2h0m.5 0h0"/>
<path stroke="#0000aa" d="M307.5 375.9h0m1.3-1.1h0m2 1h0m-11.5 3.4h0m12-1.6h0m1.6 .9h0m-16.7 1.7h0m.1 1.4h0m3.3 .5h0m-6.8 1.7h0m.5-.2h0m.4-.8h0m0 1h0m.3-.5h0m.1 1.5h0m.1-.5h0m.5-1.8h0m.1 1.3h0m2.2 1.1h0m2.1-1.7h0m-8.5 5h0m.3-2.5h0m4.1 2h0m1.7-1.9h0m1.2 1.9h0m.1-.7h0m2.7 0h0m-14.2 3.3h0m.3-.5h0m.8-.2h0m3.6 0h0m.1 .2h0m.1 0h0m2.1-1h0m.2 1.4h0m.1-.4h0m1.2 1.3h0m.1-.8h0m.3-.6h0m1.7-.9h0m2 .2h0m2.6 .4h0m-17.7 4.6h0m.8-1h0m.1 1.2h0m.4-2.4h0m.2 2.3h0m0-.2h0m.2-1.3h0m.6 .5h0m.5 .2h0m0-.6h0m1.5-.1h0m.2 .1h0m.7 .3h0m1.4 .6h0m.3-.4h0m2.9 .4h0m.8-1.2h0m1.4 .2h0m1.3 0h0m.2 1.5h0m2.4-1.8h0m.1-.4h0m.5 2h0m1.3-.8h0m-19.6 4.3h0m1.9-.7h0m1-1.4h0m.4 1.6h0m.9-.3h0m4.2-.9h0m.1 0h0m1 1.1h0m1.5-1.5h0m1.4 .8h0m.9-1.5h0m.6 .5h0m.6 2h0m.3-1.8h0m0-.2h0m1.3-.5h0m.3 0h0m2.3 1.3h0m1-.9h0m1.6 2.1h0m-20.2 3.4h0m.5-.1h0m1.2-.5h0m5.9-.5h0m.9-.1h0m0-.2h0m.5 .2h0m8.1-1.2h0m2.1 .5h0m.3-.8h0m1.9 .3h0m-22 4.2h0m1 .4h0m.4-1.9h0m.8 2.3h0m.2-1.9h0m.3-.6h0m.3 2h0m.1-1.6h0m.6 .1h0m.3 .7h0m2.2 1.6h0m.2-1.4h0m0 .3h0m1.4 .4h0m.1-.1h0m.7-.2h0m.9-1.1h0m2.4 1.6h0m3.8-1.4h0m1 .2h0m2.7-1.2h0m2.1 2.2h0m-28 3.5h0m.1 .3h0m1.4 0h0m5.4-1h0m1-1.5h0m1.7-.1h0m.4 1.3h0m.2-.2h0m.5 .6h0m1.1-1h0m.9 0h0m.7-1.1h0m0 1.4h0m.1 .9h0m2-1.2h0m.1-.8h0m3 2.6h0m1.9-.1h0m.2-.8h0m1.1 .6h0m1-1.4h0m.6-.2h0m.2 1.6h0m1.6-.3h0m1.3 .6h0m.9-.4h0m.7 .2h0m.1-2.4h0m1.1 1.8h0m.2-.7h0m1.2-.2h0m.4 .1h0m-32 2.7h0m.5-.2h0m.8 1.7h0m.2-1.6h0m0-.5h0m.1-.3h0m.2 0h0m.1 .9h0m.3 .8h0m.8 1.2h0m.1-2.2h0m.9-.4h0m.5 .9h0m.2 .1h0m.6-.3h0m.5 1.8h0m.1-1.8h0m.2 1h0m.3 .3h0m.5-.8h0m0 .3h0m.4-.2h0m.1 .7h0m.1 .2h0m.8-1.9h0m.3 .2h0m.4 .7h0m.2 .7h0m.2 .5h0m.8-1.5h0m0 0h0m1.3 1h0m6.3-.1h0m5.7-2h0m.9 2.4h0m1.3-1.9h0m-23.7 2.4h0m0 .7h0m.8 .4h0m.3 1.4h0m.8 0h0m.3-.6h0m2.7-1.6h0m1.4 .2h0m2.5 1.9h0m2.4-1.2h0m.2 1h0m.1-2.2h0m.7 2.1h0m.2-.4h0m.4-.9h0m.1-.1h0m1.9 2h0m1.7-2.6h0m1 .3h0m.2 .1h0m1.2 1.2h0m2.3-1.6h0m.3 1.4h0m.4 .9h0m1-1h0m.1 0h0m.5 0h0m-22.2 2h0m.3 .1h0m.5 .9h0m.6-.2h0m.1 .2h0m.2-.1h0m.1 .6h0m0-.6h0m.1-.3h0m.2 1.5h0m.4-.7h0m.1 .5h0m1.1 .5h0m4.3-1.6h0m1.7 .6h0m1.4-.7h0m1-.4h0m.9 .5h0m.9 .6h0m1.1 .8h0m2.6-.1h0m.4-.8h0m.5-1.5h0m.1-.2h0m.3 .9h0m.2 1.8h0m3.1-.4h0m-20.1 .9h0m.1 .3h0m.7-.2h0m.1-.2h0m9.4 .9h0m1.1 1.6h0m.9-1.2h0m.2-1h0m2.3 1.6h0m.1-1h0m0-.9h0m1 1.8h0m.1-.2h0m1.2 .3h0m.1 .2h0m1.8-.8h0m0-.3h0m.2 .2h0m1.2 .8h0m.6-1h0m.2 .5h0m1.9 .8h0m-10.1 .8h0m.3 1.2h0m.3-1.1h0m.8-.4h0m3.7 2.1h0m.2-1h0m.6 0h0m.6 .6h0m.3-1.5h0m1.5 1.6h0m.4 .5h0m1-1h0m1.1 1.2h0m.9-1.1h0m.3 .5h0m1.1-1.5h0m2.2 .2h0m-11 2.7h0m.1 .2h0m2.3-.3h0m.6 .3h0m.5 .4h0m2.7-.3h0m.4-.3h0"/>
<path stroke="#0000d4" d="M307.3 375.3h0m.8 .2h0m0 .2h0m1.8 .7h0m-8.3 2.1h0m6.1-1.9h0m.2 1.7h0m.3 .2h0m1.6 .2h0m.2-.6h0m.2-.1h0m.2 .9h0m.2-1.3h0m.3 .4h0m2.3 .4h0m-16.9 1.9h0m.3 .6h0m1.9-1.1h0m1.1 .3h0m9.9-.5h0m.7 .3h0m1.5-.2h0m.6 .4h0m.1 1.2h0m.8 .1h0m.3-.5h0m.8-.3h0m-22.7 4.3h0m1.5 .1h0m.6-1h0m1.7 1.4h0m.4-2.4h0m.6 1h0m0 .1h0m.1-.9h0m1.4-.6h0m.3 1.4h0m.5-.3h0m.4 .8h0m1.2 .6h0m3.1-.5h0m-13.4 3.5h0m2.3 .3h0m.7 0h0m3-1.1h0m1.1 .2h0m1 .9h0m.4-2.6h0m.7 .7h0m2 .7h0m1 .6h0m1.3-2.1h0m-17.3 4.8h0m2-.4h0m.1-1.1h0m1.5 2.4h0m.4 .1h0m.2-2.3h0m.1 2.2h0m.9 .1h0m.2-.4h0m.6 0h0m.5-.7h0m.4 .7h0m.6-1.5h0m1 .3h0m.6-.9h0m3.9 .6h0m.6-.7h0m.4 0h0m.2 2.3h0m3-2.6h0m.4 2.8h0m-18.8 .4h0m1.2 .2h0m.2 2.3h0m1.4-.7h0m.6-.9h0m.2 .1h0m.3 1.3h0m0-1.8h0m.1 1.2h0m.9-1.7h0m.3 1.4h0m1.4 .4h0m1.1-2h0m1.6 .4h0m.1-.5h0m.4 1.3h0m1.3-.2h0m1.7 .1h0m1.6-1.2h0m1.3 .9h0m.2 2.1h0m.3-2.6h0m.9 2.3h0m.8-1.7h0m-18.9 3.5h0m.2-1.2h0m.3 1.5h0m.1-1h0m6.2 .2h0m.6-.4h0m1.8 1.7h0m.2 .1h0m1.2-.4h0m.5-.4h0m3.6-1.3h0m1.5 2.3h0m2.3-.4h0m.5-1.6h0m0 2.4h0m1.8-1.7h0m.5 1.4h0m1.3 .2h0m.5 .1h0m-24.9 2.2h0m.4-.7h0m0 .6h0m0-1.6h0m2.7 2.4h0m.2-.6h0m1.4 .6h0m.2-1.2h0m1.1 1h0m.2 0h0m9.7-.2h0m1.3-.3h0m.5 .3h0m.1-2h0m1.7-.5h0m.9 1.8h0m2.7-.7h0m.2-.2h0m2.3 1.9h0m.5-.8h0m-25.2 3.6h0m1.2 .4h0m3-2.8h0m.6 .8h0m1.6 1.5h0m.1 0h0m.8-2.1h0m1.5 1.2h0m.1 .6h0m4.8-2.2h0m.9 .6h0m3.4 0h0m2.9 .2h0m.8 1h0m.7-1.6h0m.7 2.3h0m.6-.6h0m.2 .6h0m.5-.6h0m.3-.3h0m.6-.2h0m-32.8 4.3h0m.6-.5h0m.4-.4h0m6.6-1.8h0m.2 2h0m.2 .2h0m0-1.6h0m.3-.6h0m.4 2.6h0m.2-1.2h0m.2-.7h0m1.3 .3h0m.1-.2h0m0 .3h0m.6 .9h0m.4-.5h0m.8-1.3h0m0 .3h0m.3 .4h0m.3-.2h0m.1-.3h0m1 .6h0m.1 .9h0m.8-1h0m.4 1.5h0m1-.3h0m2.5 .9h0m2.7-2h0m.8-.3h0m1 1.6h0m2.3-.1h0m1-1.7h0m.9 .9h0m.1-1.1h0m.3-.3h0m.1 .7h0m.1-.1h0m.1 .7h0m.2-1h0m.2 1.1h0m.2-.7h0m.4 .5h0m.6-.6h0m1.1-.1h0m.5 2.5h0m.2-2.2h0m.6 .8h0m.5-1.3h0m-31.6 5.4h0m.5-1.2h0m.8 1.1h0m1.8-.9h0m.5-.5h0m.4 1h0m1.2 .7h0m2.3-.8h0m.1 .3h0m.4-1.7h0m.1 2.2h0m.4-2.6h0m1.7 1.5h0m.1 0h0m.1 0h0m.8 .1h0m1.2-.2h0m.2 .6h0m.4-.3h0m8.3 .9h0m.1-.3h0m2.2-2.5h0m1.6 2.5h0m.2-1h0m1.5-1.3h0m1.4-.3h0m.2 2.9h0m1.1-2.8h0m-28.8 5.7h0m5.3-2.2h0m2.9 1.8h0m.4-.8h0m.2 1.2h0m0-.6h0m.6 .3h0m9.8 .1h0m.4-1.6h0m.9 1.5h0m-18.2 .9h0m7.1-.1h0m1.6 .4h0m.3 .1h0m.6-.4h0m1.5 .9h0m.1-.7h0m1.3 1.3h0m.7-.6h0m1.4 1.6h0m1.3-1.5h0m.3-.6h0m.3 1.6h0m.4-.8h0m.2-.5h0m.1-.3h0m.4 1.9h0m.4-2.5h0m1 1.1h0m1.3-.5h0m.4 1.9h0m1.1 .1h0m-21 1.3h0m10.5 .1h0m1.3-.2h0m.2 1.6h0m1.3-.6h0m.8-.2h0m.4 .8h0m.2 0h0m0-2h0m0 1.1h0m.4 .9h0m.3-.9h0m1.1 .6h0m.5-.9h0m.8 .3h0m.3-1.3h0m.6 1.6h0m2.3-1.5h0m2.1-.2h0m2.4 1.9h0m1.7 0h0m-13.7 1.8h0m3.3-1h0m2.9 2.2h0m.1-.2h0m.5-.3h0m.4-.8h0m.8 1.8h0m.1-.1h0m.5 .3h0m1-1.1h0m0-.8h0m.4 1.3h0m.9-1.8h0m.2 .4h0m.1 .3h0m.1 .7h0m.1-1.8h0m1.3 .8h0m1.2-.3h0m-8.6 2.5h0m1.7 .2h0"/>
<path stroke="#0000ff" d="M305.5 376.1h0m-7.9 3.3h0m3.2-1.3h0m.2 1h0m1.9-1.4h0m1.2-.1h0m2.1 0h0m.5 .3h0m1.4 .1h0m1.4-.3h0m.1-1h0m.3 .5h0m.1-.2h0m.5 1.1h0m0-.8h0m-13.3 5h0m13-1.5h0m.2-.2h0m.9 1.7h0m0-.3h0m.6-1.2h0m1.7-.2h0m.7 1.7h0m.6 0h0m-22.7 1h0m0 .1h0m2 1.6h0m1.2-2.3h0m.1 1.1h0m8.3 1h0m7.2-1.7h0m4.1 1.4h0m.1-.7h0m.1-1.2h0m.4 2.2h0m.4 0h0m-25.9 1h0m.8 2.5h0m.4-2.7h0m6.8 1.4h0m.3 .3h0m.9 1.1h0m1-.8h0m.4-1.3h0m0 2h0m0-1.1h0m0 .1h0m.1 1h0m1-1.1h0m.3-.4h0m.3-1.1h0m1.5 2.5h0m.7-.1h0m1.1-.1h0m1.4-2.2h0m9.5 2.2h0m-30.2 1.2h0m.1 .5h0m3.8 .4h0m0-1h0m2 1.9h0m1-.9h0m.4-.5h0m.3 .4h0m.4-.9h0m3.8 1.8h0m1.1-.1h0m3.2-2h0m.5 1.9h0m.8-.4h0m.1-.6h0m0 .2h0m.7 1.3h0m11.5-1.5h0m.2 .7h0m-30.1 3.9h0m1-.9h0m.2-.8h0m.6 1.6h0m.4-1.9h0m4 1.4h0m1.6-2h0m2.2 1.4h0m3.8-1.3h0m1 2.4h0m.2-.9h0m1.6 1.1h0m3-.4h0m11.4-.4h0m.4 .4h0m-31.7 2.8h0m1-2.1h0m.8 1.8h0m3.7-2h0m0 .6h0m2.2 .6h0m2 .7h0m.4 .1h0m.1-.9h0m.3 1.3h0m1.4-1.1h0m.5-.6h0m1.1 1.5h0m.7-1.7h0m3.4 .3h0m.5 2.1h0m2.9-1h0m0 .5h0m1-.7h0m.9 .6h0m8.7-1.7h0m.5-.5h0m-35.1 5.7h0m.3-2.6h0m0 1.6h0m.1 .1h0m.1 .9h0m0-2.3h0m.8 .4h0m1.9 1.4h0m.8 .3h0m.3-1.6h0m.8 1.5h0m.1-.8h0m2 1.2h0m8.4 .1h0m.9-2.7h0m.5 1.8h0m.2 .2h0m.5 .3h0m.9-.2h0m1-.6h0m0-.4h0m.1 1.3h0m1.4-2.3h0m.7 1.1h0m1.8 1h0m.1-2h0m.9 1.7h0m1.1 0h0m.4-.8h0m-27.1 4.4h0m2.9-.5h0m1-.4h0m.5-1.3h0m2 1.8h0m.4-1.7h0m.3-.6h0m.1 1.7h0m.9 1.1h0m0-.5h0m1.1 .6h0m6.3-2.9h0m2.1 .5h0m3.7 2.3h0m1-2.1h0m2.1 1.3h0m2.2 .3h0m.2-1h0m.7 .6h0m-25.4 1.9h0m1.1 .1h0m.5-.3h0m.7 .8h0m1.3-.3h0m.7-.5h0m1.1 .5h0m1-.3h0m1.4 1.3h0m1.5-.5h0m.1-.3h0m3.6 .1h0m1-1h0m2.7-.3h0m3.8 2h0m.4-.5h0m2.4 .5h0m-24.1 1.7h0m.4-.2h0m.2 1.8h0m.2 .2h0m.6-2.5h0m0 1.4h0m.1 .3h0m1.9 .3h0m.3 0h0m9.4-2.1h0m1.1 2.4h0m1.7-2.2h0m1-.1h0m3.7 1.9h0m.4-.9h0m1.2 .6h0m.2 .7h0m.1-2h0m.4 .9h0m.3 1.5h0m.1-1.1h0m1.4-1.5h0m.3 1.1h0m.2-.2h0m0 .3h0m.1-1.4h0m-17.2 5.1h0m.9-2h0m1.3 .3h0m4.2 2.3h0m.3 .1h0m1.4-.8h0m1-1.9h0m1.9 1.7h0m-14.5 2.3h0m.4-.2h0m1.6-.5h0m1.1 .5h0m.1-.9h0m1 .8h0m.4 1.9h0m1.3-1.2h0m.1-1.5h0m.3 1.9h0m7.3 .4h0m1.4-1.1h0m.6 1.2h0m2.6 .4h0m-16 .3h0m1.2 2.4h0m1.8-2h0m.5 1.9h0m.1-.3h0m.3-2h0m.1 .2h0m.8 0h0m.5 .3h0m.6 1.4h0m.4-1.9h0m1.7 1.5h0m2.2-1.6h0m.3 .2h0m.3 .8h0m0 1.1h0m.2-.3h0m3.7-.8h0m.1 0h0m.4-.6h0m0-.4h0m1.2 .7h0m0 .5h0m0-.3h0m.4 .8h0m.2 0h0m.5-.6h0m.3 1.4h0m.2-.1h0m.1 .4h0m.1-1.4h0m.1 .2h0m.1 .6h0m1.4-.8h0m-15.3 2.3h0m.2 .9h0m.3-.9h0m3.2 2.1h0m1-.9h0m.4-.4h0m1.2-1.5h0m1.5 1.3h0m3.5-.5h0m.1 .6h0m.2-1.2h0m1-.2h0m.8 1.6h0m-4.2 1.3h0m.1 1h0m.4-.6h0"/>
<path stroke="#002aff" d="M305.4 374h0m-3.7 4.8h0m0 .1h0m.1 0h0m0-.8h0m1 .5h0m.3 0h0m.4-.5h0m.4-.1h0m2.1-.4h0m1.1 1.3h0m.2-.6h0m1.1 .3h0m.9 .4h0m.4 .4h0m2.7-.4h0m-2.5 1.7h0m.5-.4h0m.7 1.5h0m.3-.8h0m2-.2h0m-8.3 3.9h0m.3-.3h0m1.1-1.1h0m.1 .8h0m.8 .4h0m1-1.5h0m3.5 .2h0m1 .3h0m2.5 1.5h0m-9.3 3.3h0m.9-.5h0m.5-1.8h0m.9 .4h0m6.3 1.4h0m.4 .1h0m.2-2.4h0m.2 2.7h0m.2-.3h0m0 .2h0m1.6 .1h0m-39.4 3.1h0m23.9-2.4h0m3.1 2.6h0m9.8-1.5h0m.9 1.2h0m1.1-1.2h0m1 3.2h0m-45.7 4.3h0m34-.7h0m3.5-.5h0m.7-.6h0m1.2 1.5h0m5.3-2.3h0m.2 1.4h0m-44.8 1.3h0m35.7 1.8h0m1.3-1h0m.8 1.5h0m.2 .1h0m.1 .1h0m-2.9 1.8h0m0 0h0m.1-.6h0m1.1 1.2h0m.6-1.2h0m.2 .9h0m.1 .6h0m-.9 3.5h0m.8-.5h0m.4-1.6h0m0 1.4h0m-6.7 3.3h0m2.1 0h0m2-.6h0m.6-.1h0m1.4-1.1h0m.2-.6h0m-6.8 6.5h0m.2 1.1h0m.3 1.3h0m1.2 .5h0m.3 .8h0m1.9-.8h0m2.7 2h0"/>
<path stroke="#0055ff" d="M302.2 379.2h0m.8-.5h0m-18.7 3.3h0m1.8-.9h0m21.7 1h0m1.2-1.6h0m-26.8 3.4h0m1 .2h0m22.5-.3h0m.6 1.3h0m1.2-.2h0m.6-.3h0m.5-1.6h0m.4 2.3h0m1.4-2.2h0m2.4-.5h0m1.5 2.7h0m.8-.7h0m-34.7 3.6h0m26.5-2.2h0m1.1 .5h0m.2-.2h0m1.3 .3h0m.8 .5h0m3.4 .1h0m.8-.5h0m.9 1.3h0m-36.7 1.7h0m28.4 1.2h0m.6 0h0m.5-.5h0m5.4 .5h0m1.1-1.9h0m2.2 1.4h0m-43.2 3.6h0m2.6-.5h0m.4-1.9h0m0 .4h0m30.7 2.3h0m1.8-2.6h0m2.8 2.3h0m2.2-.5h0m.4-.3h0m.6 .3h0m.1-1.1h0m.7 .8h0m-42.3 2.4h0m34.2 0h0m.8 .7h0m.7 .4h0m.8-.4h0m4.2-.8h0m2.5 1.7h0m.4-1.3h0m0 .9h0m.5-2.1h0m.3 1.2h0m-46.6 2.4h0m.1-.1h0m.7-.1h0m37.3 .2h0m.7 1.7h0m.8-.8h0m-1.8 2.6h0m.1 1.7h0m1-1.3h0m-1.5 1.3h0m.8 1.2h0m.7-.9h0m-3.4 5.7h0m3.2-.9h0m-2 1h0m0 5.7h0m.3-.1h0m2.2-.2h0m-3.7 1.8h0m3-.5h0"/>
<path stroke="#007fff" d="M304.3 373.4h0m-12.7 1.8h0m3.8 .4h0m1-2h0m1 1.2h0m2.6 .4h0m2.6-1.5h0m1.8-.1h0m1.6 1.1h0m1.5-.6h0m.2 .6h0m-22 4.4h0m4-1.2h0m1.1 0h0m1.8-.8h0m.1 0h0m14.4 1.9h0m-22.3 2.6h0m.8 .7h0m.1 .1h0m.5-2.5h0m23.1 .3h0m-26.9 3.8h0m.5-1.4h0m22.2 1.2h0m.2 .7h0m3-1.8h0m1.3 2.6h0m-30.8 1.9h0m.7-.4h0m.5 1.5h0m.4-1.6h0m.3 .3h0m0-.1h0m.7-.2h0m0-.4h0m.6-.3h0m26.4 2.3h0m.7-2.3h0m1.5 1.2h0m-33.9 4.3h0m1.2-.8h0m.1-.7h0m1.2-.9h0m.1 .2h0m.5-.3h0m27.3 1.1h0m0 .9h0m1.4 .3h0m.3-2.7h0m.3 2.3h0m.8-.9h0m2.3-.2h0m.1 .1h0m1.8-.8h0m.3 1.8h0m.1 .5h0m.3-1.3h0m-40.4 3.8h0m1.1-.6h0m.8-.8h0m.7 .4h0m.6-1h0m29.8 1.1h0m.8-.9h0m-34.9 3.9h0m.8-1.1h0m.4 .1h0m.1-.2h0m.1 .2h0m36.2 2.1h0m.9-.3h0m.7-2.1h0m.5 2h0m.2-.3h0m.3-1h0m.8 1.9h0m1.6-.8h0m-45.1 2.4h0m.3-.4h0m.7 0h0m.1-.2h0m38 .7h0m1.8-.4h0m1.8-.8h0m2.4 .4h0m1.4 .2h0m-7.2 7.1h0m.7-.4h0m.1-.1h0m.2-.9h0m.8 2.2h0m-3.7 3.2h0m1.3-2.1h0m.7 2h0m0-.6h0m.5 .1h0m.2-1.5h0m.2-.1h0m.1 .9h0m0-.5h0m.2-.2h0m-4.2 5.8h0m.3 .9h0m.9 .4h0m3.4 0h0m.4-.9h0m.3 .1h0m.7 .4h0m-4.2 1.9h0"/>
<path stroke="#00aaff" d="M298.5 372.8h0m3.3 .5h0m.3-.8h0m.3 .6h0m1.6-.2h0m-13.2 3.3h0m.3-.3h0m.7-.7h0m2.2-.6h0m.2-.7h0m.7 2.1h0m4-1h0m.6-.1h0m.4-.4h0m.4 .2h0m.8-.6h0m.5 .7h0m2.2-.4h0m.1 1h0m.6 .4h0m.4-1.3h0m.9-.8h0m.6 1.6h0m.7-1h0m-21.3 4.3h0m.4 .6h0m1.8-.9h0m.3-1h0m.4 1h0m.2-.4h0m.3 .7h0m.1-1.2h0m0 2.1h0m0-1.9h0m.4 1.8h0m.9-1h0m0 .3h0m3.2-2h0m-9.6 5.5h0m1.2-.9h0m.3 .8h0m2.3-1.8h0m20.2 1.5h0m-27.1 2.4h0m.9-.8h0m.2 1.8h0m0-.2h0m.5 .2h0m.1-2.7h0m.3 1.7h0m.3 0h0m24.7-1.6h0m-29.3 5.4h0m.7-.5h0m0-.4h0m.2 .4h0m.2-1.3h0m.4 .3h0m1.6-1h0m30.8 1.9h0m1.4 .7h0m-36.8 3.2h0m0-.5h0m.3-.5h0m.1-.4h0m.4 1.3h0m1-2h0m.5-.7h0m33.1 2.6h0m.7-.7h0m0 .3h0m-39.2 3.6h0m.3-.5h0m.7 .6h0m.1-.3h0m0-.1h0m1.2-.3h0m.3-1.2h0m33 .6h0m5 0h0m-42.7 2.8h0m0 1.4h0m.2-.4h0m0 0h0m.8 0h0m.8-1h0m.6-.1h0m.4-.7h0m37.2 .7h0m3.1 .2h0m-44.4 3h0m1.2-.9h0m0 .4h0m.1 .2h0m43.4-.8h0m2 1.5h0m-.5 2.4h0m-6.5 3.2h0m.6 1.1h0m.1-.3h0m-.9 3.1h0m.2 .3h0m.1 0h0m.7-.1h0m-2.2 2.2h0m.7-.9h0m1.2-.3h0m.1 0h0m.6 .8h0m0 .5h0m.6 0h0m-.2 3h0m.2-1h0m.2 .3h0m.3-.6h0m1.1 1h0m.1 .1h0"/>
<path stroke="#00d4ff" d="M296 373.4h0m.9 0h0m1.8-1.1h0m0 .9h0m1.2-1.1h0m1.1 .7h0m.7 .7h0m0 0h0m-11.1 2.8h0m2.1-2.4h0m.3 2.6h0m1.3-.5h0m.3-.9h0m.6 1.3h0m.5-1.6h0m.4-1h0m.1 .1h0m1.2 1.8h0m.1-1.8h0m0 .2h0m.5 .3h0m2.2 .7h0m0-.6h0m3.8 .6h0m1-1.1h0m.7 .4h0m.2 .8h0m.5-1.6h0m1.2 .3h0m.3-.2h0m-20.5 4.9h0m.1 .1h0m.1-.3h0m1.3 .4h0m1.1-.5h0m2.8-1.2h0m.5-.4h0m2.6 .1h0m6.9 2.3h0m-18.7 2.5h0m2.2-1h0m.1-.8h0m.3 0h0m16 .7h0m4.6 1.9h0m-25 1.4h0m.5-.7h0m.1 2.3h0m2.9-2.3h0m19.2 .4h0m1.1-.1h0m-27.1 5.1h0m.3-.1h0m.4-1h0m.8-.4h0m29.1 1.4h0m-31.5 2.2h0m.2-1.8h0m.2 .4h0m.7-.6h0m30.6 2h0m-34.3 3.1h0m.1-1h0m.1 1.4h0m.9-1.6h0m34.9-.6h0m2.1-.2h0m-41.7 5.3h0m.5 .5h0m1.7-2.3h0m.1-.3h0m.4 .1h0m.1-.5h0m-4.2 4.2h0m.4 .2h0m.5-.4h0m.5-.6h0m.6-.2h0m41.8 .8h0m.3-.5h0m1 1.2h0m1 1.2h0m.3-1.2h0m.4 2.1h0m-5.4 2.8h0m.1 .2h0m.1 4.1h0m-2.2 3.9h0m.9-2.3h0m1.5 .8h0m2.7-.6h0m-1.6 3.5h0"/>
<path stroke="#00ffff" d="M300.4 372.8h0m.9 .4h0m.4-.1h0m1.9-.3h0m-12 2.5h0m4.6 .7h0m1.6-.1h0m1.2-.6h0m1.9-.1h0m3.2-1.6h0m.6 .1h0m.9 .9h0m.2-.2h0m1.7 .6h0m0-.4h0m-17.7 4.3h0m.4-2h0m-6.6 5.5h0m2.8-2.3h0m1.3 .2h0m.5-.2h0m14.4 .9h0m.2-1h0m4.7 1.9h0m-25.5 3.1h0m.7-.4h0m.4-1.2h0m21.5-.1h0m-23.7 2.6h0m.4-.2h0m-3.4 4.7h0m.3 .5h0m-3.2 3h0m1 .3h0m-3.4 3.2h0m.8-1.5h0m-2 2h0m40.9 3h0m.6 .2h0m3.2 .5h0m1 .6h0m-4.6 3.8h0m4.8-1.1h0m-4.8 4.5h0m1.7-.2h0m.6-.4h0m.4 .6h0m.2-.1h0m1.1-2.1h0m-5.3 3h0m1.8 2.3h0m.1-1.4h0m1.5-.2h0m.9-1.3h0m.4 1.4h0m-5.4 2.4h0"/>
<path stroke="#2affd4" d="M297.3 374.2h0m7.5 .6h0m1 .6h0m-2.9 5.4h0m.3 1.5h0m0-.9h0m-21.6 3.1h0m33.6 15.2h0m.5 1.5h0m1.7 1h0m-4.3 3.3h0m.8-1.9h0m2.2 2.3h0m-3 3.4h0m.5-2h0m.3-.1h0m.7 1.6h0m.4 0h0m.3-1.3h0m1.3-.6h0m.1-.1h0m-1.6 2.7h0"/>
<path stroke="#54ffaa" d="M294 374.9h0m13-.4h0m8.6 28.5h0m-2.5 3h0m.1-1.7h0m.4 .9h0m.8-1h0m.6 2h0m.2-1.7h0m.3 .8h0m.1-1.2h0m.1 1.7h0m.9-1.7h0m0 1.8h0m.1-1.2h0m1.3 1.6h0m-4.4 1.1h0m1.1 .8h0m1.1-1.4h0"/>
<path stroke="#7fff7f" d="M304.9 378.8h0m-.8 1.1h0m1.5 2.4h0m.9-.5h0m8.3 21.3h0m-1.1 2.7h0m1.8 .7h0m.2-2h0m1.2-.1h0m-2.8 2.6h0m.6 0h0"/>
<path stroke="#a9ff55" d="M305.4 379.4h0m-2.2 2.3h0m.1-.3h0m.7-1.5h0m2 2.1h0m.6-.7h0m8 22.8h0m7.9 1.9h0m-4.6 .9h0"/>
<path stroke="#d4ff2a" d="M303.8 381.2h0m1.3-1.3h0m.5 2.1h0m13.2 24h0m.4 .4h0m1.4-.8h0m.2-.2h0m0 .6h0m1.1-.4h0m-3.5 1.5h0m1.6-.5h0m.1 .2h0"/>
<path stroke="#ffff00" d="M320.5 406h0m.6 1.2h0"/>
<path stroke="#ffd400" d="M304.2 380.7h0m15.8 24.9h0m1.1 .4h0m1.8-.6h0m0-.7h0m.7 .7h0m0 .4h0m1-1h0m.7 .5h0m-6.5 1.3h0m2 .3h0"/>
<path stroke="#ffa900" d="M320.7 406.4h0m2.4-.8h0m1.1 .2h0"/>
<path stroke="#ff7f00" d="M325.3 403.1h0m2-.9h0m-1.4 2.6h0m-3 1.9h0"/>
<path stroke="#ff5500" d="M320.2 391h0m3.5-.2h0m-6.5 .7h0m9.3 1.2h0m.2 3.5h0m-.6 7h0m-1.3 1.2h0m1-.6h0"/>
<path stroke="#ff2a00" d="M317 390.5h0m.5 .8h0m2.9-.2h0m1.4-.2h0m2.2 1.3h0m.5 .4h0m.6 1.2h0m.9 .5h0m.6 2.7h0m1.6 .4h0m-.9 2h0m-.6 4.1h0m0-.7h0m.2-1.9h0m.4 .3h0m.3 1.6h0m.1-1.8h0m-1.9 3.8h0m.4-.5h0m.5-.6h0"/>
<path stroke="#ff0000" d="M317.8 390.4h0m1.8 1h0m.7-.9h0m-4.2 1.1h0m5 .3h0m3.8 .1h0m.1 .3h0m.6 1.1h0m1 2.1h0m.5 4.4h0m.1 .1h0m.3-.2h0m.5-1.6h0m-1.7 3.6h0m1.8 1.1h0"/>
<path stroke="#d40000" d="M317.8 391h0m.1-.1h0m.6-.9h0m2.3 .7h0m.2 .6h0m1.9-.7h0m1.5 1.5h0m.5 .7h0m.1 .8h0m2 2h0m-.6 2.5h0m1.1 .2h0m0 .9h0m-.7 4h0"/>
<path stroke="#a90000" d="M317.7 390.8h0m-1 1.5h0m1.2-.5h0m3.4-.1h0m.7 .1h0m1.1 0h0m.8 .2h0m2.1 1.2h0m.4 5h0"/>
<path stroke="#7f0000" d="M318 390.8h0m.7-.1h0m6.5 3.2h0"/>
</g>
<rect x="269.3" y="367.3" width="61" height="60.6" fill="none" stroke="#2a2a2a" stroke-width="0.95"/>
<path d="M269.3 367.3h-1.4M269.3 427.9v1.4M269.3 382.4h-1.4M284.6 427.9v1.4M269.3 397.6h-1.4M299.8 427.9v1.4M269.3 412.8h-1.4M315.1 427.9v1.4M269.3 427.9h-1.4M330.3 427.9v1.4M269.3 367.3h-0.8M269.3 427.9v0.8M269.3 371.1h-0.8M273.1 427.9v0.8M269.3 374.9h-0.8M276.9 427.9v0.8M269.3 378.7h-0.8M280.7 427.9v0.8M269.3 382.4h-0.8M284.6 427.9v0.8M269.3 386.2h-0.8M288.4 427.9v0.8M269.3 390h-0.8M292.2 427.9v0.8M269.3 393.8h-0.8M296 427.9v0.8M269.3 397.6h-0.8M299.8 427.9v0.8M269.3 401.4h-0.8M303.6 427.9v0.8M269.3 405.2h-0.8M307.4 427.9v0.8M269.3 409h-0.8M311.2 427.9v0.8M269.3 412.8h-0.8M315.1 427.9v0.8M269.3 416.5h-0.8M318.9 427.9v0.8M269.3 420.3h-0.8M322.7 427.9v0.8M269.3 424.1h-0.8M326.5 427.9v0.8M269.3 427.9h-0.8M330.3 427.9v0.8" stroke="#222" stroke-width="0.5" fill="none"/>
<text x="266.3" y="369.1" font-size="5.0" font-weight="normal" text-anchor="end" fill="#333">60</text>
<text x="266.3" y="384.2" font-size="5.0" font-weight="normal" text-anchor="end" fill="#333">30</text>
<text x="266.3" y="399.4" font-size="5.0" font-weight="normal" text-anchor="end" fill="#333">0</text>
<text x="266.3" y="414.6" font-size="5.0" font-weight="normal" text-anchor="end" fill="#333">-30</text>
<text x="266.3" y="429.7" font-size="5.0" font-weight="normal" text-anchor="end" fill="#333">-60</text>
<text x="269.3" y="435.1" font-size="5.0" font-weight="normal" text-anchor="middle" fill="#333">-60</text>
<text x="284.6" y="435.1" font-size="5.0" font-weight="normal" text-anchor="middle" fill="#333">-30</text>
<text x="299.8" y="435.1" font-size="5.0" font-weight="normal" text-anchor="middle" fill="#333">0</text>
<text x="315.1" y="435.1" font-size="5.0" font-weight="normal" text-anchor="middle" fill="#333">30</text>
<text x="330.3" y="435.1" font-size="5.0" font-weight="normal" text-anchor="middle" fill="#333">60</text>
<text x="300" y="361.7" font-size="8.9" font-weight="bold" text-anchor="middle" >NKG2C</text>
<g stroke-linecap="round" stroke-width="1.7" fill="none">
<path stroke="#00007f" d="M380 375.5h0m-8.5 3.7h0m4.1-.3h0m.7-.6h0m1.5 1h0m6.5-.3h0m1.2-1.3h0m1.6 4h0m-26.2 8.5h0m.1-.6h0m.1 .2h0m.2 0h0m4.3 .7h0m-5.9 1.8h0m.7-.5h0m.7 1.5h0m1.9-.3h0m-5.2 2.8h0m1.4-1.3h0m1.3 .1h0m.2 2.3h0m.5-1.9h0m-4.4 5.4h0m.6-1.2h0m.4-1h0m.1 1.9h0m.3-.9h0m.5-.5h0m2.1 1.1h0m.5 .7h0m.3-1.6h0m.4 .6h0m.1 .7h0m-4 .8h0m1.3 2.1h0m.1-2.5h0m1 1.8h0m.5-.9h0m2.4 0h0m-5.8 3.9h0m.5 .4h0m.2-.9h0m.1-.8h0m1.2-.4h0m.7 1.4h0m.4 .4h0m.4-.9h0m.4-.7h0m1.3 .6h0m.9 .3h0m-11.8 2.5h0m5.1 1.5h0m.8-2h0m.6 1.9h0m.2 .1h0m0-.2h0m.1-.9h0m.5 .5h0m1.9 .9h0m-.6 3h0m3.9-2.3h0m.1 .5h0m-2.8 3.3h0m1.2-.2h0"/>
<path stroke="#0000aa" d="M365.2 375.8h0m.1 .6h0m.4-1.2h0m.2 .4h0m2-1.3h0m.3 2h0m1.1 .2h0m.6-.6h0m-8.2 3.2h0m.1-.4h0m1.6 0h0m.6-.8h0m.3-.2h0m.2 .3h0m.1-.8h0m1.3 .7h0m1.3-1h0m.2 .4h0m16.9 .7h0m.3-1h0m1.2 .4h0m-28.4 4.5h0m0 .5h0m2.4-.6h0m.7-1.8h0m1.5-.1h0m.2 .3h0m1.1-.6h0m8.7 2.2h0m6.5-1.9h0m.3 .2h0m5.9-.1h0m.8 .6h0m.3 .6h0m3 .4h0m-33.3 3.8h0m.9-1.1h0m.1 .1h0m.2-1.9h0m.1 2.4h0m7.7 .1h0m-10.8 2.6h0m.6-.1h0m.1-.5h0m.1 .2h0m.5-.9h0m1.2-.1h0m1-.5h0m-5.4 4.3h0m.3-.6h0m.3 1.3h0m0-.1h0m.1-1h0m.3 1h0m.8-1.5h0m8.5 .8h0m.7-.5h0m.8 2h0m1.1-2.2h0m27.4 1.7h0m.6-.1h0m.7-.7h0m.2 1.2h0m.3-.1h0m.5 .2h0m.7-1.3h0m1.1 1h0m-47.7 3.4h0m.5-1.2h0m.2 .6h0m.3-.2h0m.2-.8h0m.2 .9h0m.4 .2h0m.5-2.3h0m.5 .4h0m7.9-.4h0m.5 1.9h0m1 .4h0m.4-.7h0m.2-.5h0m.4-.2h0m.6 1.6h0m1.2-1h0m27.4-1.6h0m1.9 0h0m5.3 .8h0m.6 .1h0m.8 .8h0m.5-.5h0m-53.6 4.3h0m0 .3h0m1.3-1.9h0m.4 .8h0m.1-.2h0m.1-1.6h0m1.1 .1h0m13 .1h0m1.5 .3h0m37.9 2.2h0m-57 1.8h0m0-.2h0m.3 .1h0m.2 0h0m.6-.6h0m.1-.7h0m.1 .9h0m.4-.9h0m0 .7h0m.2-.4h0m9.7 2.4h0m.6-2.1h0m3.8 1.5h0m40.8-.4h0m.2 .6h0m.7-.9h0m-43.7 4.3h0m4.8-.1h0m.2 .1h0m35.8-.7h0m1.1 .4h0m.3-.4h0m.6 .3h0m-51.8 3.4h0m.4-.2h0m.5-.1h0m.2 .1h0m1.3 .4h0m5.6-1h0m1-1h0m.8 .2h0m.7-.1h0m.4-.1h0m.9 .7h0m.1 .3h0m.1-1.7h0m2.1 0h0m29 2.6h0m.7-.2h0m.3 .1h0m.6-.5h0m2.2-.3h0m1.1-.3h0m.3 .8h0m1.7-.9h0m.8-1h0m.3-.3h0m-50.7 3.9h0m.2-1.1h0m.3 .5h0m.1 .2h0m0 .4h0m.2 .9h0m.5 .3h0m.2-.7h0m.2 1.2h0m.1-1.6h0m1.1-.1h0m.4 0h0m0 .4h0m.7 .6h0m.1-1.1h0m.4 1h0m.8 .8h0m.8 0h0m.1-.9h0m.1 .9h0m.1-.4h0m1.5-1.2h0m.5-.4h0m.2 1.6h0m.7-2.1h0m1.5 1.1h0m.2 .8h0m2 .6h0m30.5-2.7h0m.8 .2h0m.3 0h0m-43.5 2.8h0m.2 1h0m.4-.1h0m.1-.3h0m.9 1.3h0m1.2 .7h0m2.2-2.2h0m.4-.5h0m2.2 0h0m.1 0h0m1.7 1.3h0m3.4 .1h0m20 0h0m-31.4 2.2h0m1.1 .7h0m.2-.7h0m.1 .8h0m.2 .2h0m.3-.3h0m.1-.2h0m0 .1h0m.2 0h0m.2 .6h0m.4 .7h0m0-.1h0m5.5-2.1h0m26.2-.2h0m-32.3 3.9h0m.5-.5h0m.1-.1h0m.5-.5h0m.3 .3h0"/>
<path stroke="#0000d4" d="M368.4 372.8h0m-2.4 2.8h0m1.8-1h0m.5-.2h0m1.6 1h0m11.6-.1h0m.6 0h0m2.1 1h0m-24.4 3.1h0m2.3-1h0m.1 1h0m.6-1.2h0m.9 .8h0m0-.8h0m.4 .2h0m.9 .5h0m1.7-1.6h0m3.6-.6h0m5 2.1h0m1.4 0h0m1.2-1.1h0m3.3 .6h0m.5 .7h0m.2 0h0m2.2-2h0m.4 .8h0m-26.2 4h0m.3 .5h0m.2-.6h0m.5 .3h0m.9 .1h0m.2-1.8h0m.1 .2h0m.5 .8h0m.1-1.7h0m15.4 .4h0m.2 1.5h0m1.7-1.1h0m7.1 1h0m1.8 .6h0m.3-1.6h0m-32.2 4.7h0m.4-1.1h0m0-.5h0m.5 0h0m.2 1.8h0m.3-2.5h0m.5 1.4h0m.3-.9h0m.3 .2h0m1.8-.8h0m17 2.7h0m8.9-2.2h0m-32.7 4.5h0m.3 .1h0m.9-1.1h0m.4 1.4h0m.5-1.2h0m1-.1h0m17.2 .6h0m8.3-1.2h0m-30.5 4.8h0m1-1h0m0 .4h0m.2 .7h0m.9-2.1h0m.2-.5h0m.1 .4h0m.4 .6h0m7.4 .3h0m1.3 .1h0m28.7 1.1h0m.5 .5h0m.9-.5h0m.1 .1h0m2.2-.3h0m.2-.7h0m.4 1.1h0m2.3 .1h0m-49 2.9h0m.9-.4h0m.9-1.8h0m.2 .5h0m.6-.9h0m.1 1h0m6.8 1.5h0m1.3 .2h0m1-1.2h0m2 .6h0m.1-1.4h0m27.6 .1h0m1.6-.3h0m5.1 .1h0m.2-.5h0m.9 .4h0m1.1 1.7h0m.6-.3h0m.9 .5h0m.1 .3h0m-54.4 2.2h0m.6 .4h0m.1-.1h0m.5-1.6h0m1.2-.6h0m.2 .5h0m.1 .2h0m.1-.7h0m.2 .3h0m9.1 1.8h0m7.3-1.3h0m34.9 1.2h0m.3-.3h0m.3-.1h0m.2-.3h0m1.1 1.5h0m-57.2 1.4h0m.4-.4h0m.4 .9h0m.1-.6h0m0-.7h0m.2 .8h0m.1-1.1h0m11 2.2h0m5-.2h0m.2 .5h0m39.1-.7h0m0 .1h0m-44.6 3.1h0m3.7-1.7h0m.6-.3h0m1.6 .3h0m0 1.9h0m1.5-2.1h0m0 1.9h0m.7-.8h0m34.8 1.2h0m1.1-1.2h0m.2-1.3h0m.2 1.1h0m.5 .8h0m-44.9 2.8h0m.4-1.4h0m2.9 .6h0m.3 .2h0m1.6-.4h0m.4 .7h0m0-.8h0m1.4 1.8h0m.9-.4h0m.4-1.1h0m26.5 1.7h0m.1 .2h0m1.9-.2h0m.7-.5h0m.5 .4h0m.2-.7h0m1.4 .2h0m.1 .8h0m1.1-.5h0m.4-1.7h0m.4 .6h0m.7-1h0m.2 .7h0m-50.2 2h0m1.5 2.5h0m.4-2.2h0m.5 2.6h0m2.7-2h0m.2 0h0m.4 .2h0m.2 1.4h0m.7 .4h0m.5-.8h0m1.7-.3h0m.4-1.7h0m.7 1.6h0m2.5 .4h0m4.6-.1h0m28.7-1.7h0m-42.6 5.3h0m1.2 0h0m3.5-2.1h0m2.5 2h0m1.2-.5h0m1.9-1.1h0m-9.4 2.7h0m1-.6h0m.2 2h0m7.1-1.3h0m.8-.5h0m.3 .5h0m2.3 .6h0m-9.1 2.8h0"/>
<path stroke="#0000ff" d="M373.6 372.9h0m4.7 .2h0m2.7 .3h0m-15.3 1.8h0m2.1 1.2h0m1.4-1h0m0-.9h0m.8-.4h0m.1 .5h0m8.2-.8h0m1.2 1.1h0m1.7-.6h0m.2-.5h0m-20.6 5.4h0m.9-.1h0m.5-.7h0m1.1-.9h0m.2 1.1h0m2.1 .1h0m2.1-2.2h0m9.2 1.9h0m.4 .7h0m.2-1.2h0m1.7-.5h0m4.5-.6h0m.3 2.4h0m.2-2h0m1.9 .8h0m-26.5 3.4h0m.4 .1h0m.9-.6h0m0-1.4h0m9.5 .8h0m.5 .6h0m2.9-1.2h0m8.7 2.2h0m1.2-1.2h0m2 .5h0m1.2 0h0m2.6 1.2h0m-33.3 2.8h0m.6 .1h0m.4-.4h0m.2-1.1h0m0-.7h0m8.1 2.1h0m1.7-1.1h0m-13.8 3.2h0m.1 .2h0m.5 .5h0m.2 0h0m.3-.7h0m.1 .9h0m.3-.9h0m.6-1.7h0m.1 1.5h0m9.6 1.4h0m7.3-1.9h0m.7-.1h0m-21 4h0m.4-1.5h0m.5 .3h0m.2 .1h0m1.2-.8h0m10.1 2.7h0m.4-1h0m1.5 1h0m23.4-.4h0m2.4-.1h0m.3-.4h0m4 .6h0m-47.7 3.3h0m.9 .1h0m0-.1h0m.2-.4h0m.5-.6h0m.5-1.1h0m.8-.6h0m7.3 1.7h0m1.4-.3h0m.3 1.1h0m1.4-.6h0m2.1 .2h0m3.4 .6h0m9.1-.8h0m19.1-1.9h0m2 .9h0m.6-1h0m1 2.3h0m.4-.9h0m.7-.1h0m-54 4.7h0m.3-.2h0m1-1.6h0m0 .1h0m.6-.7h0m0 .7h0m.8-.7h0m7.3 1.8h0m2.5-1.7h0m.9 1.5h0m.5-1.7h0m5 0h0m-19.5 3.8h0m.5-.5h0m10.4-.5h0m.8 2.4h0m2.7-2.5h0m2.2 2h0m3.3-.1h0m.8-.6h0m15.7 .8h0m19.1-1.8h0m.3 1.3h0m.1-.7h0m-45.5 4.4h0m.9-1.8h0m2.6 1.1h0m.5-1.2h0m2.3 .5h0m1.2 1.7h0m2.6-2.5h0m.3 1.8h0m33.8-.9h0m1.3-.3h0m-44.4 2.3h0m.3 .3h0m.1-.3h0m4.5 1.4h0m.8-1h0m.8 .1h0m0 1.8h0m26.3-1.9h0m3.8 1.6h0m.5-.2h0m3.9 .2h0m1.5-.9h0m.8-.3h0m-42.5 4.2h0m2.9-.4h0m2.4-.5h0m9.7-.8h0m18.8 .2h0m3.3-.5h0m1.4 .2h0m-31.2 5.2h0m-.1 2.1h0m1.6 3.1h0m11.5 4.2h0"/>
<path stroke="#002aff" d="M370.3 373.3h0m.1-.3h0m2.4 .2h0m1.4-1.2h0m.9 1.4h0m.5-.5h0m.1-.4h0m.6 .1h0m.6-.4h0m1.7 .2h0m0 .8h0m-8.3 1.8h0m.2-1.1h0m.4-.1h0m.5 .4h0m.1 .4h0m.1-.5h0m.6 1.4h0m.1-1.2h0m.9 1.1h0m1.2-.9h0m.1 .6h0m0-1.1h0m.1-.2h0m0 1.4h0m.3-1.3h0m.8 1.3h0m.4-.1h0m2.1-.7h0m.3 .1h0m.1 .7h0m.4-.6h0m.4-.3h0m.5 .8h0m.2-.8h0m.8 .6h0m.3-.2h0m.6-.8h0m.2 0h0m0 .4h0m1.5 .6h0m-11 4.4h0m2.1-1.4h0m.7 1.2h0m5.1-1.7h0m.4 .8h0m1.7 .6h0m1.6 .4h0m.1-1.2h0m.8 .2h0m1.1-.4h0m-17.6 4.5h0m1.9-2.2h0m.2 1.5h0m6.9-.2h0m.8-1.4h0m1.2 .4h0m.8 1.3h0m2.2 .7h0m.8-2.5h0m.4 0h0m3.1 .9h0m.5 .4h0m1.5-.1h0m-22.8 3.8h0m7-1.1h0m4.9 .9h0m1.4-.2h0m2.6 .6h0m.2-2.2h0m-17.6 4.6h0m10.9-.2h0m1.1-.4h0m5.7-.2h0m6.4-.4h0m-23.1 2.8h0m1.8 1.7h0m1.1-.3h0m12.8 0h0m7.3-.2h0m2.4-.9h0m-28 3.1h0m1.1-.3h0m2 1.5h0m8.7-.2h0m.1-2h0m.5 1.4h0m1.9 1.4h0m-18.3 1.9h0m5-.7h0m17 1.3h0m6.8-1.7h0m-30.3 4.5h0m1.6 .4h0m1.1-.5h0m1.4 0h0m15.1-.7h0m-16.5 2.6h0m3.7 2.1h0m.4-1.6h0m13.2 1.5h0m5.7-2.1h0m-24.2 2.3h0m4.4 .3h0m3.1 1.3h0m1.4 .1h0m4.7-1.4h0m5.4 .5h0m3.4 2h0m-20.5 2.7h0m23.3-.7h0m7-1.1h0m-33.2 2.4h0m6.2 2h0m15.5-1.9h0m-17.6 4.3h0m1.2-.9h0m.8-.1h0m3.5 2.2h0m-2 2.6h0m3.3 1.6h0m7.8 2.8h0"/>
<path stroke="#0055ff" d="M372.8 372.1h0m3.3 .4h0m.9 .8h0m.1-.1h0m1.5-.1h0m-6.8 1.2h0m.3 1.5h0m1.3-.5h0m2.4-1.1h0m1.8 .8h0m.6-.2h0m1.4-.7h0m0 1.8h0m.3-.3h0m.5-.5h0m.8-.5h0m.7 1.4h0m.8-.3h0m-6.5 2.6h0m1-.7h0m.6 1.7h0m4-1h0m.4-.1h0m.3 .7h0m-4.7 2.5h0m3.2-.2h0m4.3 0h0m1.3-.2h0m-12.9 2.3h0m.6 1.1h0m4.2 .1h0m1.8-1.4h0m.9 1.4h0m0 .3h0m5.7-1.9h0m-22.4 5.6h0m.4-2.7h0m2.8 2.6h0m3.3 .1h0m3.5-.6h0m4.4 .4h0m1.5-.4h0m.3-.2h0m8.9-.4h0m-22.9 3h0m.2 .1h0m7.3 1h0m.1-2.1h0m13.9 1.8h0m-22.9 2.2h0m3.8-.8h0m13.6-.4h0m-17.5 3.9h0m7.2-1.5h0m.1 1.2h0m4.3-.8h0m8.7 1.9h0m5.6-1.4h0m-25.9 3.4h0m7.3 1.4h0m2.8-.3h0m3.4-2.4h0m2.2 .3h0m-23.9 5.1h0m1-.3h0m1.2-1.1h0m4.4 .7h0m.5 .8h0m10.4-2.4h0m5.3 2.7h0m1.1-2.3h0m10.9 1h0m.2-.6h0m-31.8 3.3h0m6-1h0m1.2 .6h0m5 1.6h0m1.2-1.8h0m4.6 .1h0m.1 2.1h0m1.7-.1h0m6.3-.4h0m3.3-.1h0m-29.6 1.9h0m11.6 1.8h0m2.9 0h0m1.8-.4h0m4.4-.9h0m1.9 .9h0m0-2.1h0m.1 .7h0m3.4 .6h0m1.5-1.5h0m3.1 .2h0m.1-.1h0m-25.7 4.7h0m24.3-.1h0m-24.9 4.1h0m.5-1.7h0m.9-.9h0m.4 1.8h0m0-1h0m-.4 3.2h0m.7 1.3h0m.6-2.2h0m1.2 2.9h0m4.9 2h0m6-.3h0m-6.6 .9h0m.1 .4h0m2.9 .3h0m3.3-.4h0"/>
<path stroke="#007fff" d="M374.7 372.4h0m1.2 .6h0m3.7 1h0m.6 .2h0m1.5 0h0m-8.4 5.2h0m12.1-.3h0m-19.1 3.2h0m11.3-2.1h0m1.8 1.1h0m.5 .5h0m5.1 .3h0m-5.5 1.3h0m0 1.2h0m1.1-.9h0m1.4-1h0m.7 2.7h0m6.3-.3h0m.2-.8h0m.3 1.1h0m-19.5 1.9h0m1.7 .2h0m.9 .5h0m0-.7h0m1 1.1h0m2-1.4h0m4.1 .5h0m2.8 .7h0m2-.1h0m4-.5h0m1.8 .7h0m-24.7 2h0m9.9-1.6h0m1.7 2.1h0m.2-.6h0m1.3 1.3h0m2.2-1.2h0m1.8-1.8h0m.3 2.5h0m3.6-1.7h0m1.1 .4h0m1.4 1.6h0m1.7-2.1h0m-23.4 2.5h0m7.5 .3h0m.9 .5h0m4.7 1.4h0m8-.4h0m.1-.2h0m1-.2h0m1.2 .1h0m1.4 .9h0m-23.8 1.1h0m5.8 1.5h0m1.8 .4h0m.3-1.7h0m1.1 .2h0m.4 1h0m4.2-.2h0m5.2 .1h0m1.2-1.5h0m2.9 2.4h0m-25.1 1.6h0m7.7 .1h0m.2 .5h0m2.5 .3h0m.4-.5h0m.1-1.4h0m2.4 .6h0m1.3-1h0m.7 .3h0m.5 2.2h0m.6-1.2h0m.3-1h0m-22.7 3.8h0m5.6 0h0m8.1-.5h0m1.6 2.3h0m3-.2h0m2.9-1.7h0m9 .1h0m-26 2.3h0m.9 .6h0m4 1.5h0m.1-.3h0m1.6-1.1h0m.7 .5h0m.1 1.3h0m2.6-.5h0m2.2-1.6h0m1.9-.4h0m0 1.3h0m.7-1.2h0m8.5 2.1h0m.7-2.1h0m.8 .1h0m.6-.3h0m1.2 0h0m-32.2 3.4h0m7.7 .8h0m1.1 .6h0m2.4-1h0m2.3 1.6h0m4.2-.8h0m2.8-1.9h0m.8 1.6h0m.5 1.1h0m4.2 0h0m1.5-1h0m1.5-.5h0m1.4-.6h0m.1 .3h0m.5 1h0m.3-.1h0m-25.8 3.8h0m8.3-1h0m11.5-.2h0m5.1-.2h0m-24.6 2.5h0m.6-.1h0m2.5 1.5h0m17.4-1.6h0m1.6 .7h0m.1 .5h0m.3-1.5h0m.3 .1h0m-22.4 3.3h0m2.1 .3h0m1.3 1.2h0m3.9 3.1h0m1.8-.3h0m2-.5h0m-1.5 2h0m3.9 .9h0"/>
<path stroke="#00aaff" d="M381.8 376.4h0m-3.9 1.5h0m3.2 .5h0m3.8 .1h0m-6.8 2.8h0m2.6 .9h0m4.3-1.8h0m.2 1.4h0m-18.2 2.1h0m.5 0h0m.1 1.5h0m1-2.3h0m.9 .8h0m1.6 .1h0m1.2-.3h0m5.9-1h0m4.5 .7h0m6.9 1.6h0m-18.9 .8h0m.9 2.2h0m10.3-2.1h0m2-.4h0m.1 .5h0m6.3 1.9h0m-24.6 2.1h0m2.4 .3h0m.8-1h0m.1 1.8h0m4.8-2.2h0m.9-.4h0m7.1 2h0m.1-.4h0m2.8 .7h0m2.3-.5h0m1.5 .2h0m.7-1.7h0m1.5 1.2h0m-16.3 1.7h0m.1 1.5h0m.4-1.6h0m14.2 1.3h0m3.5 1.1h0m-23.6 2.2h0m.9 .2h0m.8 .6h0m.8-1.6h0m.9-.8h0m3 1.2h0m.1-1.1h0m2.6 .2h0m1.6 2.6h0m.7-1h0m2.4 .1h0m.5 .2h0m3.3-.9h0m.9-1.2h0m.6 2.2h0m1.2-.4h0m.7 0h0m2.3-1.2h0m-15.6 3.7h0m.2 1.3h0m0-1.4h0m7.6-1.4h0m4.9 2.2h0m1.4 .7h0m.7-.9h0m-29.1 3h0m9.3-1.8h0m6.5 .9h0m.5 1.1h0m1.8-.4h0m0-.4h0m1.5-.2h0m7.2 .9h0m2.7 .4h0m-27.8 .8h0m2.5 2.2h0m6.1-1.6h0m.4 .5h0m5.8 .9h0m.3 .5h0m.1-.4h0m.6-.6h0m.1-.8h0m1-.4h0m.5 0h0m6.1 1.9h0m.6-.4h0m.5-.6h0m1.8 .4h0m.3 0h0m.9-.7h0m-13.1 3.9h0m.7 .5h0m1.3-1.1h0m2.9 .2h0m1-.3h0m.1 .9h0m4.4-.5h0m.4 .7h0m-28.6 2.3h0m7.1-1.3h0m.9-.1h0m12.2-.3h0m3.1 2.5h0m.5-2.1h0m1.2-.2h0m1.7 1.6h0m-21.7 1.5h0m.8 1.8h0m.7-1.9h0m.6 .2h0m.4 1.8h0m12.8-1.5h0m-13.7 2.5h0m1.4 .1h0m.6-.1h0m.2 2.3h0m9-1.3h0m-11.2 2.6h0m9.5 .3h0m1.7 1.8h0m1.5-.8h0m-4.4 1.6h0m3.1-.6h0"/>
<path stroke="#00d4ff" d="M386.7 378.6h0m-14.4 3.8h0m-3.8 2.5h0m2.1-1.7h0m.2 .6h0m.7 .9h0m1.6-.5h0m9.1 .7h0m3.4-2.2h0m3.8 .3h0m.6 1.4h0m.2-.3h0m-24.3 3.9h0m4-.2h0m5.4-1h0m1.1 1.1h0m.9-2.1h0m12.7 2.6h0m.1-.7h0m-25.5 3.6h0m2.8-1.3h0m1.2-.2h0m.7 .7h0m.8-.7h0m2.8 1.5h0m3.3-2h0m.8-.3h0m1.2 1h0m5.6 .9h0m.3-1.4h0m3.1 1.8h0m2.1-.6h0m.1-2h0m1.8 1.4h0m-27.9 2.3h0m2.5-.6h0m3.1-.1h0m1.1 .6h0m.1 .6h0m2.1 0h0m2.5-.3h0m11.2 .1h0m-20.2 4.1h0m.1-1.3h0m6.8 0h0m1.3 2h0m3.2-.6h0m.2 .5h0m7.2-1.3h0m2.3-.4h0m4 .9h0m.3-1.5h0m-20.2 2.6h0m1.3 2.1h0m7.4-1.5h0m2.1 1.4h0m2.3-1.2h0m2.6-.3h0m2.3 0h0m1.8 1.7h0m.6-2.1h0m-17.6 3.8h0m2-.7h0m1.9 2.6h0m1.5-2.7h0m4.4 1.8h0m6.5-1.1h0m1.3 0h0m-29.1 3.5h0m9.1 0h0m5.9 1.1h0m.6-1.3h0m.2 .1h0m2.7 1.4h0m2.5-.4h0m1.1-.9h0m7-.4h0m-27.8 3.7h0m13.9-.1h0m4.3 0h0m.7 .2h0m.8-.9h0m1-.3h0m.7 .8h0m.8-.4h0m.6 1.2h0m3.2 .5h0m-15 2.2h0m2.6-.1h0m3.3-1.8h0m5.3 .8h0m.4 1.3h0m.2-1h0m-19.3 4h0m2.3 .2h0m16.7-.9h0m.9-.6h0m.6 .9h0m-19.9 2.5h0m1.8 1.5h0m0-2.6h0m.3 1.9h0m9.5-2h0m-13.2 3.1h0m3.3 1.9h0m4.8 .8h0m.9-1.1h0m1.6-.7h0m.6 .8h0m.5-.8h0m.2 .9h0m2-1.4h0m-1.6 2.9h0"/>
<path stroke="#00ffff" d="M384 379.3h0m-16.2 4.8h0m0-.5h0m.3-.3h0m5.3-.7h0m5.6 .5h0m1.5 1.1h0m.4 1.1h0m0-.5h0m-5.4 1.8h0m.4-.5h0m6.1-.3h0m3.2 .9h0m.4 .3h0m1.9-.1h0m.8 .2h0m-20.3 2.8h0m.8 .7h0m.5 .3h0m.5-2h0m6.2-.2h0m1 1.3h0m14.2 .3h0m-28 2.8h0m2.6 .7h0m2.9-1h0m10.3-1h0m2.4 0h0m.2 2.7h0m.9-2.4h0m.9 .2h0m6 .6h0m1 0h0m1.4 .8h0m-33.4 1.3h0m8.7 1.5h0m.1 .5h0m1.4-.8h0m.1-1.6h0m.1 1.6h0m2.1-.4h0m3.9 .6h0m9.2-.7h0m2.8 .6h0m4.8 .7h0m-17.8 1.3h0m.6 1.2h0m.2 .7h0m4.8-2h0m2.3-.5h0m1.8 .6h0m.3 .1h0m1 1.6h0m4-1.6h0m1.2 .2h0m.3-.5h0m.1 1.2h0m-18 1.7h0m6.1 .4h0m.4 .5h0m2.8 1h0m.6-.6h0m7.4 0h0m-20.3 1.2h0m13 1.4h0m.8 1.3h0m.3 0h0m.3-.2h0m1-1.2h0m.7 1.2h0m.3-2.1h0m.5 2.1h0m.7 .1h0m2.3-1.1h0m0 .1h0m.3 1h0m1.3-2.2h0m-11.1 2.9h0m.7 1.4h0m3.7 .4h0m.8-1.8h0m4.6 2.1h0m.4 .4h0m.9-2.5h0m-31 5.3h0m9.1-2.2h0m17.2 1.5h0m1.6-1.9h0m1.9 1.4h0m-19 2.5h0m.4 .2h0m1.2-.3h0m4.3 0h0m.8 1h0m10.1-.8h0m.1 .6h0m-19 2.6h0m1.1 1.2h0m0-.4h0m.3-.6h0m1.1 .2h0m7 .3h0m-4.2 2.5h0m3.1-.1h0m2 .7h0m.4-.2h0m.7-.9h0m.4 1.2h0"/>
<path stroke="#2affd4" d="M385.5 375.7h0m-15.9 6.7h0m7.5-.7h0m-8.9 2.7h0m1.2 .1h0m1.7-1.1h0m12.6 1.6h0m6.1-.2h0m-11.2 3.3h0m11.2 .1h0m-22.9 .5h0m.1-.1h0m2.2 2.2h0m5.6-2.1h0m6.5 2.5h0m7.4-1.2h0m-20.1 2.3h0m1.5 .5h0m1.3 1.6h0m15.4-2.7h0m-16.8 3.8h0m1-.4h0m3.2-.1h0m.2 2.3h0m1.1-2.3h0m6.2 .8h0m5.6-1.2h0m4.1 .6h0m.9 1.3h0m-14.1 1h0m6.7 2.7h0m-3.9 .9h0m1.3 1.6h0m.1 .8h0m.5-1.1h0m4.3-1.1h0m-23.7 3.1h0m12.2 2h0m2.5-2.6h0m1.5 1.9h0m1.4-.9h0m1.4 1.6h0m1.8-2.5h0m1 .6h0m2.3-.5h0m-27.2 4.8h0m11.6-.3h0m2.4 .5h0m4.4-1.5h0m8.8 .3h0m1.5 1.5h0m-17.3 2.7h0m.8-.6h0m2.6-.4h0m9.8-1.4h0m.4-.1h0m.6 1.5h0m1.7-1.5h0m-16 3.8h0m.1-.5h0m.3 .9h0m.1-.7h0m15.4 .6h0m-19.5 2.6h0m.5 1.3h0m10.5-.9h0m3.6 1.5h0m.1-2.6h0m1.5 .6h0m-11.3 4.1h0m.9-.6h0m.6 .6h0m.6-1h0m.6 2.2h0m3.4-1.8h0m1.8 .7h0m1-.8h0"/>
<path stroke="#54ffaa" d="M382.4 383.1h0m.9-.1h0m-.4 3.1h0m-4.7 4.5h0m.2-.5h0m10.1-.7h0m-17.4 2.6h0m-9.3 4.6h0m5.5-1.3h0m11.3-.1h0m5.5 1h0m-8 3.5h0m8.2-.1h0m.4-.5h0m3.1-1.3h0m-5.4 4.3h0m1.1 .3h0m0 .4h0m-3.9 2h0m1.3 .1h0m3.9 .9h0m1.6-2h0m.8-.1h0m-14.1 4.1h0m2.4-.6h0m7.8 .4h0m1.9 .6h0m-11.2 3.2h0m.5 .2h0m-4.5 2.4h0m.4 1h0m.4-.6h0m1.3-.8h0m9.8 1.6h0m1.5 .2h0m-14 .6h0m.8 1.4h0m.1 .1h0m5.6 .1h0m3.3-1.9h0m4.4 .4h0m-15 2.8h0m.5 .3h0m2.3-.3h0m10.8-.3h0"/>
<path stroke="#7fff7f" d="M378.9 379.5h0m.8 3.8h0m2.2-.8h0m3.3 16.9h0m-2 2h0m.1 .6h0m-10.2 4h0m8.7-.6h0m2-1.2h0m.5 1.5h0m.5-1.8h0m.5 1.6h0m0-1.6h0m-12.7 5.5h0m11.7-.4h0m.5 .2h0m-14.4 1.9h0m2.3 .9h0m.6 .2h0m-3.3 3.1h0m1.7-1.6h0m5.2 .9h0m.3 .1h0m4.9-.6h0m0 1.1h0m-12.2 2.2h0m8.4-1.5h0m1.9 .3h0m1 .2h0m-.4 2.4h0m1.5 1h0"/>
<path stroke="#a9ff55" d="M377 378.3h0m13.2 7.2h0m-18.3 1.5h0m.7 7.5h0m-2.3 2h0m13.5 5.3h0m1.1 0h0m-9.1 12.8h0m3.5 .7h0m-10.6 2.3h0m2.9-1.8h0m.3 2.1h0m6.9-.5h0m1.7-.6h0m2.5 .8h0m-7.8 1.4h0m1.4 2h0m5.2-1.8h0m1.4-.2h0"/>
<path stroke="#d4ff2a" d="M388 379.1h0m-10.5 3h0m6.4-1.3h0m-16.8 3.1h0m2.6 1.4h0m-1.8 7.9h0m6.4-1.7h0m4.1 7.3h0m-3.2 7.1h0m-3.9 6.3h0m12.9 3.2h0m-1.8 3h0m-7.4 2h0m6.8-1.6h0"/>
<path stroke="#ffff00" d="M374.4 387h0m.1 .6h0m-2.8 12.8h0m10.3-1h0m.5 3h0m4-1.4h0m-11.4 5.3h0m14.1-.4h0m-20.7 8.5h0m11.7 .9h0m-10.8 3h0m1.6-2.4h0m1.7 1.3h0m7.6 .4h0m.9 0h0m1.6-.3h0m.7 .2h0m.2 .6h0m-14.9 1.2h0m11.8-.7h0"/>
<path stroke="#ffd400" d="M381.7 399.7h0m-7.8 7.1h0m2.1 8.5h0m-1.2 2.2h0m6.3-.8h0m-1.6 2.1h0"/>
<path stroke="#ffa900" d="M373.3 413.9h0m.2 3.6h0m7.5-.4h0m-4.3 3.9h0"/>
<path stroke="#ff7f00" d="M374.9 412.9h0m11.7 .2h0m-14.9 4.6h0m2.5-.7h0m1.5-.8h0m.6 .7h0"/>
<path stroke="#ff5500" d="M372.4 415.3h0m2.4 .2h0m-3 1.4h0m1.3 .6h0m1.7 .8h0m8.2-.5h0"/>
<path stroke="#ff2a00" d="M374.7 414.5h0m3.2 1.1h0m3.7 2.4h0"/>
<path stroke="#ff0000" d="M374.2 416.8h0m.2-.3h0m.2-.6h0m.9 .4h0"/>
<path stroke="#d40000" d="M375.9 416.7h0"/>
<path stroke="#a90000" d="M374.8 415.7h0m1.3 .7h0m4.6 .2h0"/>
<path stroke="#7f0000" d="M372.5 417.2h0m.5-1.1h0"/>
</g>
<rect x="343.6" y="367.3" width="61" height="60.6" fill="none" stroke="#2a2a2a" stroke-width="0.95"/>
<path d="M343.6 367.3h-1.4M343.6 427.9v1.4M343.6 382.4h-1.4M358.9 427.9v1.4M343.6 397.6h-1.4M374.1 427.9v1.4M343.6 412.8h-1.4M389.4 427.9v1.4M343.6 427.9h-1.4M404.6 427.9v1.4M343.6 367.3h-0.8M343.6 427.9v0.8M343.6 371.1h-0.8M347.4 427.9v0.8M343.6 374.9h-0.8M351.2 427.9v0.8M343.6 378.7h-0.8M355 427.9v0.8M343.6 382.4h-0.8M358.9 427.9v0.8M343.6 386.2h-0.8M362.7 427.9v0.8M343.6 390h-0.8M366.5 427.9v0.8M343.6 393.8h-0.8M370.3 427.9v0.8M343.6 397.6h-0.8M374.1 427.9v0.8M343.6 401.4h-0.8M377.9 427.9v0.8M343.6 405.2h-0.8M381.7 427.9v0.8M343.6 409h-0.8M385.5 427.9v0.8M343.6 412.8h-0.8M389.4 427.9v0.8M343.6 416.5h-0.8M393.2 427.9v0.8M343.6 420.3h-0.8M397 427.9v0.8M343.6 424.1h-0.8M400.8 427.9v0.8M343.6 427.9h-0.8M404.6 427.9v0.8" stroke="#222" stroke-width="0.5" fill="none"/>
<text x="340.6" y="369.1" font-size="5.0" font-weight="normal" text-anchor="end" fill="#333">60</text>
<text x="340.6" y="384.2" font-size="5.0" font-weight="normal" text-anchor="end" fill="#333">30</text>
<text x="340.6" y="399.4" font-size="5.0" font-weight="normal" text-anchor="end" fill="#333">0</text>
<text x="340.6" y="414.6" font-size="5.0" font-weight="normal" text-anchor="end" fill="#333">-30</text>
<text x="340.6" y="429.7" font-size="5.0" font-weight="normal" text-anchor="end" fill="#333">-60</text>
<text x="343.6" y="435.1" font-size="5.0" font-weight="normal" text-anchor="middle" fill="#333">-60</text>
<text x="358.9" y="435.1" font-size="5.0" font-weight="normal" text-anchor="middle" fill="#333">-30</text>
<text x="374.1" y="435.1" font-size="5.0" font-weight="normal" text-anchor="middle" fill="#333">0</text>
<text x="389.4" y="435.1" font-size="5.0" font-weight="normal" text-anchor="middle" fill="#333">30</text>
<text x="404.6" y="435.1" font-size="5.0" font-weight="normal" text-anchor="middle" fill="#333">60</text>
<text x="374.3" y="361.7" font-size="8.9" font-weight="bold" text-anchor="middle" >NKG2A</text>
<g stroke-linecap="round" stroke-width="1.7" fill="none">
<path stroke="#0000aa" d="M457.6 379.3h0m.1 .7h0m3 2.9h0m3.3 2h0m-2.2 2.4h0m-16 3.6h0m1.9 .5h0m4.8-.1h0m.3-.3h0m10.5-.2h0m1.4-.6h0m-31.2 2.7h0m15.1-.4h0m2.3 1.7h0m-.7 3.2h0m12.6-1.7h0m-31.7 3.7h0m.4 .9h0m18.1-2.5h0m.4 1.9h0m1.1-.7h0m7.4 .9h0m.1-.5h0m.4-.1h0m-24.8 2.6h0m.5-.8h0m5.4 0h0m-16 4.5h0m.8 .7h0m8.9-2.1h0m1.6-.2h0m1.3 .5h0m-13.1 2.7h0m.9 .7h0m.1-1.4h0m.2 0h0m.1 1.1h0m0 1h0m.3-1.3h0m.2 1.5h0m.1 .7h0m1.7-1.8h0m.1-.4h0m1 .4h0m1.1 .3h0m.3 .4h0m.2 .9h0m.8-1h0m1.9 .4h0m-7.2 1.6h0m1.2 1.9h0m.8-.2h0m2.9-2.4h0m.2 .3h0m2-.4h0m-5.6 3.8h0m.5-.7h0m.2 .7h0m.2-.3h0m.3 1.7h0m.6 .4h0m.1-1.5h0"/>
<path stroke="#0000d4" d="M456 375.3h0m.1-.3h0m-5.9 3.5h0m.3 .9h0m.2-1.2h0m.5 .6h0m.2-.3h0m.5-.9h0m.2-.3h0m1.9 1.1h0m.5-1.2h0m.7 1.4h0m.5 .4h0m1.3 .4h0m.7-.4h0m.2-1.6h0m.4 1.5h0m.5-1.4h0m-5.8 2.4h0m.3 .1h0m1 2.2h0m1.9 .3h0m.4-.7h0m1.7-1.8h0m.9 1.3h0m1.3 .2h0m-5.4 2.3h0m.4 .8h0m.5-.3h0m.1-1.7h0m.7 .3h0m.1 .2h0m2.5-.4h0m.3 1.5h0m2.6 1.2h0m.8-.9h0m.3-.6h0m.4 1.6h0m.1-.2h0m-17.3 2.3h0m3.2-1.1h0m4.8-.9h0m.9 1.1h0m1-.7h0m.5-.4h0m3.6 1.9h0m1.5 0h0m.9 .4h0m2 .3h0m-30.8 1.6h0m1.1-.3h0m12.7-.5h0m.7-.4h0m1.3 .4h0m.8 1.8h0m4.4 .2h0m1.7 0h0m.7-1.3h0m2.3 .7h0m4.5-.2h0m-31.7 4.3h0m.6-2.5h0m.7 .8h0m.4 1.6h0m1-2.1h0m1 1.4h0m7.4-1.1h0m0-.1h0m2.8 2h0m1.8-2.3h0m.1 1h0m7.6-.8h0m4.7 2h0m1.8-1h0m.1-.4h0m1-.8h0m-32.9 4h0m2.9 .7h0m.5-2.2h0m.2 2.4h0m.3-.8h0m6.9 .6h0m1.5-.6h0m1.4 .8h0m0-1.4h0m.3 1.2h0m.6-1h0m.7 0h0m.4-1.2h0m1.9 .2h0m3.1 .5h0m2.1 1.5h0m1.2 0h0m.6 .1h0m.4-.1h0m.1 0h0m.2 .5h0m4.7-1.3h0m.5-.9h0m1.1-.2h0m3.1 1.4h0m.9-1.9h0m-35.9 4.7h0m.1 .6h0m1-1.2h0m1.5 1.9h0m1.5-1.4h0m0 1.3h0m1.7 0h0m.2-.8h0m2.2-.4h0m1.2-.2h0m4.5-.9h0m.6 2.4h0m.9-.8h0m1.3 0h0m.2 0h0m0-1.4h0m2.8 2.1h0m.5-2.6h0m2.7-.3h0m1.1 2.9h0m.6-.8h0m.2 .4h0m.9-.3h0m1.2-1.3h0m.4 .5h0m4.7-.4h0m1.6 0h0m.7 .8h0m-34.5 3.4h0m.6-.4h0m.5-1.2h0m.3 2.1h0m1.8-2.2h0m1.4 1.7h0m1.3-1.3h0m1.2 .9h0m.7 .8h0m.6-.4h0m.5 .6h0m.6-1.2h0m.5 .7h0m11.9 .3h0m2.9-1.4h0m.8 .5h0m.6 .3h0m.3-.1h0m3.5-1.4h0m.7 .3h0m2.3 1.6h0m1-1.9h0m1.2 1.8h0m-41.2 3.2h0m1.1 .4h0m5.8-.7h0m.4 .2h0m.1-2.3h0m0 2.2h0m.3 .3h0m.4-2.4h0m2.3 1h0m.7 .2h0m1-.1h0m1.3-.9h0m.2 .5h0m6.1 1.9h0m.6-2.2h0m1.5 1.9h0m4.1-2.3h0m1.9-.2h0m6.9 .9h0m5.4 1.1h0m-40.8 1.9h0m.9-.3h0m.2-.6h0m.1 1.7h0m0 .9h0m1.2 .4h0m1.6-1.1h0m.6-.5h0m.5 .7h0m1.3 .8h0m.3-.1h0m0 .1h0m1.6-.2h0m.4 .1h0m.2-.8h0m.1 .3h0m.5-1.4h0m9.5-.9h0m-17.7 3.8h0m.5 .1h0m3.8-.9h0m1 0h0m.3 .2h0m4.3 2.2h0m0-.1h0m2-2.1h0m.6 2.3h0m.8-1.4h0m1.8 1.8h0m3.1-2h0m-16.4 2.6h0m.7 .9h0m.3 .5h0m.1 0h0m0-.9h0m.9 1.5h0m.1 .2h0m.7-.2h0m5.8-1.3h0m.3 0h0m2.4-.3h0m.1-.1h0m2 1.2h0m.2-.6h0m.8-.3h0m.8-.8h0m0 1.4h0m-12.6 2h0m.2-.4h0m.2 .6h0m8.5-.6h0m.7 .6h0m2.2-.4h0m1 2.1h0m.1-.7h0m.4-.2h0m.1 1.1h0m.1-2.5h0m.3 1.5h0m.1-.5h0m.5 .8h0m-2.3 1.7h0m1.7 0h0m1.7-.7h0m3.2 2.6h0m-1.4 1.1h0"/>
<path stroke="#0000ff" d="M455.8 375.2h0m2.9 .6h0m-10.5 2.3h0m.8 .7h0m.4-.1h0m5.1-.2h0m3.1-.9h0m.2-.2h0m1 .1h0m.7 .1h0m.7 .8h0m-13.9 1.4h0m.8 .4h0m4.1-.2h0m1-.2h0m7.4 1.2h0m1.2-.8h0m.4 .2h0m1.5-.2h0m-9.5 3.2h0m.7 .9h0m.2-1h0m8.8 0h0m-14.9 3.2h0m.3 1.3h0m.1-1.2h0m7-.8h0m1 1.8h0m.6-1.9h0m6 2.6h0m-26.6 1.6h0m6.6-1h0m3.5 .4h0m1.4-.3h0m1.2-.2h0m.9 .2h0m.4 .7h0m1-.9h0m3.9 1.9h0m1 .7h0m.1-1.6h0m1.4-.8h0m.3 .8h0m2.7-.7h0m4.1-.3h0m4.4 2.5h0m-36.4 1.5h0m1 .5h0m.6-.7h0m.3 1.7h0m.1-1.3h0m.3 .4h0m13.1 0h0m.2-1.8h0m1.1 2.8h0m1.5-.4h0m-4.5 .6h0m2.5 1h0m.6-.9h0m5.3 2.3h0m.5-2.3h0m2.1 .9h0m2.4-1h0m2.2 2.6h0m2.2-.4h0m.1-1.2h0m-33.5 4.6h0m.2-2h0m2.3 1.9h0m.3-.8h0m1.3 .7h0m.3 0h0m.5-.3h0m11.7-1.7h0m.4 2.4h0m.1-.6h0m1.3 .5h0m.3-1.1h0m.8-1.4h0m0 1.5h0m1.8-.2h0m2-1.2h0m.9 1.3h0m1.6-1.7h0m5.1 .7h0m1 .7h0m2.1-.1h0m-31.5 2.1h0m2.5 1.1h0m.5-.5h0m.2 1.7h0m.4-2.3h0m.1 .1h0m.2 2.3h0m.6 .2h0m.8-1.4h0m7.5-1.3h0m2.6 .5h0m5.2 1.8h0m.8-2.5h0m.6 1.9h0m.4-.5h0m.6 .2h0m.3 0h0m0-.5h0m.3 .5h0m.9 0h0m4.3 .7h0m-29.8 2h0m.9-1.3h0m.4 1.4h0m.3-.9h0m.4 .2h0m1.8 0h0m.8 .7h0m.6-1.3h0m.5 .3h0m.9 .2h0m3.3 2h0m3-.1h0m.3-1.4h0m.2 .2h0m1.7 1.3h0m2.3-.5h0m1.1-1.6h0m1.8 .3h0m5.4-.5h0m.2-.3h0m.2 2h0m.8-1.4h0m.5 .3h0m3.3 1.1h0m10.5-1.2h0m-49.1 2.6h0m3.4 .6h0m.4 .7h0m3.5-.4h0m.2 .8h0m.1-2.1h0m.2 .8h0m7 .5h0m1.8 1.4h0m5.1-2h0m18.1 .2h0m-38.8 3h0m1.2 1.7h0m5.1-2.4h0m4.8 .9h0m1.3-1.1h0m.2 2.4h0m-11 1.7h0m.9-.4h0m6-.3h0m2.5 .5h0m1.8 .6h0m.5 .1h0m1.1-.9h0m1.1 1.3h0m-12.2 2.1h0m.8-.9h0m10.9 .6h0m.3 .9h0m.4-.1h0m.1-1.4h0m2 1.8h0m0 .9h0m1.8-2.3h0m.1 1h0m.8 .6h0m-3.9 1.6h0m.1-.5h0m.8 1.4h0m6.4 0h0m1.1 1.1h0m1.3 .4h0"/>
<path stroke="#002aff" d="M454.1 375.8h0m.8 .3h0m1.7-1.5h0m-7.1 3.9h0m1.3-.3h0m4.7 .2h0m.4-.2h0m.4 .6h0m1.2-.7h0m.4 1.1h0m.1-.4h0m2-.4h0m-9.6 1.5h0m1.4 2h0m.6-2.3h0m.7 2.6h0m.8-.6h0m.7 .1h0m2.2-2h0m2.2 1.9h0m.9-.6h0m1.2-.5h0m1.3 1.5h0m-23.5 3.4h0m14.1-2.5h0m.2 .4h0m11 1.6h0m-36.4 2.7h0m10.3 .3h0m2.4 0h0m4.9-.8h0m.5-.3h0m.2 0h0m.7-.4h0m1.8-.4h0m1.1 .8h0m4.9 1.7h0m3.8-1.3h0m5 .5h0m.3-.3h0m.5 .2h0m-22.7 1.2h0m1.6 2h0m.6-1.3h0m3.5-.2h0m4.9-.7h0m.9 2h0m8.3-.4h0m.6 .5h0m0-1.8h0m.5 .4h0m1.3 .6h0m4.8 1h0m-35.4 .8h0m3.6 .9h0m.4-.1h0m8.2 0h0m8.8 .9h0m11.8-.2h0m-34 3h0m.2-.8h0m4.3 .5h0m2.9-1h0m.5 1.6h0m.7 .4h0m.7-1.7h0m3.1 .5h0m.3 0h0m3 1.2h0m2.8-1.5h0m1.8 .3h0m6.2 .1h0m2-.1h0m.2-.3h0m3.1 .7h0m1.3-.5h0m.2-.9h0m1 1h0m-35.8 4h0m1.7-1h0m13.3 1.7h0m2.6-1h0m4.9-1.2h0m.2 .6h0m.7 .1h0m1.1-1.2h0m3.9 1.9h0m.8-1.6h0m4.3 1.2h0m-31.7 4.2h0m5.7-1.7h0m.2-.3h0m10.8 1.3h0m4.3-1.7h0m1.2 1.2h0m.4 .2h0m3.2 .2h0m4.6-.4h0m2.2-1h0m-32.5 2.6h0m3.5 .9h0m13.5 1.6h0m1.5-.4h0m.6-1.4h0m.2-.4h0m6 .2h0m0 .9h0m.1 1h0m1-1.7h0m.9 1.1h0m.1 .7h0m.9 .1h0m1.9-2.5h0m.5 .5h0m.4-.3h0m.8 1.9h0m-32.4 1.3h0m2.1 1.2h0m0-.7h0m3.5 1h0m.4-.5h0m22.4-1.6h0m2.6 1.9h0m.7-.8h0m3.2-1h0m4.3 0h0m-36.7 4.6h0m.4 .5h0m3.1-.9h0m1.2 .2h0m7.3-.4h0m-12 2.1h0m2.2 .2h0m0 .2h0m1.7 .6h0m.4-.4h0m1.2-.1h0m2.3 1.7h0m2.3-.3h0m1-1.8h0m0 0h0m-6 2.9h0m3.5 2.4h0m.5-.8h0m.8-.4h0m2.4 .3h0m.7 .2h0m-1.2 3.8h0m1.1-1.1h0m.6 1h0m1-1.2h0m3.5 2.3h0"/>
<path stroke="#0055ff" d="M454.8 373.4h0m-15.5 1.4h0m10-.9h0m.6-.2h0m1.2 1.8h0m-9.6 1.1h0m10.5 2.9h0m7-1.1h0m2.1 0h0m-10.4 2.9h0m.5 .3h0m5.9-.9h0m.4-.5h0m1.9 .5h0m-29.1 3.6h0m.5-1.4h0m20.6-.3h0m.9 2.1h0m1 0h0m1-1.9h0m1.2 2h0m5.1-1.8h0m2.9 1.4h0m-24.7 3.5h0m5.2-.6h0m3.5 1h0m2.6-1h0m3.3 .9h0m.1 0h0m1.4 .1h0m.5-2.2h0m1.4 2.3h0m1.3-2.6h0m.5 1.3h0m-24 3h0m3.8-1.1h0m4.5 2.5h0m.7-1.3h0m7.9-.2h0m.2 .7h0m5.5 .2h0m5.2 .2h0m.2-.3h0m1.8 .6h0m.2-1.2h0m.7 .7h0m.5 .1h0m1.8-.1h0m-35.1 2.6h0m1.5 .4h0m2.8-1.4h0m0 .9h0m5.1 0h0m1.4-1h0m2.1 0h0m5.7 .6h0m6.5-.6h0m1.8 0h0m3.6 .1h0m2.5 1.5h0m-32.6 2.2h0m.1-1.2h0m5.2-.1h0m4.6 1.6h0m.7 1h0m.8-2.6h0m3.3 2h0m-17.2 2.9h0m.9-.3h0m4.2-1h0m0 1.3h0m4.3-.7h0m11-.1h0m.8-1.3h0m4.6 2.4h0m7.9-2.5h0m.7 1.6h0m.3 .9h0m10.4-.1h0m-44.8 2.2h0m.9-1.1h0m1.9 .3h0m.4 1.9h0m.3-2.4h0m2.9 2.4h0m2.6 .1h0m3.3-.4h0m4-1.2h0m5-.4h0m4.4 .4h0m8.5-.1h0m-33.8 4h0m1.1-2h0m2.8 1.4h0m2.2 0h0m3 .4h0m7.1 .3h0m4.6-.7h0m.3 .5h0m.1-1.6h0m.7 .5h0m1.3 .1h0m.2 1.6h0m.5-1.6h0m.3 .6h0m.4-1.5h0m.8 0h0m.8-.2h0m1.4 1.4h0m2.4 .5h0m.9-.6h0m1.2 1h0m.3-.8h0m2 0h0m3.1 1h0m-37.2 1.4h0m1.1 1.8h0m1.8 .1h0m.3-1.3h0m0 .8h0m.6-.5h0m.2 .5h0m5.1 .4h0m5.4-.4h0m.2 .1h0m5.7-1.9h0m2-.5h0m7.7 1.3h0m4.3-.6h0m.1-.5h0m1.9 .5h0m1.2-.4h0m-22.5 4.4h0m-7.3 1.4h0m2.7 2.6h0m.4-.7h0m2-.4h0m.2 .8h0m-5.3 3.1h0m1.2 .5h0m1.5-2.6h0m1.3-.2h0m.2 .3h0m2.2 1.6h0m1-.6h0m1.2-.2h0m1 1.4h0m.5-.2h0m-1.8 2.9h0m.1-1.2h0m1.1-.8h0m.7 2.5h0m.7-1.6h0m.4 .4h0m-2 2.1h0m1.5 .3h0"/>
<path stroke="#007fff" d="M439 375.1h0m.1 .9h0m2.8 .3h0m2.6-1.3h0m3.1-.7h0m3.9-.2h0m.2 .6h0m1.5-.2h0m1 .7h0m0-.7h0m1.3-.7h0m.8 .6h0m-18.9 4.9h0m12-.2h0m1.3-.1h0m.1-.9h0m3.1-.6h0m1.7 1h0m2-1.8h0m1.7 2.5h0m-25.9 2h0m1.3-1.2h0m.3 .1h0m17.6 0h0m1.4 1.2h0m6.5-.5h0m2.9 1.7h0m-33.6 1h0m.1 1.7h0m0-1h0m.7 .6h0m.4-.7h0m23.1 0h0m.3 1h0m1.2-1.7h0m1.9 1.7h0m-30.4 2.8h0m1.8-1h0m9.8 1.1h0m2 .3h0m3.8-.7h0m2.2-1.5h0m2.1 .5h0m.8-.6h0m1.3 .4h0m-16.7 3.7h0m3.9-.7h0m3.3 .6h0m6.8 1.1h0m3.1-.5h0m3.6-.5h0m.4 .2h0m.3 1h0m6.2-.8h0m1-1.6h0m0 .8h0m5 1.7h0m.6-.6h0m-35.3 .9h0m3.4 1.6h0m.4-.7h0m5.2-.8h0m.3 .1h0m.5 .5h0m.2 1.5h0m4.7-2.3h0m.9 .7h0m.5 .3h0m14.1 .4h0m1.1-.6h0m0-.5h0m.7 2h0m-33.3 3.1h0m7.2-2.1h0m.1 1.3h0m2.3-.8h0m.2 1.4h0m3.8-1.6h0m3.2 1.7h0m7.2-.9h0m4.6 1h0m5.7-1.7h0m-31.4 4.8h0m14.5 .1h0m7.3-1.9h0m2.3 0h0m5.9-.4h0m.1 1.3h0m10.5 .6h0m.5-.1h0m-42.5 3.6h0m3.2-.3h0m1.6 .2h0m.3-.4h0m13.7-.2h0m3.1-.3h0m.3-.1h0m9.3-.7h0m-34 2.4h0m1.1 0h0m1.2 .9h0m.3-.4h0m.7 .2h0m.2 1h0m.2-.7h0m3.3-.5h0m.2 .8h0m2 .3h0m1.2-1.4h0m5.9 .4h0m4.2 .2h0m.3-1.1h0m.8 2.3h0m1.4-.6h0m.4-.2h0m1.2 .7h0m.6 .1h0m5.4-2.2h0m.2 2.1h0m.1 .4h0m1.1-.2h0m.8 0h0m.4-1.5h0m1.1-.6h0m2 2.5h0m.2-.1h0m.9 0h0m2.5-.3h0m.4-.2h0m.2-.9h0m.9-.5h0m2.1 0h0m-42 3.4h0m2.4 1.2h0m.3-.4h0m12.5 .3h0m2.6-.5h0m6.9-1.6h0m.7 .4h0m1.6 .2h0m4.2 1.8h0m.1 .2h0m.8-1.7h0m-27 4.5h0m3.9-1.7h0m22.3-.3h0m-27.4 3.6h0m4.2 1h0m.6-.3h0m3.1-.6h0m.4 .2h0m.2-1h0m.3 .6h0m0 1.8h0m-4.1 2.2h0m4.7-2h0m1.2 .2h0m1.9 2.2h0m-8.6 1.2h0m7.7 .1h0m1.3 1.7h0m1.4-1.3h0m0 .2h0m.1 1.1h0m2.2-.9h0m-1.4 2.3h0m1.1-.7h0"/>
<path stroke="#00aaff" d="M444.7 373.5h0m3.8-1.3h0m.8 .6h0m.4 .1h0m3.1 .3h0m-10.7 1h0m.5 1h0m.1 .7h0m.4-1.4h0m.7 .4h0m1.6 1.2h0m1.7-1h0m.8-1h0m.7 .2h0m1.4 .5h0m3.1-.4h0m0 1.5h0m1.5-1.4h0m.1 .2h0m1.2 1.7h0m-21.4 2.5h0m.5 .3h0m2.7 .2h0m.2-.3h0m.5-.3h0m.1-1.1h0m.9 .1h0m1.4-.2h0m2.8-.9h0m3.5 2h0m2.9-.3h0m7.8-1.6h0m.2 1.5h0m-25.8 3.7h0m.3-.5h0m.5 .4h0m.6 .3h0m1.1-1.9h0m1.6-.7h0m7.9 1.2h0m6.5 .9h0m7.7-.3h0m1.4-.9h0m1.5-.1h0m-31.8 4.9h0m1.1-2.4h0m.1 1.8h0m1.1-.8h0m21.1 1.1h0m2.3-2.1h0m.1 .1h0m3.3 0h0m-30.5 4.6h0m1.5-1.3h0m.8-.6h0m12.9 2h0m1.6 .6h0m3.7-.5h0m1.9-2.2h0m4.3 .5h0m7 .7h0m-27.2 3.5h0m.8-.3h0m.6-.4h0m5.5-.3h0m0 1h0m1.3 .6h0m5.9 .3h0m12.5 .1h0m.1-.2h0m4.1-.3h0m3.9-.4h0m-35.1 1.9h0m1.3 1.4h0m5.1 .1h0m20.7 0h0m3.1-2.2h0m5.4 0h0m.2-.1h0m-37.4 3.1h0m3.7 .3h0m2.1 .7h0m.4 .1h0m11.9 0h0m1.5 1.4h0m6-.7h0m.7 .9h0m-28.6 1.1h0m9.8 1.3h0m6.9 .3h0m4.6-2.5h0m6.3 1.7h0m.8 .9h0m16.8-.7h0m.1-1.4h0m.3 .3h0m-40.8 3.5h0m12.7 .3h0m5.3-.8h0m11 .2h0m10 .9h0m.3 .5h0m1.3-.7h0m-39.7 2h0m.9 0h0m1.5 1.7h0m3.4-1.5h0m3.1 .8h0m.1-.1h0m1.4-.5h0m4-.1h0m2.3 1.4h0m2.1-1h0m2.2 .7h0m1.3 .2h0m6.1-2.1h0m.3 .9h0m4 1.7h0m2.6-1.1h0m2.4-.3h0m.4-.8h0m-40.8 4.2h0m14.2-1.5h0m.7 .4h0m1.8 1.2h0m2.5-1.5h0m0 .6h0m3-.6h0m.8-.1h0m2.8 1.1h0m2.8-1.2h0m.7 2h0m.6-.2h0m.9-1.8h0m-29.4 4.2h0m8.1-.9h0m2.7 2.4h0m1.6-.1h0m.8-.3h0m-3.2 1.6h0m1.3-1h0m2.5 2.6h0m-5.4 .9h0m.4 1.5h0m1.6-.9h0m1.6 .5h0m1-.1h0m.7-1.5h0m1.2 1.5h0m-7.9 1.5h0m6 1.8h0m6-.7h0m-8.1 2.5h0"/>
<path stroke="#00d4ff" d="M442 373.5h0m2-.2h0m8.3 .1h0m-12.5 1.5h0m2.9 1.6h0m.5-2.6h0m1.2-.3h0m1 .1h0m3 1.6h0m0-1h0m1 .9h0m0-1.1h0m2.4 .2h0m.1 .6h0m.5-.6h0m.6-.3h0m.4 .8h0m1.3 1.4h0m.9-2.3h0m-20.9 5.4h0m.7-.9h0m.3-.6h0m.4-.2h0m3.9-.8h0m1.6 .1h0m4.2 2.3h0m-14.7 2.9h0m1.5-.7h0m1.4-.7h0m0 1.2h0m.7-2.3h0m1 0h0m.1 .3h0m15.3 .9h0m.4 .1h0m-20.9 2.7h0m.3 .9h0m.2 .4h0m8.5 .3h0m-12.1 2.2h0m.3-.5h0m.1 .3h0m0 1h0m.3-1.9h0m.6-.3h0m.1 .8h0m.9-1.3h0m13.5 .1h0m22 5.4h0m1.2-1.2h0m.2 .6h0m2.7 1h0m-30.7 2.1h0m.4 .2h0m4.6-.5h0m28.7-1h0m2.3 3.9h0m.5 1.5h0m-.1 3.7h0m0-.1h0m.1 .9h0m.9-.7h0m-27.3 4.6h0m3-2.1h0m1.8-.4h0m3.7 2.5h0m1-1.2h0m9.3 1.4h0m.9-.9h0m3.1-.9h0m.6 1.5h0m-24.1 .9h0m2.9 1.2h0m2.8 0h0m2.4-1.4h0m.1 .6h0m.7 1.1h0m1.3-.6h0m2.7-1.1h0m.5 1.3h0m2.5-1.1h0m4.3-.2h0m1.9 0h0m-26.2 5h0m1.1 .5h0m1.4-2.2h0m1.5 .8h0m15.2-.7h0m-17.5 3.3h0m.4 1.7h0m.7-1.2h0m3.2 .7h0m-1.4 1.8h0m-.3 4.2h0m2.9-.9h0m2.2 .8h0m-.5 1.9h0"/>
<path stroke="#00ffff" d="M445.6 372.5h0m.8-.2h0m3.2 .6h0m.6 .2h0m1.6 .2h0m.7-.4h0m-8.7 .7h0m1.4 1.5h0m.3-1h0m1.3-.5h0m.1 1.2h0m4.4 .1h0m1.8-1.2h0m.7 .2h0m.8 .3h0m.5 .8h0m1.2-.5h0m-19.6 2.2h0m.4 2.3h0m.3-1.1h0m.2-.9h0m1.4 1.9h0m.2-2.3h0m-7.6 5.8h0m1.8-1.3h0m.1 .7h0m1.3-.2h0m5.5 .7h0m3.7-2.4h0m-14.7 5.4h0m1.4-2.1h0m21.6 0h0m-25.2 4h0m.7-.5h0m1.1 .6h0m.6-1.7h0m9.7 .4h0m.1 0h0m.7 4.3h0m1 .6h0m.4-.2h0m1.4-.7h0m23.4 .9h0m.9-.7h0m4.5 1.2h0m-5.7 .4h0m4.2 .4h0m1.1 .2h0m2.9 4.2h0m1-.8h0m.1 3.7h0m0 3.1h0m.4 .4h0m-21.8 2.6h0m1.3 .8h0m11.4 .1h0m2.1-1h0m.7 .3h0m3.7-2.1h0m-27.3 5.6h0m7.2-.5h0m1.2 .3h0m1.1-.9h0m.4-.3h0m-9.7 3.9h0m1.9 .4h0m.8-1.5h0m13.2-1.1h0m1.8 1.5h0m-15.4 2h0m-.2 3.3h0m.6 3.1h0m2.7 .4h0m.5 1.1h0m1-.8h0"/>
<path stroke="#2affd4" d="M448.6 372.7h0m.4-.8h0m1.4 1.5h0m2.5-.4h0m-13.9 2.8h0m5.9-1.5h0m.9 1.7h0m2-1h0m6.3 .1h0m-18.1 3.6h0m.4 .2h0m.7-.5h0m.2-.9h0m.9-.2h0m5.9-.8h0m.7 4.6h0m.1 4.3h0m-15.9 2.4h0m.4-1.7h0m12.3 4.5h0m-5 1.9h0m3.2 .9h0m32.2-.7h0m3.3 3.6h0m-.7 6.6h0m.6-.5h0m-6.6 2.5h0m.1 .7h0m4.2-.5h0m2-1.6h0m-22.1 6h0m4.2-.3h0m1.4-.3h0m1.1-.4h0m0 .3h0m1.7 .2h0m-10.7 3h0m12.2-2.4h0m.4 0h0m-12.5 3.5h0m-2.2 3.4h0m1-.6h0m2.6 4.1h0"/>
<path stroke="#54ffaa" d="M441.6 374.1h0m.8 .9h0m3.8-1h0m-4.2 3.1h0m-10.6 6.4h0m.2 0h0m9.9 1.1h0m.7 0h0m.2-.2h0m-1.2 5.2h0m24.7 .8h0m2 .8h0m3.9 .2h0m-47.2 .4h0m14.8 1.6h0m1.5-1.5h0m35.4 5.4h0m-1.1 .5h0m-16 8.9h0m.3 2.3h0m-11.1 .9h0m10.9-.3h0m4 1.8h0m-14.4 3.4h0m.1 1.3h0m2.6 2.1h0m.6-1.4h0m1.7 2.9h0m2.4 .3h0"/>
<path stroke="#7fff7f" d="M435.1 379h0m9.7 2.5h0m-3.8 2.1h0m.5 .2h0m-13.9 4.4h0m.4 1h0m-5.2 4.9h0m.8-.2h0m14.7-1.4h0m34.4-.8h0m-52.8 5.7h0m-.6 1.1h0m.9-.5h0m51.3 6.5h0m-17.2 4h0m4.8-.3h0m-3.2 1.5h0m-4.6 4.4h0m0 1.1h0m1.2 4.9h0m.9 .5h0"/>
<path stroke="#a9ff55" d="M442.5 382.4h0m3.1-.6h0m-4.5 2.8h0m.2-1h0m1.1 .7h0m4.3-1.7h0m1.8 2.5h0m-21.1 4h0m10.8 1.9h0m.6-1.2h0m.7 1.1h0m.2-.9h0m-17.5 3.8h0m.9-.5h0m.4 .6h0m.1 0h0m1-1.5h0m-4.9 5.1h0m.8-.1h0m.6-1h0m.5-.4h0m1.2-1.2h0m-2.5 3.7h0m37.5 9.8h0m.4 .6h0m-4.8 .7h0m4.9 .8h0m3.3 .9h0m-11.9 5.5h0m2.7 .1h0m.9 2.1h0m1.1 .7h0m.5-.1h0m1.2-.5h0"/>
<path stroke="#d4ff2a" d="M446.9 384h0m-21.1 6.3h0m.3 .4h0m.2-1.9h0m.8 .7h0m11.4 1.7h0m.6-1h0m.5 .3h0m.8 .4h0m-17.1 2.2h0m-1.7 2.8h0m-2.4 2.7h0m.1-.2h0m.5-.3h0m0 .9h0m.4-.8h0m34 10.6h0m3.6 .1h0m2.5 .4h0m-4.8 .2h0m4.7 1.6h0m-10.6 2.9h0m.6 .4h0m2.8 4.4h0m1.6-.2h0"/>
<path stroke="#ffff00" d="M442 383.4h0m.2 .6h0m.2-1.1h0m1 1h0m2.4 .6h0m.4-.4h0m1.2-.7h0m-21.8 4.9h0m-.9 2.7h0m.7-1.1h0m.8 .5h0m0 .4h0m.7-1.4h0m11.2 1.6h0m.5-.8h0m-16.3 4h0m.4-.1h0m0 .1h0m.8-.2h0m.1-.1h0m.4 0h0m.1-.9h0m.4-.5h0m.3 .4h0m.3-1h0m47.5 .9h0m.3 .1h0m.2 .7h0m-53.2 3.3h0m1.1-.1h0m1.1-.8h0m.2-1.5h0m0 .3h0m.2 .1h0m-3.8 3.6h0m.4 .4h0m.6-.2h0m.2-.4h0m.2 0h0m0-.2h0m38.4 11.3h0m-7 5.3h0m1.3 1.3h0m.2-.5h0m2.2 3.8h0m.9-.4h0"/>
<path stroke="#ffd400" d="M443.1 383.9h0m.8 .4h0m.2-1.2h0m.5 .5h0m2.7-.9h0m-21 5.7h0m.4-.6h0m.5 .3h0m-.4 1.6h0m.3-.5h0m13.5 1.7h0m-17.5 3.5h0m1.7-2.8h0m48 1.4h0m1.6 1.2h0m-53.6 3.3h0m.2-1.8h0m.7-.3h0m.7-.7h0m.2 .3h0m-2.3 2.8h0m34.3 11.8h0m3.2 1.4h0m.7-1h0m.3 0h0m.6 .4h0m-7.3 6.3h0m0-.3h0m3.5 2.2h0"/>
<path stroke="#ffa900" d="M444 383.4h0m-18.2 6.5h0m.5 1h0m0-1.7h0m.4 1.2h0m-3.3 3.1h0m50.1 0h0m-53.6 4h0m.1-.4h0m.8 .2h0m1-1.8h0m.7-.8h0m-3.5 4.2h0m.9-.9h0m40 13h0m-5.4 4.2h0m6.7-2.7h0m-6 4.7h0"/>
<path stroke="#ff7f00" d="M443.6 382.9h0m-19.3 9.4h0m.4-.1h0m49.4 1h0m-17.7 17.8h0m2.9-.2h0m.2 .3h0m2.5 2.8h0m-8.5 1.7h0m.7 2.4h0m.8-1.2h0m.9 1.3h0m.7-.1h0"/>
<path stroke="#ff5500" d="M446.8 383.4h0m-20.6 6h0m28.5 27.5h0"/>
<path stroke="#ff2a00" d="M473.6 393.4h0m-19 21.9h0m5.7-1h0m.1-.8h0m.7 0h0m0-.7h0m-6 4.5h0m0 .4h0m.7-.3h0m1.8 .6h0m-.7 1.1h0"/>
<path stroke="#ff0000" d="M473.1 393.7h0m.5-.2h0m-18.6 19.7h0m5.1 1h0m.5-.5h0m1.3 .1h0m-7.2 3.2h0m2.4 .1h0m.2 1h0"/>
<path stroke="#d40000" d="M455.8 415.4h0m5.7-1.7h0"/>
<path stroke="#a90000" d="M456 417.3h0m.6-1.5h0"/>
<path stroke="#7f0000" d="M458.9 412.3h0m-3.2 2.5h0m.2 .5h0m.6-.2h0m1.6-2.5h0m.4 2.5h0m1.2-.7h0m.8-.2h0m-4.7 2.6h0m1.8-.5h0m.2-.2h0"/>
</g>
<rect x="417.3" y="367.3" width="61" height="60.6" fill="none" stroke="#2a2a2a" stroke-width="0.95"/>
<path d="M417.3 367.3h-1.4M417.3 427.9v1.4M417.3 382.4h-1.4M432.6 427.9v1.4M417.3 397.6h-1.4M447.8 427.9v1.4M417.3 412.8h-1.4M463.1 427.9v1.4M417.3 427.9h-1.4M478.3 427.9v1.4M417.3 367.3h-0.8M417.3 427.9v0.8M417.3 371.1h-0.8M421.1 427.9v0.8M417.3 374.9h-0.8M424.9 427.9v0.8M417.3 378.7h-0.8M428.7 427.9v0.8M417.3 382.4h-0.8M432.6 427.9v0.8M417.3 386.2h-0.8M436.4 427.9v0.8M417.3 390h-0.8M440.2 427.9v0.8M417.3 393.8h-0.8M444 427.9v0.8M417.3 397.6h-0.8M447.8 427.9v0.8M417.3 401.4h-0.8M451.6 427.9v0.8M417.3 405.2h-0.8M455.4 427.9v0.8M417.3 409h-0.8M459.2 427.9v0.8M417.3 412.8h-0.8M463.1 427.9v0.8M417.3 416.5h-0.8M466.9 427.9v0.8M417.3 420.3h-0.8M470.7 427.9v0.8M417.3 424.1h-0.8M474.5 427.9v0.8M417.3 427.9h-0.8M478.3 427.9v0.8" stroke="#222" stroke-width="0.5" fill="none"/>
<text x="414.3" y="369.1" font-size="5.0" font-weight="normal" text-anchor="end" fill="#333">60</text>
<text x="414.3" y="384.2" font-size="5.0" font-weight="normal" text-anchor="end" fill="#333">30</text>
<text x="414.3" y="399.4" font-size="5.0" font-weight="normal" text-anchor="end" fill="#333">0</text>
<text x="414.3" y="414.6" font-size="5.0" font-weight="normal" text-anchor="end" fill="#333">-30</text>
<text x="414.3" y="429.7" font-size="5.0" font-weight="normal" text-anchor="end" fill="#333">-60</text>
<text x="417.3" y="435.1" font-size="5.0" font-weight="normal" text-anchor="middle" fill="#333">-60</text>
<text x="432.6" y="435.1" font-size="5.0" font-weight="normal" text-anchor="middle" fill="#333">-30</text>
<text x="447.8" y="435.1" font-size="5.0" font-weight="normal" text-anchor="middle" fill="#333">0</text>
<text x="463.1" y="435.1" font-size="5.0" font-weight="normal" text-anchor="middle" fill="#333">30</text>
<text x="478.3" y="435.1" font-size="5.0" font-weight="normal" text-anchor="middle" fill="#333">60</text>
<text x="448" y="361.7" font-size="8.9" font-weight="bold" text-anchor="middle" >CD62L</text>
<defs><linearGradient id="jet" x1="0" y1="0" x2="0" y2="1"><stop offset="0" stop-color="#7f0000"/><stop offset="0.1" stop-color="#e50000"/><stop offset="0.2" stop-color="#ff4c00"/><stop offset="0.3" stop-color="#ffb200"/><stop offset="0.4" stop-color="#e5ff19"/><stop offset="0.5" stop-color="#7fff7f"/><stop offset="0.6" stop-color="#19ffe5"/><stop offset="0.7" stop-color="#00b2ff"/><stop offset="0.8" stop-color="#004cff"/><stop offset="0.9" stop-color="#0000e5"/><stop offset="1" stop-color="#00007f"/></linearGradient></defs>
<rect x="484.3" y="270.7" width="7.5" height="74.5" fill="url(#jet)"/>
<path stroke="#000" stroke-width="1.1" stroke-linecap="round" fill="none" d="M40.8 487.3h0m.3 .2h0m-6.3 1.9h0m.6-.6h0m.6-.2h0m1.6 1h0m.6-1.9h0m.5 .4h0m.7 1.5h0m.6-.3h0m0-1.7h0m.2 .3h0m.6-.3h0m.2 1h0m.4-.2h0m.5-.1h0m.7 .1h0m.3 .2h0m.9-.1h0m.7-.1h0m2.1 .3h0m.1 .5h0m.8 1.2h0m-17.4 2.7h0m.3-.2h0m1.1 .2h0m1.7-.9h0m.1-.7h0m.1 0h0m.4 .2h0m.4-.4h0m0 0h0m.3-.5h0m0 .8h0m.4 .2h0m0-.5h0m.1 1h0m-7.6 3.9h0m.8-2.2h0m.2 1.9h0m.6-1.5h0m0-.3h0m.1 1.7h0m.4-1.8h0m1 .9h0m.8-.7h0m.2-.7h0m8.9 2.9h0m.7-.1h0m.6 .1h0m3-2.8h0m.1 2.9h0m.3-2.9h0m.8 1.8h0m.2 .7h0m.7-.7h0m0 .7h0m.3-.1h0m.2-.4h0m.2 0h0m.7-.3h0m1.4-.6h0m.8-.2h0m.2 1.2h0m.4-1.8h0m0 0h0m-25.6 5.1h0m.2 .3h0m.2-1h0m.1 0h0m.6-.1h0m.1 .7h0m.1-1.6h0m.1-.5h0m8.3 1.8h0m.3 .2h0m.4-1.9h0m.3 .1h0m.3 .6h0m.1 .5h0m1.9 .5h0m.7 .3h0m.5-.2h0m2.4-.6h0m.7 .2h0m1.8-.9h0m.1-.6h0m.5 .2h0m.5 .6h0m.6 .3h0m.3 .7h0m.4 .1h0m.1 0h0m0-2.1h0m.1 .1h0m.2 1.5h0m1 .9h0m0-.5h0m.5-.6h0m.1-.5h0m0 1h0m.2-1.7h0m.2 .5h0m.5 2.1h0m.4-1.4h0m.5 .3h0m.3 1h0m.1-.5h0m.3 .3h0m.2-.4h0m.3 0h0m0-.1h0m0-.5h0m.4 .1h0m-28.2 1.7h0m.1 .7h0m.1-.3h0m0-.3h0m.9-.4h0m10.1 .5h0m3.1 1.5h0m.8 .7h0m.1-1.1h0m.3 .1h0m.5 .1h0m.2 .6h0m.4-.8h0m.9-1.1h0m.3 1.4h0m.1-.8h0m.2 .4h0m1 .6h0m.2-.7h0m.1 .4h0m0 .1h0m.1-.7h0m.3 .7h0m.2 .6h0m.1-.9h0m.2-.1h0m.6-.5h0m.2-.5h0m3.2-.6h0m.6 2.6h0m.7-1.9h0m.4-.5h0m0 .2h0m.1 1.1h0m.1 .5h0m.4-1.5h0m.1 1h0m.3-1.3h0m.3 1.3h0m1.9 1.2h0m.1 .1h0m.3-1.4h0m.3 .7h0m-33.4 3.6h0m.1-.4h0m.7-.8h0m.2 .2h0m0 .2h0m9.2-1h0m.5-.8h0m3 2.7h0m2.5-1h0m.3-.6h0m.7-.4h0m2.9 1.5h0m.6-1.9h0m.4 2h0m.1-1h0m0-.7h0m.2 .3h0m.1 1h0m.1 .5h0m0 0h0m1.5-1.9h0m.5 .5h0m.1 .6h0m.2 .9h0m.3-2.1h0m2.6 1.4h0m.3-.9h0m.1 .1h0m.1 .5h0m.1-.3h0m0-.7h0m0-.5h0m.3 .9h0m.1 1.8h0m0 .1h0m.2-1.1h0m0 .2h0m0-.9h0m0-.4h0m.1 1.3h0m.2-1.5h0m0 1.5h0m.1-.9h0m0-.8h0m0 1.4h0m.1-1.7h0m.1 1.3h0m0-.2h0m.1 .1h0m.2 .4h0m.1-.8h0m.1 1.5h0m.1-1.8h0m.1 2.3h0m.1-.2h0m0-1.6h0m.1 0h0m.1 .1h0m.2 1.8h0m.1-1.9h0m.3-.3h0m.5 1.5h0m.1-1.5h0m1.1-.7h0m.2 2.6h0m.1-.9h0m.3-.1h0m.1 .8h0m0-.5h0m.1-.5h0m0-.3h0m.1 1.8h0m0-.7h0m.1-.6h0m.1-.5h0m0 1.4h0m.1-.7h0m.1 .5h0m.4-2.1h0m.1-.1h0m.2 1.9h0m1.1-1.8h0m.1 2h0m.1-1.1h0m4.2-.3h0m.3 .5h0m-41.5 3.8h0m.4 .4h0m1.1-1.8h0m0 .1h0m.1-.6h0m6.6 2.4h0m.3 .1h0m.7 0h0m1.3-1.9h0m.7-.1h0m.2 .3h0m.1 .4h0m4.5 .9h0m.1-.7h0m5-.3h0m.2-.3h0m.4 1.4h0m.1-1.6h0m.3-.1h0m.2-.2h0m.3 .1h0m.6-.3h0m.6 1.6h0m.9-1.5h0m0 .4h0m.8-.2h0m.1 .2h0m.1 1.8h0m0 .1h0m.1-1.8h0m0-.8h0m.1 1.5h0m0 .6h0m.1 .3h0m.1-.7h0m.1-1h0m.1 .2h0m0 .6h0m0 1h0m.2-2.1h0m.2 .1h0m.3 .5h0m0-.9h0m.6 .2h0m.2 .7h0m.2 1.3h0m0-.9h0m.1 .7h0m.6-1h0m.1 .1h0m.1-.8h0m.2 .6h0m.1 1.9h0m.1-.8h0m0-1.7h0m.1 .3h0m.2-.2h0m.2 2.4h0m0-2.4h0m.4 .4h0m.1 1.8h0m.2-2.1h0m0 .6h0m.2 .3h0m0-1.6h0m.2 2.1h0m.1-1h0m.1 .7h0m.1 .2h0m0 .6h0m0-.4h0m.1-.1h0m.9-.3h0m.1 .6h0m0-.4h0m.2 0h0m.2-1.4h0m2.6 .7h0m0 .7h0m.1 0h0m.1 0h0m.2-1.2h0m.1 .6h0m-27.5 2h0m6.2 2h0m.1-.6h0m.4-.1h0m.1 .7h0m.3-1.6h0m.3 0h0m.3-.7h0m0 2.4h0m5.1-2.1h0m1 0h0m.2-.1h0m.3 2.6h0m0-1.8h0m.1 .2h0m.3 1.5h0m0-.4h0m0 .2h0m.7-.8h0m.4 .5h0m.1 .4h0m.1-2h0m0 .8h0m.4 .7h0m.2 0h0m.1 .3h0m0 .4h0m0-1.6h0m.2 1h0m.1-.6h0m.1-1.6h0m0 .3h0m0 1.6h0m.8-.4h0m.2-1.1h0m.1 .9h0m.2 .7h0m0-.3h0m0 .2h0m0 .4h0m.1-1.1h0m.1 .3h0m0 .1h0m0 .5h0m.2-1.2h0m.1 2h0m0-1.6h0m0-.8h0m.1 .2h0m.1 .3h0m.4 .5h0m.3-.6h0m.5 1.2h0m.2-1.3h0m0-.3h0m0 2.4h0m.3-1.3h0m.8-1.6h0m.1 0h0m.1 2.4h0m.1-2h0m0 2.3h0m.1-2.2h0m.1 1.6h0m.1 .7h0m.1-1.6h0m.1 .8h0m.1 .4h0m.3 .3h0m0-.7h0m.1 .5h0m.1-.2h0m.1-1.7h0m0 .8h0m.1 1.2h0m.1-2.7h0m.1 2.3h0m0-2h0m0 1.9h0m0-1.2h0m.1-.3h0m.2 1.4h0m.2 .4h0m.3 0h0m.1 .4h0m0-2.2h0m.1 1.2h0m.1-.3h0m.7-.4h0m0-.3h0m.7-.4h0m.3 .6h0m.1 1.6h0m.1-1.8h0m0 .4h0m.1-.4h0m0 1.1h0m.1-1.6h0m.1 .5h0m.1 1.3h0m0-.4h0m1 .1h0m.6-.3h0m-25.2 3.4h0m.6-.6h0m0-.5h0m2.1 1.9h0m.2-2.8h0m1.2 .4h0m3.9 .1h0m1 2h0m1.5-1.8h0m.5-.5h0m.4 .2h0m.5 2.2h0m0-1.9h0m.2 .5h0m.2 1.5h0m.2-1.3h0m0-.6h0m.1 .1h0m0 1.6h0m.1-.9h0m.1 .6h0m0 .4h0m.2-2h0m.1 1h0m.4 1.1h0m0 0h0m.1-2.1h0m0 .9h0m.2 .4h0m.2-.5h0m0 .6h0m.1-.1h0m.2 .6h0m.4-.2h0m0-1.7h0m1.2-.4h0m1 .3h0m.1 2.3h0m.7 0h0m.1-1h0m.1-.7h0m0-.7h0m.1 .5h0m0 .3h0m.2 .5h0m.4-1.3h0m.1 2.6h0m0-2.5h0m.2 1.1h0m0-1.1h0m0 .7h0m.1-.2h0m.2-.9h0m.8 2.3h0m.5-.2h0m.3-1.1h0m.1 1.2h0m0 .7h0m.2-1.5h0m.2-1.3h0m.8 2.1h0m.3 .4h0m1.2-1.2h0m.1 .5h0m.4 .3h0m.1-1.5h0m.2 1.3h0m.1-.5h0m0 .7h0m0-.9h0m.2 .7h0m.5-.7h0m.2 .9h0m.5-.7h0m.1 .9h0m-34.5 2.4h0m.8 0h0m.1 .3h0m.5-1.2h0m4.5 1.2h0m.1-.7h0m.2-.7h0m11.8-.7h0m1 2.4h0m.3 .2h0m.1-2.4h0m.2 2.5h0m.2-2.6h0m.1 2.1h0m.4-.4h0m.5-1.4h0m.4-.2h0m.2 2.6h0m.4-2.1h0m.3-.2h0m.2-.3h0m0 .8h0m0 1.3h0m.4-.8h0m0 1h0m.3-.5h0m.3-.1h0m.3 .1h0m0 .1h0m.7-1.2h0m.1 .9h0m.1-1.4h0m.9 .8h0m0 .8h0m.3-.3h0m.3 .6h0m3.6-2h0m3 .9h0m.3 1.5h0m.6 0h0m3.8-2.4h0m.3-.1h0m.5 .5h0m-29.3 4.5h0m6.5 0h0m.4 .6h0m6.7-2.8h0m.1 2.8h0m1.7-1.1h0m.3-1.2h0m0 1.1h0m.2-.7h0m.2 1.7h0m1.1-1.5h0m.7-.3h0m.1 .2h0m.2 1.5h0m2.3-.2h0m4-1.9h0m.6 .4h0m-24.7 4h0m.1 .4h0m1-.1h0m2.3-1.3h0m.3 1.3h0m.2-2.1h0m.2 .3h0m.2 .7h0m.8 .6h0m1.7 .5h0m.1 .2h0m.2 .6h0m.4-1.1h0m.8 .4h0m.1-.1h0m0 .7h0m.1-.7h0m.3 .3h0m.1-.5h0m.1-.1h0m0 1h0m.6-1.5h0m1.3-.1h0m.6 1h0m0-.7h0m.2 .3h0m0 .4h0m.4-1.1h0m.1 1h0m.1 .3h0m0-.8h0m.4-1.5h0m1.3 2.3h0m.9 .3h0m.1-1.7h0m.3-.4h0m.2 .7h0m.1-.4h0m.5-.7h0m.2-.1h0m.1 .5h0m.2 .1h0m.3 2h0m.2-2.8h0m3 .2h0m.4 .4h0m-17.3 2.9h0m.9-.4h0m.2 1.1h0m.2 .6h0m.1-1.6h0m.1 .4h0m1.4 2.4h0m1.3-2.8h0m.7 .6h0m.3-.2h0m.6 1.1h0m.1 .7h0m.1-1.6h0m1.3 2h0m.3-1.4h0m.3 1.5h0m0-1.8h0m.2 .7h0m.3 .6h0m.3-.5h0m0-1.1h0m.3 1.2h0m0-2h0m.3 2.5h0m.2-1.2h0m.2 .4h0m.3-1.7h0m.4 3h0m.3-.2h0m0-1.1h0m.3 .9h0m.1-1.1h0m.3 .6h0m.2-1.6h0m0 2h0m1.1-2.5h0m.7 2.1h0m.2-.6h0m.1-.4h0m.3-.9h0m-11 3h0m.5 .7h0m.3 .3h0m.6-.1h0m.4 .2h0m.8-1.2h0m1.6 .3h0m.1 1.6h0m.2-1h0m.6 1.2h0m0-.4h0m.3 .3h0m.1 .3h0m.2 .1h0m.4-.2h0m.1-2.1h0m.1 2.7h0m.3-2.3h0m.1-.5h0m.1 .7h0m3.2 .2h0m.5 0h0m0-.6h0m.7-.2h0m-4.7 2.9h0"/>
<rect x="16" y="482.8" width="51" height="51" fill="none" stroke="#2a2a2a" stroke-width="0.95"/>
<path d="M16 482.8h-1.4M16 533.8v1.4M16 495.6h-1.4M28.8 533.8v1.4M16 508.3h-1.4M41.5 533.8v1.4M16 521h-1.4M54.2 533.8v1.4M16 533.8h-1.4M67 533.8v1.4M16 482.8h-0.8M16 533.8v0.8M16 486h-0.8M19.2 533.8v0.8M16 489.2h-0.8M22.4 533.8v0.8M16 492.4h-0.8M25.6 533.8v0.8M16 495.6h-0.8M28.8 533.8v0.8M16 498.7h-0.8M31.9 533.8v0.8M16 501.9h-0.8M35.1 533.8v0.8M16 505.1h-0.8M38.3 533.8v0.8M16 508.3h-0.8M41.5 533.8v0.8M16 511.5h-0.8M44.7 533.8v0.8M16 514.7h-0.8M47.9 533.8v0.8M16 517.9h-0.8M51.1 533.8v0.8M16 521h-0.8M54.2 533.8v0.8M16 524.2h-0.8M57.4 533.8v0.8M16 527.4h-0.8M60.6 533.8v0.8M16 530.6h-0.8M63.8 533.8v0.8M16 533.8h-0.8M67 533.8v0.8" stroke="#222" stroke-width="0.5" fill="none"/>
<text x="14.2" y="484.6" font-size="4.9" font-weight="normal" text-anchor="end" fill="#333">60</text>
<text x="14.2" y="497.3" font-size="4.9" font-weight="normal" text-anchor="end" fill="#333">30</text>
<text x="14.2" y="510.1" font-size="4.9" font-weight="normal" text-anchor="end" fill="#333">0</text>
<text x="14.2" y="522.8" font-size="4.9" font-weight="normal" text-anchor="end" fill="#333">-30</text>
<text x="14.2" y="535.6" font-size="4.9" font-weight="normal" text-anchor="end" fill="#333">-60</text>
<text x="16" y="541.2" font-size="4.9" font-weight="normal" text-anchor="middle" fill="#333">-60</text>
<text x="28.8" y="541.2" font-size="4.9" font-weight="normal" text-anchor="middle" fill="#333">-30</text>
<text x="41.5" y="541.2" font-size="4.9" font-weight="normal" text-anchor="middle" fill="#333">0</text>
<text x="54.2" y="541.2" font-size="4.9" font-weight="normal" text-anchor="middle" fill="#333">30</text>
<text x="67" y="541.2" font-size="4.9" font-weight="normal" text-anchor="middle" fill="#333">60</text>
<text x="40.5" y="477.8" font-size="8.7" font-weight="bold" text-anchor="middle" >HC</text>
<path stroke="#000" stroke-width="1.1" stroke-linecap="round" fill="none" d="M101.8 487.4h0m1.3-.1h0m.5 .2h0m.1-.3h0m.3-.4h0m2.2 .5h0m.2-.1h0m.1 .1h0m.5-.2h0m1.3 .2h0m-12.2 2.6h0m.7 .5h0m.1-1h0m0 .9h0m.1-.2h0m.1-.2h0m.2 .2h0m0-.3h0m.1-.3h0m.1 .5h0m0-.6h0m.1 .9h0m.3-.1h0m.1 .2h0m0-.4h0m.1 .2h0m.2-.5h0m.1-.1h0m.1 .1h0m.1 0h0m.2-1.8h0m.1 1.4h0m0-.3h0m.1 .7h0m0 .4h0m0-.3h0m.1-.3h0m0 .1h0m.2-1.4h0m.4 1.4h0m.3-1.7h0m0-.1h0m.5 1.5h0m.1-1.1h0m.4 .7h0m.1-.6h0m0-.5h0m.1 .2h0m0 .5h0m0 1.4h0m0-1.8h0m.1 .3h0m0-.8h0m.2 2.7h0m0-.2h0m.1 .2h0m.1-.2h0m.1-1.8h0m0 1.6h0m0 .5h0m0-2.6h0m.1 .2h0m.1-.3h0m0 2.2h0m0 .2h0m.5-.5h0m.1-1.9h0m0 2.4h0m.3-.1h0m.1-.5h0m.1 .6h0m0-1.2h0m.3 .1h0m.1-1.3h0m0 2h0m0 .4h0m.1-1.9h0m.1 1.5h0m0-.1h0m.1-1.1h0m0 1.4h0m.1-.5h0m0-1h0m0 1h0m.1-.7h0m0-.3h0m0 .9h0m.1-.3h0m.1 .1h0m.1-.2h0m.1-.2h0m0 .4h0m0 .7h0m0-.9h0m.3-1.3h0m.1 1.4h0m.1-1.4h0m0 1h0m.2 .1h0m0-.1h0m.4-.6h0m.5 .4h0m.7-.7h0m0 0h0m.1 .3h0m.3 1.4h0m0-1.6h0m.1-.3h0m.2 .7h0m.2 1.2h0m0-.3h0m.4-.2h0m.2 .4h0m0 .4h0m.2-.6h0m.1 1.4h0m.1-1.1h0m.1 1h0m.7-2.3h0m0 .6h0m.4-.3h0m0-.3h0m.2-.3h0m.1 1.7h0m.1 .5h0m.5-1.6h0m.1 .9h0m.1 .6h0m.4 .4h0m.1-.7h0m.1 0h0m0-.5h0m.2 .7h0m.1-.3h0m0 .7h0m.1-.1h0m.3-.1h0m.6 0h0m-18.5 3.1h0m.4-1.6h0m.1 .6h0m0-1.4h0m.2 2.8h0m.1-.9h0m1-1h0m.3-.1h0m.3 1.4h0m.1-.6h0m0-1h0m0-.5h0m0-.2h0m.1 .2h0m.1 0h0m0 1.1h0m.1-1.2h0m.4 1.5h0m0-1.5h0m.4 .2h0m.2 1.5h0m.3-1.3h0m.1-.2h0m0 0h0m.1 .7h0m.1-.7h0m.2 0h0m.2 .6h0m0-.4h0m0-.4h0m.1 .5h0m.1-.3h0m.2 0h0m0 .1h0m.2-.5h0m0 .8h0m.3-.3h0m.8-.4h0m.2 2.7h0m.1-2.8h0m.1 2.4h0m.6 .5h0m3.3-.8h0m.2 .2h0m.5 .3h0m.1-.6h0m.2-.2h0m.1-.1h0m0 .6h0m.1 0h0m.4-1.9h0m0 .6h0m.6-.6h0m.1 2.6h0m.2-2.8h0m0 .5h0m.2 .1h0m.1-.6h0m.1 1h0m.1 0h0m0-1h0m.2-.1h0m.1 1.2h0m.1 .6h0m.2 .4h0m.1-2.2h0m.1 2.8h0m0-1.2h0m0 1h0m0-2.3h0m.1 2.5h0m.3-2.5h0m.4 2h0m.2-1.9h0m1 1.4h0m.6 .1h0m.1-1.2h0m.1-.8h0m.2 2.8h0m0-1.9h0m.1 .8h0m0-.5h0m.1-.9h0m.4 2h0m.1-.7h0m.4-.7h0m.2 .2h0m0 .7h0m.2 .5h0m.3-.4h0m.2 .5h0m.6-1.7h0m.8 2.2h0m.4-.4h0m.1-.1h0m.5 0h0m.1-.6h0m-26.7 3.8h0m0 .3h0m1-.7h0m.1 0h0m.1-.4h0m.3-.2h0m0-.4h0m.4 1.3h0m.1-.7h0m.2-.1h0m0-.2h0m.4 0h0m1.1-.5h0m0 0h0m0-.5h0m.6 0h0m.1-.4h0m3.7 1.9h0m.5 .4h0m.6 .5h0m.5-.2h0m0 0h0m1.2 .1h0m.1-2.2h0m.1 1.1h0m.1-1h0m.1 .9h0m0 .9h0m.4-.5h0m.1-1.6h0m0 1h0m.2 .3h0m.1-1.2h0m.2 .4h0m.1-.5h0m.1 2.1h0m0-1.1h0m.1 .3h0m.1 .9h0m.1-1.7h0m.1 1.2h0m0-1.8h0m.2 1.8h0m.1-.2h0m0-.5h0m0 1.2h0m.1-1.7h0m.2 1.3h0m.2-.7h0m.1 .5h0m.1-.4h0m.3 .9h0m0 .4h0m.2-1.6h0m.3 .6h0m0 .1h0m.1-2h0m.2 3h0m.3-2.8h0m.5 2.5h0m.1-2.7h0m.1 .8h0m.1-.7h0m0 1.9h0m.7-.8h0m.2 .4h0m.3 .3h0m0 .5h0m0-.7h0m.1-.1h0m.1 .8h0m0-1.1h0m.2 .9h0m.1 .7h0m.1-.8h0m0 .7h0m.3 0h0m.1-.3h0m0 0h0m0-2.4h0m.3 2.8h0m0-.2h0m0-1.3h0m.3-.8h0m.2 2h0m.1-.1h0m.4-1.9h0m.2 2.3h0m0-.8h0m1.6-.8h0m.1 .8h0m.2-1.1h0m.6-.9h0m.1 1.6h0m.4 .9h0m.3 .1h0m.1-.6h0m.3 .6h0m0 .3h0m.4-1.9h0m0 .5h0m.1 .6h0m.3-1h0m.1-.3h0m.2 1.8h0m.1-.4h0m0-.9h0m.3-.5h0m.3 .3h0m.3 0h0m.1 .6h0m.1 .5h0m0-.4h0m.1 .9h0m0-2.1h0m.2-.6h0m.1 .8h0m.2-.6h0m.2 2.1h0m0-1.3h0m0-.1h0m0 1.6h0m.1 0h0m.1-.6h0m0-.7h0m0 .9h0m0-.5h0m0-.3h0m.2 .1h0m.1 0h0m.1-.8h0m.7 .7h0m-29.5 4.1h0m0 .2h0m.1-1.7h0m.3 1h0m0 .7h0m.1-1.6h0m.1-.3h0m.3 2h0m0-1.9h0m0-.2h0m0 .2h0m.1 .4h0m0-.1h0m0-.1h0m0-.4h0m.1 .2h0m.1 .1h0m.1-.2h0m.1 .3h0m.1-.6h0m0-.1h0m.1 .2h0m.1 .9h0m0-.9h0m.1-.3h0m.3 .5h0m6 2h0m.1-.5h0m0 .6h0m.1-.3h0m.3-.2h0m.5 .4h0m.1-.1h0m.1-.9h0m0 .5h0m0-.8h0m.1-.3h0m.1 .7h0m.1 0h0m.1 .4h0m.1-.6h0m.8-.4h0m.7 .9h0m.1 .2h0m.3-.4h0m0-.9h0m.4 .4h0m.1-1.1h0m0 1.4h0m.4 0h0m.6-.8h0m.7-.4h0m.2 1.7h0m.1-.2h0m0-2h0m.2 .7h0m.2 0h0m.6 1.2h0m0-2h0m.3 .6h0m0 .8h0m.1-1h0m.1 1h0m.1-.4h0m0 .5h0m0 .7h0m.1-.2h0m.1-1h0m.1 .2h0m.1 .7h0m.3 .5h0m.3-1.3h0m.1 .3h0m0-.3h0m.2 1.3h0m.1-1.4h0m0-.3h0m.1 .2h0m.3 .2h0m.1-1.1h0m.1 2.6h0m.1-.3h0m.1-.9h0m.1 1.2h0m.1-1.6h0m0-.3h0m0 1.9h0m.1-2.3h0m.2 .1h0m.2 2.3h0m.2-1.1h0m.3 .5h0m.3-.8h0m.4-.9h0m.4 .4h0m.5-.3h0m.2-.3h0m.1 .8h0m.1-.9h0m.7 .9h0m0 1h0m.2-1.3h0m0 1.6h0m.1-.8h0m0 1.1h0m.3-1.7h0m0 .2h0m.1 .6h0m.2 .2h0m0 .5h0m.2 .2h0m.1-2.1h0m.2 1.3h0m.1-.4h0m0 1.5h0m0-1.3h0m.6 1h0m0 0h0m.1 .3h0m0-1.6h0m.2-.6h0m.3 .1h0m1-.6h0m.5 0h0m.6 1.8h0m.2-1.6h0m.1 .6h0m.3 .8h0m0-1.1h0m.1 1.6h0m0-1.9h0m.1-.2h0m0 1.8h0m.2 .1h0m.2-1.8h0m0 .2h0m.1 .5h0m0-.8h0m.3 2.7h0m.1-.9h0m.5-1.8h0m.4 .3h0m.3 2.5h0m.3-2.8h0m-31.7 3.6h0m.2 .8h0m.3 .1h0m.1-.2h0m0-.9h0m.1-.5h0m.1 1h0m.1-.2h0m.3-.6h0m0 .1h0m.4 .7h0m.1-.2h0m5.6 1.8h0m.1 .1h0m.5-.9h0m1.9-1.8h0m.2 .4h0m.1 2.3h0m.1-2.2h0m.1-.3h0m.2 2.2h0m0-2.4h0m.1 1h0m0-1h0m.2 .1h0m0 0h0m0 1h0m.1-.6h0m.1-.3h0m.4 .1h0m0 .3h0m.1 .1h0m.4-.4h0m.3 2h0m.3 .4h0m.9-.1h0m.1-.5h0m0-.1h0m.5-.4h0m.3-.1h0m.1 .5h0m.2 .1h0m.4-.7h0m.5-.3h0m.1-.8h0m.4 1h0m.1 .7h0m.4 0h0m.2-1.2h0m.3-.8h0m.1 1.6h0m.5 .2h0m.2-1.1h0m.1 1.4h0m.2-1.3h0m0 1.4h0m.4-.4h0m0 0h0m.1 .6h0m.4-.2h0m.2-1.5h0m.1 1.1h0m.1-.4h0m.2 .8h0m.1-.6h0m.1-1.4h0m.1 .9h0m0-.1h0m.1 .1h0m.1-1.1h0m.1 .9h0m.2-.9h0m0 2.2h0m.1-1.5h0m.1 .4h0m.2-1.2h0m.1 1.5h0m.3-.5h0m.3-.5h0m0-.3h0m.2 1.5h0m.4 1h0m.5-1.6h0m0-.1h0m.5-.7h0m0 .6h0m.6-.4h0m.1 .3h0m.3-.3h0m0-.4h0m.1 .3h0m.3 .5h0m.1 .5h0m0-1.3h0m.2 .3h0m0 1.4h0m0-1.5h0m.1 2.3h0m.1-1.8h0m.2 1.8h0m0-2.6h0m.2 .6h0m.2 .5h0m.1-.3h0m0 .7h0m0-1.2h0m.1 2.5h0m.1-.8h0m0-1.1h0m.1 1.7h0m.1-.1h0m.1-2h0m.4 2.3h0m.4-.7h0m.1-.2h0m.4-.2h0m.8-1.6h0m.2 1.3h0m.2 1h0m.1 .5h0m.2-.7h0m.2-1.8h0m.3 1.3h0m.1-1.7h0m.2 3h0m.2-2.5h0m.3 .5h0m0 1.8h0m0-.6h0m.1 .6h0m.2-1.6h0m.1 1.3h0m0-1.1h0m.2 .4h0m.2 .6h0m0-.3h0m.1-1.6h0m0-.5h0m.3 1.5h0m0 0h0m.1-1h0m.1 .1h0m0 .5h0m.1-.5h0m.1 1.4h0m0 .9h0m.1-.5h0m.2-.7h0m.2 0h0m.5 1.1h0m.4 0h0m.5-.3h0m.1-.1h0m-37 3.2h0m.5 .4h0m.1-.4h0m.2-.4h0m.2 .1h0m.1 .3h0m.1-.5h0m.1-.8h0m0 1.3h0m0-.9h0m.2-.7h0m.1 1.6h0m.1-1.2h0m0 .5h0m.2-.9h0m.1 .3h0m0 0h0m.2 .1h0m0 .5h0m0-1.6h0m.1 .7h0m5.4 1.1h0m.9 .3h0m.2 .4h0m.1-.3h0m.3 .2h0m.1-2.2h0m.5 .6h0m0-.4h0m.3-.1h0m.2 1h0m0-1.5h0m0 .3h0m.1 .5h0m0-.5h0m.2 1.3h0m.1-.1h0m0-.7h0m.2 1.6h0m.1-1.7h0m.2 .8h0m.1-.7h0m0-.9h0m.1 .4h0m.1 2h0m.2-.9h0m.1 1.3h0m.1-2.4h0m0-.2h0m.2 2.5h0m.2-.1h0m.1-.4h0m0 .4h0m.2-.4h0m0-1h0m0-.7h0m.3 1.2h0m.1 .3h0m.2-1.3h0m0 .2h0m.2-.1h0m0 1.5h0m.1-.8h0m.1-.2h0m.1 .1h0m0-.2h0m0-.3h0m.2 1.7h0m0 .3h0m0-1.2h0m.1 .1h0m.1-1.2h0m.1 .5h0m0-.1h0m0 1.1h0m.2-1.4h0m.4 1.7h0m0-2h0m0 1.3h0m.2-.5h0m0 .4h0m.2-.5h0m.2 .4h0m0 .3h0m.1-.8h0m0 1.3h0m.1-1.3h0m0-.6h0m0 1.1h0m.2-1.2h0m.1 .6h0m.2-.8h0m.1 1h0m1.9-.8h0m.2-.1h0m.2 .3h0m.2-.1h0m.3 1.5h0m.1 .6h0m.1-1.5h0m0-.6h0m.2 .1h0m.2 2.5h0m.2-1.5h0m.2-1.5h0m0 2h0m.3-.9h0m0 .8h0m.1 .3h0m.1-.4h0m.2 .5h0m.5-.4h0m.2-.3h0m.2-.5h0m.3 .6h0m.1-.7h0m.3-.5h0m.1-.2h0m.1 .5h0m0-.7h0m0 .9h0m.1 1.4h0m.3-1.3h0m0-.1h0m.1 .3h0m.1-.6h0m.1 1.8h0m.1-1.8h0m.4-.2h0m.2 0h0m.1 1.5h0m0 .4h0m.3 .3h0m.1-1h0m.1-.3h0m.1 .4h0m0 .8h0m.1-.2h0m.1-1.1h0m.1-.5h0m0-.3h0m.1 1.7h0m.2-.7h0m.7 .7h0m0-.4h0m.1-.7h0m.5 0h0m.5 .6h0m.4-.7h0m.2 .6h0m0 .1h0m0 .1h0m.2-.7h0m.2 .2h0m.1 0h0m.1 1.5h0m.3-.5h0m.1-1.1h0m.1 .5h0m.1 .6h0m.4 0h0m.6-1.2h0m.1 .6h0m.2-.5h0m.1 .4h0m.1-1.6h0m.4 1.6h0m.1-.3h0m.4 1.2h0m0-.1h0m.2 0h0m.2 .4h0m0-.8h0m.1 .2h0m.2 .3h0m.1-.3h0m0 .6h0m.1-.6h0m0 .3h0m.1-2.1h0m.1 2.5h0m0-2h0m.1 .6h0m.2-.3h0m.2 1.3h0m0 .4h0m.1-2.7h0m0 .7h0m.2-.6h0m.1 .3h0m0 2.1h0m.3-.1h0m0-1.1h0m.1-.7h0m.2 1.2h0m.8-.9h0m.6-.4h0m.2 0h0m.1 .2h0m.2-.3h0m0 .1h0m.3-.5h0m2.1-.1h0m.6 .7h0m2.7 1.3h0m.1 .5h0m.7-1.5h0m.7 .8h0m-45.1 3.7h0m.4-.4h0m0 .1h0m.1 .2h0m0-.6h0m.2 .5h0m.4-.2h0m.2-.3h0m0-.5h0m.3 .4h0m.2 .4h0m.5-1.5h0m.2-.7h0m0 .1h0m.4 .1h0m6.7 .5h0m.4 .6h0m.2-.1h0m.3 1.4h0m.2-2.4h0m.3 0h0m.4 1.4h0m0-1h0m.9 2h0m.1 .2h0m.3 0h0m.6-.3h0m.4-.3h0m.1-.4h0m0-.3h0m0-.5h0m.7-.9h0m.2 0h0m0 .5h0m.7 1.4h0m.2 .2h0m.2-1.8h0m.1 2h0m0-1.1h0m.2 .8h0m.1-.2h0m.3-1.6h0m.1-.1h0m.2 1.4h0m.2-1h0m.3 .3h0m0 1.4h0m0-2.3h0m.1 2.5h0m.1-2.4h0m.4 .3h0m.2 .6h0m.1-.2h0m.4 .3h0m.2 1.8h0m.1-2.6h0m0 1.8h0m.2-1.1h0m.1 .7h0m0 .5h0m0-2h0m.1 1.9h0m0-1.9h0m.1 1.9h0m0 .2h0m.5 0h0m.5-1.3h0m.1-.4h0m.8 .1h0m.2 1.5h0m.4-.4h0m.1-1.5h0m.1 2.3h0m0-1.1h0m.1-.3h0m.2-1h0m.1 .2h0m.1 .9h0m1.2-.6h0m.4 1.2h0m.7 .3h0m.3-1.6h0m.1-.1h0m.2 1.2h0m.1 .3h0m0-1.8h0m.6 1.9h0m.1-1.9h0m.1 1.1h0m0 1.2h0m.3-2.2h0m.1 1.8h0m.2-1.4h0m0 1h0m.1 .4h0m.1-1.2h0m.1 .8h0m0-1.5h0m.4 1.6h0m.1-.6h0m0 .9h0m.1-.1h0m.1-.7h0m0-.9h0m.1 .8h0m.3 0h0m0 1.3h0m.1-2.3h0m.1 2.2h0m0-.7h0m.1-.7h0m.2-.9h0m0 1.8h0m.2-1h0m0 1.2h0m.1 .3h0m.1-.7h0m.2-1.6h0m.1 2.5h0m.1-.4h0m0 .1h0m.1 .5h0m.1-.6h0m.5 .1h0m.2-.9h0m.1 1.4h0m.1-1h0m.3-.3h0m0-1.2h0m.3 2.4h0m.2-1.5h0m.1 .7h0m.1-1.1h0m.2 1.1h0m.4 .4h0m.6 .2h0m.2 .3h0m1.1-1.5h0m.3 1.4h0m.4-.3h0m.8-2.2h0m.1 2.5h0m.1-2.3h0m.2 2.2h0m.6-.4h0m.1-1h0m.6-1.1h0m.9 .4h0m0 0h0m6.5 2h0m.2-2h0m.3 1.9h0m.3 0h0m0 .3h0m.3-.5h0m.2-.2h0m.1 .7h0m.1-.5h0m.4 .7h0m.3-.4h0m-48 1.4h0m0-.2h0m.2-.1h0m0 0h0m.1 .5h0m0-.6h0m.2 .6h0m0-.6h0m.1 0h0m0 .8h0m.6-1h0m.1 .5h0m8.5 .5h0m.4 .7h0m.2-.1h0m.2 .5h0m.2 .3h0m.5-.5h0m.1-1h0m0 1.2h0m.2-1.9h0m0 1.2h0m.1-1.5h0m.2 2.7h0m.1-2.8h0m0 2.9h0m.2-.3h0m0-1.1h0m0-.9h0m.2 .9h0m0 .1h0m0 .2h0m.2-1.2h0m.2 1.5h0m1.1-2.1h0m.2 .4h0m0 .3h0m.7-.5h0m1 .2h0m.2-.3h0m.4 0h0m1.4 .7h0m.1 1.9h0m.2 0h0m.3-.5h0m.4-2.3h0m0 1.3h0m.1-.9h0m.5 1.2h0m.3 .7h0m.2-1h0m0 .7h0m.2-.2h0m.1-.5h0m.1 .3h0m.1-.5h0m.1 .4h0m.1 .1h0m0 1h0m.1-1.3h0m.1 .3h0m0 .4h0m.3 .8h0m.1-2.1h0m.4-.1h0m.1-.1h0m.3 2.3h0m.4 0h0m.1-2.6h0m0 1h0m.2 .4h0m.1-1.3h0m.1 1.6h0m.1-1.9h0m0 .7h0m.3 1.5h0m0-1h0m.5 1.3h0m.6-.1h0m.7-1.2h0m.2 .4h0m.4 1.2h0m.2-.5h0m0 .6h0m.1-.8h0m1.2-.4h0m.3-.4h0m.1 .9h0m.2-1.3h0m0 1.9h0m.2-2.6h0m0 1.4h0m.1-.4h0m.1-.5h0m.1-.4h0m.1 1.8h0m.2-.6h0m.1 .1h0m.3 .5h0m0 0h0m.1-.7h0m.3 1.1h0m0-.1h0m.1-.1h0m.4-1.9h0m.2-.1h0m.5 1.5h0m.3 .5h0m.6 .6h0m.1-2.8h0m.3 0h0m1.8 2h0m0-1h0m.3 .4h0m.1-.3h0m.2-.3h0m.1-.3h0m.6 .3h0m0 1.3h0m.1-2h0m.5 2.2h0m.6-1.2h0m.2-.1h0m.4-1h0m.1 .3h0m.4-.3h0m.3 2h0m.2-.9h0m.2 .3h0m1.1-.8h0m.8-.2h0m6.6 1.1h0m.5 .3h0m.4-1.6h0m-37.7 3.6h0m.3-.6h0m.3 .2h0m.3 .9h0m.3 .2h0m.1-1.3h0m.6 1.7h0m.2 .7h0m.1-.5h0m.1 .2h0m0 0h0m.4 .5h0m.4-2.5h0m0-.4h0m.2 2.9h0m.2-.1h0m.2-2.6h0m.2 1.6h0m.2-.3h0m.7 .3h0m.2 .1h0m.6 .2h0m0-.2h0m.4 .8h0m.1-1.7h0m.1 .5h0m.2 .1h0m.1 1h0m.1-1h0m.2-.2h0m.3 .8h0m0-1.7h0m.1 .7h0m.3 1.2h0m0-.2h0m.1-.6h0m0 .6h0m.1-1.2h0m0 .8h0m.1-.6h0m.2 .5h0m0-1.4h0m0 .6h0m.1 1.1h0m0-1.3h0m.2 1.3h0m.2-1.6h0m.1 2.6h0m.1-1.9h0m0 1.9h0m.1-2.5h0m0 1.3h0m.1-.5h0m0-1.1h0m.3 1.2h0m.1-.2h0m.1-.4h0m.1 .2h0m.1 .8h0m.1 .2h0m1 .3h0m0-1.7h0m.2-.5h0m.8 1.7h0m.6-1.3h0m.7 2.3h0m.1-2.7h0m.1 2.8h0m.6-2.8h0m.3 2.8h0m.1-.4h0m.3-1.3h0m.3 .6h0m.1-.8h0m.1-.8h0m.8-.1h0m.7 2.5h0m.2-2.5h0m0 2.6h0m.1-.5h0m.6 .2h0m.1 0h0m0-1.1h0m.3-.5h0m0 1.9h0m.1-2.6h0m.3 2.9h0m0-2.4h0m.2-.3h0m.1 .7h0m1.2-.7h0m0 0h0m.5 2.3h0m.4 .2h0m0-.8h0m0 .4h0m.1-.4h0m.3-.7h0m.3 .5h0m0-.5h0m.1-1.2h0m.2 .2h0m.7 0h0m.4 .1h0m.4 2h0m.4-2.4h0m.1 3h0m.1-.6h0m.5-.8h0m0-.2h0m0-.4h0m.2 .1h0m.3-1h0m.1 .8h0m0 .4h0m.1-1h0m0 1.2h0m.5 .5h0m.2 .5h0m.3-2.2h0m.1 1.3h0m.2-1.1h0m.2 .5h0m.3 .7h0m.3-.9h0m0 .3h0m.1-.3h0m.1-.5h0m.7 .5h0m.3-.4h0m.6-.2h0m.5 1.1h0m.6-.1h0m5.2 1.7h0m.3-.5h0m.5 .2h0m0-.7h0m.8 0h0m-41.6 2.8h0m.5-.1h0m.7 .6h0m3.5 .7h0m.2-2.2h0m.5-.2h0m.2-.1h0m.9-.2h0m.3 2.6h0m.2-.4h0m.1-2.2h0m0 1.2h0m.1-1.3h0m0 2.4h0m0-.7h0m.2 .7h0m.1-2.4h0m.1 1.6h0m0-.3h0m.1 .3h0m0-1.4h0m0 1.6h0m.1 .1h0m0-.6h0m.1 .2h0m0-1.5h0m.4 2.6h0m.1-.7h0m0-.8h0m0 1.3h0m.4-2.3h0m0 .5h0m0 2.1h0m.6-.5h0m.1-1.3h0m.4 .2h0m.2-.5h0m.3 .6h0m.1-.7h0m0 .6h0m.1 .4h0m.1-1.5h0m.1 1.3h0m.1 .2h0m.1 .7h0m.2-1h0m.2 1h0m.1-.3h0m.6 .6h0m.1-.3h0m.4-1h0m.1 .7h0m.1-1.6h0m.1 1.6h0m.1-.1h0m.1 .5h0m0 .1h0m.3 .1h0m.4 .3h0m.7-1.6h0m0 .1h0m.4 .5h0m0 .1h0m.2-.6h0m.1 .8h0m0-.1h0m.7 .1h0m.1 .3h0m.2 0h0m.2-.5h0m.2 0h0m.3-.4h0m.1 .4h0m0-.4h0m.1-.3h0m0-.4h0m.6 2h0m.1 0h0m.1-.7h0m0-.8h0m.3-.4h0m.1 1.7h0m.3-2.5h0m.2 2.7h0m.4-2.6h0m0 .1h0m.3 .8h0m0-.1h0m.8 0h0m.7-.2h0m.1 .4h0m.1 0h0m.3 1h0m.2-.6h0m0-.5h0m0 .3h0m.6-.7h0m.2 0h0m.3-.6h0m.2 1.3h0m.3-.8h0m.5-.5h0m.1 0h0m1.8 1.4h0m0-1.2h0m.1 1.6h0m0-1.5h0m0 1.9h0m.1-.9h0m0 1.4h0m.2-1.2h0m.4-.1h0m.1 .2h0m0 .5h0m.3-1.1h0m.2 .3h0m.1-.2h0m.1 1.4h0m.2-1.3h0m.1 1h0m0-2.2h0m.1 1.6h0m.2 .7h0m.1-.6h0m.1-1h0m0-.1h0m.2 1.5h0m1.8-1.4h0m.2-.1h0m.1-.8h0m.5 .2h0m.4 1.8h0m1 .4h0m.2-.3h0m.8-.6h0m.3-.4h0m.1-.1h0m.8-.1h0m.8 .2h0m0-.5h0m3 .7h0m.6-.8h0m-38.5 4.3h0m.6-.9h0m.9 .6h0m.1 .9h0m0 .5h0m2.2-2.2h0m.2-.3h0m1-.2h0m.2 .9h0m.7 .2h0m.4-.2h0m.1-1.1h0m.5 2.1h0m.4 .7h0m.9-.5h0m0-1.6h0m0 1.6h0m.1-.8h0m0 .1h0m.1-.8h0m.1 .6h0m0-.2h0m0 .4h0m.1-.8h0m.8-.4h0m.2-.1h0m.5 .2h0m.1 .1h0m0 .4h0m.3-1h0m.1 2.3h0m.2-1.7h0m.1 1.9h0m.2 .2h0m0 0h0m.2-.9h0m0-.3h0m.3 1.5h0m0-2.6h0m0 .3h0m.1-.6h0m.1 2.8h0m.1-.6h0m.3-2.2h0m0 1.5h0m.7-1.3h0m.7 1.1h0m.2-.9h0m.1 2h0m.3-1.4h0m0 .4h0m0 1.1h0m.1-.7h0m.1 .8h0m.2-.8h0m.1-.6h0m0 .2h0m.1-.7h0m0-.7h0m.7 .1h0m0 1.4h0m.1-.9h0m.4-.4h0m.5 .2h0m.1-.2h0m0 1.6h0m0-1.1h0m.1 .2h0m.2 1.1h0m.3 0h0m.1-.7h0m2.6 1.6h0m.4-1h0m.3-.6h0m.3-1.2h0m.1 1.1h0m.1 1.6h0m.4-2.6h0m.2 .4h0m.1 1.4h0m0-.1h0m.2-1.7h0m0 1.6h0m.4-.4h0m0-1.5h0m.2 1.4h0m1 .2h0m.9-.2h0m.9-.3h0m0-.2h0m0-.3h0m.1 1.4h0m0-1.2h0m.3 1h0m0 .1h0m.1-.1h0m0 .7h0m.1-2h0m0 2.3h0m.2-.9h0m.2 0h0m.2-.2h0m.5 .9h0m.4 .3h0m.3-.9h0m.1-.6h0m0 .8h0m0-.9h0m.1-.4h0m.1 1.5h0m.3-.9h0m.1 .8h0m.6-2.1h0m.3 2.5h0m.1-1.4h0m.1 .5h0m.1 .4h0m0-.3h0m0 .4h0m.6-.1h0m.1 .4h0m.2-1.6h0m.1 0h0m0-.4h0m.1 1.9h0m0-1.2h0m.2 1h0m.2 .6h0m.1-1.8h0m.2 1.3h0m0-.5h0m.1 .9h0m.1-1.4h0m0-.4h0m.3 .1h0m.2-.8h0m.1 2h0m.2-1.7h0m.2-.3h0m-30.9 2.9h0m2 2.4h0m4.1-2.5h0m1.4 1.6h0m.6-1.4h0m.3 1h0m0 1h0m0 0h0m0 .4h0m.4-.9h0m0 .6h0m0-1h0m.2 0h0m.2-.9h0m0-.2h0m.1 .5h0m.5-.3h0m1.1-.2h0m.6 .1h0m.2-.3h0m.6 0h0m0 2.2h0m.1-1.4h0m.1-.1h0m0-.5h0m.1 2.4h0m1.4-2.1h0m.3-.1h0m.2 .3h0m.1-.7h0m.3 1.1h0m0-.1h0m0 .3h0m.2-.1h0m.1 .9h0m0-1.9h0m.2 2.1h0m.4-.2h0m.4-.3h0m0 .9h0m.1-.6h0m.2-.7h0m.1 .2h0m.1 .6h0m0-.2h0m.1 .1h0m.3-.2h0m0 0h0m0-.2h0m.4-.1h0m0 .4h0m.6 .6h0m.7 .2h0m.3-.1h0m.2-1.9h0m.1 1.7h0m.2-.8h0m.2-1.4h0m.1 .8h0m.2 0h0m0-.2h0m.1-.4h0m.1 2.2h0m.1-1.4h0m.3-.8h0m.2 1.1h0m.1-1.1h0m.2-.1h0m.5-.3h0m1.5 .9h0m.5 1.9h0m1.8-.3h0m.2-2.7h0m.1 1h0m.1-.2h0m0 2h0m.1-.7h0m.2 .4h0m0-.4h0m.2 .6h0m.3-2.1h0m.3 1.4h0m.1 .8h0m.9-2.5h0m.2 .8h0m.1 .2h0m.4 .3h0m.4-.4h0m.1 .3h0m-19 3.9h0m.1-.1h0m1.8-.7h0m.2-1h0m.1 .5h0m.3-.4h0m.1-.7h0m0 1.2h0m0-.2h0m.3 .7h0m1.9-.7h0m.3-.9h0m.3 1.7h0m.2 .6h0m0 .2h0m.3-1h0m0 1.1h0m.1-1.1h0m.1 .1h0m0-.8h0m.1-.6h0m.1 .8h0m.3 .7h0m0-1.3h0m.3-.4h0m.1 2.8h0m.5-.2h0m.1 .3h0m.1-.9h0m.4-1.6h0m.1 .4h0m.4 2h0m1.1-1.8h0m0-1h0m.2 1.2h0m.9 1.3h0m.2 .3h0m.1-.7h0m0 .5h0m.2-.1h0m0-2.2h0m.4 .4h0m.1 1.3h0m.1-.3h0m.2-.4h0m.3-.6h0m0 .3h0m.2 .3h0m.2-.3h0m.4 .8h0m0 .2h0m.2-.3h0m0-1.7h0m.3 1.9h0m.4 .1h0m.9-2h0m.1 1.2h0m.1-1h0m.2 0h0m.2 .2h0m.3 .1h0m0 .5h0m.3-.3h0m.1-.4h0m.1-.1h0m-11.5 3.6h0m1.1-.9h0m.4 .5h0m0-.3h0m.4 .6h0m.2 .7h0m.4-.4h0m.2 0h0m.1-.6h0m.5 .8h0m.1-1.2h0m.8 .4h0m.8 .2h0m.9 .2h0m.1 0h0m.1-.4h0m.2 .5h0m0 .5h0m.2-.5h0m.6-.6h0m.1-.2h0m.2 1.6h0m0-.9h0m.1 1h0"/>
<rect x="78.9" y="482.8" width="51" height="51" fill="none" stroke="#2a2a2a" stroke-width="0.95"/>
<path d="M78.9 482.8h-1.4M78.9 533.8v1.4M78.9 495.6h-1.4M91.7 533.8v1.4M78.9 508.3h-1.4M104.4 533.8v1.4M78.9 521h-1.4M117.2 533.8v1.4M78.9 533.8h-1.4M129.9 533.8v1.4M78.9 482.8h-0.8M78.9 533.8v0.8M78.9 486h-0.8M82.1 533.8v0.8M78.9 489.2h-0.8M85.3 533.8v0.8M78.9 492.4h-0.8M88.5 533.8v0.8M78.9 495.6h-0.8M91.7 533.8v0.8M78.9 498.7h-0.8M94.8 533.8v0.8M78.9 501.9h-0.8M98 533.8v0.8M78.9 505.1h-0.8M101.2 533.8v0.8M78.9 508.3h-0.8M104.4 533.8v0.8M78.9 511.5h-0.8M107.6 533.8v0.8M78.9 514.7h-0.8M110.8 533.8v0.8M78.9 517.9h-0.8M114 533.8v0.8M78.9 521h-0.8M117.2 533.8v0.8M78.9 524.2h-0.8M120.3 533.8v0.8M78.9 527.4h-0.8M123.5 533.8v0.8M78.9 530.6h-0.8M126.7 533.8v0.8M78.9 533.8h-0.8M129.9 533.8v0.8" stroke="#222" stroke-width="0.5" fill="none"/>
<text x="77.1" y="484.6" font-size="4.9" font-weight="normal" text-anchor="end" fill="#333">60</text>
<text x="77.1" y="497.3" font-size="4.9" font-weight="normal" text-anchor="end" fill="#333">30</text>
<text x="77.1" y="510.1" font-size="4.9" font-weight="normal" text-anchor="end" fill="#333">0</text>
<text x="77.1" y="522.8" font-size="4.9" font-weight="normal" text-anchor="end" fill="#333">-30</text>
<text x="77.1" y="535.6" font-size="4.9" font-weight="normal" text-anchor="end" fill="#333">-60</text>
<text x="78.9" y="541.2" font-size="4.9" font-weight="normal" text-anchor="middle" fill="#333">-60</text>
<text x="91.7" y="541.2" font-size="4.9" font-weight="normal" text-anchor="middle" fill="#333">-30</text>
<text x="104.4" y="541.2" font-size="4.9" font-weight="normal" text-anchor="middle" fill="#333">0</text>
<text x="117.2" y="541.2" font-size="4.9" font-weight="normal" text-anchor="middle" fill="#333">30</text>
<text x="129.9" y="541.2" font-size="4.9" font-weight="normal" text-anchor="middle" fill="#333">60</text>
<text x="103.4" y="477.8" font-size="8.7" font-weight="bold" text-anchor="middle" >day -6</text>
<path stroke="#000" stroke-width="1.1" stroke-linecap="round" fill="none" d="M164.5 487.2h0m1.8 .1h0m2-.4h0m.1 .5h0m.1 0h0m2.8-.2h0m0 0h0m.3-.2h0m0 0h0m1.8 .4h0m-15.3 2.8h0m1.6 .2h0m.2 0h0m.1 0h0m.8 .1h0m1-1.9h0m.3 1.5h0m.2-1.6h0m.1 .8h0m.1 1.2h0m.1-1.2h0m0 1.1h0m.2-.7h0m0-1.5h0m0 1.7h0m.1-.9h0m.1 1.3h0m.3-.3h0m.6-1.6h0m.1 .3h0m.1 .1h0m.1-.9h0m.1 1.4h0m.1-.3h0m0-1h0m.7 1.6h0m.2-.2h0m0-1.4h0m0 .4h0m.2-.3h0m.1 1.8h0m0-1.5h0m.1-.2h0m.1-.2h0m.3 1.3h0m.1-1.6h0m.1 .4h0m.2 1h0m0 .2h0m.1-1.3h0m0 2.1h0m.1-.3h0m.1-.3h0m.2-1.4h0m.1 2.3h0m.2-1h0m.3 .6h0m0-.6h0m.1-.1h0m0 0h0m0-1.2h0m.1 1.7h0m.2-.7h0m0-.4h0m.1-1h0m.1 1.6h0m.4 .1h0m0 .1h0m.2-.4h0m.2 0h0m0-.2h0m.2 .9h0m.1 .3h0m.1-.9h0m.4 .4h0m0 .8h0m.5-1.4h0m1-1.3h0m0 1.2h0m.1-.6h0m.1 1.5h0m0 .3h0m.1-1.4h0m0 .4h0m.1-.9h0m.1 .2h0m.1 1.7h0m0-1.9h0m0 .9h0m.5 .8h0m.3-.3h0m0-1.6h0m.8-.1h0m.6 2.1h0m.5-.1h0m.4 .5h0m.2-.1h0m.1 0h0m1.3-.3h0m-21.2 2.7h0m.2 .3h0m.3-.1h0m.1-.5h0m.2 .1h0m.3 1h0m.3-1.6h0m.1-.9h0m.5 .5h0m0-.4h0m.4 .7h0m.8 0h0m.2-.1h0m0-.9h0m0 .5h0m.1 .5h0m.2-1.1h0m0 1.5h0m.1-.6h0m0-.6h0m.2 .6h0m.2-.6h0m.1 1.9h0m.1-2.1h0m.2 1.1h0m0-1h0m0 1h0m.2 .3h0m.1-.1h0m0-.5h0m.8-.7h0m.2 .3h0m.5-.5h0m.3 0h0m.1 .4h0m5 1.2h0m.2 .9h0m0-.1h0m0 .4h0m.1-.3h0m.1-.7h0m0-.4h0m.3 .2h0m.4 .6h0m0-.5h0m.4-1.3h0m.1 .5h0m.3 1h0m.2 .6h0m.2-1h0m.3-.1h0m.4-.2h0m0 .8h0m.1-2.1h0m.3 1.5h0m0-1.1h0m.1 1.8h0m0-.9h0m.2 .3h0m0 .4h0m.1-.5h0m.3 .1h0m.2 .6h0m.1-1h0m.3 1.1h0m.1 .4h0m.2 .1h0m0-.6h0m0 .7h0m.2-.4h0m.2-.7h0m0-.8h0m.1 1.1h0m.1 .3h0m0-1.9h0m.2 2.3h0m.2-2.3h0m.1 1.6h0m.1-.1h0m.1-1.5h0m0 1.8h0m0-1.8h0m0 1.5h0m.1-1.4h0m0 .9h0m0-.8h0m.1 .5h0m.1-.2h0m.1-.6h0m0 2.5h0m.2-1.9h0m.2-.9h0m0 0h0m.1 .7h0m.1 1.7h0m.1 .4h0m.3-.2h0m.2-.8h0m.1-1.7h0m.1 .1h0m.1-.1h0m.1 .9h0m0 1.2h0m.1 .4h0m0 .2h0m.1-1.1h0m.3-1.2h0m.2 1.1h0m.1 .7h0m0-.8h0m.1 .6h0m.2-.4h0m.3-.5h0m0 .6h0m.1-1.9h0m0 .9h0m.1-.6h0m.1 2.3h0m.3-2.5h0m.5 2.5h0m0-.4h0m.3-.6h0m.6-.1h0m-26.5 4h0m.7-1.2h0m.5 1.3h0m.3-.7h0m.6-.6h0m.4-.9h0m.1 .2h0m.4-.6h0m.5 1.7h0m0-.5h0m.1-.9h0m.2 .2h0m.1 .3h0m0-.2h0m.7-.1h0m.4-.5h0m.2 .2h0m.7-.1h0m2.2 2.1h0m.2 .5h0m.9-.3h0m.5 .2h0m.1 .2h0m.1-.1h0m.2-.5h0m.3-.2h0m0 .7h0m1-.3h0m.4-.6h0m.1-.4h0m0-.8h0m.3 .9h0m0 .9h0m.1-2h0m.1 2.2h0m0-.7h0m.1-1.1h0m.1-.6h0m.1 1.2h0m.3 .4h0m0-1.5h0m.2 .3h0m0 1h0m.1 .9h0m0-1.9h0m0 1.2h0m0 .8h0m.1-1.3h0m.3 0h0m.1 1.5h0m.2-2.4h0m.3 .4h0m0 .4h0m.1-1.2h0m.3 1h0m0-.5h0m.1-.3h0m0 .1h0m.1 1.4h0m.1-1.5h0m.2 .2h0m0-.2h0m.2 1.2h0m.2 .8h0m0-2.1h0m.5 .2h0m0 .5h0m.1 .3h0m.2 1.4h0m0-.6h0m.1-.7h0m.1-.9h0m.2 1.8h0m.1-1.4h0m0-.4h0m.1 1.2h0m0-.9h0m0 1.2h0m.1-.6h0m.1-.9h0m.1 1.1h0m0-.4h0m.1 .2h0m.1-1h0m.2-.1h0m0 1.2h0m.3 .4h0m.3-.6h0m0 .3h0m.4 .6h0m.3 0h0m0-1.9h0m1.1 .3h0m0 2h0m0-1.4h0m0-.6h0m0 2.5h0m.1-1.3h0m.1-1.7h0m.2 1h0m.2 0h0m0-.6h0m.4-.3h0m.1 .1h0m.1 .7h0m.6 0h0m.2 2.1h0m.2-.1h0m.3-2.5h0m.4 .2h0m.2-.4h0m0 1.7h0m.3-1.6h0m0 .4h0m.2 1.4h0m0-1.4h0m.1 1.2h0m0 .4h0m.1-.3h0m.1-.6h0m.1 .6h0m.1-.6h0m.2-.5h0m0 1.5h0m.1-.6h0m0 .4h0m0-.4h0m.1 .6h0m0-1.3h0m.1 1.1h0m.1 .2h0m.1-.2h0m.1 .5h0m0-2h0m.1-.2h0m.1 1.5h0m.1 .1h0m.1-.9h0m0-.3h0m.2 1.9h0m.1-1.5h0m.2 .2h0m.1-.3h0m0 1.2h0m0-2.3h0m.1 1.1h0m0-.8h0m.2 2.2h0m0-.4h0m.1 .1h0m-28.7 3.2h0m.2-.1h0m.6 .5h0m.4-.6h0m.1 0h0m0 .4h0m0-1.4h0m.2 .9h0m0-.8h0m0 1.3h0m.1-.4h0m.2-.5h0m.3 .7h0m0-.5h0m.1 .6h0m.1-.8h0m.2-1.5h0m.4 1.9h0m0-1.9h0m0-.2h0m.4 .7h0m.5-.3h0m.4 .7h0m.1-1.1h0m2.7 2.9h0m.6-.2h0m.5-.2h0m.1 .2h0m0-.3h0m.4 .2h0m.6-.5h0m1-1.4h0m.2 .8h0m.1 .3h0m.1-1.2h0m.3 0h0m.2 .1h0m0 .9h0m0 .4h0m0-1.4h0m.1 2.1h0m0-.4h0m.2-1.9h0m0 2.5h0m.3-2.8h0m0 .1h0m.3 1.7h0m.1-1.7h0m.2 2.5h0m.1-2.8h0m0 2.3h0m0-1.1h0m.1-.6h0m0-.3h0m.3 1.9h0m.2-1.9h0m0 .1h0m.1 1.6h0m0-.9h0m.1 .9h0m.4-.9h0m0 1.6h0m0-2.5h0m0 .3h0m.3 2h0m0-.6h0m.2-.4h0m.5 .8h0m.2-2.1h0m.1 2.3h0m0-.4h0m.2-1.8h0m.1 .4h0m.2 1.6h0m.1 .5h0m.4-.8h0m0 .4h0m0-1.1h0m.1 1.6h0m.3 0h0m0-1h0m.5 .5h0m.2-1.3h0m.1 1h0m.1-.1h0m.3 .3h0m.1-.7h0m.2 .4h0m.6 .9h0m.2-2.4h0m.1 2.4h0m.1 0h0m0-.2h0m.5-1.8h0m.3 .1h0m.1 1.9h0m.2-2.4h0m.1 .3h0m.2 .2h0m.1-.8h0m.1 .7h0m0-.7h0m.2 .6h0m.2 .2h0m.3-.7h0m.3 .1h0m0 .8h0m.2-.4h0m0 2.1h0m.5-2.3h0m.1-.1h0m.1 .1h0m.1 1.5h0m.5-2h0m.1 .7h0m.1-.4h0m.3 2.4h0m.1 .1h0m.3-1.1h0m.1 .4h0m0-1.1h0m.3 .7h0m0-1h0m0-.2h0m.3-.5h0m.2 2.4h0m.3 .2h0m.3 0h0m.1 .1h0m.7-2.4h0m0 1.9h0m.2 .4h0m.2-2.4h0m.4-.1h0m0 0h0m1.1 2.4h0m.2-.8h0m.1-.4h0m0 1.2h0m.1-.6h0m0-2h0m.1 1.3h0m0-1.1h0m.1 1.4h0m0-.3h0m.3 1.2h0m.1-.9h0m0 .1h0m.1-1.2h0m0 1.5h0m0-1.6h0m.2 1h0m.1 1.4h0m0-1.9h0m0 1.7h0m.1-.4h0m0-1.9h0m0 2.4h0m.3-1.3h0m0-.6h0m.1 2h0m.1-2.5h0m0 2.3h0m.4 .2h0m.2-1.1h0m.1-.4h0m.1 1.5h0m.2-1h0m-32.8 3.9h0m.2 0h0m0 .3h0m.2-.6h0m.1 0h0m.1 .2h0m.1 .2h0m0-.1h0m.1 .2h0m0-.3h0m0-.1h0m.1 .5h0m.2-1.4h0m.6-.5h0m.4-1h0m0 .3h0m.3 .9h0m.1-.4h0m.3-.2h0m.1-.5h0m.2-.2h0m.2 .2h0m4.1 2.3h0m.4-.6h0m.2 .2h0m0-.8h0m.7 .3h0m.1 .1h0m0 1h0m.2-.7h0m.2 .3h0m.6-1h0m0 .2h0m.1-.6h0m0 .3h0m.1 .3h0m.1 1.3h0m.4-.4h0m.1-1.3h0m0 .2h0m0 1.4h0m.3-.3h0m.1 .1h0m.1-.7h0m.1-.3h0m0 .4h0m.1-.2h0m0-.5h0m.1-.6h0m0 1.3h0m.1 .5h0m0-.9h0m.1-.6h0m0 0h0m.3 0h0m0 1.2h0m.2-1.2h0m0 1.6h0m.2-1.9h0m.1-.1h0m0-.5h0m.1 .4h0m.1 .4h0m.2-.6h0m.2 2.4h0m0-2.4h0m.1 1h0m.1-.9h0m.3 .1h0m.2 2.4h0m0-2.6h0m.1 1h0m.3-.8h0m0 1.9h0m.3-1h0m.2 1.6h0m.1-1.4h0m0-1.4h0m.1 2.8h0m0-1.6h0m.6 1.2h0m.4-1h0m0 .7h0m.3-.4h0m.1-.9h0m.3 1.9h0m.1-2.6h0m.2 .3h0m.3 .6h0m.3 .2h0m0-.3h0m.2 .5h0m.1-1.4h0m.2 2.7h0m.1-2.4h0m.2-.4h0m.1 0h0m.2 .1h0m0 1.1h0m.4 .3h0m.1-1.3h0m0 1.6h0m.1-1.5h0m.1 1.6h0m.2-.1h0m.2-1.6h0m.1 2h0m.2 .1h0m.1-1.9h0m.6 .4h0m.2 .3h0m.1-.7h0m0 1.2h0m.6 .9h0m.3-1.7h0m.2-.8h0m.4 .4h0m.7 .2h0m.1 2.4h0m.7-3h0m0 2.3h0m.2-1.7h0m.4 0h0m0 .1h0m0 .2h0m.1-.4h0m.1-.5h0m.1 .7h0m0 .2h0m.2 .1h0m0-.4h0m.1 1.2h0m.1-.4h0m.1 .9h0m0 .1h0m.2-1.3h0m.2 .2h0m0-1h0m.1-.2h0m.1 1.2h0m.1 .5h0m0-.4h0m0-.6h0m.1-.4h0m0 .3h0m0 .4h0m.1-.1h0m.1-.9h0m.1 2.1h0m0-.1h0m.1-2.1h0m0 2.4h0m0-2.3h0m.1 2.6h0m.1-1.5h0m0 .9h0m.1-.8h0m.1-.9h0m.1-.4h0m0 2.1h0m0-1.6h0m0 1.1h0m.1-.9h0m.3 1.7h0m.3 .6h0m0-2.8h0m.3 2.5h0m.6 0h0m.2-.1h0m.1-.4h0m.4-1.3h0m0 1.5h0m.3-.3h0m.4 .8h0m.1-1.2h0m.8-1.5h0m0 .4h0m.1 1.6h0m0 .4h0m.2-.5h0m.1 .9h0m.1-.5h0m.1-.2h0m.1-.7h0m0-1.3h0m.2 2h0m.1-2.3h0m.2 .6h0m.1-.3h0m0 1.8h0m.3 .7h0m0-2.1h0m.1 1.2h0m.5 0h0m1.7 .8h0m-36.8 2.6h0m.1 .7h0m0-.8h0m0 .2h0m0 0h0m.2 .4h0m0-.7h0m.1 .3h0m0-.3h0m.1 .9h0m.1-.8h0m0-.4h0m.1 .4h0m0 .2h0m0 0h0m0-.7h0m.2 1.2h0m0-.5h0m0-.5h0m.1 .5h0m0-.1h0m.1-.1h0m.1-.7h0m0-1h0m.1 1.4h0m.1 .8h0m0-1.4h0m.1 .3h0m0 .1h0m.1 .4h0m0-1.1h0m0 1.3h0m0-1.6h0m.4-.1h0m0-.2h0m0-.1h0m0 .3h0m.1 1.2h0m0-1.4h0m.1-.1h0m0 .1h0m.1 .5h0m0-.6h0m0 .2h0m.1-.5h0m.1 1h0m0-1h0m.5 .4h0m0 0h0m5 2.5h0m.3-1.1h0m.3-.8h0m.3-.6h0m.8 .2h0m.1-.6h0m.2 1.7h0m.1-1.4h0m.1 1.8h0m0 .9h0m0-1.8h0m.1 .5h0m.1 1h0m0-1.1h0m.2 .5h0m.1 .1h0m0-2.1h0m.1 1.9h0m.1-1.7h0m.1 .7h0m0 1.2h0m.1-1.7h0m.4 .6h0m.1 .4h0m.1 .2h0m.1 .7h0m.2-1.1h0m0 .3h0m.2-.4h0m.2 .6h0m.2-.1h0m.1-1.1h0m0-.6h0m.2 2.3h0m.1 .4h0m.4-1.1h0m.2 1.1h0m.1-1.5h0m.3 1.4h0m.1-1.1h0m.2 .5h0m.3 1h0m.2-1.5h0m0-.1h0m.1-.7h0m0-.7h0m.2 2.3h0m.1 .4h0m.1-.2h0m.7-.3h0m0-.6h0m.1-.8h0m.1 1.1h0m.1 .6h0m.1-1.5h0m0-.7h0m.1 .8h0m.1 .9h0m.1-1.1h0m.4 1.9h0m.1-1h0m0-1.5h0m.3 1.1h0m0 1.2h0m.1-.3h0m0-.4h0m.1-.2h0m0 .7h0m.1 .2h0m0-1.3h0m.1 1.6h0m0-.9h0m.1 .2h0m0-1.7h0m.1 1.2h0m.1-1.5h0m.1 1.6h0m.3 1.2h0m.3-1.1h0m.1 .2h0m0-1h0m.3 1.9h0m.3-2.7h0m0 1.7h0m0-1.5h0m.2 0h0m0 2.4h0m0-1.3h0m.2 .4h0m.1-1h0m.1 .5h0m0-1.1h0m.3 1.1h0m.4-1.5h0m0 1h0m.3 1.7h0m0-1.8h0m.2-.7h0m.1 .2h0m.3 1.8h0m.1 0h0m.1 .3h0m0-1.1h0m0-1.3h0m.1 2.3h0m0-1.9h0m.1 1.1h0m.2 1.1h0m0-1.8h0m.1 1.3h0m0-.4h0m.1 .1h0m0-1.4h0m.1 2.3h0m0-1.6h0m.1-.2h0m0 1.8h0m.2-.6h0m.1 .2h0m0-1.7h0m.4-.1h0m0 .4h0m0-1h0m.3 1.5h0m.6-.1h0m.2-.2h0m0-1.1h0m.2 2.8h0m.1-1.3h0m.2-.5h0m0 1.5h0m.1-1.4h0m.1 1h0m0-1.9h0m.3 2.6h0m0-.5h0m.1-.7h0m0-1.1h0m.3 .9h0m0 1.2h0m.1-.3h0m.1-1.4h0m.1-1h0m.2 .6h0m.4 .4h0m.1 .9h0m.2 .1h0m.1-.7h0m0-.6h0m.1 .4h0m.2 1.3h0m.1 .1h0m.2-2.2h0m.6-.3h0m.2 1.8h0m.4 .7h0m0-.2h0m.1 0h0m0 .5h0m.2-1.5h0m.2 1.2h0m.2-.6h0m0-.9h0m.1 1.2h0m0-2.1h0m.3 2.4h0m.1-1.7h0m.1 2.1h0m.1-2.9h0m.1 1.4h0m0-.3h0m.1 0h0m.1-.1h0m.2 .6h0m.3 1.3h0m.3-.1h0m.3-1.1h0m.1 1h0m.3-1h0m0-.7h0m.1-.8h0m.1 1h0m.1 1.2h0m.1-1h0m0 1h0m.5-.3h0m0-.6h0m.1 .4h0m0-1.3h0m.1 1.8h0m.2-1.2h0m0-.5h0m.2-.1h0m.2 .8h0m.1 .4h0m.2-1.7h0m.1 .8h0m0 2.1h0m.2-1h0m0-.8h0m.4-.5h0m0-.1h0m.1-.6h0m.3 .6h0m0-.1h0m.2 .7h0m0-1.2h0m.3 .2h0m.2 .5h0m.3-.6h0m0 .6h0m.3-.6h0m1.2 .5h0m.2-.3h0m.1 .8h0m3.9 1.1h0m.1 .3h0m.2 .1h0m.1-.6h0m.3 .8h0m.3-1.4h0m0 .5h0m.1 .9h0m-46.3 3.1h0m.2 .1h0m.3-.4h0m.6-.2h0m.2 .1h0m0-.3h0m0-.3h0m.2 .6h0m.1-.4h0m.2 .1h0m.1-.3h0m0-.4h0m.2 .2h0m0-.9h0m.1 1.4h0m0-.5h0m.1-.4h0m.6-1.2h0m.2 1.2h0m.2-.7h0m.1-.5h0m.5-.1h0m.1 .1h0m.4 0h0m5.2 2.3h0m.7-.2h0m.2-1.5h0m0-.2h0m.1 1.9h0m.1 0h0m.1-1h0m.1-.7h0m0 .3h0m.2-.7h0m.2 .1h0m.1 .7h0m0 .6h0m0 1.1h0m.2-2h0m.1 1.6h0m0-.7h0m.1 .7h0m.3 .2h0m.4 0h0m.5-2.3h0m.3-.2h0m.1 .6h0m.1 2.2h0m.1-1.5h0m.2 .4h0m.1 .7h0m.3-.6h0m.1-.4h0m.5-.8h0m.1 .4h0m0 .7h0m0-1.7h0m.1 1.5h0m.1 .2h0m.2-1h0m.1-.3h0m0 .3h0m.1 .9h0m.1 1h0m0-2.5h0m.1 0h0m.4 1.8h0m.3-.3h0m0-.3h0m.2 .6h0m.3 0h0m.1-1h0m0 1.4h0m.2-2.1h0m0 .2h0m.2 2h0m.1-1.2h0m.1 1.1h0m0 .4h0m.1-2.3h0m0 2.4h0m0-2.8h0m.1 .6h0m.1 .1h0m.1 .1h0m.3 .1h0m.6-.7h0m1-.2h0m0 2.2h0m.1-.3h0m0-1.1h0m.4 1.7h0m.2-2.3h0m.1 .3h0m1.3 1.6h0m.3 .3h0m.1-.5h0m0 .3h0m.2-2h0m.2 1.6h0m.5-1.3h0m0 .2h0m.1 .9h0m.2-.5h0m0 0h0m.7-.8h0m.5-.3h0m.3 .2h0m.1 0h0m0-.3h0m.5 .8h0m.3 1.9h0m.2 0h0m.2-1.5h0m0 .2h0m.2-.4h0m.1 .9h0m.1-1.8h0m0 2.6h0m0-.1h0m.2-.5h0m.1 .4h0m.1-1.5h0m.1 .6h0m.1-.2h0m.4 1.6h0m0-.1h0m.1-.6h0m.2 .3h0m.1-2.1h0m.1 2.2h0m.1-2.3h0m.1-.2h0m0 .4h0m0 .3h0m.2-.8h0m.3 2.6h0m.3-.8h0m.4 .4h0m.2-.6h0m.4 1h0m.1-1.4h0m.2 .2h0m.3 .9h0m.2-1h0m0-1.2h0m0 1.6h0m.1-.7h0m.2 1.3h0m0-1.4h0m.2-.8h0m.1 1.7h0m.4-1.2h0m.1 .7h0m0-1.2h0m.2 2h0m.7-.1h0m.2-2h0m.3 0h0m0 1.3h0m.2-.4h0m.2-.2h0m.1-.4h0m0 1.3h0m0-1.2h0m0-.3h0m.1 .6h0m.1 .8h0m.1-1.3h0m.1 0h0m.1 2.4h0m0-1.6h0m.1-.3h0m.1 1.4h0m0-1.1h0m0-.3h0m.1-.2h0m.3 .8h0m.2-.2h0m.1 1.1h0m.1-1.4h0m0 .2h0m.1 1.7h0m0-2h0m.3 .6h0m0 1.2h0m.3-.3h0m0-.2h0m.1 .1h0m0 .5h0m.2-2.7h0m0 .7h0m.1 .4h0m0 1.3h0m.2-.9h0m.2-.1h0m0 .9h0m0-.6h0m.3-.1h0m.2-1h0m.1 2h0m.1-2.4h0m.1 .8h0m.1 .2h0m0 1.3h0m.2-2.2h0m.2 .8h0m0 .6h0m.1-.6h0m.2 .5h0m.1 .3h0m.1-.6h0m.1 .9h0m0-.1h0m.3 .1h0m.1-.7h0m0 1.2h0m.3-.8h0m.2 .8h0m6.1-.3h0m.2 0h0m.6-.7h0m.2 .7h0m.4-.1h0m-47.9 2.6h0m.5-1.6h0m.3 1.1h0m.1-.9h0m.1 .1h0m.1 .2h0m0-.4h0m.1 .4h0m.4-.1h0m8.4 1.6h0m.2-.6h0m.2 .1h0m0 1h0m.1-2.1h0m.2 .7h0m0-.6h0m.1 1.3h0m.2 .4h0m0-.9h0m.2 .1h0m.2 .9h0m.1-1.6h0m.1 1.7h0m.1-1.2h0m0-.7h0m.2 1.3h0m0-1.6h0m.1 .6h0m.2 0h0m0 1.3h0m0-2.2h0m0 1.9h0m.1-.6h0m.5 1.1h0m.2-2.1h0m.2-.5h0m.1 2.1h0m0-.3h0m.4-1h0m.1 1.2h0m.6-.4h0m.3-1h0m.3 .2h0m.2 1.3h0m.3-1.8h0m0 1.5h0m.2-.5h0m.3-.3h0m.2-.1h0m.1 .5h0m.1-1.3h0m.3 .3h0m.1 .2h0m.4-.4h0m.2 .2h0m.2 2.6h0m.2-2.1h0m.6-.4h0m.4 1.1h0m.1-.8h0m0-.2h0m.1 2.3h0m.1-1.3h0m0 .9h0m.1-.3h0m.2-.2h0m.2 .7h0m0-1h0m.5 .2h0m0-1.8h0m.2 2.2h0m.6-2.2h0m.2 2.6h0m.1-.4h0m.4-1.4h0m0-.8h0m0 .4h0m0 1.4h0m.1-1.4h0m0-.4h0m0 1.4h0m.1-1.1h0m.3 .5h0m.2 .4h0m0 .3h0m.1 .2h0m0-1.5h0m.1 1.2h0m0-.5h0m1.6 .4h0m.4 1.1h0m.5-2.2h0m.7 .3h0m.2 2.2h0m.1-.2h0m.2-.2h0m.1-2.3h0m.1 .2h0m1.3 1.4h0m.6-.1h0m.3-.8h0m.2 1.9h0m.3-.1h0m.1 .2h0m0-2.7h0m.3 .7h0m0 0h0m.2 .2h0m.1 .4h0m1 .4h0m0-1.6h0m.2 1.6h0m.3-1h0m0-.8h0m0 1.2h0m.6-.3h0m0-.5h0m.2 1.1h0m.1-.1h0m.6-.1h0m0-.9h0m.3 .3h0m.1 .8h0m.1 1.3h0m0-2.5h0m.1 1h0m0-.5h0m.6 1.9h0m.1-2.2h0m.2 2.4h0m0-1.8h0m.5 1.2h0m.1-1.2h0m.2-.9h0m.4 .1h0m0 1.8h0m.4-1.9h0m0 .4h0m.1 .4h0m.4 1.6h0m.2-.1h0m.3-1.1h0m.2 .6h0m.7-.5h0m.5-.3h0m0 .3h0m0-1h0m.2 0h0m.1 .9h0m.1-.2h0m.1 .6h0m.3-1.1h0m.5 .9h0m.3 .3h0m.3-.7h0m6.5 1.1h0m.5-.1h0m.2-.4h0m.4 .5h0m-37.8 3.2h0m.2 .1h0m1.8-1.7h0m0 .7h0m.6-.6h0m.3 1.7h0m.1-.7h0m.1 .5h0m.1-.5h0m.3 .9h0m.6-1.3h0m.1 .1h0m.1-1.2h0m.1 2.3h0m.5-1.8h0m.2 1h0m.1 .4h0m.1-.4h0m.1-.5h0m.3-.8h0m0-.4h0m.1 .3h0m.4 1.1h0m.9-1.1h0m.4-.5h0m.6 2.8h0m.1 0h0m1.5-.2h0m1.5-2.6h0m1.2 1.5h0m.1 1.4h0m.3-1.5h0m.3-.2h0m.3 1.5h0m.1-2.2h0m2.3 .2h0m.6 .5h0m0-.9h0m.1 .2h0m.5-.3h0m2.2 2.2h0m.1-.1h0m.3-2.4h0m.1 0h0m.6 2.9h0m.5-.5h0m1.9-1.5h0m.1 1.2h0m.1-1h0m.1-.8h0m.6 1.1h0m.4 .2h0m.1-1.4h0m1.1 0h0m.1 1h0m.4-1.1h0m.2 .6h0m.3 .1h0m1.2 1.1h0m1.4 .5h0m.5 0h0m.8 .1h0m7-1h0m0-.7h0m.1-.1h0m.9-.7h0m-43.7 4.1h0m.4 .7h0m.2 0h0m.2-.5h0m0-.2h0m.1 .2h0m.1-.2h0m0 .6h0m.3-.7h0m.1 .3h0m.1-.6h0m.2 1.1h0m.3-1.1h0m1.4 2h0m.1 0h0m.4-.5h0m0 .4h0m.3 0h0m1 0h0m.3-.4h0m.9-.4h0m.1 0h0m0-1.7h0m2.1 1.5h0m.5 .3h0m.1-.1h0m.5 1.1h0m.1-1h0m0-1.8h0m.1 1.3h0m0 1.1h0m0-.3h0m.3-1.9h0m.1 .1h0m.1 2.5h0m.3-.7h0m.6-1.7h0m.2 .5h0m.4 1.9h0m.7-1.8h0m0 1.8h0m.2-1.8h0m.3-.8h0m.4 1.7h0m.5-.2h0m.3 1.1h0m.4-.9h0m.1-1.8h0m.2-.1h0m.4 .1h0m.3 .5h0m2.1 2.1h0m.1-2h0m.9 0h0m.2 .9h0m.5-.6h0m0-.4h0m.1 1.4h0m.1-1.3h0m.2-.3h0m.1-.4h0m.3 .9h0m.1-.1h0m.3 0h0m.3-.1h0m.4 2h0m.1-.3h0m0 .4h0m.1-.2h0m0-2.1h0m0 1.6h0m.2-.6h0m.2-.2h0m.2-.6h0m.4 .7h0m0 1.3h0m.2-1.4h0m.3 .5h0m0 .8h0m0-.7h0m.6 .1h0m1.1-1.9h0m.2-.1h0m.2 1.1h0m.6-1h0m.7 1.3h0m.2 1.1h0m0-1.9h0m.4 .8h0m.1 .6h0m.1-1.2h0m.4-.7h0m.2 2.3h0m.3-2.1h0m0 1h0m.3 1.2h0m0-1.4h0m0 .8h0m.1-1.6h0m.1 1.1h0m.9 1.1h0m.2-1.1h0m.2 .5h0m.2-.5h0m.1-.1h0m1.3-.7h0m0 .9h0m.8-1h0m.3 1.3h0m0-1.4h0m1.1 .6h0m.9 .6h0m0-1h0m.2 .3h0m1.8-.2h0m.3 .4h0m.5 .1h0m.3-.5h0m.6 .6h0m.1-.5h0m1 .7h0m0-.4h0m-38.4 3.8h0m.5-.3h0m.9 1.1h0m1.3-2.3h0m0 2.4h0m.2-2.8h0m1.1 .7h0m.4 .1h0m1-.8h0m0 .3h0m.1-.3h0m.1 1.3h0m.3-.9h0m.3 .8h0m.4 .1h0m0-.3h0m0 1.9h0m.4-2.1h0m0 .5h0m.2 1.1h0m0-2h0m.1 .2h0m0 .9h0m.1 1.2h0m.1-1.7h0m.3-.8h0m0 2.6h0m0-2.5h0m.3-.2h0m.1-.1h0m0 .1h0m.2 0h0m.3 2.7h0m.1-2.5h0m0-.4h0m.2 1.8h0m0 .3h0m.1-1.7h0m0-.3h0m.1 1.3h0m2 1.1h0m.1-1.5h0m.1 1h0m.1 .2h0m.1-1.8h0m.5 1.9h0m.3 .1h0m.5-2.3h0m0 .6h0m1 .1h0m.2 .8h0m0 .3h0m0 .6h0m.8-.6h0m.7 .1h0m.3-.4h0m.2 .6h0m.2 .3h0m.5-2h0m.2 .2h0m.2 .6h0m.3 .6h0m.1 .8h0m0-1.5h0m.7 1.2h0m.1-.6h0m.1-1.2h0m0-.3h0m.1 2.5h0m.1-1.3h0m.1-1.1h0m.1 .9h0m.5 0h0m.2 .2h0m.3-.1h0m.8-1.4h0m.2 3h0m0-.9h0m.2-1.7h0m0 .7h0m.1 .4h0m0-1.3h0m.2 .5h0m.8-.7h0m.2 1h0m.7-.8h0m.2 2.4h0m.6-.5h0m.1-.9h0m.2 .5h0m1.1 .9h0m.6-2.5h0m.2 .2h0m.6 .2h0m.3 2.1h0m.1 .2h0m0-1h0m.3-1.1h0m.5 1.8h0m.1-.3h0m.8-1h0m.2-.5h0m.2 .8h0m1.6-.5h0m.3-.5h0m.5 2.1h0m0-2.6h0m.1 0h0m.2 2.3h0m.2-1.1h0m0 1.4h0m.1-1.2h0m-31.3 1.7h0m1 1.1h0m.3-1h0m.2 1h0m.1-.2h0m.2 1.1h0m.2-.4h0m.2-.3h0m.9 1h0m.1 .3h0m.2-.5h0m0 .6h0m3.6-2.3h0m.1-.5h0m0 .7h0m.5-.2h0m.3-.3h0m.5 2.3h0m3.3-.9h0m.1-.7h0m.2-.5h0m.1 .3h0m.4 1.5h0m.3-2.1h0m.2 2.3h0m.5 .1h0m.5-1.7h0m.2 .9h0m0-.1h0m.2 .7h0m.6-.3h0m.4-.1h0m.8-1.5h0m1.4-.1h0m.9 1.9h0m0 .4h0m.7-.7h0m.9-1.2h0m2.6-.6h0m1.5 .2h0m.1 .5h0m.1-.7h0m.2 .6h0m1.8 .1h0m.2-.1h0m1.1 .9h0m.2-.2h0m0 .1h0m.3-.3h0m0 .2h0m.2-1.1h0m.1 .2h0m0 .5h0m.1 .4h0m.5-.4h0m.8 0h0m.4-.4h0m1.1-.3h0m-28.4 3.1h0m9.8 1.2h0m.1-.3h0m.3 .8h0m.1 0h0m4.5-1.7h0m.3 .2h0m4 .6h0m0 .7h0m.4-.6h0m0-.5h0m2.3 .7h0m1.2-1.2h0m.2 .9h0m-3.9 2.8h0m.3 0h0m.1-.9h0m.9 1.4h0m.4 .4h0m.3-1.2h0"/>
<rect x="141.8" y="482.8" width="51" height="51" fill="none" stroke="#2a2a2a" stroke-width="0.95"/>
<path d="M141.8 482.8h-1.4M141.8 533.8v1.4M141.8 495.6h-1.4M154.6 533.8v1.4M141.8 508.3h-1.4M167.3 533.8v1.4M141.8 521h-1.4M180.1 533.8v1.4M141.8 533.8h-1.4M192.8 533.8v1.4M141.8 482.8h-0.8M141.8 533.8v0.8M141.8 486h-0.8M145 533.8v0.8M141.8 489.2h-0.8M148.2 533.8v0.8M141.8 492.4h-0.8M151.4 533.8v0.8M141.8 495.6h-0.8M154.6 533.8v0.8M141.8 498.7h-0.8M157.7 533.8v0.8M141.8 501.9h-0.8M160.9 533.8v0.8M141.8 505.1h-0.8M164.1 533.8v0.8M141.8 508.3h-0.8M167.3 533.8v0.8M141.8 511.5h-0.8M170.5 533.8v0.8M141.8 514.7h-0.8M173.7 533.8v0.8M141.8 517.9h-0.8M176.9 533.8v0.8M141.8 521h-0.8M180.1 533.8v0.8M141.8 524.2h-0.8M183.2 533.8v0.8M141.8 527.4h-0.8M186.4 533.8v0.8M141.8 530.6h-0.8M189.6 533.8v0.8M141.8 533.8h-0.8M192.8 533.8v0.8" stroke="#222" stroke-width="0.5" fill="none"/>
<text x="140" y="484.6" font-size="4.9" font-weight="normal" text-anchor="end" fill="#333">60</text>
<text x="140" y="497.3" font-size="4.9" font-weight="normal" text-anchor="end" fill="#333">30</text>
<text x="140" y="510.1" font-size="4.9" font-weight="normal" text-anchor="end" fill="#333">0</text>
<text x="140" y="522.8" font-size="4.9" font-weight="normal" text-anchor="end" fill="#333">-30</text>
<text x="140" y="535.6" font-size="4.9" font-weight="normal" text-anchor="end" fill="#333">-60</text>
<text x="141.8" y="541.2" font-size="4.9" font-weight="normal" text-anchor="middle" fill="#333">-60</text>
<text x="154.6" y="541.2" font-size="4.9" font-weight="normal" text-anchor="middle" fill="#333">-30</text>
<text x="167.3" y="541.2" font-size="4.9" font-weight="normal" text-anchor="middle" fill="#333">0</text>
<text x="180.1" y="541.2" font-size="4.9" font-weight="normal" text-anchor="middle" fill="#333">30</text>
<text x="192.8" y="541.2" font-size="4.9" font-weight="normal" text-anchor="middle" fill="#333">60</text>
<text x="166.3" y="477.8" font-size="8.7" font-weight="bold" text-anchor="middle" >LP</text>
<path stroke="#000" stroke-width="1.1" stroke-linecap="round" fill="none" d="M228.5 487.5h0m.4-.2h0m.4 .2h0m0-.3h0m.1-.1h0m1.7-.1h0m.2 .2h0m.4-.3h0m1.7 .3h0m-10.2 2.9h0m.8-.1h0m.7-1.2h0m0 1h0m0-.4h0m.3 .1h0m.2-.5h0m.2-.1h0m.1-1h0m.3 .7h0m.1 .4h0m.5 .1h0m.1 .6h0m.1 .3h0m1.2-1.9h0m.1 2.1h0m.4-1.1h0m.1 .1h0m.2 1h0m.1-2.5h0m.1 .9h0m.3-.8h0m.1 .4h0m.1 .6h0m.7 .1h0m1-1h0m.3 .4h0m.6 1.2h0m.2-1.2h0m0 1.1h0m.2-.7h0m.1 1h0m.1-1.3h0m.3-.1h0m.1 0h0m.5-.5h0m.4 .8h0m.3-.3h0m0 1.8h0m0-1.2h0m.4-.7h0m0 .3h0m.1 1.3h0m0-1.2h0m.1 1.4h0m0 .4h0m.2-2.6h0m.2 1.1h0m.1 .2h0m0 1.4h0m0-2.2h0m0 .2h0m.1 0h0m0 .4h0m.1 0h0m.2-.2h0m0 1.5h0m.5 .3h0m.1-2.6h0m0 1.4h0m.4 .8h0m.4 0h0m.3-.7h0m.2 .9h0m.4-1.4h0m.5 .3h0m.2 .9h0m.1 .3h0m0-1.3h0m.8 1.1h0m-20.2 2.3h0m1.8-.4h0m.2-.5h0m.3 .2h0m.3-1.1h0m.2 .8h0m0 .5h0m.1-1.1h0m.2 .2h0m.1-.3h0m.2 .2h0m.4 .7h0m0-.9h0m.4 .5h0m0 .6h0m.1-1.4h0m0 1.5h0m0-.7h0m.1-.3h0m.9-.3h0m3.7-.1h0m1.7 2.4h0m.6 0h0m.1 0h0m0-.7h0m.3 .5h0m.2-.4h0m.3 .4h0m1-.4h0m.2-1.1h0m.1 1.6h0m0-.2h0m.3 .8h0m.2-2.8h0m0 2.1h0m0-.2h0m.1-1.2h0m.2 .8h0m.3-1.7h0m.1 1.4h0m.1-.6h0m.3 .3h0m.1-.5h0m.2 .8h0m0 0h0m0-.8h0m.1 1h0m0-.8h0m.2 .3h0m.1 1.2h0m0-.5h0m.1-.3h0m.1-1.3h0m.1 .3h0m0 1.5h0m.1-1h0m.1-.6h0m.2 .3h0m.5 .2h0m1.1 2.1h0m.5-.1h0m.1-1.1h0m0 0h0m.3-1.1h0m0 1.9h0m.1-2.4h0m.4 1.2h0m.1-.8h0m.3 .8h0m.4 .5h0m.6 0h0m.1 .8h0m.2-.1h0m.5-.7h0m0 .5h0m.5-.9h0m.1 .6h0m.1-.5h0m.3 .9h0m-26.4 3.5h0m.5-1.1h0m.5 .4h0m.2-.5h0m.1 .5h0m.2-.1h0m0 .2h0m.1 .2h0m.1-.7h0m.5-.1h0m.5-.8h0m.1-.1h0m.5 0h0m0 .5h0m.2-.7h0m.1 .7h0m.1-.7h0m0 .8h0m.7-1.2h0m.3-.2h0m3.4 2.4h0m.3 .4h0m1-.5h0m0-1h0m.4 0h0m.3 .2h0m.1-.7h0m0 .2h0m.3 .7h0m.1 .1h0m0-.3h0m.1-.4h0m.1 .1h0m0 .4h0m.1 .3h0m.1-.3h0m.3 1.1h0m1.1-.9h0m.4 .3h0m.1 .6h0m.1-1.1h0m.1-.4h0m.1-.9h0m.1 2.2h0m.1-1.5h0m0 .5h0m.1 .6h0m.1-.8h0m.1 .9h0m.3 .4h0m.1 .1h0m.3-1.9h0m0-.6h0m.4-.3h0m.2 2.8h0m.1-2.8h0m.1 1.3h0m.1 .9h0m.1-1h0m.1 1.2h0m0-.8h0m.1-1.1h0m.3 .9h0m0 .9h0m.2-1h0m.1 .9h0m.2-1.5h0m.3 1h0m.4 .6h0m.3-1.6h0m.5-.7h0m0 1.4h0m.3-.1h0m0 1.6h0m.3-2.5h0m.3 0h0m.1 2h0m.1 .3h0m.7 0h0m.3-.9h0m.2-.3h0m0 1.5h0m.4-1.9h0m.6-.4h0m.3 1.2h0m.1-.7h0m.1-.4h0m0 .7h0m.3-1h0m0 .7h0m.2-.4h0m.2-.7h0m0 1.8h0m.1-1.7h0m.1 2.2h0m.1-1.5h0m0 2.1h0m.1-2.5h0m0 0h0m.1-.2h0m.1 .4h0m0 .5h0m.1-.7h0m0-.4h0m.2 1.5h0m0-.4h0m1.7 .6h0m.4-1.6h0m.3 2.3h0m0-.7h0m0-.4h0m.2 0h0m.4 .8h0m.1-1.9h0m.1 2.6h0m.3-.2h0m-29.8 2.9h0m.3 .2h0m1.5-2h0m.3 .5h0m.1 .1h0m.1 .2h0m.4 .2h0m.1-1.6h0m0 0h0m.1 .5h0m.7-.5h0m.6 .2h0m5.3 2.5h0m.1-2h0m.4 0h0m.3 .2h0m.4-.4h0m.4 .3h0m.3-1h0m.3 .8h0m.3 2h0m.2-1.9h0m.2 .2h0m2.3-.9h0m.2 1.1h0m.2-.8h0m0 1.5h0m0 .6h0m.1-1.9h0m.1 1.2h0m.1-.6h0m0 1.5h0m.1 .1h0m0-1.6h0m.1-.7h0m.2-.4h0m0 .4h0m.3 1.1h0m0-.7h0m0-.2h0m.1 1.8h0m.2-2.2h0m0-.1h0m.1 2.4h0m.5-2.2h0m.1 .2h0m.1 .9h0m0-1.5h0m.2 .2h0m.1 0h0m.2-.2h0m.4 .3h0m.2-.3h0m.4 .3h0m.1 .5h0m.2 .1h0m.2-.6h0m.1 1.3h0m.1-.4h0m0-.8h0m.5 .2h0m.1 .6h0m.1 1.1h0m.2-2.2h0m.1 .1h0m0 1.5h0m.1 .3h0m0 .1h0m0-.6h0m.7-1.3h0m.6 .6h0m.1 .1h0m0-.8h0m.2 .5h0m.3-.5h0m0 .9h0m.4-.2h0m.6-.4h0m.4-.4h0m.2 .5h0m.1 1.8h0m.5-1.2h0m.2-1.2h0m.2 .7h0m.4-.4h0m.4 .4h0m0-.4h0m.3 1.3h0m0-.9h0m0 .3h0m.3-.2h0m.1-.5h0m.1-.2h0m.1 1.4h0m0-.4h0m.3-1.1h0m1.4 .7h0m.4-.2h0m.1-.3h0m.6 .6h0m.2 .1h0m.3 .3h0m1.1 .5h0m.5 .3h0m-32.7 3.7h0m.4-.2h0m.3-.6h0m0-.3h0m1.5-1.3h0m6.3 .6h0m.5 .8h0m.3 .3h0m.9-.1h0m.1-1.6h0m.2-.2h0m.3 .9h0m.4 .3h0m.1-1.2h0m.5 2.8h0m0-2.3h0m1.2 0h0m.5-.4h0m.3 2.4h0m.1 0h0m.7 0h0m.5-.5h0m.1 .7h0m.1-1.8h0m.3 1.2h0m0-1.4h0m0 1.8h0m.1-1.1h0m.1-.3h0m0 1.4h0m.1-.5h0m.2 .1h0m.1-1.5h0m.2 1.7h0m0-.2h0m.7 .2h0m1.3-.4h0m0 .7h0m.3 0h0m.3-.6h0m.2 .5h0m1.7 .1h0m.1-.4h0m.2-.2h0m0-1.1h0m.1 1h0m0-.1h0m0-.1h0m.1 0h0m0 1.1h0m0-1.4h0m.4-.3h0m1.3 1.7h0m.4-.5h0m.3 .1h0m.3-.1h0m.3-.4h0m0-2h0m.1 .2h0m.3 .8h0m.4 .9h0m0-1h0m.1 .3h0m.1 0h0m.2 .1h0m.1 .2h0m.2 .2h0m.1-.3h0m.1-.2h0m.1 0h0m1.2-.9h0m1.4 .2h0m.1 1.7h0m0-1.1h0m0-.3h0m.8 .9h0m.1-.2h0m.4 .5h0m.4-.2h0m.1-.9h0m0 .9h0m.3 .6h0m.1-.6h0m.2 .9h0m.5 .1h0m0-.1h0m.4-2.1h0m.1 1.7h0m0 .5h0m.1-.7h0m.2-1.1h0m.1 1.4h0m.5-1.6h0m0 1.1h0m.2-.9h0m.2 .5h0m.6 1h0m.6 .1h0m.1 .4h0m.5-.4h0m.9 0h0m.1 .4h0m.2-.2h0m.4 .1h0m.1 0h0m.3 .1h0m.1-.1h0m.4 0h0m.6-.5h0m-41.4 3.5h0m1.1 0h0m.1-.1h0m0-1.1h0m0 1.3h0m.1-2.2h0m0 1.6h0m.1 .1h0m.3-.2h0m.1-.3h0m.1-.8h0m0-.2h0m.1 .6h0m0 0h0m.1-.5h0m.1 .1h0m.1 .2h0m.2-.7h0m.1-.6h0m5.9 2.2h0m.4-.1h0m.6-.2h0m.6 .7h0m.2-1.8h0m.4 1.6h0m.3-.3h0m.1-1.4h0m.2-.2h0m.1 1.5h0m.2-.6h0m2.4-.7h0m0-.3h0m.6 .5h0m.4 0h0m.2 .5h0m.5-.2h0m0-1h0m.3-.2h0m.1 1.2h0m.1-.6h0m.2 2h0m.1 .3h0m.1-.8h0m.1 .8h0m0-2.4h0m.5 1.8h0m0-.3h0m.1-1.2h0m.3 1.5h0m0-.4h0m.1 .2h0m1.2-2.1h0m.3 2h0m.4 .6h0m.1-2h0m.9 .8h0m0-.1h0m.1-.4h0m.5 .9h0m0-.8h0m.1-.1h0m0-.8h0m.3 .1h0m.1 1h0m.5-.9h0m0 .2h0m.2-.5h0m.1 .2h0m.4 1.3h0m.1-.8h0m0-.4h0m.1 .1h0m.3 .7h0m.2-1h0m0 .4h0m.2 .3h0m0-.8h0m.2 1h0m0-.9h0m.3 .6h0m0 1h0m.3 .4h0m.3-.2h0m.1 .6h0m.2-2.4h0m.1 2.5h0m.8 .3h0m1-2.7h0m.2 .3h0m.1 1.4h0m.4 .2h0m.5-.3h0m0-.5h0m.1 .1h0m.1-.4h0m0 .5h0m.2 .9h0m.2-1.1h0m.1 .6h0m1.2-1.9h0m.4 2.3h0m.2 .3h0m.8-.3h0m.1-.4h0m0 .6h0m.6-.4h0m.1 .8h0m0-.7h0m.4-.1h0m.5-1.9h0m.2 1h0m.2-.9h0m0 .3h0m0 1.8h0m.3-.9h0m.2-1.2h0m.1-.3h0m0 1.6h0m.1-.8h0m.1-.3h0m.4 0h0m.2 .5h0m.1 0h0m.1-1.1h0m.1 2.4h0m.2-1.8h0m.1 .9h0m0-.1h0m.1-.8h0m.1-.4h0m.1 .2h0m0 .3h0m.2 1.2h0m.2-1.7h0m0 1.7h0m0-.3h0m.1 1.3h0m.2-1.9h0m.1-.3h0m0 .5h0m.2-1.1h0m.3 .3h0m.3 .1h0m.2 .1h0m.2-.5h0m.3 0h0m.6 0h0m.2 .6h0m.2-.6h0m.1 .9h0m.1-.7h0m.1-.1h0m.1 .3h0m0 0h0m0-.2h0m.2 .5h0m0 0h0m.1-.1h0m0 .3h0m.4-.7h0m.3 .5h0m.5-.1h0m.2 .8h0m.1-.8h0m0 1h0m0-1.3h0m.1 .5h0m0 .8h0m.1-1.3h0m.4 .9h0m0-.5h0m0 .1h0m.1 .5h0m.1 .3h0m.1-.6h0m0 .2h0m.2 .7h0m0-.7h0m.1-.4h0m.3 .9h0m.1 .8h0m0-.6h0m.1 .5h0m.1-1.6h0m0 1.6h0m.1-.2h0m0-.4h0m0 .6h0m.1 .1h0m.1-.1h0m.4 .1h0m0-.2h0m-45.8 3h0m.1 .5h0m.1-.4h0m.4 0h0m.4-.3h0m0-.7h0m.1-.4h0m0 .8h0m.7-1.5h0m.1 .2h0m.3 0h0m.1-.1h0m.3-.4h0m.1 .2h0m.2-.3h0m.1 .2h0m7.8 2.6h0m.6-.3h0m0-.1h0m.1 0h0m.7-.3h0m.5-.1h0m.2-1.2h0m.4 .1h0m.2 1.5h0m.1-.2h0m.1-1.3h0m.1 1.3h0m.2-1.8h0m.7 2.2h0m1.3-.4h0m0-1.1h0m1.1 1h0m1.5-1.8h0m.4 2.2h0m.3 .4h0m2-.9h0m.2-.5h0m0-1.3h0m.9 2.2h0m.2-.9h0m.1 .6h0m.3-.2h0m.6 .6h0m.4-1.8h0m.3 .5h0m.2 .8h0m.1-.4h0m0 0h0m.8 .9h0m.2-1.6h0m.5-.5h0m.2 1.6h0m.3-.9h0m.2-1.1h0m.2 .4h0m.2 .8h0m.1-1h0m2.6 2.4h0m.2-.5h0m.2-.3h0m.3-.6h0m.3-.8h0m.3 .7h0m0 0h0m.9-.7h0m1.4 .2h0m.3 .2h0m.7 2.2h0m.7-1h0m.3 .6h0m.4-.5h0m.1-.5h0m.2 1.2h0m.1-2.6h0m0 1.2h0m1.3 1.5h0m.3-.1h0m0-1.9h0m.3 .6h0m.1 1.3h0m.1-1.1h0m.3-1.4h0m.3 .1h0m5.8-.3h0m.3 .1h0m0 0h0m.3-.1h0m.1 1.8h0m0 .1h0m.2 .3h0m0-1h0m0 .2h0m0-.1h0m.2 .4h0m.1 0h0m.2 .8h0m0-.7h0m.1-1.8h0m0 .7h0m.1 0h0m0 1.4h0m0 .6h0m.1-.9h0m.1-.5h0m0 .6h0m.1 .7h0m0-2h0m.1 1.3h0m.1 .9h0m.1-.7h0m0 .6h0m.1-.6h0m.1 .6h0m-47.9 .7h0m.1 .2h0m.1 0h0m.3-.5h0m.1 .4h0m0-.6h0m9.2 1.8h0m.4-1.3h0m0 .6h0m.1 1.1h0m0-1.1h0m.5 .1h0m0-.7h0m.1 1.8h0m.3-.2h0m.3-.6h0m0-1.1h0m.1 2.5h0m0-1.2h0m0 .9h0m.1-1.7h0m.6 0h0m.2 1.7h0m.2-.4h0m.3-.1h0m.5-.7h0m.3-.7h0m2.2 1.9h0m.1 .3h0m.1-1h0m.4-.3h0m.2 .2h0m.9-.6h0m.6 1.8h0m.1-1.3h0m0 1.2h0m.1-.2h0m.1-.5h0m.2 .7h0m0-1.7h0m.9 .1h0m.4-.5h0m.2-.4h0m.2-.2h0m.4 .2h0m.1 2.5h0m.2-2.8h0m.2 .4h0m.4 1.5h0m.2 .9h0m.2-1.3h0m.1 .2h0m.2-1h0m.1 1.8h0m.3-.3h0m.1-2.3h0m.1 1.8h0m.4-.3h0m.3 .9h0m.1-2.1h0m.3 .5h0m.4 0h0m.1-.3h0m1.2 2.2h0m.5 .1h0m.3 0h0m.4-.4h0m.4-.7h0m.1 .5h0m.5 .3h0m.2-.2h0m0 .5h0m.4-.4h0m.2-.3h0m.4-1h0m4.9-.9h0m.6 .4h0m.5 .3h0m.1-.4h0m.6 2.5h0m.7-.1h0m.3-.5h0m.2-.5h0m.3-.4h0m.4 1.4h0m.8-.1h0m0-.1h0m.2-2h0m.2-.1h0m0 0h0m.1 .5h0m6.7 .1h0m.3-.8h0m.1 .2h0m.1 1.5h0m0 .4h0m0-.1h0m.2 .2h0m0-.7h0m.1-.8h0m.1-.6h0m0 1.9h0m.1-2h0m0 1.2h0m0-.2h0m.1 .4h0m0-1.7h0m0 1.5h0m.1 .8h0m0-2.2h0m0 .4h0m.2 2.3h0m0-1.8h0m0-1.1h0m.1 2.7h0m0-1.4h0m0 1.4h0m.1-2.1h0m0 1.4h0m.1-.9h0m.1 1h0m0-1.5h0m.6-.3h0m-37.2 3.2h0m.1 2.2h0m.1-1.4h0m0 .9h0m0-1.8h0m.3 2.4h0m.1-2.5h0m.5 .2h0m.1 .1h0m.6 .4h0m.5 2h0m.9-2.5h0m.2 .9h0m1.5-1.1h0m.1 .3h0m.3 1.3h0m0-.6h0m.5-.5h0m1.9 1.4h0m.1-1.8h0m0 2.1h0m0-2h0m.2-.3h0m.2 1.8h0m0-1.7h0m.1-.1h0m0 .5h0m.4 .8h0m.7 1.3h0m0 0h0m.9-2.1h0m.2 2.2h0m.6-.3h0m.3-1.1h0m.3-.1h0m.2-.7h0m.2 .4h0m.7 1.9h0m.6-.2h0m.1-.3h0m.3 .5h0m.2-.1h0m.2 .1h0m.1-1.6h0m0 .7h0m.2 .1h0m0-.8h0m.1 .8h0m.1-.3h0m.1-.6h0m.6 .1h0m0 .1h0m.3-.8h0m.1-.4h0m0 .8h0m.5-1h0m.3 2.5h0m.5-.5h0m.4 .2h0m.9-.7h0m.6 .1h0m.8-.1h0m.2 .6h0m.3 .4h0m.1-.9h0m0-1.7h0m.2 1.1h0m.3-.1h0m.3 .6h0m.2 .4h0m2.1-.6h0m1 .7h0m.3-.5h0m.2-.1h0m.3 .3h0m.3 0h0m.5 .3h0m.1-.5h0m.1-.9h0m.1 1.2h0m0-1.6h0m.3 1.6h0m.2 .3h0m.3-2h0m0 .5h0m.1-.6h0m.6 .2h0m4.9 2.6h0m1.4-.5h0m.4-.2h0m.5-.6h0m0 .4h0m.2 .1h0m0 .7h0m0-.3h0m0-1.3h0m.1-1.2h0m0 1.2h0m.1 .7h0m0-1.5h0m.1-.3h0m0 .7h0m.1 .6h0m0 .1h0m0 .3h0m0-.6h0m.2 .7h0m.2-1.2h0m-42.9 3.3h0m.2-.1h0m.1 0h0m.7-.3h0m.5 1.2h0m0 .3h0m.5 .8h0m0-.7h0m.1-.5h0m2.9 1.2h0m0-.3h0m.9-2.6h0m.5 .3h0m0 .7h0m.1 .5h0m0-.1h0m.3-.3h0m0 .4h0m.2-1h0m.1 0h0m.1 .8h0m1.5-1.3h0m3.8 2.3h0m.1-.9h0m1.8-1.3h0m.1 .8h0m.6-.9h0m.6 .3h0m.7-.2h0m.2 1.8h0m.1-.4h0m0-.6h0m.4 0h0m.1-.7h0m.2 .1h0m.1 2h0m0-1.4h0m.1 1.9h0m0-.1h0m.1-1h0m.1 .5h0m.1-1.1h0m.2 1.2h0m0-1.6h0m.5 1.9h0m.3-.4h0m0 .5h0m.3 .2h0m.1 .1h0m.7-2.6h0m.1-.4h0m.6 1.8h0m.3 1.2h0m.1-.2h0m.1 0h0m.2-.4h0m.2 .5h0m0-.5h0m.1 .3h0m.5-2.2h0m0 1.7h0m.1-.7h0m.1 0h0m0-1.3h0m1.7 .6h0m.7 .2h0m.4 1.6h0m.1 .1h0m.1-.3h0m0-.2h0m.1 .2h0m.3-1.2h0m0 .5h0m.2 1.2h0m.2-1h0m1.8-.9h0m.3 .6h0m.2-.6h0m.1 1.5h0m.1-1.4h0m0 1h0m.2-.8h0m.3-.4h0m.3 1.9h0m2.2 .1h0m.5-1.2h0m.3 .2h0m1.8-1.2h0m.5 .2h0m.1-.1h0m.3-.4h0m.1 1.4h0m0-1.3h0m.6 .6h0m.1-.5h0m.2-.2h0m.2 .2h0m0 .4h0m.1 .4h0m0-.7h0m.1 1h0m.1 .2h0m.3-.8h0m.2 .6h0m0-1.2h0m.1-.1h0m0 .7h0m0-.3h0m.1 1.4h0m.2-1.5h0m.2 .6h0m0-.9h0m.1 .9h0m0-.8h0m0 .4h0m.4 0h0m.2-.4h0m0 .2h0m0-.2h0m.3 .4h0m0-.2h0m0 .2h0m.1-.6h0m0 .5h0m.1 .2h0m.1-.8h0m0 1.1h0m0-1.1h0m.3 .8h0m.1-.5h0m0 .3h0m.1-.5h0m.2 .5h0m.6-.1h0m-39.6 3.2h0m.6-.3h0m.1 1.3h0m.1 .1h0m.1 .9h0m.1-.1h0m0-1.3h0m.4 1.2h0m4.6-1.5h0m.3-.6h0m.6-.3h0m0 .4h0m1.3 1.3h0m.5-1.2h0m.1-.3h0m.2 .2h0m.1 1.8h0m.2-.1h0m.2-1.4h0m.3 .7h0m1.8 .7h0m.6-.2h0m.3-.8h0m.4 1h0m.2-.9h0m1.6-.5h0m.4 .1h0m1.5-.4h0m.4-.4h0m.6 .9h0m.6 .4h0m0-.7h0m.2 .2h0m.1-1.1h0m.1 .7h0m.4 1.1h0m.4 .3h0m0-1.8h0m.1-.3h0m.1 1.9h0m0 .4h0m0-2h0m.2 .5h0m0 1.5h0m.2 0h0m.3 .5h0m.4-.2h0m0-1.1h0m.2 .4h0m.2-1.6h0m.1 1.2h0m.1 .9h0m.2 .5h0m1-2.7h0m.9-.1h0m.2 2.7h0m1.8-.2h0m.4-1h0m0 .5h0m1.1 .7h0m.6-.5h0m.1 .2h0m.2-.6h0m1.5-1.1h0m.1-.2h0m.2 .6h0m.1-.1h0m0 .5h0m.3-.7h0m.2-.2h0m.4 .1h0m.8-.1h0m.2 .8h0m.1-1.1h0m.3 .8h0m.2-.4h0m-31.1 2.6h0m.2 0h0m1.5 1.3h0m0 .6h0m.4 .1h0m.2-.8h0m5.4 .2h0m.2 .5h0m.2-1.6h0m.2 .1h0m.2 0h0m0-.7h0m.8 1.2h0m0 1.5h0m.7-.1h0m.2-.1h0m0-1.4h0m0 1.2h0m.3-2.1h0m.1 1.4h0m.3 .9h0m.1-1.1h0m0 .2h0m.1-1.4h0m0 .4h0m.1 0h0m.1 .6h0m0-.3h0m.3 .6h0m.2 .3h0m.4 .7h0m.7-1.8h0m.6 0h0m.3 0h0m.2 1.4h0m.1-1h0m.2 1.3h0m.3 .2h0m0-.1h0m.2 .2h0m.4-2.2h0m.1 .3h0m1.6 .9h0m.6 .1h0m.5 .1h0m1-.7h0m.7-.2h0m2.1 1h0m.8-1.9h0m.1 2h0m.2-.1h0m0-1.5h0m.3-.2h0m.3 .3h0m.2 1.8h0m.4-1.3h0m1.3 1h0m.5 .4h0m0-1.7h0m.7 0h0m.2 2h0m.1-1.7h0m0-.1h0m.1 .4h0m.4 0h0m.9 .4h0m.3 .6h0m-16.9 3.1h0m.4-2.1h0m.2 1.6h0m.2-1.6h0m.2 2.4h0m0-.8h0m.6 .2h0m.2 .1h0m0-2.3h0m.4 1.7h0m.1 .5h0m.4 .4h0m.1-1h0m.5-.3h0m0-.1h0m.4-1h0m.1 1h0m.1 .1h0m.3 .2h0m.1 .8h0m1-1.3h0m.1 0h0m.1-.9h0m.2-.1h0m.2 .2h0m.3 2.1h0m.2-2.4h0m0 2.4h0m0 0h0m.4-2.1h0m.2 1.2h0m0 .4h0m.1-.3h0m.1 .9h0m.2-.6h0m0 .5h0m0-1.7h0m.1 1.5h0m.1-.7h0m0-.6h0m.4-.9h0m.1 .4h0m0 1.4h0m0-.9h0m.1 .4h0m0-.5h0m.1 0h0m.2 .8h0m0 .3h0m.1-.6h0m.2-1h0m.2 .2h0m.3 .1h0m.2 .6h0m1.5 .4h0m.5-1.4h0m.2 .7h0m0 .4h0m.9 .5h0m.2-.1h0m.4-.3h0m.3-.6h0m.3-.3h0m.2 1.4h0m.5-.2h0m0 .9h0m0-.3h0m.3-2.2h0m.1 2.7h0m0-2h0m.1 .3h0m0 .5h0m.2 .1h0m.1-1.5h0m0 .2h0m.1 0h0m.1 .8h0m0-.8h0m.2 .3h0m.1 .6h0m0-.8h0m.1 .9h0m-14 1.9h0m.6 .4h0m.3 0h0m.6 .1h0m.1-.1h0m1.2 .3h0m.7 2h0m0-.6h0m.4 0h0m.5 .4h0m.2-2.6h0m.1-.2h0m.1 .7h0m.1 .1h0m0-.4h0m.1 2.5h0m1-2.4h0m.3-.4h0m2.5 1h0m.3-1h0m.2 .2h0m.3 1.2h0"/>
<rect x="204.7" y="482.8" width="51" height="51" fill="none" stroke="#2a2a2a" stroke-width="0.95"/>
<path d="M204.7 482.8h-1.4M204.7 533.8v1.4M204.7 495.6h-1.4M217.4 533.8v1.4M204.7 508.3h-1.4M230.2 533.8v1.4M204.7 521h-1.4M242.9 533.8v1.4M204.7 533.8h-1.4M255.7 533.8v1.4M204.7 482.8h-0.8M204.7 533.8v0.8M204.7 486h-0.8M207.9 533.8v0.8M204.7 489.2h-0.8M211.1 533.8v0.8M204.7 492.4h-0.8M214.3 533.8v0.8M204.7 495.6h-0.8M217.4 533.8v0.8M204.7 498.7h-0.8M220.6 533.8v0.8M204.7 501.9h-0.8M223.8 533.8v0.8M204.7 505.1h-0.8M227 533.8v0.8M204.7 508.3h-0.8M230.2 533.8v0.8M204.7 511.5h-0.8M233.4 533.8v0.8M204.7 514.7h-0.8M236.6 533.8v0.8M204.7 517.9h-0.8M239.8 533.8v0.8M204.7 521h-0.8M242.9 533.8v0.8M204.7 524.2h-0.8M246.1 533.8v0.8M204.7 527.4h-0.8M249.3 533.8v0.8M204.7 530.6h-0.8M252.5 533.8v0.8M204.7 533.8h-0.8M255.7 533.8v0.8" stroke="#222" stroke-width="0.5" fill="none"/>
<text x="202.9" y="484.6" font-size="4.9" font-weight="normal" text-anchor="end" fill="#333">60</text>
<text x="202.9" y="497.3" font-size="4.9" font-weight="normal" text-anchor="end" fill="#333">30</text>
<text x="202.9" y="510.1" font-size="4.9" font-weight="normal" text-anchor="end" fill="#333">0</text>
<text x="202.9" y="522.8" font-size="4.9" font-weight="normal" text-anchor="end" fill="#333">-30</text>
<text x="202.9" y="535.6" font-size="4.9" font-weight="normal" text-anchor="end" fill="#333">-60</text>
<text x="204.7" y="541.2" font-size="4.9" font-weight="normal" text-anchor="middle" fill="#333">-60</text>
<text x="217.4" y="541.2" font-size="4.9" font-weight="normal" text-anchor="middle" fill="#333">-30</text>
<text x="230.2" y="541.2" font-size="4.9" font-weight="normal" text-anchor="middle" fill="#333">0</text>
<text x="242.9" y="541.2" font-size="4.9" font-weight="normal" text-anchor="middle" fill="#333">30</text>
<text x="255.7" y="541.2" font-size="4.9" font-weight="normal" text-anchor="middle" fill="#333">60</text>
<text x="229.2" y="477.8" font-size="8.7" font-weight="bold" text-anchor="middle" >day 3</text>
<path stroke="#000" stroke-width="1.1" stroke-linecap="round" fill="none" d="M291.9 486.9h0m0 .5h0m.2-.2h0m.5 0h0m2.8 0h0m2.2 .1h0m.7 .1h0m-14 2.9h0m.7-.1h0m.2 .3h0m.2-.4h0m.1-.2h0m.7 .2h0m.3-.1h0m.5 .4h0m0-1.1h0m0 1h0m.5-.2h0m.1-.6h0m.1 .9h0m.1-.9h0m.2-.3h0m0-.5h0m.1 1.3h0m.1-.3h0m1.1-1.6h0m0 .5h0m.5-.3h0m.1 .5h0m.1 .2h0m.1 .6h0m.2-1.1h0m.1 0h0m.8 .3h0m0 .6h0m.1 .2h0m.1 .6h0m0-2.1h0m.1 2.3h0m.2-.7h0m.2-1.3h0m.1 .1h0m.4 .8h0m0 .6h0m0-.7h0m.6-1.5h0m.1 .2h0m.1 .4h0m.2 .3h0m.2 .2h0m.2-1h0m.1 .6h0m0 .6h0m.3-.4h0m.3 .8h0m.1-.9h0m.3 1.3h0m.1-.9h0m.1-.6h0m.1 0h0m0 1.2h0m0-.7h0m0 .9h0m0-.8h0m.1 .8h0m0-.8h0m.2 .6h0m.2 .2h0m0-1.5h0m.3 .2h0m0 .3h0m.1-.5h0m.1-.6h0m.3 .3h0m.5 .2h0m.3-.5h0m.1 .1h0m.2 2.6h0m.3-.4h0m.2-.6h0m.1 .1h0m0-1.1h0m.1-.2h0m.1 1.2h0m.1-.7h0m0-.5h0m0 0h0m.1-.3h0m0 1.8h0m.3-1.6h0m.1 2.4h0m0-.3h0m0-.2h0m.1-.4h0m.2-.9h0m.3-.4h0m.1 0h0m0 .3h0m.2 0h0m.1 1h0m.2 .6h0m-18.8 3.2h0m.5 0h0m0-.1h0m0-.2h0m.2-.1h0m.2-.5h0m0 0h0m1 0h0m0-.1h0m.1-.3h0m.3 .4h0m0-.3h0m.1 1.1h0m.1-1.8h0m0 1.4h0m.1-.1h0m.2-1.7h0m.5-.5h0m.1 1.8h0m.1-1.6h0m.1 1.7h0m.1-1h0m.2 .9h0m.1 .5h0m.2-1.1h0m0-.1h0m.8 .4h0m0-.3h0m.2 .5h0m.2-.8h0m.1-.1h0m.2 .6h0m.1-1h0m.4 0h0m.3 0h0m.1 .1h0m2.6 1.8h0m.3-.2h0m.6 .6h0m.1 .1h0m0-.4h0m.2-2.3h0m.2 1.8h0m0 1h0m0-.3h0m.1 .2h0m.1-.8h0m0-.7h0m.3 1h0m.7 .2h0m.1 .3h0m.3-.3h0m.4-.9h0m.2 .5h0m.2-.1h0m0 .5h0m0-1.7h0m0 .9h0m.2 1.2h0m.1-1.8h0m.2-.1h0m.4 1.9h0m.1-1.4h0m.1-.4h0m.3-.2h0m.2-.2h0m.2 .2h0m1 2h0m.1-1.6h0m.1 .4h0m.1 .6h0m0-1.1h0m.2 .6h0m0-.3h0m.1-.8h0m0 2h0m.4 .2h0m.1-1.4h0m.6 .6h0m0 .4h0m.2-.5h0m.4-1.1h0m.1-.8h0m.2 1h0m.7-.1h0m0-.1h0m.3-.1h0m.2-.1h0m0-.3h0m.1 1.1h0m.1 1h0m.1-1.6h0m0-.9h0m0 2.1h0m.2-.3h0m.3 .5h0m0 .1h0m.1-1h0m0 .6h0m.2 .8h0m0-2.1h0m.1 .1h0m.1-.3h0m.1 2h0m.1-.8h0m.1 1.1h0m.1-.2h0m0-.5h0m.9 .1h0m.2 .7h0m.5-1.8h0m-25.3 4.3h0m0 .2h0m.3 .1h0m.3-1.6h0m.3 .9h0m.2 .8h0m.1-.7h0m.1 .3h0m.3-1.8h0m0 1.4h0m.5 .3h0m0-.2h0m.3-1.9h0m.2 1.2h0m.1-1.3h0m.5 1.5h0m.1-1.3h0m.2-.1h0m0 .9h0m.4-.6h0m.3-.4h0m.4 .5h0m.4-.1h0m1.6 2.2h0m1-.1h0m.9 0h0m.7-.3h0m.2 0h0m.1-.5h0m.4 .1h0m0 0h0m.1 .8h0m.3-1h0m.1 .6h0m.1-1.3h0m.1 .9h0m.5-.8h0m.6-.4h0m.2 .3h0m0 .6h0m0-.1h0m.2-.8h0m.3 0h0m0 .4h0m.1-.6h0m.2-.2h0m.3 .2h0m1.1 .9h0m0 1.4h0m.2-1.4h0m.1-.7h0m0-.4h0m0 1.1h0m.1 1.2h0m.3 .4h0m.3-1h0m0-1.5h0m.1-.3h0m0 .7h0m.3 .4h0m.2 .1h0m.3-.5h0m.1-.1h0m.1-.7h0m0 1.6h0m.2-.8h0m.1-.8h0m.3 1.7h0m.3-.9h0m0 1.2h0m.1 .8h0m0 .1h0m.1-1.7h0m.1 .4h0m.2 1h0m0-1.1h0m.1-1.2h0m0 1.1h0m.1-1.2h0m0 0h0m0 .1h0m.1 .6h0m.1-.3h0m0 1.5h0m0-.8h0m0 .1h0m.1 1.2h0m.2-.7h0m.1-.6h0m.2 .2h0m0 1.3h0m0-.3h0m.1 .4h0m0-1h0m.1-.2h0m.2 1.2h0m0-.1h0m0-1h0m0 1h0m.1-.4h0m.2-.6h0m.3-.2h0m.7-1.2h0m.6 0h0m.1 2.2h0m.4 0h0m0-2h0m.4 2.3h0m.2-1.4h0m.1 1.2h0m0-2.3h0m.1 1.5h0m.2 .1h0m.5-1h0m0-1.1h0m.2 1h0m.6 .7h0m.1-1.3h0m.1-.2h0m.1 1.5h0m0-.3h0m.1-.4h0m0-.7h0m.3 .1h0m.1 .4h0m.1-.8h0m.1 2.9h0m0-.8h0m.1 .7h0m0-.6h0m.1 .1h0m0-1.7h0m.1 2.2h0m.8-.5h0m.2 .6h0m.5-2.4h0m-29.3 4.4h0m.2 .6h0m.2 .1h0m1.2-.5h0m.1 .4h0m.6-1.3h0m.2 .7h0m.4-1.3h0m.1-.5h0m.1 .4h0m.2 .4h0m.1-.7h0m.8 0h0m.9-.2h0m3.5 2.2h0m.4 .2h0m0-1h0m.3-.2h0m.1-.5h0m0 1.8h0m0-.7h0m.2-.1h0m0-.6h0m.2 .5h0m.3-.1h0m.1 1.1h0m.7-.3h0m.1-.1h0m.1-1.4h0m.1 .7h0m0 .9h0m.2-1.3h0m.2 .9h0m0-.8h0m.2-1.2h0m.1 2.4h0m1.1 .3h0m.2-.5h0m.4 0h0m.1 .8h0m0-.4h0m.1 0h0m0-.3h0m.2 .3h0m.4 .1h0m.5-2.4h0m.1 .3h0m.1 .8h0m.3-.5h0m.2-.7h0m.2 1.7h0m.2-1.8h0m0 .2h0m.3 1.6h0m.2-1.6h0m.3 1.7h0m.5 .9h0m.1-1.4h0m.2-.7h0m.1 1.1h0m0 .1h0m.1-.8h0m.5-1.1h0m.1 .5h0m.9 1.4h0m.3-.1h0m.1 0h0m0 1h0m.1-2.7h0m0 .2h0m.1 2.2h0m.1-2h0m0 1.2h0m0 .6h0m.1-.6h0m.2 .6h0m.4 .3h0m0-2.6h0m.3 .9h0m.3 1.2h0m.1-2h0m0 .1h0m.1 0h0m.2-.2h0m0 .7h0m.1 1.1h0m.1 1.1h0m0-2.5h0m.1 .5h0m0-.1h0m.2 .3h0m.1-1.1h0m.1 0h0m.2 .5h0m.1-.1h0m.1 2.3h0m.1-2.8h0m0 1.9h0m.4 .2h0m.1-.4h0m0-1.5h0m.1 1.2h0m.1 .2h0m.4-.3h0m.2 .3h0m.1-.3h0m.2 .8h0m0-1.8h0m.2 1.5h0m.1 .3h0m.2-2h0m0 .7h0m.1 1.5h0m0-2.2h0m0 1.5h0m.1 0h0m.1 .9h0m.2-.3h0m.2-1.4h0m.1 1.3h0m.1-1.6h0m0 1.3h0m.1-.2h0m.1 1.1h0m.1 .2h0m.1-2h0m0 .5h0m.1 .1h0m0 .9h0m.1 .1h0m.1-1.5h0m.1-.2h0m0-.5h0m.1 .3h0m.1 1.2h0m.3-1.6h0m.1 1.6h0m.1 .5h0m.1 .4h0m.2 .2h0m.1-2h0m0 1.8h0m0-2.5h0m.2 .5h0m.1 2h0m0-1.1h0m.2-1h0m.1 .5h0m.1 1.6h0m0-1.4h0m.1 1.3h0m.2 .2h0m.1-1h0m.1-.7h0m.1 1.1h0m0-1.6h0m.3 .3h0m0 1.7h0m.2-1.3h0m0 .8h0m.3 .5h0m.1-1.2h0m.1 1.1h0m.3-1.9h0m-32.7 5.2h0m.4 0h0m.4-.4h0m0-.4h0m.1-.2h0m.3 1h0m0-.7h0m0-.5h0m.1-.6h0m.1 0h0m.1-.1h0m.1-.6h0m.1 .9h0m.1-.7h0m.2 .2h0m0 1h0m0-1.5h0m0 .3h0m.2 .8h0m0-1.2h0m0 .6h0m.2 .1h0m0 .1h0m.1-.8h0m.4 .8h0m.2-.5h0m.5 0h0m4.4 1.7h0m.3-.3h0m.1 .5h0m.2-.4h0m.5 .1h0m.4-.7h0m.5-.9h0m.1 .5h0m.4 .9h0m.1-.3h0m.3 .8h0m1.1-.1h0m.1 .5h0m.4-.7h0m.2-1.5h0m0 .6h0m.1-1h0m0 1.7h0m.1-.3h0m0-1.1h0m.1 .9h0m.1 .8h0m1.5-1.5h0m0 1.3h0m.2-1.6h0m.2-.3h0m0 2h0m.4-.9h0m.1 .4h0m.3-1.5h0m.2 .7h0m.1 .2h0m.1-.7h0m.6 1.4h0m.1-1.6h0m.9 2.2h0m.2-1.2h0m.6 .3h0m.5-1.1h0m.2 .1h0m0 .4h0m.2 .2h0m.2 .8h0m.2 .4h0m.1 .6h0m.2 .2h0m.4-.7h0m.2-.9h0m0 1.1h0m.6-.5h0m.6-.1h0m.3-1.7h0m.3 2.7h0m.1-2.2h0m0-.4h0m.1-.1h0m0 2.5h0m0-2.2h0m0-.1h0m.1 2.7h0m.1-1.3h0m0 .5h0m0-.1h0m.1-1.5h0m.1 1.4h0m.1 .6h0m0-1.2h0m.2-.6h0m0 .5h0m.2 .3h0m.1 .9h0m0-.9h0m0-1.3h0m.4 .5h0m.1-.1h0m.2 1.2h0m.3 .1h0m.1 .6h0m.1-1.9h0m0 .9h0m.1 1.2h0m0 .1h0m0-.8h0m.7-1.5h0m.1 2.1h0m.1-.3h0m0-.3h0m.1-1.8h0m.2 2.6h0m0-.5h0m.2-2.3h0m.2 .5h0m.1 1.4h0m.1 .5h0m.5 .1h0m.2-1.4h0m.2 1.3h0m.1 .4h0m0-2.8h0m.1 1.1h0m.1 1.8h0m.1-1.3h0m.2-1.2h0m0-.2h0m.4 .2h0m.2 2.1h0m.4-2.5h0m.2 2.2h0m0-2h0m.3-.2h0m.2 1.5h0m.2 .7h0m1-1.9h0m.1 1.9h0m0-1.9h0m.6 0h0m.9 .6h0m.1-.8h0m.3-.1h0m.3 1.9h0m.3-.3h0m1 1.1h0m.1-.2h0m.9-.2h0m.8 .3h0m.2 .2h0m.4-.6h0m-38.6 2.6h0m.3-.3h0m0 .9h0m.2-.8h0m.1 .2h0m.2-.3h0m.1-.1h0m0 .4h0m0 0h0m.1-.5h0m.1 .1h0m0-.4h0m0 1.2h0m.1-2.1h0m.1 1.4h0m.1-.3h0m0 .8h0m.1-1.8h0m.2 0h0m.1 1.2h0m0-.4h0m.2-1h0m.1-.1h0m.1 .3h0m.2 .2h0m.2-.5h0m.2 .1h0m.1 .3h0m4.3 2.3h0m.1 .1h0m0-.4h0m.1 .5h0m1-.1h0m.1-1h0m.3-.3h0m.1 .5h0m.1-1.2h0m0 .9h0m.1-1.1h0m.2 .2h0m0 1h0m0-.3h0m.1-.7h0m.1 .4h0m.3-.2h0m.1 .6h0m0 1h0m.1-1.9h0m.4 1.1h0m.9-1.7h0m0 1.5h0m.1-1.1h0m.4 1h0m.3-1.1h0m.2 .8h0m.7 .7h0m.6 .3h0m.2-1.5h0m0 2.3h0m.3-2.9h0m.2 1.1h0m0 1.8h0m.2-1h0m.4-1.1h0m0 1.1h0m.1 .5h0m.2-1.4h0m.5 1.8h0m.2 0h0m.9-2.7h0m.5 2.6h0m.1-.4h0m.4-.8h0m.2 1.3h0m.1-.9h0m.1 1h0m.1-.8h0m.5-1.5h0m0 2.1h0m.3-.7h0m.5 .1h0m.2 .1h0m0-.8h0m.2 1.3h0m.5-1.7h0m.2-.2h0m.4 1.4h0m.3-.3h0m.1-.1h0m.3 .7h0m.2-.8h0m.4 .2h0m.4-.8h0m.1 .3h0m.1 .6h0m0 .4h0m.5-2.5h0m.6 1.3h0m.1-.6h0m.2 1h0m.2-.1h0m.2-.1h0m1.3-.4h0m0-.6h0m.2 1.2h0m.2 .4h0m.1-.8h0m.7-.7h0m.1-.4h0m0 .8h0m.1-.9h0m.4 .1h0m.6 .7h0m.1 .5h0m0 .4h0m.1 .8h0m0 .1h0m0-1.1h0m.1 .3h0m.7-1.4h0m0 .1h0m.2 1.1h0m0-.1h0m.2-.6h0m0-.9h0m.1-.1h0m.2 .3h0m0-.1h0m.6 1.6h0m.3-.7h0m0-.1h0m.4 .6h0m0 .2h0m0-.5h0m.3-.8h0m.1 1h0m0-1.1h0m.1 1h0m0 .2h0m.1 .5h0m.6-.7h0m.1 1.1h0m.2-1.8h0m.2 1.4h0m.2 .7h0m.3-2.7h0m.2 .3h0m.1 2h0m.1 .3h0m0-1.3h0m.1-.5h0m.2 .9h0m.3 .2h0m.1 .8h0m.3-1h0m.1 1.1h0m0-1.8h0m.1 .2h0m0 1h0m.1-1.1h0m0-.3h0m.1 1.6h0m.1-1.5h0m.2-.7h0m.1 .2h0m.1 .3h0m.1 .3h0m.2-.1h0m.1-.5h0m0-.3h0m.1 .3h0m.2 .2h0m0 .1h0m0-.2h0m0 .2h0m.1-.3h0m.1-.3h0m.1 .2h0m0-.2h0m.1 .5h0m.1-.2h0m.1-.2h0m.1-.1h0m0-.1h0m.1-.1h0m0 .5h0m.3 .8h0m0-.6h0m.1-.6h0m.2 .6h0m.3-.3h0m0 .9h0m.1-.8h0m.2 .7h0m.1-1h0m0 .6h0m.3-.2h0m.3-.3h0m.2 .2h0m.2 .1h0m.2 .5h0m0-.5h0m.1-.1h0m.2-.1h0m.2 .7h0m.1 .3h0m.2-.9h0m.1 .4h0m0 .1h0m0 .1h0m0-.6h0m.1 1.4h0m.2-.3h0m.1-.4h0m0-.6h0m0 1h0m.6-1.1h0m.8 1.8h0m-45.9 3.5h0m.2-.4h0m0 .3h0m.2 0h0m.1-.1h0m0-.2h0m.3-.1h0m.1-.4h0m.1-.3h0m.2 0h0m0-.2h0m.1 .2h0m0 1h0m0-.7h0m.1 .1h0m0-.1h0m.1-.1h0m0-.5h0m.1-.4h0m0 1h0m.1-.5h0m0-1h0m.2 .1h0m.1 1.4h0m0-.6h0m0-.2h0m.1 .1h0m.1-.2h0m0 1h0m0-.5h0m.3-.5h0m.1-.5h0m0-.1h0m.1 .2h0m.1-.5h0m0 .1h0m6.7 1.9h0m.9 .3h0m0-.2h0m.4-2h0m1.1 2.6h0m.1 .1h0m.1-2.5h0m.1-.4h0m.4 .2h0m.2 2h0m0 .1h0m.1-.5h0m.4 .4h0m.3-.2h0m.1 .8h0m.3-.5h0m.4 0h0m.5-2.1h0m.4 .5h0m.1 1h0m.4 .8h0m.4-1.3h0m.3 1.3h0m0-.4h0m.1 .9h0m0-2.7h0m.1 1.3h0m.1-.2h0m.3-1.3h0m.3 .5h0m.1 1.9h0m.2 .5h0m0-.2h0m.1-2h0m.1-.8h0m.1 .2h0m.1 2.5h0m.6-1h0m.2-1.5h0m.1 1.4h0m.1-.6h0m.1 1.4h0m.3-1.6h0m.3 1.5h0m.1-2.2h0m.3 1.7h0m0 .7h0m0-2.3h0m.1 .9h0m.2 1.8h0m.1-.8h0m0-1h0m.3-.2h0m.1 1.5h0m.4-.7h0m.3-.3h0m.1-1h0m1.4 .5h0m.2 .9h0m.2 1h0m.3-.1h0m.1-1.6h0m.3 .7h0m.1-.3h0m.2 .8h0m.5-2.1h0m.4 2.5h0m.2-1.8h0m0-.2h0m.2 .7h0m0-.9h0m.4 .7h0m.4 .8h0m.4 1h0m.1-2.8h0m.1 2.6h0m.4 0h0m1.2-.8h0m.1-1.2h0m.2 .6h0m.5-.2h0m.1-.9h0m.3 .9h0m.4 .7h0m.2-.8h0m1.2-.9h0m1.2 1.5h0m.2 .8h0m.1-2.3h0m.1 1h0m.1 1.7h0m.2-2.6h0m.3 .2h0m.3-.4h0m.2 1.4h0m.3-.8h0m0 2.1h0m.2-1h0m.1 .3h0m.3-.4h0m.2 1h0m.1-1.7h0m.2 .2h0m.5-.6h0m.3 1h0m.5-.5h0m.1-.2h0m.1-.4h0m.1-.2h0m.4 .7h0m.1-.2h0m.1 .3h0m0-1.1h0m.1 1.2h0m.2 .3h0m.2 .1h0m.5-1h0m.3 2h0m.1-1.6h0m5.1-.9h0m.4 .1h0m1.1 1.3h0m.2 1.4h0m0-1h0m.3-1.7h0m.1 2.4h0m0-1.3h0m.1-.8h0m.3 2.2h0m0-.1h0m.1 .1h0m-48.1 1.2h0m0 .1h0m.4-.2h0m0 1h0m.1-.8h0m0-.1h0m0 0h0m.1-.7h0m0 .5h0m.1 0h0m0 .6h0m.1-.4h0m0-.6h0m.1-.1h0m.1-.1h0m.2 0h0m.2 0h0m8.8 2.2h0m.5-1.7h0m.2 1.5h0m.1 .4h0m.2-1.7h0m0 0h0m.1 1h0m.1 .8h0m.3-1.1h0m.3 1.2h0m.1 .1h0m.3-.5h0m.6-1.8h0m.1-.5h0m.2 2.5h0m.1-1.7h0m0-.4h0m.1 .2h0m.2 1.7h0m.1 .1h0m0-2.3h0m0 .7h0m0 .1h0m.1 .7h0m0-1.4h0m.1 .2h0m.1 .6h0m.3 .5h0m.2-1.1h0m1.6 2.2h0m.4-2.6h0m.6 1.4h0m.2 .3h0m0 .4h0m0-1.2h0m.2 .2h0m.1 .1h0m.6-.9h0m0 1.4h0m.4 .5h0m.1 .2h0m.3 0h0m.1-.2h0m.1-1.8h0m.4 .2h0m0 2.4h0m.1-2.3h0m0 .7h0m.2 .3h0m.1-.6h0m1.3 1.4h0m.1-.4h0m1.2-2.1h0m0 .7h0m.3 .3h0m.1 .6h0m.8 1h0m.6-1.3h0m0 .4h0m.1 .5h0m.6 0h0m.1-.3h0m.2-.2h0m.3 .4h0m.5 .3h0m.4-.4h0m.1-1.2h0m.1 .1h0m.1 1.3h0m.2-1.7h0m.1-.1h0m.2 1.5h0m.2 1.1h0m.3-2.3h0m.2 2.1h0m.2-1.6h0m0-1h0m.2 1.2h0m.3-.1h0m.2 .8h0m.4 .7h0m.3-1.5h0m.4-1.1h0m0 .8h0m1.4 .4h0m.1-.2h0m.3 .1h0m.1-.2h0m.1-.7h0m0 .9h0m.2-.2h0m0-.1h0m.1-.8h0m0 .4h0m.1 1h0m.3-1h0m0 .2h0m.6-.4h0m.3 2.5h0m1.1-2.7h0m.7 .6h0m.2 2h0m.2-2.2h0m.1 1.9h0m.6 .4h0m0-.2h0m.2-.3h0m.1-.7h0m.1-1.1h0m.1 0h0m.2 2.1h0m0-1.3h0m.1 .9h0m.2-1.5h0m0 1.8h0m.2 .1h0m.2 .2h0m1.3-2.2h0m.3-.2h0m6.8 2.3h0m0-.4h0m.2-1.3h0m0 1.2h0m.1-1.3h0m.2 1.6h0m0-1.6h0m.1 1h0m0-1.6h0m0 .9h0m.1 .2h0m.1 0h0m.1 .2h0m0-.2h0m0-1.5h0m.1 1.7h0m0-.9h0m0 2.2h0m.1-1.7h0m0 .1h0m.1-1.2h0m0 1.5h0m0 1h0m0-.5h0m0-1.2h0m.1 1.4h0m0-2.3h0m0 .1h0m.1 2.2h0m0-.5h0m.1-1.3h0m.2 2.2h0m.3-2.3h0m-38.3 3.9h0m.4-.7h0m.5-.4h0m.3 .4h0m.1 2.1h0m.4-2.4h0m0 1.6h0m.2 .7h0m.2-.6h0m.2-.1h0m.1-.7h0m.2 .4h0m.3-.9h0m0 1.2h0m.3-.9h0m0 1.6h0m.1-1.2h0m.1-.3h0m.3 1.4h0m.1-1.1h0m.1-.1h0m.1 .9h0m.1-1.1h0m.2 1h0m.2 .3h0m1.1 .2h0m.4-.3h0m.1-2.1h0m0 0h0m.2 1.6h0m1 .4h0m.4 .2h0m.4-1.7h0m.9 .5h0m.1 .4h0m.1 .6h0m1.3-.3h0m.1 .3h0m.3-2.3h0m.4 1.9h0m1.2 .7h0m.1-.3h0m.3-1.1h0m.4 1.7h0m.4-2.2h0m.3 .7h0m.1-1h0m.1 .4h0m0 .3h0m.4 1.9h0m.3-2.1h0m.2 1.8h0m.5-2.1h0m2.7 .2h0m.6 0h0m1.4 .7h0m.2-.8h0m.6 1.2h0m.2 .6h0m.2-1.4h0m.4 .3h0m.1-.8h0m0 .8h0m.1 1.2h0m.4-1.8h0m.3-.2h0m.5-.2h0m.1 .5h0m0-.5h0m.8-.2h0m.7 .3h0m.4-.4h0m.6 .2h0m1.7 .4h0m.7 1.9h0m0-2.1h0m.3 2.1h0m.4-.2h0m4.5 .6h0m.8-.5h0m.4-.1h0m0 .5h0m0-.5h0m.2 .1h0m.1 .4h0m.2-1.4h0m.2 .2h0m.1 .2h0m.1 .8h0m.1-1.3h0m0 .7h0m.2-.7h0m.6 1h0m.1-.6h0m0 .7h0m.1-.9h0m0-.2h0m0 .6h0m.1-.9h0m.1 .4h0m0 0h0m.1-1.4h0m.2 2.2h0m0-2.2h0m.1 1.8h0m0-1.7h0m.1 1.5h0m0-1h0m0-.7h0m0 2.1h0m.2-1.3h0m.2 1.1h0m.2-1h0m-43.9 4.1h0m0-.6h0m.1 .8h0m.4-.7h0m.2-.1h0m.5 1.2h0m.1-1.3h0m.5 .3h0m0 1.2h0m.3 .1h0m.4-.1h0m0-1.1h0m0 .5h0m.1-.1h0m.5 .6h0m.2-.4h0m0 .6h0m0-.2h0m.2-.5h0m.1 0h0m.1 .4h0m0 .2h0m.2-.6h0m2.2-.3h0m.6-.5h0m.1-1.3h0m.1 1.5h0m.2-.5h0m.2 .9h0m.1-.8h0m0 .5h0m.4-1.6h0m.3 1.9h0m.6 .2h0m.4-1.8h0m0 1.3h0m.1-1.1h0m.2 1.7h0m.1-1h0m.1-.4h0m.1 1.1h0m0-1.2h0m.2 1.8h0m.3-1.7h0m.9-.9h0m.4 1.4h0m.1-.9h0m.1 .6h0m.1-.3h0m.4 .5h0m.5-.2h0m0 .2h0m.4 .4h0m.5 1.2h0m.4-.8h0m.4-1.2h0m.3 .5h0m.1-.1h0m1.1 1.2h0m0 .3h0m0-2.5h0m.2 2.7h0m.3-.7h0m.4-1h0m.3 1.3h0m.1-.8h0m.3 1h0m.3 0h0m.3-1.6h0m.6-.5h0m.2 .7h0m.3-1h0m0 .9h0m0-1h0m0 .8h0m.7-.7h0m0 1.2h0m.3-.5h0m.2 .7h0m.3-1.1h0m.3 1.6h0m.4 .7h0m.6-1h0m.1-.6h0m.4-.2h0m.1-.7h0m.3 .6h0m.2 .2h0m.6 .5h0m.1 .5h0m.1-1.2h0m.3 0h0m.1 1.3h0m.2 .1h0m.3-1.2h0m.1-.3h0m.2-.1h0m.1-.1h0m.2-.4h0m.2 .2h0m.3 .8h0m.1 1.4h0m0-1.6h0m0-.2h0m.1-.4h0m.2 1.7h0m0-.2h0m.2-1.1h0m.2-.8h0m.5 .2h0m.2 1.8h0m.4-.7h0m.3 1.2h0m.2-1.2h0m.5-.2h0m.7 1.3h0m0 .3h0m.1-.5h0m1.5-.5h0m.1 1.1h0m0-1.8h0m.3 0h0m0 1.2h0m.6 .2h0m.1-1.6h0m2.6 .5h0m.1-.2h0m.3-.4h0m.3-.3h0m0 .1h0m.1 1.2h0m0-1.4h0m0 .9h0m.1-.7h0m0 .7h0m0-.6h0m.1-.1h0m0 .6h0m.2-1.1h0m0 1h0m.1-.5h0m0-.6h0m.3 .7h0m.3 .8h0m0-.8h0m.1 .8h0m0-1h0m.1 .6h0m.4-.3h0m0 .5h0m0 0h0m.4-.9h0m.2 .7h0m.1 .1h0m.1 .5h0m.1-.4h0m.7-.8h0m0 .5h0m.2-.7h0m.4 .7h0m0 .4h0m0-1.2h0m.2 0h0m.2 .6h0m.4-.3h0m.1 0h0m.1 .6h0m.4-.8h0m.1-.3h0m.1 .1h0m0-.2h0m.2 .3h0m.1 .1h0m-40.1 3.8h0m.2-.1h0m.1 .1h0m.2 .8h0m.1-1.9h0m0 2.6h0m.2 .2h0m.8-.1h0m.1-.6h0m.4-1.9h0m1.8-.2h0m1.3 1.1h0m.9-.9h0m.1 1.5h0m.5 .2h0m.4 .2h0m.1 0h0m0-1.3h0m.3 1.8h0m.2-2.5h0m.2 2.4h0m.2-.2h0m0-.3h0m.2-2.1h0m.9 1.1h0m.7-.5h0m.1 .2h0m2.7 1.9h0m.1-.5h0m0 0h0m0 .6h0m1.6-1.5h0m.2 .4h0m.5 .7h0m.4-.3h0m1.2 .8h0m2.4-.7h0m.2-.2h0m0 .8h0m.3-2.7h0m.2 .2h0m0 1.4h0m.3 .4h0m.5-1.4h0m1.2-.7h0m.9 .5h0m.4 .1h0m.3-.5h0m.2 2.8h0m.2-.6h0m0 .7h0m0-.1h0m.1-1.2h0m.3 .8h0m.1-.2h0m2.4-1.3h0m.1 1.5h0m.1-1.4h0m.2 .9h0m.1-.8h0m0 1.2h0m.3 .4h0m0-.4h0m.7-1.6h0m.6 2.1h0m.2-.4h0m.1-.8h0m.7-1.4h0m.5 1.2h0m.2-1h0m0 1h0m.3 .5h0m.2-1.7h0m.1 1.8h0m.1-.9h0m0-.7h0m.1 1.9h0m.3-.4h0m.1-1.8h0m.6-.1h0m-31.1 3h0m.9 1.7h0m.2-1.2h0m.2-.2h0m.5 2.4h0m.6-.3h0m.1 0h0m4.6-.8h0m.1 .5h0m.3-1.3h0m0-.5h0m.4 .9h0m.1-1h0m.2 .1h0m.1 1.1h0m.1-.2h0m.2-.9h0m.1 .8h0m.4-.7h0m1 .2h0m.6-.6h0m.2 .2h0m0 2.2h0m.8-1.8h0m.6-.7h0m.1 2.1h0m0-.7h0m.9-.7h0m.6-.6h0m.3 1.3h0m.3 0h0m.6 .8h0m.7-1.8h0m.1 .9h0m.4 .2h0m.1-.9h0m0-.1h0m.1-.3h0m.2-.1h0m.3 1h0m.1-.1h0m.4 .1h0m.2-.2h0m.2 .4h0m1.1 1.2h0m2.2-1h0m.2 .5h0m.6-1.1h0m.1 1.3h0m.3-1.7h0m0 .8h0m0 .9h0m.4 .4h0m.3 0h0m.3-1.5h0m.3 .6h0m.2 .6h0m0-1.5h0m.1-.3h0m0 .6h0m.6 0h0m0-1h0m.2 0h0m.1 2.3h0m.1 .4h0m.1-1.2h0m.1 1h0m.1-.8h0m.4-.1h0m.4-1.6h0m0 1.2h0m.2-.5h0m.3-.8h0m.4 1.2h0m.2-.6h0m.4-.2h0m.2 0h0m.7 2.5h0m1.3-2.8h0m-26.8 2.9h0m8.3 1.9h0m.4-.3h0m0 0h0m.4-.2h0m3.8 1h0m.2-.5h0m1-1.3h0m.2 1.1h0m.2-.1h0m.3 .5h0m0-.4h0m.3-.2h0m.4 .4h0m.1-.4h0m.3-.7h0m.5 1.4h0m.1 .2h0m.1-1.3h0m.5-.2h0m.4-.1h0m.2-.4h0m.2-.4h0m1.3 .2h0m1.6 2.1h0m.2-2.2h0m.2 .1h0m.1 .6h0m.1-.1h0m.1-.4h0m.5 .1h0m1.9 1.3h0m2.1-1.7h0m-16 3.3h0m.7 .3h0m.2 .3h0m2.5 .5h0m.3 1.1h0m.4 .1h0m.2-.7h0m0 1h0m.3-.7h0m.2-.2h0m0-.9h0m.4 .1h0m.1 .6h0m.2 .6h0m1.7-.1h0m.7-2h0m.7 .7h0m0-.6h0m.3 1.1h0m.1-1.4h0m.3 1.7h0m.2-.3h0m.2-1h0m.8 .3h0m.3 0h0m.1-.8h0"/>
<rect x="267.6" y="482.8" width="51" height="51" fill="none" stroke="#2a2a2a" stroke-width="0.95"/>
<path d="M267.6 482.8h-1.4M267.6 533.8v1.4M267.6 495.6h-1.4M280.4 533.8v1.4M267.6 508.3h-1.4M293.1 533.8v1.4M267.6 521h-1.4M305.9 533.8v1.4M267.6 533.8h-1.4M318.6 533.8v1.4M267.6 482.8h-0.8M267.6 533.8v0.8M267.6 486h-0.8M270.8 533.8v0.8M267.6 489.2h-0.8M274 533.8v0.8M267.6 492.4h-0.8M277.2 533.8v0.8M267.6 495.6h-0.8M280.4 533.8v0.8M267.6 498.7h-0.8M283.5 533.8v0.8M267.6 501.9h-0.8M286.7 533.8v0.8M267.6 505.1h-0.8M289.9 533.8v0.8M267.6 508.3h-0.8M293.1 533.8v0.8M267.6 511.5h-0.8M296.3 533.8v0.8M267.6 514.7h-0.8M299.5 533.8v0.8M267.6 517.9h-0.8M302.7 533.8v0.8M267.6 521h-0.8M305.9 533.8v0.8M267.6 524.2h-0.8M309 533.8v0.8M267.6 527.4h-0.8M312.2 533.8v0.8M267.6 530.6h-0.8M315.4 533.8v0.8M267.6 533.8h-0.8M318.6 533.8v0.8" stroke="#222" stroke-width="0.5" fill="none"/>
<text x="265.8" y="484.6" font-size="4.9" font-weight="normal" text-anchor="end" fill="#333">60</text>
<text x="265.8" y="497.3" font-size="4.9" font-weight="normal" text-anchor="end" fill="#333">30</text>
<text x="265.8" y="510.1" font-size="4.9" font-weight="normal" text-anchor="end" fill="#333">0</text>
<text x="265.8" y="522.8" font-size="4.9" font-weight="normal" text-anchor="end" fill="#333">-30</text>
<text x="265.8" y="535.6" font-size="4.9" font-weight="normal" text-anchor="end" fill="#333">-60</text>
<text x="267.6" y="541.2" font-size="4.9" font-weight="normal" text-anchor="middle" fill="#333">-60</text>
<text x="280.4" y="541.2" font-size="4.9" font-weight="normal" text-anchor="middle" fill="#333">-30</text>
<text x="293.1" y="541.2" font-size="4.9" font-weight="normal" text-anchor="middle" fill="#333">0</text>
<text x="305.9" y="541.2" font-size="4.9" font-weight="normal" text-anchor="middle" fill="#333">30</text>
<text x="318.6" y="541.2" font-size="4.9" font-weight="normal" text-anchor="middle" fill="#333">60</text>
<text x="292.1" y="477.8" font-size="8.7" font-weight="bold" text-anchor="middle" >day 5</text>
<path stroke="#000" stroke-width="1.1" stroke-linecap="round" fill="none" d="M353.3 487.2h0m0 .3h0m2.4-.2h0m.8-.3h0m.5 .3h0m.1-.1h0m.7 .2h0m3.2 0h0m-13.4 2.8h0m.2-.3h0m1 0h0m.1 .5h0m1.3-.6h0m.2-1.6h0m.4 1.1h0m.1-.7h0m.2-.3h0m0 .9h0m.1-.2h0m0 .4h0m0-.7h0m.1 .2h0m.1 .7h0m0 0h0m.2 .8h0m.1-1.6h0m.4-.9h0m.5 1.8h0m0-1.5h0m.2 1.7h0m.3 .6h0m0-.5h0m.2-1.4h0m.1-.3h0m.1 .4h0m0-.7h0m.1 .1h0m.1 .7h0m.1 1.1h0m0-.9h0m.3 .5h0m0 .5h0m.2-.2h0m.2-.7h0m.9-.7h0m.3 1h0m0-1.1h0m.2 .6h0m0-.2h0m.2 .6h0m.1-.9h0m.2-.4h0m.1-.3h0m.3 1.8h0m.9-.4h0m.1-.6h0m.6-.3h0m.3 0h0m.1-.2h0m.1 .1h0m.3 .2h0m.1-.8h0m.1 1h0m0-.2h0m.2-.3h0m1.1-.4h0m.2 2.4h0m0-.5h0m.1 0h0m.3 .5h0m.2-2.1h0m0 .3h0m0-.5h0m.2 1.5h0m0-.1h0m.1 1.2h0m0 .1h0m.1-1.4h0m0 1.3h0m.2-1.5h0m0-.5h0m.2 1.2h0m.4-1.2h0m0 2h0m.1-1.5h0m0 1.2h0m.2-.5h0m.1 .3h0m0-.8h0m0 1.1h0m.1 .2h0m1.1 0h0m.9 .1h0m.2-.1h0m-21.6 2.9h0m.6-.1h0m.2 .3h0m.9-1.3h0m.1 .4h0m.1 .5h0m0-1h0m.3 .1h0m0 .5h0m.3 .7h0m.2 .1h0m.1-1.4h0m0-.2h0m.1-.9h0m0 .8h0m.1 1.4h0m.2-1.9h0m.1-.5h0m0 2.6h0m0-1.5h0m.1-1h0m.1 2.2h0m0-1h0m.1 1.1h0m.1 .3h0m0-2.2h0m0 1h0m0-.7h0m.2 .3h0m.1-.6h0m.1 .1h0m.4-.2h0m.7-.1h0m.2 1.2h0m.3-.3h0m.1-.8h0m0 .3h0m.3 .7h0m1.6-1.3h0m.2 .1h0m2.7 2.3h0m0 0h0m.4 0h0m.7-.9h0m.1-.3h0m0 .7h0m.2 .7h0m.1-.8h0m.4-.2h0m.2 .6h0m.1 .2h0m1.4-2.4h0m.4 .3h0m0 2.1h0m.5-2.6h0m0-.1h0m.8 1.7h0m.1-.6h0m.2 0h0m0-.2h0m.2-.9h0m0 2.7h0m.1 .2h0m.1-2.7h0m.1 .6h0m.2 1.9h0m.3-1.7h0m.1 1.8h0m.1-1.8h0m.5 .1h0m.6-.1h0m.4 .9h0m.1 1.1h0m.1-.9h0m.1-1.4h0m.1 1.1h0m.3-.9h0m.2 2h0m.3-.3h0m.1 0h0m.3-2.4h0m0 2.3h0m.1 0h0m0 .1h0m0-.4h0m.1 0h0m.2-.1h0m0 .3h0m0-2h0m.1 2.1h0m0 .5h0m.1-1.3h0m.1 .3h0m.3 .5h0m.1-.1h0m.1 .4h0m.2-.4h0m.1-1.2h0m1 0h0m.4 .9h0m-25.2 3.5h0m.6-1.4h0m0 .4h0m.2-.9h0m.1 1.7h0m.1 .3h0m0-1.6h0m0-.4h0m.1 .2h0m0 1.6h0m.1-1.1h0m0 1.1h0m.2-2.3h0m.1 1.9h0m.2-1.4h0m.1 1.9h0m0-2h0m.1 .4h0m.1-.1h0m.2-.8h0m.1 .2h0m.3 1.4h0m0-1.5h0m.2 0h0m.3-.1h0m.1 .7h0m.2-.6h0m.4 1.1h0m0-.6h0m.2-.7h0m.2 .5h0m.8-.2h0m.2 .4h0m1.2 2.1h0m2.2-.3h0m0-.7h0m0 .4h0m.8 .4h0m0-1h0m.2 1.1h0m.1 0h0m0-1.4h0m.2-.2h0m.1 1.5h0m.2-.1h0m.2 .1h0m.5 .1h0m.1-1.6h0m0 .5h0m.1 .9h0m.2-1.6h0m0 1.3h0m.2 .7h0m.4-.3h0m.1-1.5h0m1.3-.9h0m.1 .5h0m.1 .8h0m.1 .1h0m0-.6h0m.1 1.5h0m0-1h0m.1 .8h0m.4-1h0m.1-.6h0m.1 2h0m.1-1.2h0m0 .3h0m0 1.2h0m.1-1.6h0m0 1.2h0m.5-2.2h0m.3 .3h0m.1-.4h0m.4-.2h0m.1 .5h0m0-.5h0m.2 .2h0m.1 .4h0m.4 1.1h0m0-1.6h0m.3-.2h0m0 2.5h0m.2-1.2h0m.6 .3h0m.2 .3h0m.1-1.9h0m0 .4h0m.3 2h0m.1-.6h0m.4 .7h0m.1-.6h0m.4 .3h0m1.4 .7h0m0-1.3h0m0-1.3h0m.1 1.7h0m.3 .6h0m.2 0h0m.4-.2h0m0-2.3h0m.2 1h0m.1-1h0m.2 .6h0m0-.4h0m.4 .2h0m0 2.4h0m.4-2.2h0m.8 .9h0m.1 .3h0m.1-1.7h0m.1 1.2h0m.1 .2h0m.3 .1h0m.4-1.1h0m.1 1h0m0 .8h0m.2-1.4h0m.1 .5h0m0 1.2h0m.2-.6h0m0-.4h0m.1 .8h0m.1 .2h0m0-1.4h0m.4 .9h0m.1-.4h0m.4-.4h0m0 1.4h0m-29.8 2.8h0m.1 .1h0m.5-.3h0m.1-.9h0m0 .9h0m.1-.8h0m.2-.2h0m0 .2h0m.1 .9h0m.1-1.2h0m.2-.1h0m.2 1.1h0m0-1.1h0m0 .6h0m.1-.3h0m.3-.8h0m.3 .4h0m0-.3h0m0-.7h0m.3 .2h0m1.8 0h0m4.9 1.6h0m.4-1.8h0m0 2.6h0m.2-1.3h0m.2-1.3h0m.1 2.8h0m0-.7h0m.1-1.6h0m.4 2.4h0m.3-2.1h0m.2 1.8h0m.1-.8h0m.3 .3h0m0 .7h0m.1 0h0m.1-.1h0m.2-2.6h0m0 .7h0m0-.8h0m.1 .5h0m0 1.6h0m.1-2.2h0m0 1.2h0m0-.7h0m0 1.1h0m.1 .7h0m.1 .3h0m.1-2.2h0m.3 1.1h0m.4 .3h0m.3-.7h0m.1-.8h0m0-.1h0m.3 1.4h0m.2-1h0m.4 1.1h0m0 .2h0m.5 .9h0m.3-.7h0m0-.7h0m.1 .8h0m.2 .2h0m.1-1.7h0m.3-.1h0m.1 .1h0m.1 1.3h0m.1-1.3h0m0-.4h0m.2 .6h0m0 1h0m0-1.8h0m.1 .7h0m.2-.2h0m.5-.5h0m1 .4h0m.1 .1h0m.1 .4h0m.2-.3h0m.1-.2h0m.3 .5h0m.5 .9h0m0-1.2h0m.3 .7h0m.2 1.1h0m.2-2h0m0 2.2h0m0-2.5h0m.1 2.4h0m0-2.6h0m.1 2.5h0m.1 .5h0m0-2.1h0m.6 .1h0m.1 1.1h0m0-.3h0m0-.6h0m.6 1.6h0m.1-.3h0m.1 .2h0m.3-.8h0m0-.3h0m.1 1.1h0m.3-1.4h0m.4 1.7h0m.4-2.1h0m.3 1.4h0m.1 .5h0m.1 .2h0m.1-2.8h0m.5 .9h0m.4 .6h0m.6 1.3h0m.4 0h0m.2-.2h0m.2-2.7h0m.2 .8h0m0 0h0m0 .8h0m.1 .4h0m.2 .8h0m.1-1.8h0m.1 1.8h0m.1-.9h0m.1-.7h0m.2 .4h0m.4-.8h0m.1 .9h0m.1-1.4h0m.1 1.6h0m0 .1h0m.1-.4h0m.1-.1h0m0 .1h0m.2-1.3h0m.1 1.1h0m0 .1h0m0-1.6h0m.1 1.1h0m.1-.5h0m.1 .3h0m.4 1.2h0m.4 .8h0m0-.8h0m.1-.2h0m.1 .6h0m.3-2h0m.1 2.5h0m0-2.8h0m.7 2.5h0m.5 .2h0m-32.3 .3h0m.1 1.4h0m.1-.6h0m.1 .8h0m0-1.4h0m.1 .9h0m0 .3h0m.2-.4h0m0 .9h0m.3-1.8h0m0 .5h0m0-.2h0m0-.2h0m.1-.2h0m0-.1h0m.1 .6h0m0 .5h0m.3-.6h0m5.2 1.3h0m.1-.9h0m.1 .1h0m.1 1.1h0m.2 .3h0m.1-1.5h0m0 .3h0m0 .5h0m.2-.1h0m0 1.2h0m.1-.3h0m.2-.9h0m.1 .6h0m0-1.4h0m.1 1.1h0m.3-.6h0m1.5 1.3h0m.1 .3h0m.2-.7h0m.2-.7h0m.1 .4h0m.1-1.6h0m.2 .4h0m0 1.8h0m.1-2.1h0m.1 1.6h0m0 .4h0m.1-.7h0m.1 .8h0m.4-.4h0m.3-1.5h0m.1 .3h0m0 1.6h0m.6-1h0m.2 0h0m.3 .3h0m.3-.5h0m.4-.8h0m.3 .1h0m.1 2h0m.1-.7h0m.2-.3h0m.1 1.1h0m.2-1.1h0m.3 .9h0m.5-.4h0m.2-.2h0m.1-.5h0m.9 .5h0m.3-.4h0m.5-.8h0m.1 1.9h0m0-.4h0m.2-1.8h0m0 1.1h0m.4-.4h0m1.2-.4h0m.6 .7h0m.1 0h0m0 .1h0m.4 .6h0m.3-1.4h0m.7 .9h0m0-1.2h0m.2 1h0m.6 1h0m.4-1.6h0m0 1h0m.2 .3h0m.1-2.1h0m.1 2.3h0m1.1-.9h0m.2 .2h0m.2 .8h0m.3-1.9h0m.1 .8h0m0-.1h0m.5 .1h0m.5-1.2h0m0 .1h0m.6 .6h0m.3-.9h0m.1 0h0m.2 1.9h0m.1-1h0m.3-.6h0m.2 0h0m.1-.1h0m1 2.6h0m.2-.7h0m.2-1.1h0m.9-.7h0m.4-.1h0m.2-.1h0m.1 1.1h0m.2-.5h0m.1 .9h0m.2-1.6h0m.1 .5h0m.1 0h0m0 .5h0m.1-.8h0m0 .2h0m.1 .8h0m.1-.3h0m.6-.6h0m.2 2.7h0m.4-.1h0m.1-.4h0m.4 .5h0m.8-.8h0m.3 .6h0m.2 .2h0m.4-.5h0m0 .5h0m1.4-.2h0m-39.8 2.5h0m0 0h0m.3-.1h0m.1 .6h0m0 .2h0m.3-1.3h0m.3 .3h0m.1 .4h0m.3-.3h0m.1-.7h0m0 .1h0m.3-.4h0m0-.8h0m.6 0h0m.2 .3h0m.1 .3h0m5.5 .9h0m.3-.3h0m.3-1.3h0m.5 .9h0m.7-1h0m.1 .8h0m.3-.3h0m0 2h0m0-1.3h0m.1-.4h0m0-.8h0m.2 .3h0m.1 1.8h0m.2-1.3h0m.4-.6h0m0 .5h0m.4 .6h0m.3 .4h0m.5 1.1h0m.2 0h0m.5-.3h0m.5 .3h0m0-.1h0m0-.7h0m.9-.7h0m.7-.2h0m.4 .7h0m0-.5h0m.2-.2h0m.1 .7h0m.5 .8h0m.4-2.1h0m.2 .5h0m.1 1.4h0m.4-.8h0m.1 .6h0m0-.7h0m.3-.6h0m.1 1h0m.3-.5h0m0-.9h0m.4 1.4h0m.3-.4h0m0 .7h0m.5-.5h0m.1-.1h0m.2 .3h0m.3-.9h0m0 1.4h0m.3-.1h0m.1-1.3h0m.2-.2h0m1.3 1.5h0m.7-1.2h0m0 .7h0m.5-.8h0m.4-.7h0m.3 0h0m1.1 2.6h0m.3-1.8h0m.6 .7h0m0-.2h0m.7-1.4h0m.3 .6h0m.3 .1h0m.2 1.6h0m0-.7h0m.3 .7h0m.5-1.4h0m.3-.4h0m.5 .1h0m.3 0h0m.3 .1h0m.3 .2h0m.2-.5h0m.6 1h0m1.1-.7h0m.3-.7h0m1.4-.3h0m.6 .1h0m.3 .2h0m0 .5h0m.4 1h0m.1-1.3h0m.1-.1h0m.1 .6h0m0-.8h0m.1-.2h0m.1 1h0m.1-.7h0m.3 .1h0m.1-.3h0m0 .4h0m.2-.2h0m0-.3h0m.3 1.1h0m.3-.3h0m.2-.4h0m.1 .5h0m.6-.9h0m0 .8h0m.2-.2h0m.5-.2h0m.6 0h0m.1-.3h0m0 .2h0m0-.2h0m0-.1h0m.4 1.1h0m.2 .1h0m0-.5h0m.1-.3h0m.3 .2h0m.1-.3h0m.2 .5h0m0-.1h0m.1 .6h0m0-.5h0m1.5 1h0m.1 1.1h0m0-.7h0m.2-.4h0m.2-.1h0m.1 1.1h0m.1-.4h0m0 .2h0m0 .1h0m0-1.5h0m.3 1.1h0m0-.1h0m.2-.3h0m-46.3 4h0m.8 0h0m.1-.4h0m.5-.3h0m.2-.1h0m.3-.7h0m.5-.6h0m.1 .5h0m.1-.4h0m0-.7h0m.1 .6h0m7.2 1.7h0m.1-1.5h0m.3 .4h0m.2 1.1h0m.2-.8h0m.2 1.2h0m1.6-.3h0m.6-.2h0m2.6 0h0m.1-1.7h0m.1 1.1h0m0-1.4h0m0 .2h0m.1 1.9h0m.1-1.4h0m0 .9h0m.1 .8h0m0 .1h0m0-1.8h0m.1 .3h0m0-.3h0m.4 .8h0m0-.7h0m.1-.4h0m.4-.4h0m.2 2.3h0m.1-1.8h0m0 2h0m.1-1.5h0m.2 .5h0m.2-.8h0m.2 .5h0m.3 .2h0m.2-.9h0m.7 .6h0m1.9 .1h0m.3-.1h0m2.3-.4h0m.2 .6h0m1-1.5h0m.3 .1h0m0 2.3h0m0 .2h0m.4-.2h0m0 0h0m0-1.6h0m.1 1.6h0m0-1.7h0m.1 1.8h0m0-.8h0m.3-1.6h0m0 2.5h0m.1-2.2h0m.2 1.8h0m0-.7h0m.1-1.1h0m.3 1.6h0m.2-.7h0m.4-.2h0m.4-.6h0m0 1.3h0m.5 .9h0m.2-.2h0m.4-1.9h0m.1 1.9h0m0 .2h0m.3-2.5h0m0-.2h0m.3-.1h0m.2 .4h0m.4 2.2h0m.2-2.3h0m.4 1.8h0m1.2-.8h0m.1-1.1h0m.1 .9h0m.1-.5h0m.3 1.3h0m2-1.3h0m1.5 1.1h0m.5 1.1h0m.3-1h0m.2 1.1h0m.1-1.6h0m.9-.2h0m7.3-1.1h0m.2 .7h0m0 .7h0m.2 1.4h0m0-1.5h0m.4-.5h0m.1 1.2h0m0 .2h0m0-.5h0m0 .1h0m0 .3h0m0 .8h0m.2-.9h0m0 .4h0m.2-.6h0m0-.4h0m.2 1.2h0m0 .3h0m0-.2h0m0-.5h0m0 .6h0m.2-.8h0m.1-.6h0m.1 1.1h0m0-1.5h0m.2 1.2h0m-48.2 2.3h0m.2-1h0m0 .8h0m.1-.3h0m.1 .2h0m.1-.5h0m0-.2h0m0 1.1h0m.1-1h0m.1-.2h0m0 0h0m0 .1h0m.4-.5h0m.2 .1h0m.1-.1h0m9.7 1.5h0m0-.7h0m.1 .3h0m.4-.3h0m.5-.2h0m.2 1.9h0m.1-.8h0m0-1.6h0m.2 .6h0m.1-.1h0m.2 1.3h0m0-.8h0m.2 .8h0m.2-.6h0m.1-1.3h0m0 1.2h0m.1 .2h0m.1-.7h0m.2 .7h0m0-.3h0m.2 1.6h0m.4 .2h0m0-1.8h0m.8 1h0m2-1.6h0m.2 .9h0m.1-.3h0m.1 .4h0m0 .9h0m.3-1.6h0m0 1.1h0m.4-1.7h0m.2 2h0m1.2-1.4h0m.2-.6h0m1.3 1.4h0m.1-.4h0m.1-.8h0m.3 1.1h0m.2-.4h0m.7 1.5h0m.7-.5h0m.2-.6h0m.1 .3h0m.6 .8h0m.6-1.7h0m.6-.4h0m.5 .4h0m0 .1h0m.4-.6h0m0 0h0m.3 1.7h0m0-.9h0m.1-1h0m.1 .6h0m.7 2h0m.3-.3h0m.3 .1h0m.3 .2h0m.6 0h0m.1-1.8h0m0-.9h0m0 .5h0m.1 .6h0m.2-.4h0m.5-.8h0m.2 2.3h0m.4-.4h0m2.8 0h0m.4 .9h0m.2-1.2h0m.2-.4h0m.3-.2h0m1.5-.5h0m.4 2.2h0m.5-.3h0m1.7-2.1h0m.9 1.1h0m.4-.1h0m.5-.7h0m.5-.1h0m5.6 2.4h0m.1-2.4h0m.1-.1h0m.2 2.1h0m.1-1.9h0m.1 1.1h0m.1-1.6h0m.1 0h0m.2 1.6h0m0-.1h0m.1 .3h0m0 .6h0m.1-2.1h0m0 .3h0m.2-.3h0m.1 1.5h0m-38.5 3h0m.3-.1h0m.4 .4h0m.3 .4h0m.2 .3h0m1.4-2.2h0m2.5 1.6h0m.3 .1h0m.1-.9h0m.6 1h0m.5-1.1h0m2.3-.3h0m.2-.5h0m.3 2.2h0m0-2.8h0m2.4 .9h0m.1-.6h0m.2 2h0m.1-.3h0m.2-.6h0m.1-.5h0m0 .4h0m.1 1.5h0m.1-1.2h0m.1 1.1h0m.2-1.6h0m.2 .2h0m.1 1.2h0m.4 .1h0m.1-1.5h0m.3 .4h0m.3-1.2h0m.2 1h0m.1-.6h0m0-.1h0m.1 2.2h0m.2-1.2h0m.2-.6h0m.3 1.8h0m.3-.4h0m.1 .2h0m.2-2.2h0m1.2 2.5h0m.3-.3h0m.7-1.5h0m.1-1.2h0m0 2.2h0m0-.5h0m0-.5h0m.1 .3h0m.5 .5h0m.5-1.7h0m.8-.3h0m.2 2.5h0m.5-.9h0m.6-.2h0m.6 .1h0m.2-.3h0m.1-.9h0m0 2h0m0-1.8h0m0 2.1h0m.2-1.1h0m.6 1.4h0m.4-2h0m0-.5h0m.3 1.9h0m.1-.8h0m.1-.4h0m.2 0h0m.1 1.7h0m0-.8h0m0-1.1h0m.3 .3h0m.2 .6h0m0-1.1h0m.7 .3h0m.7 .7h0m.1 0h0m.3 .2h0m.6-1.4h0m.1 .5h0m2.6 .4h0m5.6 1.4h0m.4-.1h0m0-.9h0m0 .5h0m.1-.1h0m.1-.2h0m.1-.1h0m.2-.2h0m.2 .4h0m.1-1.3h0m0 1.1h0m.1-1h0m0 1.3h0m.3-.5h0m0 .4h0m.1-1.4h0m0 .1h0m.3-.3h0m.1 1.4h0m.1-.1h0m0-1.2h0m0-.5h0m.5 .1h0m-43.7 4.3h0m.3 .2h0m.2-.9h0m.3 1.9h0m.1-.5h0m.2-1.2h0m.2 0h0m0 .5h0m.1-.3h0m.5 .1h0m.1-.5h0m0-.1h0m.9 1.1h0m0 .8h0m1 .3h0m.3-.5h0m.7 0h0m2-2.2h0m.2 1.9h0m.8 .6h0m.3-2.2h0m.7 .8h0m.1-.8h0m.3 .9h0m.1 .8h0m.1 .2h0m.6-.1h0m.1 0h0m.1 .1h0m.4-.2h0m.2-1.7h0m.2 1.9h0m0-.8h0m.5-1.5h0m.1 1.1h0m.1-.9h0m.1 2.7h0m0-1.8h0m.6 1.6h0m.5-.6h0m.3-.4h0m1.5-1h0m0 2.1h0m0-.8h0m.2-1h0m.2 .4h0m.1 .9h0m.1-.8h0m.1-.4h0m.1 .2h0m.1 .7h0m0-.1h0m.7-.3h0m.3 .8h0m.4-.4h0m.3 0h0m.3-2h0m0 2.5h0m0-.6h0m.5-1.3h0m.1 1.4h0m.3-1.9h0m.5-.1h0m.2 .5h0m.4 2.4h0m.2-2.2h0m.8-.2h0m.1 2.4h0m0-2.1h0m.1-.5h0m.2 2.1h0m0-.1h0m.2 0h0m.1 .1h0m.1-2.3h0m.1 2.2h0m.1-.4h0m.2-1.3h0m0 .6h0m.4 .5h0m.1-1.8h0m.9 1.8h0m.1 .3h0m.1 .3h0m.1 .4h0m1.1-2.2h0m.1 .1h0m0-.6h0m.4 1.4h0m0-1.4h0m1.3 1.2h0m.1 .7h0m.6-.8h0m.2 .6h0m.2-.9h0m.7 .2h0m.5-.9h0m.1 1.4h0m0 .1h0m.1-.9h0m.1-.5h0m0 1.7h0m.2-.5h0m.2 .7h0m.1-2.1h0m0 1.3h0m.1-.8h0m0 .3h0m.1 .8h0m.9 .4h0m.2 .8h0m.2-.1h0m2.6-2.4h0m.5-.1h0m.1 2.4h0m.1-1h0m.1 .5h0m.2-2.2h0m1.1 .7h0m.1-.3h0m.1 .8h0m0-.6h0m0 1.5h0m.2-.5h0m.1-1h0m.2 1h0m0-.1h0m.1-.5h0m0 .5h0m.3 .4h0m.1-.4h0m.2-.6h0m.5 .3h0m.6 .8h0m.4-.1h0m0-1.8h0m.2 1.1h0m.1 .3h0m0-.8h0m.3 .7h0m.3-1.4h0m0 .5h0m.1 0h0m.1-.1h0m.2 .3h0m.1 0h0m.3 .2h0m.4 0h0m.1 .2h0m.3-.3h0m.5 0h0m-40.1 4.3h0m.2 0h0m.1 .4h0m.1 .1h0m.2-1.2h0m.2 .9h0m.1 .1h0m.1-.4h0m0-.6h0m.1 1h0m.4-.6h0m0 .7h0m.1-.9h0m0 .4h0m.2 0h0m.3-2h0m2.2 .6h0m.6-.1h0m.2-.1h0m.2 .9h0m.1-.8h0m0 .4h0m.2 .4h0m.1-.5h0m0 .2h0m0-.1h0m.1 .3h0m.1-.6h0m0-.3h0m1.5 2h0m.6 .3h0m.4-2.5h0m3.3 .6h0m0 .1h0m.3 .5h0m.1-.7h0m.4 .5h0m.1 .3h0m0-.9h0m.3 1.2h0m.6-.7h0m.1 .3h0m.2-.3h0m.7-.2h0m1.2 .1h0m.4-.5h0m.2 .2h0m.2 1.4h0m0 0h0m.2-1.9h0m.2 .7h0m2 2h0m.6-2.7h0m.1 2.9h0m.6-.3h0m.4-2.7h0m.9 2.7h0m.1 .1h0m.2-.9h0m.1-1.2h0m.1-.4h0m1.3 1.7h0m0-.1h0m.5 .9h0m2.1-1.3h0m.6 .6h0m.3 .2h0m.3 0h0m.3-1.6h0m.1-.5h0m.1 2.4h0m0-.5h0m.1-1.4h0m.2-.1h0m.3-.2h0m.2 2.3h0m.2-2h0m.3 1.3h0m.2-1.8h0m.4 1.8h0m.2 .2h0m.2-1h0m.2-.4h0m.2 1.3h0m.2-.4h0m0-1h0m1.2-.1h0m-31.2 3.7h0m.2-1.3h0m.3 .5h0m.4 .7h0m.2 .3h0m.1-1.3h0m.2 .6h0m.2 .6h0m.4-.3h0m0-.4h0m.2 1.8h0m.1 .2h0m1.1-.2h0m0 .4h0m5.4-.9h0m.8-.3h0m0 .4h0m.2 .1h0m1.7-1.3h0m.4 .4h0m0-.6h0m.6 .1h0m.6 .5h0m.1 .6h0m.2-1.5h0m0 1.8h0m1.6-1.2h0m.3 1.9h0m.5-.5h0m.8-2.2h0m.5 .1h0m0 .5h0m.5-.1h0m0-.2h0m.1 .7h0m.4-.5h0m.6 .7h0m0-1.2h0m1.2 0h0m.6 2.8h0m.1-1.6h0m0-1.2h0m.1 1.1h0m.3 .8h0m.8-.5h0m1.3 .1h0m.3-.7h0m.3-.4h0m.1 .5h0m.3-.8h0m.1 .4h0m.1 .3h0m.6-.6h0m.1-.2h0m.2 2.2h0m0-2.2h0m.1 1.9h0m0-.7h0m.1-.8h0m.2 2.1h0m.3-1.5h0m.2-.4h0m.3 1.4h0m.1-1.1h0m.1 .8h0m.6-1.1h0m3.2 .7h0m.1-.9h0m.2 .3h0m-28.5 2.4h0m.4-.1h0m0-.2h0m.9 .4h0m5.3-.3h0m.3 .9h0m.1-.6h0m1.4 1.1h0m.5 .6h0m1-.9h0m2.1 .8h0m.1-.4h0m.1 1h0m.1 .4h0m.4-1.2h0m0-.4h0m.2-.6h0m1 2.1h0m0-.2h0m.5 .1h0m1.8-.4h0m.2 .4h0m.1-2.4h0m.5 2.1h0m.1-1.5h0m.3-.7h0m0 .8h0m.5 1.4h0m.2-1.2h0m1.8 1.3h0m.1-.4h0m.8-.6h0m.6 .9h0m1.8-2.2h0m.9 1.9h0m.2-.1h0m-12.2 1.3h0m.1 .7h0m0 .2h0m.3-.9h0m1.5 .1h0m.7 .7h0m.2-.1h0m0-.4h0m.2-.4h0m.8 1.8h0m1 .4h0m0-.5h0m.3-1.1h0m1.6 1.7h0m.7-2.4h0m.3 .3h0"/>
<rect x="330.5" y="482.8" width="51" height="51" fill="none" stroke="#2a2a2a" stroke-width="0.95"/>
<path d="M330.5 482.8h-1.4M330.5 533.8v1.4M330.5 495.6h-1.4M343.2 533.8v1.4M330.5 508.3h-1.4M356 533.8v1.4M330.5 521h-1.4M368.8 533.8v1.4M330.5 533.8h-1.4M381.5 533.8v1.4M330.5 482.8h-0.8M330.5 533.8v0.8M330.5 486h-0.8M333.7 533.8v0.8M330.5 489.2h-0.8M336.9 533.8v0.8M330.5 492.4h-0.8M340.1 533.8v0.8M330.5 495.6h-0.8M343.2 533.8v0.8M330.5 498.7h-0.8M346.4 533.8v0.8M330.5 501.9h-0.8M349.6 533.8v0.8M330.5 505.1h-0.8M352.8 533.8v0.8M330.5 508.3h-0.8M356 533.8v0.8M330.5 511.5h-0.8M359.2 533.8v0.8M330.5 514.7h-0.8M362.4 533.8v0.8M330.5 517.9h-0.8M365.6 533.8v0.8M330.5 521h-0.8M368.8 533.8v0.8M330.5 524.2h-0.8M371.9 533.8v0.8M330.5 527.4h-0.8M375.1 533.8v0.8M330.5 530.6h-0.8M378.3 533.8v0.8M330.5 533.8h-0.8M381.5 533.8v0.8" stroke="#222" stroke-width="0.5" fill="none"/>
<text x="328.7" y="484.6" font-size="4.9" font-weight="normal" text-anchor="end" fill="#333">60</text>
<text x="328.7" y="497.3" font-size="4.9" font-weight="normal" text-anchor="end" fill="#333">30</text>
<text x="328.7" y="510.1" font-size="4.9" font-weight="normal" text-anchor="end" fill="#333">0</text>
<text x="328.7" y="522.8" font-size="4.9" font-weight="normal" text-anchor="end" fill="#333">-30</text>
<text x="328.7" y="535.6" font-size="4.9" font-weight="normal" text-anchor="end" fill="#333">-60</text>
<text x="330.5" y="541.2" font-size="4.9" font-weight="normal" text-anchor="middle" fill="#333">-60</text>
<text x="343.2" y="541.2" font-size="4.9" font-weight="normal" text-anchor="middle" fill="#333">-30</text>
<text x="356" y="541.2" font-size="4.9" font-weight="normal" text-anchor="middle" fill="#333">0</text>
<text x="368.8" y="541.2" font-size="4.9" font-weight="normal" text-anchor="middle" fill="#333">30</text>
<text x="381.5" y="541.2" font-size="4.9" font-weight="normal" text-anchor="middle" fill="#333">60</text>
<text x="355" y="477.8" font-size="8.7" font-weight="bold" text-anchor="middle" >day 8</text>
<path stroke="#000" stroke-width="1.1" stroke-linecap="round" fill="none" d="M415.8 487.1h0m.5 0h0m.2-.2h0m2.6 .2h0m0-.4h0m.4 .6h0m-7 2.8h0m.4-.2h0m.2 .2h0m.7-.1h0m.1 .1h0m.3 .3h0m.5-1.2h0m.9 .4h0m.2-1.4h0m.1 .3h0m.1-.8h0m.4 1.1h0m0-1.1h0m.1 1.5h0m0-.2h0m.1-.8h0m.1 1.5h0m0-.3h0m.1-1.5h0m.2 1.7h0m.2-1.3h0m.2 1.5h0m0-.7h0m.4 .2h0m.1-.1h0m.1-.5h0m.4 .9h0m.1 .2h0m.1-.5h0m.6-.2h0m.8 .1h0m.5 .5h0m.3 .3h0m.3-1h0m.2 1.3h0m.3-1.2h0m.4-.5h0m.2 1.5h0m0-.6h0m.3-.5h0m0 .5h0m.3 .1h0m.1-.4h0m.2 .5h0m.1-.1h0m.3-2h0m0 1.1h0m.1 1.4h0m0-.5h0m0-.6h0m.1 .4h0m1.3-.2h0m0 .1h0m.1 .3h0m.2 .2h0m0-1h0m.2 .9h0m.1-.4h0m0 .7h0m.7-.8h0m.2 .3h0m0 .4h0m.1 0h0m0 .1h0m.2 .4h0m.2-.9h0m.1-.5h0m.3 1h0m.1-1.2h0m.1 1.3h0m.2-.1h0m0 .2h0m.5 0h0m.2-.7h0m.2 .6h0m-21.6 2.7h0m.4 .5h0m.7 .1h0m.1-1.5h0m.2 .4h0m.2-1h0m.2 .9h0m.2 .7h0m.4-.6h0m0-.9h0m.1 .8h0m.3-.6h0m.3 1.1h0m0 .2h0m.1 .5h0m0-1.1h0m.2-1.2h0m.5 .4h0m.4 1h0m.4-.9h0m.7 .5h0m.4-.1h0m.5-1.1h0m0-.1h0m.7-.1h0m2.7 2.3h0m.7-.5h0m.2 .3h0m1 .7h0m1.1-.2h0m0 .2h0m.1-1.4h0m.4-.4h0m0-.2h0m.4-.3h0m0 1.5h0m0-.7h0m.3 .4h0m0-1h0m.1 .6h0m.1-1.2h0m0 .1h0m0 2h0m0-1.3h0m.1 1.5h0m0-1.5h0m0 .7h0m.2-1.5h0m0 2.6h0m.1-2h0m0 .6h0m0-1.5h0m.2 1.2h0m.1 .7h0m.1-1.3h0m.1 .1h0m0-.4h0m.2 .5h0m.1 .3h0m0 .3h0m.1 1.3h0m.2-1.8h0m0-.7h0m.1 .7h0m0-.3h0m0 2.1h0m.3-.4h0m.1-2.2h0m0 .3h0m.2-.1h0m0 2.4h0m.1-2.1h0m0 2h0m.1 0h0m0-1.9h0m.1 2h0m0-.6h0m.2-1.7h0m1.1 1h0m0 .8h0m.5 .6h0m.2-.1h0m.1-1.8h0m.1 .2h0m0 1.5h0m.1-1.9h0m.5 2.1h0m.2-2.8h0m.3 .2h0m.6 .5h0m.1-.3h0m.1 .7h0m.5 .4h0m.6 0h0m.4 1.2h0m.7-1.6h0m.1 .5h0m-25.3 3.9h0m.1-.3h0m.3-.5h0m.3-.2h0m0 1.2h0m.1-1.3h0m.2 .5h0m.1 .4h0m.3-1.6h0m.2-.3h0m.3 .4h0m.3 .9h0m.6-1.5h0m.4 .3h0m5.7 2.3h0m.5-.5h0m.3-.4h0m.9 .8h0m.6-.2h0m.2-1.2h0m.3-.8h0m.1 .1h0m1.1 1h0m.5-.4h0m0 .7h0m.1-.3h0m.1-1.1h0m.3 1.2h0m.1 .4h0m.5 0h0m.1-1.9h0m.1 1.7h0m.3-1.7h0m.2 2.1h0m.6-1.8h0m0 .2h0m.3 .2h0m0-.2h0m.1 2h0m.1 .2h0m0-.6h0m.1-1.1h0m0 .2h0m0-.8h0m.3-.2h0m.1 2h0m0-.9h0m0 .3h0m.3-1.3h0m.1 1.5h0m0-.4h0m.1-.4h0m0 .6h0m0 .6h0m.2-.8h0m0 .6h0m.2-.3h0m.2 .7h0m.2-.7h0m.1-1.8h0m.2 2h0m.1-.4h0m0 0h0m.1 .3h0m.1-.7h0m0 1h0m.6 .2h0m.1-.7h0m0 .8h0m0-2.2h0m.1 .6h0m.6-.6h0m0 1h0m0-.9h0m.3 2.5h0m.3-1h0m.6-.6h0m.1-.5h0m.4 .7h0m.2-.9h0m0 1.6h0m.2-1.8h0m.2 2.3h0m.1-1.2h0m1.2 .1h0m1.8 .8h0m.1-2.1h0m.1 2.2h0m.3-1.7h0m0-.6h0m.2 2.3h0m.7 .3h0m-30.1 3.1h0m.3 0h0m1-1.4h0m.1 1.4h0m0-1.7h0m.2 .1h0m.4 1h0m0-1.6h0m.2 .9h0m.2 1h0m.1-1.3h0m.1 .3h0m.2-.6h0m5.5 1.6h0m.4-1.1h0m.4 1.1h0m.4-.9h0m0-1.5h0m.1 1.7h0m.2-1.4h0m1.4 1h0m0-.6h0m.3 1.2h0m.3-1.9h0m.2 .6h0m.3 2h0m1-.5h0m.7-2.2h0m0-.1h0m.1 2.8h0m.2-.3h0m0 0h0m.4-.9h0m0 .5h0m.1-1.1h0m.3 1.7h0m.4 .1h0m0-1.4h0m.3 .6h0m.2-1.8h0m0 1.1h0m.3 .2h0m.1-1.2h0m.8 0h0m.2 .7h0m.2 0h0m.2-.6h0m0 2.3h0m.1-1.9h0m.4-.1h0m0-.4h0m.6-.1h0m.1 2.4h0m.1-.3h0m0-2.1h0m0 1.6h0m.4-1h0m.6-.9h0m.3 1.1h0m.2-.7h0m.2 1.2h0m1.2-1.2h0m.2 .1h0m0 .9h0m.1 1.4h0m.1-2.7h0m.1 1.7h0m.1 .5h0m.4 .2h0m.3-1.4h0m.1-.7h0m0 2.1h0m0-.9h0m.6 1h0m.7-1.5h0m.4-.7h0m1.2-.2h0m.2-.1h0m.4 2h0m.1-.6h0m.1 1.4h0m.1-1.5h0m1 .7h0m.5 .4h0m.5-.6h0m.2-.1h0m.1 1h0m0-.5h0m.1 .6h0m.1-1.1h0m-31.2 3.2h0m.2-.4h0m.3 .9h0m.2-.3h0m.2-.1h0m.1 .2h0m.1-.4h0m.1 .9h0m.1-.4h0m0 .5h0m.2-.3h0m.2-1.5h0m.2-1.1h0m.1 .2h0m.2 .2h0m.5 .2h0m0-.3h0m.2-.1h0m.2 0h0m4.5 2.2h0m0 .3h0m.1-.5h0m.1 .8h0m.2-.2h0m0-1.1h0m.7-.3h0m.4 0h0m.6 1.6h0m.2-1.8h0m.2-.7h0m.2-.1h0m.5 1.4h0m.3-.5h0m.2-.9h0m.5 0h0m.4 .1h0m.4 .5h0m0-.4h0m.6-.5h0m0-.1h0m.1 0h0m0 2.8h0m0-2.7h0m.5 0h0m.6 .3h0m.2 .4h0m.4-.1h0m.5-.7h0m.5 2.9h0m.1-2h0m.7-.2h0m.1-.2h0m1.9 2.2h0m.1-.5h0m.1 .7h0m.2-1.3h0m.3 .3h0m.2-1.8h0m.4 1.6h0m1.4 1.2h0m0-.7h0m0 .6h0m.1-.8h0m.1 .2h0m1.8 .7h0m0-2.9h0m.1 2h0m0 .5h0m.3-.5h0m0 .2h0m.7-1.1h0m.1 1.4h0m0-.7h0m.1 .3h0m.2-1.4h0m1.8 .3h0m0-.2h0m1-.2h0m.2 0h0m.8 1.6h0m.3-1.5h0m.2 .7h0m0-.4h0m0-.3h0m.6 0h0m.1 .3h0m.6-.2h0m.4 .6h0m.2-1.4h0m.2 .9h0m0-.1h0m.1-.3h0m.2-.4h0m.9 2.8h0m-35.3 2.9h0m.3-.2h0m.4 .2h0m.5-.6h0m.2 .3h0m0-.5h0m.1 0h0m0 .3h0m.3-1.3h0m.1 .4h0m.3-.7h0m0-.6h0m0 1.3h0m.1-.6h0m.2-.7h0m.1 1.6h0m0-.8h0m.9-.6h0m5.8 .7h0m.3 1.7h0m0-2.2h0m.1 2.1h0m.1-1.3h0m.1-.5h0m0 .5h0m.1-1.3h0m.1 0h0m.1 .5h0m0 .2h0m0 0h0m.1-.7h0m0 .4h0m0 2h0m.3 .6h0m.1-2.2h0m.2-.5h0m.2 1h0m0-.5h0m.1 .8h0m0 1.4h0m.4-2h0m.2-.6h0m.1 .7h0m0 .9h0m.8 .5h0m.2-.3h0m.3 .2h0m.5 0h0m.1-.1h0m.9-1.4h0m.1 1.9h0m.2-2.2h0m.3 .9h0m.5 .5h0m.1-.8h0m.1-.1h0m0 1.3h0m.1-.1h0m.3-1.3h0m.2 .2h0m.3 1.4h0m.4-2.1h0m.5-.1h0m0 1.7h0m.1-.2h0m.1-1.3h0m.2 1h0m.2-1.3h0m.5 1h0m.2-.6h0m.5 2.3h0m1.1-.5h0m.1-2.2h0m.2 2.3h0m.1-2.5h0m.1 2.9h0m.3-1.7h0m.3 1.4h0m.1-2.3h0m0 1.9h0m.1-1.2h0m1.3-1h0m.3 2.5h0m.1-.2h0m.1 .5h0m.2-1.2h0m.1-1h0m.1 .3h0m.2 .7h0m0-1.3h0m.4 1.5h0m.4-.5h0m.1 .1h0m0-.4h0m1.2-.8h0m1.9 1.6h0m.1-.6h0m0 0h0m.2 1.6h0m.4-1.4h0m.2 .6h0m.5-.1h0m.3 .8h0m.7-1.7h0m.5-.7h0m1.5 2.3h0m.8 .1h0m1.3-2h0m.3-.4h0m.1 1h0m.1 .1h0m.2-.4h0m.1 .6h0m.5 .9h0m.1-1.5h0m.4-.1h0m.2-.8h0m.3 1h0m.8-.9h0m.5 0h0m.2-.3h0m.2 .7h0m.2-.5h0m.4 0h0m.8 .8h0m1.3-.2h0m.2 .1h0m.1-.4h0m1.4 1.6h0m.4 .5h0m-45.6 2.9h0m.2 0h0m.6 .2h0m.2-1.7h0m0 .4h0m.1 .8h0m.1-.8h0m.1-.2h0m.1-.4h0m0 .8h0m.2-.7h0m.2 0h0m.2-.5h0m0 .9h0m0-1.3h0m.1 .7h0m.1-.4h0m.1 .7h0m.1-.9h0m.1 0h0m.1 1.4h0m.2-1.2h0m.2-.2h0m6.6 2h0m0-.3h0m.6-1.2h0m.1 1.8h0m.4 .2h0m.2-1.5h0m0 .2h0m.1 1h0m.1 .5h0m.5 .1h0m0-2.3h0m0 .9h0m.1 .6h0m.2-1.3h0m.2-.5h0m.1 .8h0m.1 0h0m.2 .5h0m.1-1.1h0m.1-.3h0m1.3 .2h0m.3 .5h0m.6-.4h0m.2 2h0m0-1.8h0m.1 .2h0m0-.8h0m.1 2.5h0m.1-1.9h0m.3 .7h0m.3-.3h0m0 .1h0m.2-.5h0m.3 2.1h0m.4-1.9h0m.1 1.7h0m.3 .1h0m.8-.1h0m.6-.8h0m.5-.1h0m0 1.1h0m.3-.4h0m.4 .2h0m.2-.2h0m0-.6h0m.3 .4h0m.1 .4h0m.2-1.4h0m0 .4h0m.1 1.4h0m.3-.2h0m.4 .2h0m.4-.8h0m.1 .7h0m.1-1.8h0m.7-1.1h0m.2 0h0m.3 .5h0m.3 2h0m.3-1.6h0m.1 1.1h0m.3-.1h0m.1-1.4h0m.2-.4h0m.5 .7h0m0-.2h0m.1 .6h0m.4 1.3h0m.1-1.2h0m.4-.1h0m.1 .9h0m.3-1.1h0m1.1 1.4h0m.3-.7h0m.3-.9h0m3.6-.2h0m2.3 1.9h0m4.5-.3h0m6.3-.8h0m.4-.2h0m.4-.7h0m.2 .3h0m.2 .9h0m.1-.1h0m.1-.4h0m.2 .7h0m.1 .3h0m0-.4h0m0-.6h0m.2 1h0m.2-.5h0m-48.3 2.2h0m.5 .2h0m.2 .2h0m.3 .2h0m.5-1.1h0m.5-.4h0m7.7 1.2h0m.4 .3h0m0 .6h0m.2-.4h0m.4 .8h0m.5-.1h0m.1-.7h0m.7 .2h0m1.6-.7h0m.3 .8h0m0-1.4h0m.2 0h0m.2 1.4h0m.1-1.4h0m.1 2.4h0m.3-2.1h0m.4 1.9h0m.1-1.5h0m.4-.4h0m1.3 .5h0m.2-1.3h0m0 1.1h0m.9 .5h0m0 1h0m.3-1.5h0m0 .9h0m0-.1h0m.5 .5h0m.2-.3h0m.1-.2h0m.4-.2h0m1.6 1h0m.6 .1h0m.7-2.6h0m.6 2.6h0m.1-2h0m.5 .2h0m.1 1.6h0m.1-.1h0m.1-2.3h0m.4 2.2h0m.1-2.2h0m.4-.1h0m0 1.7h0m.3-.8h0m.2 .7h0m.2 .1h0m0 .1h0m.4 .4h0m0-.6h0m.3 .2h0m.2 0h0m.2 .5h0m.1 .3h0m0-1.6h0m.4-.3h0m1.5 .9h0m0 .6h0m1-1.2h0m.2 1.8h0m.4-2.2h0m.4-.2h0m3.4 1.9h0m1.9-2.3h0m1 .6h0m.1 .2h0m1.7 1.4h0m.2-.6h0m.6-.7h0m0 1.1h0m.5 .3h0m.5 .2h0m6.3-.2h0m.1 .1h0m.2 .1h0m.2-1.8h0m.1 1.3h0m0 .4h0m.1-2.1h0m.4 1.5h0m-38 1.7h0m.6-.3h0m.3-.4h0m.2 1.7h0m1.8 .8h0m.2-.4h0m.2 .4h0m.2 .4h0m0-2h0m.3 1.2h0m.3 .1h0m.1-1.3h0m0 2.1h0m0-1.8h0m.6 .1h0m.1-1.2h0m0 1.7h0m.2-.9h0m.2 .1h0m.1-.6h0m.1 .8h0m.1-.7h0m.1 .4h0m.5 .1h0m.5 .1h0m.1-.8h0m.4 .9h0m.1-1.1h0m0 .4h0m.2-.5h0m.1 .2h0m.2 .4h0m.4-.4h0m0-.1h0m.2 1.6h0m.3-.3h0m0 1.4h0m.1-1.9h0m0-.1h0m.3 .1h0m1.3 0h0m.1 .4h0m0 1.2h0m.1-1.6h0m0 .8h0m.3-.2h0m.1-.8h0m.3 .2h0m.2 1h0m.3-.4h0m.7-1.2h0m.1 .8h0m.8-.8h0m0 2.7h0m0-2.4h0m0 .4h0m.3 .6h0m0-.8h0m.2 .5h0m0-.6h0m.1-.2h0m.4 .9h0m0 1h0m0-2.3h0m.1 2.5h0m.1-.6h0m.1 .9h0m.1-.4h0m.3-1.3h0m0 .5h0m.1 .9h0m0-.6h0m.3-.9h0m.1 1.8h0m0 0h0m1.2-.4h0m2.7-2.3h0m1-.1h0m.9 2.4h0m.2-.1h0m2-1.2h0m.1 .1h0m0-1.2h0m.9 1.9h0m.1 .3h0m2.4-.3h0m1-.1h0m.2 .1h0m0-1.9h0m.3 2.2h0m.1 .1h0m.1-.3h0m0-1.3h0m.1 .3h0m.1 .5h0m.2 1.1h0m0 0h0m.4 .1h0m5-.4h0m.7 0h0m.3 .3h0m.8-.5h0m.2-.5h0m.1 0h0m.1-1.5h0m.3 1.9h0m.1-.6h0m.6-1.3h0m.4 0h0m0 .4h0m-44 4.7h0m0-1h0m.2 .5h0m0 0h0m.1 .5h0m.1 .2h0m0-.9h0m.1 .2h0m.1-.5h0m.1 .2h0m0 1.3h0m0-1.5h0m0 .8h0m.1 .6h0m.1-.5h0m.1-.5h0m0 0h0m0 1.2h0m0-.5h0m.1-1h0m0 .5h0m.1-.1h0m0 0h0m0-.6h0m.2 .4h0m0 .7h0m.2-1h0m0 1.4h0m.1-.5h0m0-.4h0m.1-.6h0m0 .1h0m.1-.4h0m0 1.9h0m0-.3h0m.1-.6h0m.3 .9h0m0-1.7h0m0 .4h0m0 .5h0m0-.9h0m.1-.3h0m.1 1.3h0m.5 .1h0m.1 .6h0m.3-1h0m0 .3h0m.1 0h0m0-.3h0m.4 1.1h0m0-.9h0m.1 .3h0m.2 .1h0m.1-.4h0m.2-.1h0m0 .2h0m0-.1h0m.1 .7h0m.4 0h0m0-.4h0m.3 .3h0m.2 0h0m1 .3h0m.3-.6h0m.6-1.1h0m.1 1h0m.2-1.6h0m0 2h0m.1-1.6h0m.1-.3h0m.2-.7h0m0 2.3h0m.1 .7h0m.5-3h0m.1 0h0m.4 2.4h0m.1 .1h0m1 0h0m.3-.5h0m.8-.3h0m.2 .6h0m.3 .3h0m.1-.2h0m.1-.9h0m.2-.6h0m.5-.8h0m.1 2.9h0m.1-.9h0m0-1.7h0m.4 2.4h0m.2-1.1h0m0 .9h0m.1-1.2h0m.2 .8h0m.1-2.2h0m.3 1.6h0m0-.9h0m.1-.1h0m.1 .8h0m2.6-.5h0m.2-.2h0m0-.1h0m.4 2h0m.1 .4h0m0-2.3h0m.3 1.8h0m.1-1.9h0m.3 2.2h0m0-.6h0m.1 .1h0m.1-.2h0m0 .3h0m0 .4h0m.2-2.2h0m.1 1h0m.1-.3h0m0-1h0m0 1.3h0m.1-.8h0m.7 .1h0m.3-.8h0m.1 1.5h0m.5-.9h0m.1 .6h0m0-.9h0m.2 1h0m.1-.8h0m.1 1.5h0m0-.7h0m0 1.4h0m.2-1.2h0m0 .5h0m.3-1.4h0m.1 .9h0m0 .7h0m.4-.4h0m0 .4h0m.2-.4h0m.1-1.3h0m.2 1h0m.3-1.4h0m.3 2.4h0m.1-2.3h0m.7 2.6h0m0-.7h0m.1-1.1h0m.5 .2h0m.1-.6h0m2.1 2.1h0m1.8-1.7h0m.1 .4h0m.2 .1h0m.2-.6h0m.1 .1h0m.1 .1h0m.4-.4h0m5.9 1.1h0m.9-.4h0m.1-.4h0m.6 .2h0m.5-.4h0m.3 .9h0m0-.2h0m1.3-.2h0m.3-.4h0m.1 .6h0m.6-.6h0m-39.4 3.8h0m.2-.2h0m.1 .2h0m.1-1.2h0m0-.1h0m.2 .4h0m0 .3h0m.2-.3h0m0-.5h0m.1 .9h0m0-.5h0m0-.6h0m0 1h0m.2-.7h0m0 .9h0m.1 .4h0m.1-.2h0m0-.3h0m0 1.1h0m.2-1.5h0m.2 1.2h0m0 .8h0m.2-1.5h0m.1 .6h0m0 .7h0m.1-.8h0m.1 .7h0m0 .2h0m0-.7h0m.1 .3h0m.1-2.3h0m.1 1.6h0m.2-1h0m.6-.3h0m.1-.4h0m.1 .5h0m.1-.5h0m.3 .4h0m.4-.2h0m.3 0h0m0 0h0m.1 .2h0m.1-.3h0m0 .5h0m.1-.2h0m.1-.4h0m.2 .8h0m0 .7h0m0-1h0m.1 .2h0m.1 .6h0m0 .1h0m.1-.2h0m.1-.6h0m.3-.1h0m.3 .2h0m.5 0h0m.3-.2h0m0-.4h0m.1 0h0m.2 .2h0m.3-.3h0m.6 2.7h0m.3-.9h0m.1-.3h0m0 1.1h0m.2-.8h0m.1 .3h0m.1-.1h0m.3-.4h0m0 .6h0m.2-.5h0m.2-.8h0m.2 .8h0m.1 .8h0m0-1.8h0m0 .8h0m.3-.3h0m.4 1.5h0m.2-1.7h0m0-.8h0m0 2.2h0m.1-1.8h0m.3 .2h0m.1 0h0m0-.1h0m.3 1.7h0m.3-1.9h0m0 1.3h0m1.8 .8h0m.4-1.3h0m.4 .3h0m.9-.8h0m.4 1.9h0m.5-.9h0m.5-1.8h0m.3 1h0m0 .9h0m.1 .4h0m.7 .4h0m.3-2h0m0-.7h0m.4 .1h0m.9 2h0m0-1.5h0m.1 2.1h0m.4 0h0m.1-1.3h0m0-1.2h0m.2 .2h0m.1 .8h0m.4-.4h0m.1-.3h0m.5-.3h0m.6 .7h0m.2-.9h0m.1 2.9h0m.1-.5h0m.1-.6h0m.6-1.4h0m0-.2h0m.2 .7h0m0 1.9h0m.5-1.4h0m.1-.5h0m1.1 2h0m.4-.2h0m.9-2h0m1.5 1.1h0m.3 .7h0m.4-2.5h0m.4 1.6h0m.6-.6h0m.1 .3h0m-28.2 1.8h0m.5 0h0m.3 1.7h0m0-1.4h0m.1 1.4h0m.1-1.5h0m0 2.1h0m.1-.5h0m.1 .7h0m.1-.9h0m0-.1h0m.1 .5h0m0 .6h0m.1-1.8h0m0 1.1h0m.1-1.4h0m0 2.1h0m.1-1.6h0m0 1h0m0 0h0m0-.5h0m.1 .2h0m.1 1h0m.4-.1h0m4.7-2.2h0m3.4 .9h0m.1 .1h0m.5 0h0m.1-.1h0m.2-.2h0m.1-1.1h0m.4 1.6h0m.1-.4h0m.1 .9h0m.1-1.5h0m0 1.5h0m.1 .7h0m.1-2.7h0m0 1.7h0m1.1-.1h0m.3-.3h0m.1 .5h0m.3-1.5h0m.2 1.8h0m.7-1.2h0m.1 .5h0m.3-.5h0m0 .6h0m0 .3h0m.2 0h0m.1 .5h0m.5-.8h0m.1-.1h0m.4-.1h0m.3 .3h0m0 .2h0m.3-.4h0m.1 0h0m.8 .4h0m1 .3h0m.1 .3h0m.2-.2h0m.5 0h0m.1 .1h0m0-.1h0m.2 .3h0m.1 .1h0m.1-.6h0m.1-1.9h0m.1 1.9h0m.1-.4h0m0-1.6h0m.1 2.3h0m.1 .3h0m0-.6h0m0-1.1h0m0 1.9h0m.1-1.7h0m.2 1.4h0m.2 0h0m0-2.2h0m.1 2.1h0m.2 0h0m0-1.9h0m.3 .6h0m.2 .9h0m0-2.1h0m.1 .9h0m.4-.5h0m.2 1.2h0m.1-.4h0m.2 1.5h0m0-.3h0m.1 .2h0m.3-2.5h0m.1 2h0m0-.1h0m.1-.6h0m.4 .4h0m2.3-1.5h0m0-.3h0m.2 2.4h0m.2-.3h0m.5 .6h0m.2-.1h0m.5-1.5h0m.9-.2h0m-26.6 2.5h0m.1-.1h0m.1-.2h0m0 .9h0m.1-1h0m0 .8h0m.1-.4h0m.1-.2h0m.8-.2h0m5.7 1.3h0m.7 .2h0m.4-.9h0m0 .7h0m.1-.5h0m.2 .5h0m.6 .2h0m.2-1.3h0m.3 2h0m.3-1.3h0m.2 1.6h0m0-.8h0m.1-.4h0m0 .9h0m.2-1h0m.2 1.6h0m0-.2h0m.1-.3h0m.1-.4h0m.1 .9h0m.3-.1h0m.1-.2h0m1.6-.7h0m0 .4h0m.7 .3h0m.3-1.8h0m0-.3h0m.1-.4h0m.9 2.9h0m.3-.5h0m.1-.6h0m0 1h0m.1-1.3h0m.3 0h0m.2 1h0m.4-1.1h0m.7 .2h0m2.3-1.1h0m.4-.6h0m0 .1h0m.2 2.5h0m.1-2h0m.3-.5h0m.4 .8h0m.1 1h0m.2-1.8h0m0 1.1h0m.2 .7h0m.1 .2h0m.1-2h0m.3 .1h0m.5 .7h0m.6-.1h0m.1 .1h0m.2-.6h0m2.4-.2h0m-14.5 2.9h0m0 1h0m.6 .6h0m1.2 .2h0m.5-1.1h0m0 0h0m.2 .1h0m1-.4h0m1.1 2.1h0m.1 0h0m.1-1.5h0m.3 1.1h0m0-1.4h0m.1 .7h0m.1 .9h0m.1-1.1h0m.1 .7h0m.3 .7h0m.1-1.1h0m.2 .3h0m1 .6h0m.2-1.5h0m0-.3h0m.3 0h0m1 .7h0m.2-.4h0m.3 .3h0m.2 .2h0m0 .5h0m.1 .1h0m.1-.7h0m0 .2h0m.1 .3h0m.2-.8h0"/>
<rect x="393.4" y="482.8" width="51" height="51" fill="none" stroke="#2a2a2a" stroke-width="0.95"/>
<path d="M393.4 482.8h-1.4M393.4 533.8v1.4M393.4 495.6h-1.4M406.1 533.8v1.4M393.4 508.3h-1.4M418.9 533.8v1.4M393.4 521h-1.4M431.6 533.8v1.4M393.4 533.8h-1.4M444.4 533.8v1.4M393.4 482.8h-0.8M393.4 533.8v0.8M393.4 486h-0.8M396.6 533.8v0.8M393.4 489.2h-0.8M399.8 533.8v0.8M393.4 492.4h-0.8M403 533.8v0.8M393.4 495.6h-0.8M406.1 533.8v0.8M393.4 498.7h-0.8M409.3 533.8v0.8M393.4 501.9h-0.8M412.5 533.8v0.8M393.4 505.1h-0.8M415.7 533.8v0.8M393.4 508.3h-0.8M418.9 533.8v0.8M393.4 511.5h-0.8M422.1 533.8v0.8M393.4 514.7h-0.8M425.3 533.8v0.8M393.4 517.9h-0.8M428.5 533.8v0.8M393.4 521h-0.8M431.6 533.8v0.8M393.4 524.2h-0.8M434.8 533.8v0.8M393.4 527.4h-0.8M438 533.8v0.8M393.4 530.6h-0.8M441.2 533.8v0.8M393.4 533.8h-0.8M444.4 533.8v0.8" stroke="#222" stroke-width="0.5" fill="none"/>
<text x="391.6" y="484.6" font-size="4.9" font-weight="normal" text-anchor="end" fill="#333">60</text>
<text x="391.6" y="497.3" font-size="4.9" font-weight="normal" text-anchor="end" fill="#333">30</text>
<text x="391.6" y="510.1" font-size="4.9" font-weight="normal" text-anchor="end" fill="#333">0</text>
<text x="391.6" y="522.8" font-size="4.9" font-weight="normal" text-anchor="end" fill="#333">-30</text>
<text x="391.6" y="535.6" font-size="4.9" font-weight="normal" text-anchor="end" fill="#333">-60</text>
<text x="393.4" y="541.2" font-size="4.9" font-weight="normal" text-anchor="middle" fill="#333">-60</text>
<text x="406.1" y="541.2" font-size="4.9" font-weight="normal" text-anchor="middle" fill="#333">-30</text>
<text x="418.9" y="541.2" font-size="4.9" font-weight="normal" text-anchor="middle" fill="#333">0</text>
<text x="431.6" y="541.2" font-size="4.9" font-weight="normal" text-anchor="middle" fill="#333">30</text>
<text x="444.4" y="541.2" font-size="4.9" font-weight="normal" text-anchor="middle" fill="#333">60</text>
<text x="417.9" y="477.8" font-size="8.7" font-weight="bold" text-anchor="middle" >day 15</text>
<path stroke="#000" stroke-width="1.1" stroke-linecap="round" fill="none" d="M478.9 487.2h0m.2 0h0m.4 .6h0m2 .3h0m.1 .7h0m.4 .3h0m.8 .6h0m6 0h0m.1 .3h0m.8-.4h0m.9 0h0m.3 .1h0m.3-.1h0m-18.7 3.7h0m.1-.7h0m.2-1h0m0 1.6h0m.3-.4h0m.2 .2h0m8.3 .4h0m3.9 0h0m3.5-2.7h0m-12.2 5.6h0m.6 0h0m1.7-1h0m.9 .7h0m.6-.3h0m.9-.1h0m.2-1.6h0m.3 .6h0m.8 .2h0m.3-.6h0m.7 2.1h0m1.7-2.3h0m-18.3 3.1h0m10.7 2.2h0m0-.2h0m.4 .2h0m.3-.4h0m.3-.1h0m.2-1.1h0m.8 .6h0m.1 1h0m.4-.1h0m.7-1h0m1.6 1.2h0m.2-2.8h0m.1 .8h0m.4-.7h0m0 .6h0m.1-.7h0m.4-.1h0m8.3 1.5h0m1-.2h0m0-.5h0m-30.7 4.9h0m1.9-1.5h0m9.6 .7h0m.1 0h0m.7 .2h0m2.5-1.2h0m.9 1.6h0m.1 0h0m.2-1h0m.2 .7h0m.7-2.1h0m.9 .5h0m.2-.2h0m.3 .1h0m.7 1.9h0m.2-.9h0m.3-.5h0m0 .4h0m.6-1.2h0m1.4 1.1h0m0 .1h0m1.9-.4h0m.6 .4h0m.3 .5h0m.3 .4h0m2.4-.5h0m.1-.8h0m7.6 1.6h0m.2 0h0m0-.3h0m1.1 .6h0m-36.9 2.3h0m.8-2h0m.4 0h0m0 .4h0m0 0h0m13 .4h0m.1 0h0m.4 .7h0m.1 .4h0m.1-.1h0m.3-.8h0m0 .5h0m.1 1h0m.2-.4h0m.2-1h0m.2 .2h0m.2 1.2h0m.4-.4h0m.2-1.5h0m.2-.8h0m.3 .7h0m3.2 1.8h0m.4-.6h0m0 .4h0m.2-2.1h0m.1 2.1h0m5 .5h0m5.8-2h0m.7 .1h0m.5 .4h0m.2 1.6h0m2.3-2.9h0m1 .6h0m.1 .1h0m3.5 .7h0m1.1 1.2h0m.1-.5h0m.5-.1h0m-44.3 2.5h0m0 .6h0m.1-.4h0m.5 .3h0m.1-.7h0m.1 0h0m7.3 1.3h0m1.1-2h0m4 .5h0m.1 .3h0m4.9-.2h0m.8-.8h0m.6 .1h0m.2 0h0m2.7-.2h0m.4-.2h0m3.4 2.2h0m.2 .4h0m1.7-1.8h0m.1-.2h0m.7-.5h0m.3 .2h0m.8 .6h0m.1 .5h0m1 0h0m.6-.1h0m.2-.6h0m2.8 2h0m1.1-.5h0m.2-1.6h0m.1-.5h0m0 2.6h0m.3-1.5h0m.1-.2h0m0-.8h0m.3 2.6h0m.1-1.9h0m0-.2h0m.2 1.8h0m0-.7h0m.3-1.5h0m.2-.2h0m.2 .9h0m.3-.4h0m6.8-.1h0m-45.9 2.4h0m9.1 .2h0m.2 .1h0m.4 .5h0m1.2 1.6h0m11.1 0h0m.5-.6h0m.3 .4h0m.2 .1h0m.3 .1h0m0 .6h0m1.1-.6h0m.3 0h0m.1-1.2h0m.4 1.5h0m.2-1.3h0m.2-1.1h0m0 .7h0m.6-.2h0m1.1-.5h0m2.2 1.7h0m.1 .3h0m.3 .5h0m0-.6h0m2.5-.1h0m1.7 0h0m.5-1.6h0m0 2h0m.4 .3h0m0-.2h0m.1 0h0m1.2-2.6h0m.4 1.1h0m.2 .4h0m.1-.1h0m.2 .5h0m0-.3h0m0-.6h0m.1 .6h0m0-.3h0m0-.7h0m0 .9h0m.2 .1h0m0-.5h0m.3-.4h0m0-.6h0m.3 .2h0m.9 1.4h0m7.7 1.1h0m-37.6 2.8h0m.7-.2h0m.4-2.3h0m0 2h0m2.6-.1h0m.3 .7h0m.4 .2h0m.2-.4h0m.1-1h0m2.4 1.5h0m.7 0h0m1.5-.9h0m.2 0h0m.2 .1h0m.1 .1h0m.6-.1h0m0 0h0m.7-.9h0m.1-.3h0m0 1.2h0m.2-1.3h0m1.4-.3h0m.2-.2h0m.7 .2h0m.2 .7h0m.3-.8h0m.2-.3h0m.2 2.3h0m.6-.7h0m.1-1.1h0m.1 .6h0m.2 .5h0m.1-1.3h0m.1 .4h0m.1 2.1h0m.3 0h0m.1-.4h0m.4-.5h0m0 .2h0m.3 .7h0m.9 0h0m.5-.6h0m.2-.1h0m.3-2h0m.5 1.5h0m1.2 .9h0m.1-2.6h0m0 2.9h0m.6-.3h0m2.4-2.6h0m.1 0h0m.1 .8h0m2 2h0m.3-2.4h0m.8 1.8h0m.1-.3h0m.2 .9h0m.1-1.3h0m0-.2h0m0-.8h0m.3 .9h0m0 .1h0m.1-.8h0m0 1.6h0m.2-1.1h0m0-.4h0m.2-.8h0m.2 .4h0m.1 .7h0m0-.1h0m.2 1.8h0m.2-1.7h0m.1 1.3h0m0-1.9h0m.4 1.4h0m.2-.7h0m.1 .8h0m.3-.4h0m-36 2.8h0m.3-.1h0m.1 1.2h0m0 .4h0m.2-.1h0m0-1.6h0m.1 .8h0m0-.4h0m.2-.3h0m0 1h0m.2-.3h0m0 .3h0m0-1.1h0m0 1h0m0-.1h0m.1-.1h0m0 .2h0m0 .5h0m0-.4h0m.2-.1h0m0-.5h0m0-.5h0m0 .4h0m.2 1.1h0m0 0h0m.1-1.4h0m0 .2h0m0 1.2h0m.1-.3h0m0 .1h0m.1-.5h0m0 .7h0m0-.3h0m.1-.2h0m0-.7h0m.1 1.4h0m.1-1.1h0m.3 .6h0m0-1.3h0m0 1.1h0m.1 .1h0m.2 .4h0m0-.2h0m.1-.1h0m0 .2h0m.1 .3h0m.5-.5h0m.1-.8h0m.1 .6h0m.1 .2h0m.1-.3h0m0 .6h0m.1 0h0m.1-.3h0m.2-.3h0m0-.3h0m.3 1h0m.3-.8h0m.1 .6h0m.4-.1h0m.4-.3h0m.4 .7h0m.2 0h0m.3-.6h0m.3 0h0m1.9-.9h0m.6-1h0m.2-.5h0m.4 0h0m3.2 .7h0m.7 2.3h0m.4-2.3h0m.5 .7h0m.1-.1h0m0 1.6h0m.1-1.3h0m.2 .5h0m.1-.3h0m.4-.3h0m.2-.1h0m.7 1.4h0m0-.8h0m.4 .8h0m.4 .1h0m.2-.7h0m0 .5h0m.1-.5h0m.5 .8h0m.4-1h0m.5-.7h0m0 .2h0m.2-.1h0m.3 .3h0m.2-.4h0m.4-1h0m.1 .1h0m.1 0h0m.1 .5h0m.1-.4h0m.2 1h0m0-1.3h0m.1 .5h0m0-.3h0m.2 1.6h0m0-1.4h0m0 1.6h0m.1-.9h0m.1 .1h0m0-.4h0m.3 .7h0m.1-1.4h0m0 1.8h0m.2 .2h0m.1-.5h0m.7 0h0m.3-.4h0m.1 .9h0m.9-1.2h0m0 .9h0m.1 .7h0m.5 0h0m.1-2.4h0m.1 2.4h0m.1-1h0m.1-1.3h0m.1-.2h0m.1 1.1h0m0 .8h0m0-.2h0m.1-.4h0m0-1.1h0m0 .1h0m.1 .1h0m.2 1.5h0m0-1.2h0m0 .1h0m.1 .8h0m0-.6h0m.1 .6h0m.1 1.1h0m.1-.4h0m.2-1.5h0m0 1.2h0m0-1.1h0m.3 .5h0m.3 1.1h0m.4-.3h0m.1-.8h0m.1-.5h0m.1-1h0m.2 1.9h0m.1 .5h0m0-1.9h0m0 .7h0m.3 .5h0m.1-1h0m0 .5h0m.1 .8h0m0-.9h0m.2 .1h0m0 1.5h0m.3-1.4h0m.1-.5h0m0 .4h0m.4 .4h0m0 .6h0m0-.9h0m.3-.4h0m0-.4h0m0-.1h0m.1 1.3h0m0-.7h0m0-.8h0m.1 1h0m.2 1h0m0-1.1h0m.1 1.4h0m.1-2.4h0m.1 2.5h0m.2-2.7h0m.5 2.8h0m0-.2h0m.2-2.5h0m0 2.1h0m0 .5h0m.1 0h0m.6 0h0m.3-.5h0m.1 .4h0m.3-1.4h0m.7-.4h0m.3 .4h0m0-1.1h0m1.1 .6h0m.4-.4h0m0 .7h0m.1 .3h0m1.4 .5h0m-35.6 1.7h0m.3 .1h0m.2-.5h0m.2 .3h0m.1 1.8h0m.3 0h0m.4-.4h0m.8 1.1h0m.4-2.5h0m.4-.2h0m.7 1.2h0m.1-1.1h0m.1-.1h0m.3 .5h0m0-.3h0m.1-.2h0m.1 .2h0m0 .4h0m.1 .1h0m.1-.6h0m0 .6h0m.1-.8h0m0 .3h0m.2-.1h0m0 .2h0m0 .4h0m0-.2h0m.1-.1h0m0 .5h0m.2-.2h0m.1-.2h0m0 .4h0m.2-1.1h0m.1 1.3h0m.1-.2h0m.1-.9h0m0 .1h0m0 1.4h0m.1-.2h0m.1-.5h0m0-.1h0m0 .7h0m.3 0h0m.2-1.3h0m3.6 2.3h0m0 .1h0m.4-1h0m.5-.5h0m.1 1.1h0m.8-1.3h0m0 .8h0m.3-.7h0m.2 .4h0m0-.6h0m.3-.3h0m.1 1.4h0m.2-.5h0m.2-.8h0m.1 2.2h0m.1-1h0m.1 .3h0m0-1h0m0-.3h0m.2-.8h0m.1 2.5h0m0 .1h0m0 .3h0m.5-.2h0m.5-.8h0m0-.6h0m.3-.6h0m.2-.2h0m.2 1.1h0m.1-.2h0m.2-1.4h0m.8 2.8h0m0-2h0m0 1.6h0m.2-1.5h0m.2-.9h0m0 .7h0m.6 1.7h0m0-2.1h0m.2 2.5h0m.8-.2h0m.5-1h0m.3 .3h0m.1 1h0m0-.4h0m0-.6h0m.1 .6h0m.3 0h0m0 .2h0m.1-.8h0m0-1h0m0 1.2h0m.1 .7h0m.1-1.9h0m0 1.9h0m.2-1.9h0m0 .2h0m.1 1h0m.3 .5h0m0-2.5h0m0 1.7h0m.2-.8h0m.1 .1h0m0-.9h0m0 1.7h0m0-1.6h0m0 1h0m.1 1h0m0-2.3h0m.1 .1h0m.1 2h0m.1-.5h0m0 1.2h0m0-1h0m.2-1.1h0m0 2.1h0m.1-2.5h0m0 2h0m.1-2.3h0m.2 .3h0m0 .5h0m.1-.2h0m0 .2h0m.2 1.5h0m.1-.6h0m.1 .4h0m.2-1.6h0m.1 1h0m0 0h0m.1-1.3h0m0 .4h0m0 2h0m0-2.2h0m.1 2.4h0m.2-1.2h0m0-1.5h0m.2 .4h0m.1 1.6h0m.1-1.8h0m.1 2h0m0-.6h0m.1 1h0m0-1.2h0m.1-.2h0m0-1.1h0m0 1.2h0m.1-.2h0m.1 1h0m.5-.8h0m0-.7h0m0-.4h0m.1 1.4h0m.1-1.5h0m.3 0h0m.1 1.4h0m0 .9h0m.4-.7h0m0-1h0m0 .6h0m.3 .7h0m.1-.5h0m.5-1.4h0m.1 1h0m.2 .2h0m.2-1.1h0m.2 1.4h0m.1 .7h0m.1-2.2h0m0-.2h0m0 2.7h0m.2-1h0m.3-1.7h0m.2 .3h0m.3 .2h0m.1-.6h0m.2 1.2h0m.1-.3h0m.1 .1h0m0 .5h0m.1-1.2h0m.1 1.1h0m.1 1.6h0m0-2.9h0m.1 .5h0m0 .4h0m.1-.7h0m.1 .4h0m.4 2.1h0m.1-.6h0m.4 .5h0m0-2h0m.1 2.2h0m.3-2.6h0m.1 2.5h0m1.5-2.4h0m.2-.3h0m-31.4 3.7h0m.1-.1h0m.4 1.3h0m0-.8h0m.1-.3h0m.2 .4h0m.1 0h0m.3 .1h0m0 .6h0m0-.3h0m.1 0h0m.1-.8h0m0 .6h0m.1 0h0m0 .4h0m.1-.3h0m.1 .8h0m.1-.2h0m.3 .2h0m0 0h0m.1 .3h0m.4-.3h0m.2-.2h0m0 .2h0m.2 .5h0m0-1.2h0m3.7 .2h0m1.2 0h0m0-.1h0m.1 .1h0m.8-1.4h0m1.6 .1h0m.4 2h0m0-2.1h0m.5-.2h0m.1 1h0m.2 .2h0m0 .4h0m.1-.9h0m.1 .7h0m.1-.3h0m.2 .2h0m.2 .1h0m.3-.6h0m.1-.6h0m.1 2.1h0m.1-2.5h0m.4 1.2h0m.1-.2h0m.1 .3h0m.1-.9h0m0-.2h0m.7 1.6h0m.4 0h0m.4-.1h0m.1 1h0m.8-1.2h0m.1-1h0m.3 .8h0m.1-.9h0m0 .8h0m.1-1.1h0m0 1h0m.2 .6h0m.1-.2h0m0 .7h0m.6-.4h0m0-.3h0m.1-.4h0m.1 .8h0m.3 .1h0m.5-.3h0m.1-.3h0m.1-.1h0m.1-.9h0m.1 .7h0m0 1.1h0m.1-2.1h0m0 2h0m0-1.7h0m.1-.4h0m.1 .6h0m.1 .7h0m0-1h0m.1 2h0m.1-1.1h0m0 .1h0m.2 .2h0m.1-1.2h0m0 1.6h0m.1-1.2h0m.2 .7h0m.2 1h0m.3-2.1h0m.7 .3h0m.2-.3h0m.2-.2h0m.1 2.6h0m.4-.2h0m.6 .4h0m.3-2.5h0m.6 1.2h0m.1-.8h0m.1 .2h0m.3-.1h0m.3 1.6h0m0-1.1h0m.1-1.3h0m.1 2.6h0m0-.4h0m.5-2.1h0m0 0h0m.1 .1h0m.2-.3h0m.1 .6h0m0 .7h0m.2-1h0m.1 .6h0m.2-.3h0m0 .7h0m.1-1.2h0m0 .1h0m0 .2h0m0 .1h0m1 0h0m.3 1.6h0m.5-1.4h0m.8-.7h0m.2 .3h0m1.2-.4h0m-28.3 3.1h0m.3 0h0m.4 .4h0m7.4 .6h0m0 .2h0m.4-.4h0m.2-.8h0m0 .4h0m.2 .6h0m1.9-.1h0m.8-1h0m.5 2.3h0m.1-.5h0m.2-.2h0m.2 .1h0m.1-.7h0m.2-.9h0m.2 .9h0m.1 1.3h0m0-.8h0m.5 .5h0m.5 1h0m1.4-1.8h0m.1-.5h0m1.4 .1h0m.3-.4h0m.5 .5h0m.1 1.9h0m0-1.5h0m.3 .4h0m.1-.6h0m.3 .4h0m.3-.1h0m.3-.2h0m.5 0h0m.2 0h0m.2-.1h0m.1-.9h0m.2 1h0m0-.3h0m.1-.3h0m0 .5h0m.1 1.5h0m.1-2.2h0m.2 .7h0m.3 .2h0m.3 0h0m.2 1.5h0m.1-2h0m0 1h0m.2-1.1h0m.3 2.1h0m.2-2.2h0m.1 2h0m.2-2.5h0m.1 1.7h0m.8 .1h0m.1-.1h0m.1 .3h0m.6-.3h0m0 .7h0m0-1.7h0m.1-.2h0m0 .6h0m.1-.4h0m0 1.2h0m0 .2h0m.1-1.6h0m.2 .6h0m.8 .3h0m0-.4h0m-14.1 2.5h0m.8-.1h0m.8 .7h0m.1-.1h0m.1-1h0m.6 .2h0m.5 1.2h0m.2 .1h0m.3 .5h0m.3-.8h0m0-1.1h0m.2 .3h0m0 .7h0m.2-.9h0m.1 1.5h0m.1-.6h0m.2-.9h0m.2 .7h0m.1-.4h0m.2 .9h0m0-.1h0m.2-1.3h0m.2 .3h0m.3-.2h0m.6 .8h0m.4 1.7h0m.1-1.7h0m.1-.9h0m0 .6h0m.5-.3h0m0 2.4h0m.1 0h0m.3-2.4h0m1.4-.1h0m.3 1.3h0m0 .3h0m.4-1h0m.1-.7h0m.3-.1h0m.5 .6h0"/>
<rect x="456.3" y="482.8" width="51" height="51" fill="none" stroke="#2a2a2a" stroke-width="0.95"/>
<path d="M456.3 482.8h-1.4M456.3 533.8v1.4M456.3 495.6h-1.4M469.1 533.8v1.4M456.3 508.3h-1.4M481.8 533.8v1.4M456.3 521h-1.4M494.6 533.8v1.4M456.3 533.8h-1.4M507.3 533.8v1.4M456.3 482.8h-0.8M456.3 533.8v0.8M456.3 486h-0.8M459.5 533.8v0.8M456.3 489.2h-0.8M462.7 533.8v0.8M456.3 492.4h-0.8M465.9 533.8v0.8M456.3 495.6h-0.8M469.1 533.8v0.8M456.3 498.7h-0.8M472.2 533.8v0.8M456.3 501.9h-0.8M475.4 533.8v0.8M456.3 505.1h-0.8M478.6 533.8v0.8M456.3 508.3h-0.8M481.8 533.8v0.8M456.3 511.5h-0.8M485 533.8v0.8M456.3 514.7h-0.8M488.2 533.8v0.8M456.3 517.9h-0.8M491.4 533.8v0.8M456.3 521h-0.8M494.6 533.8v0.8M456.3 524.2h-0.8M497.7 533.8v0.8M456.3 527.4h-0.8M500.9 533.8v0.8M456.3 530.6h-0.8M504.1 533.8v0.8M456.3 533.8h-0.8M507.3 533.8v0.8" stroke="#222" stroke-width="0.5" fill="none"/>
<text x="454.5" y="484.6" font-size="4.9" font-weight="normal" text-anchor="end" fill="#333">60</text>
<text x="454.5" y="497.3" font-size="4.9" font-weight="normal" text-anchor="end" fill="#333">30</text>
<text x="454.5" y="510.1" font-size="4.9" font-weight="normal" text-anchor="end" fill="#333">0</text>
<text x="454.5" y="522.8" font-size="4.9" font-weight="normal" text-anchor="end" fill="#333">-30</text>
<text x="454.5" y="535.6" font-size="4.9" font-weight="normal" text-anchor="end" fill="#333">-60</text>
<text x="456.3" y="541.2" font-size="4.9" font-weight="normal" text-anchor="middle" fill="#333">-60</text>
<text x="469.1" y="541.2" font-size="4.9" font-weight="normal" text-anchor="middle" fill="#333">-30</text>
<text x="481.8" y="541.2" font-size="4.9" font-weight="normal" text-anchor="middle" fill="#333">0</text>
<text x="494.6" y="541.2" font-size="4.9" font-weight="normal" text-anchor="middle" fill="#333">30</text>
<text x="507.3" y="541.2" font-size="4.9" font-weight="normal" text-anchor="middle" fill="#333">60</text>
<text x="480.8" y="477.8" font-size="8.7" font-weight="bold" text-anchor="middle" >day 30</text>
<rect x="0.5" y="0.5" width="519" height="549" fill="none" stroke="#000" stroke-width="1.2"/>
</svg></body></html>
